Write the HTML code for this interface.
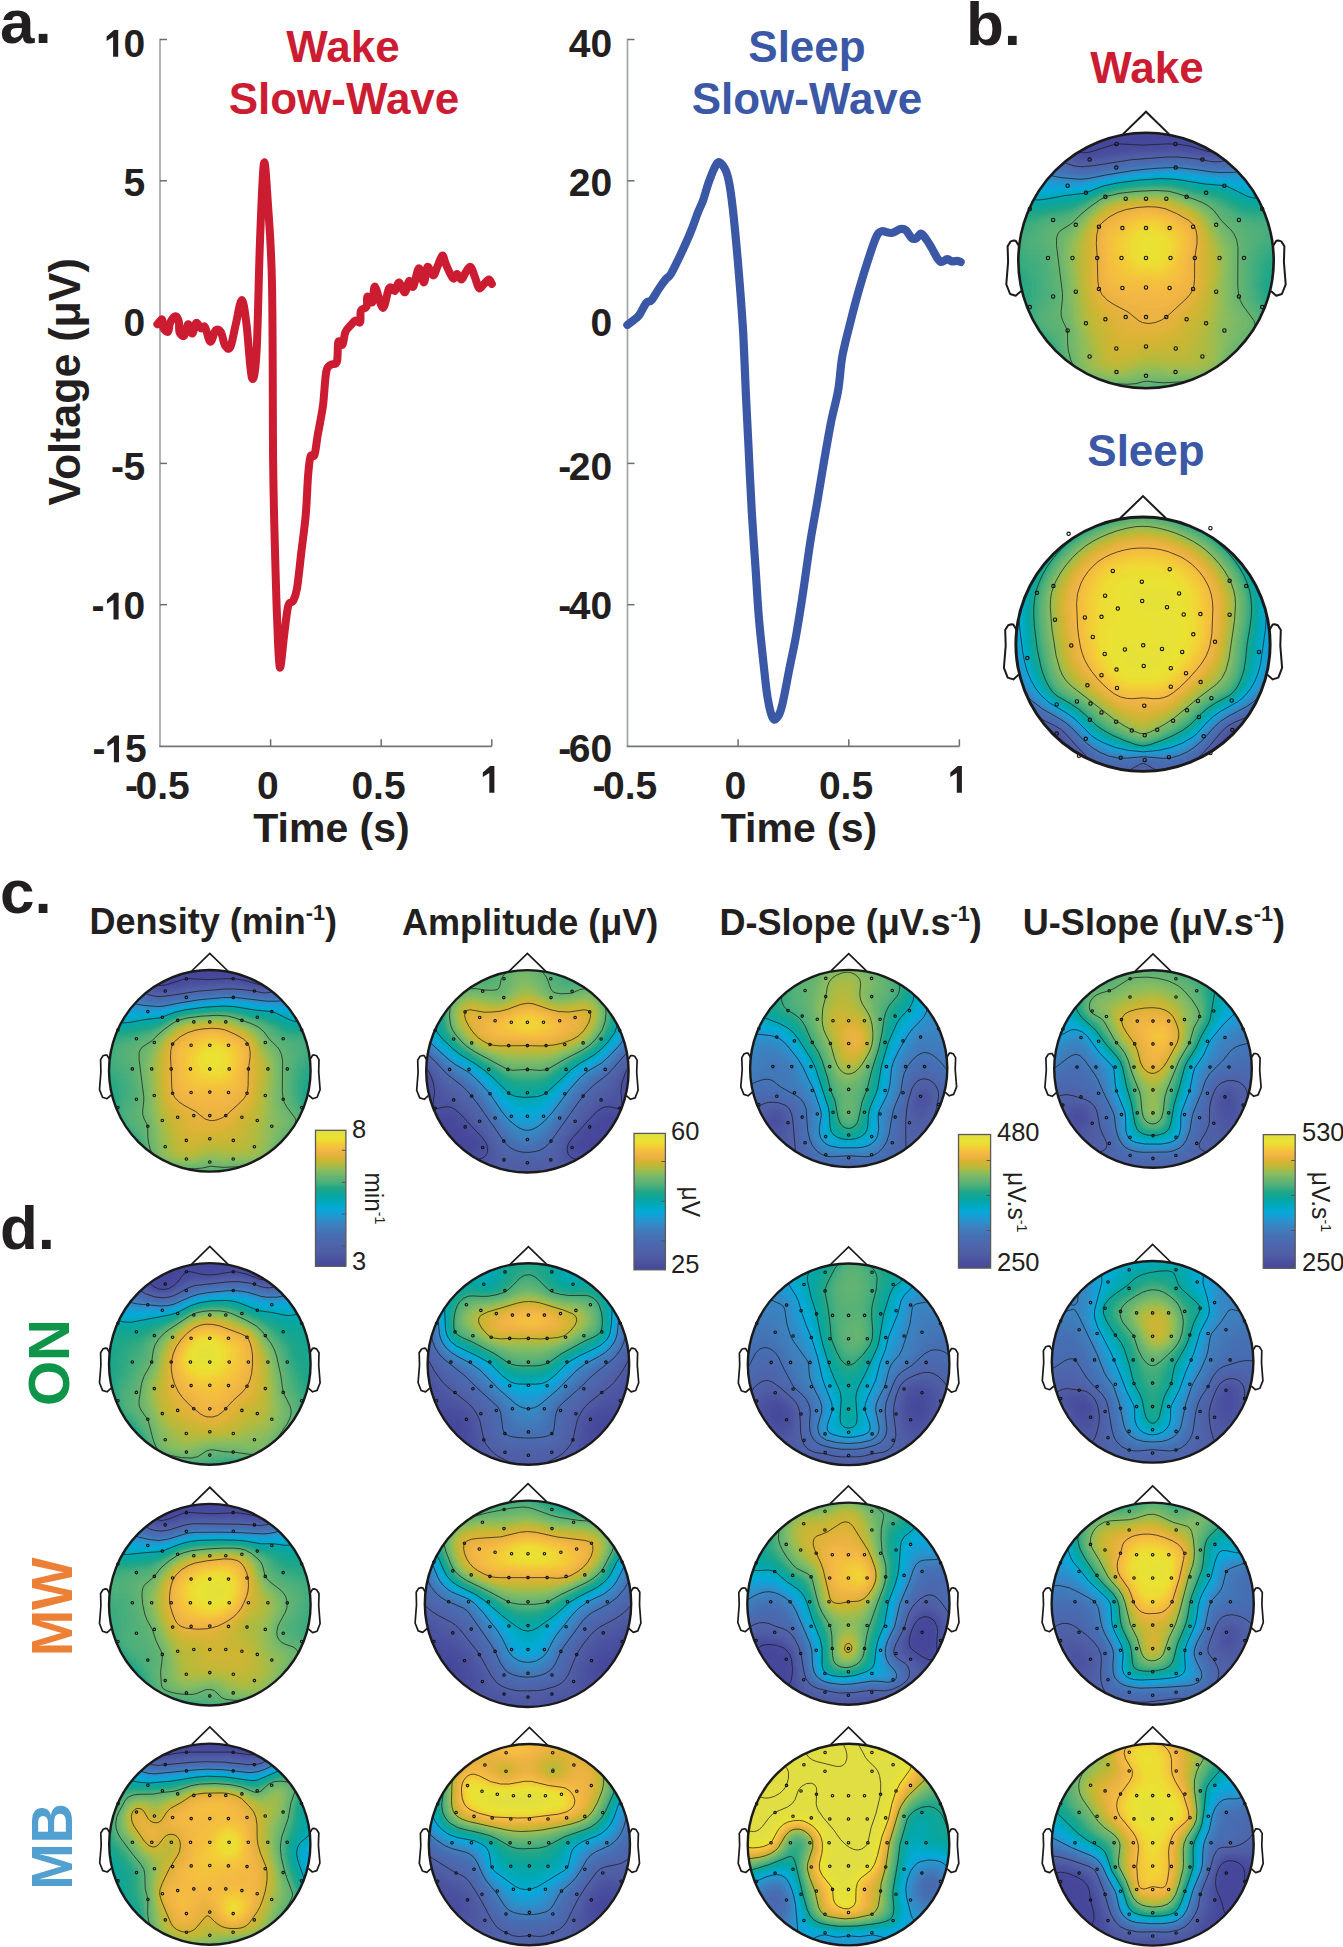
<!DOCTYPE html>
<html><head><meta charset="utf-8"><style>html,body{margin:0;padding:0;background:#fff;}svg{display:block;}text{font-family:"Liberation Sans",sans-serif;}</style></head>
<body><svg xmlns="http://www.w3.org/2000/svg" width="1343" height="1947" viewBox="0 0 1343 1947">
<defs><filter id="cm" x="-20%" y="-20%" width="140%" height="140%" color-interpolation-filters="sRGB">
<feGaussianBlur stdDeviation="4.2"/>
<feComponentTransfer><feFuncR type="table" tableValues="0.275 0.284 0.294 0.304 0.314 0.311 0.308 0.304 0.292 0.281 0.269 0.256 0.243 0.207 0.171 0.123 0.065 0.018 0.008 0.003 0.019 0.040 0.083 0.137 0.235 0.325 0.384 0.446 0.520 0.608 0.706 0.784 0.855 0.914 0.952 0.960 0.956 0.935 0.914 0.896 0.878"/><feFuncG type="table" tableValues="0.282 0.302 0.322 0.343 0.365 0.377 0.390 0.403 0.417 0.431 0.450 0.476 0.502 0.535 0.567 0.602 0.638 0.667 0.667 0.665 0.657 0.651 0.651 0.655 0.675 0.693 0.704 0.718 0.737 0.739 0.729 0.715 0.704 0.700 0.714 0.753 0.800 0.859 0.890 0.880 0.871"/><feFuncB type="table" tableValues="0.608 0.618 0.627 0.637 0.647 0.657 0.667 0.677 0.688 0.699 0.712 0.729 0.745 0.771 0.797 0.822 0.844 0.851 0.792 0.733 0.675 0.618 0.569 0.524 0.499 0.474 0.450 0.424 0.387 0.321 0.235 0.206 0.207 0.254 0.271 0.244 0.220 0.200 0.201 0.234 0.267"/><feFuncA type="identity"/></feComponentTransfer>
</filter>
<filter id="cm0" color-interpolation-filters="sRGB">
<feComponentTransfer><feFuncR type="table" tableValues="0.275 0.284 0.294 0.304 0.314 0.311 0.308 0.304 0.292 0.281 0.269 0.256 0.243 0.207 0.171 0.123 0.065 0.018 0.008 0.003 0.019 0.040 0.083 0.137 0.235 0.325 0.384 0.446 0.520 0.608 0.706 0.784 0.855 0.914 0.952 0.960 0.956 0.935 0.914 0.896 0.878"/><feFuncG type="table" tableValues="0.282 0.302 0.322 0.343 0.365 0.377 0.390 0.403 0.417 0.431 0.450 0.476 0.502 0.535 0.567 0.602 0.638 0.667 0.667 0.665 0.657 0.651 0.651 0.655 0.675 0.693 0.704 0.718 0.737 0.739 0.729 0.715 0.704 0.700 0.714 0.753 0.800 0.859 0.890 0.880 0.871"/><feFuncB type="table" tableValues="0.608 0.618 0.627 0.637 0.647 0.657 0.667 0.677 0.688 0.699 0.712 0.729 0.745 0.771 0.797 0.822 0.844 0.851 0.792 0.733 0.675 0.618 0.569 0.524 0.499 0.474 0.450 0.424 0.387 0.321 0.235 0.206 0.207 0.254 0.271 0.244 0.220 0.200 0.201 0.234 0.267"/></feComponentTransfer>
</filter><clipPath id="c1"><circle cx="1146" cy="260.5" r="127.70"/></clipPath><g id="e0"><circle cx="-29.5" cy="-116.5" r="1.7"/><circle cx="29.5" cy="-116.5" r="1.7"/><circle cx="-56.4" cy="-100.9" r="1.7"/><circle cx="-29.7" cy="-92.9" r="1.7"/><circle cx="29.7" cy="-92.9" r="1.7"/><circle cx="56.4" cy="-100.9" r="1.7"/><circle cx="-78.4" cy="-74.8" r="1.7"/><circle cx="-60.1" cy="-67.7" r="1.7"/><circle cx="-40.6" cy="-63.7" r="1.7"/><circle cx="-20.3" cy="-61.8" r="1.7"/><circle cx="0.0" cy="-61.8" r="1.7"/><circle cx="20.3" cy="-61.8" r="1.7"/><circle cx="40.6" cy="-63.7" r="1.7"/><circle cx="60.1" cy="-67.7" r="1.7"/><circle cx="78.4" cy="-74.8" r="1.7"/><circle cx="-116.2" cy="-51.5" r="1.7"/><circle cx="-92.9" cy="-40.6" r="1.7"/><circle cx="-70.2" cy="-35.7" r="1.7"/><circle cx="-47.1" cy="-33.8" r="1.7"/><circle cx="-23.6" cy="-32.4" r="1.7"/><circle cx="0.0" cy="-32.4" r="1.7"/><circle cx="23.6" cy="-32.4" r="1.7"/><circle cx="47.1" cy="-33.8" r="1.7"/><circle cx="70.2" cy="-35.7" r="1.7"/><circle cx="92.9" cy="-40.6" r="1.7"/><circle cx="116.2" cy="-51.5" r="1.7"/><circle cx="-98.0" cy="-2.5" r="1.7"/><circle cx="-73.5" cy="-2.5" r="1.7"/><circle cx="-48.8" cy="-2.5" r="1.7"/><circle cx="-24.5" cy="-2.5" r="1.7"/><circle cx="0.0" cy="-2.5" r="1.7"/><circle cx="24.5" cy="-2.5" r="1.7"/><circle cx="48.8" cy="-2.5" r="1.7"/><circle cx="73.5" cy="-2.5" r="1.7"/><circle cx="98.0" cy="-2.5" r="1.7"/><circle cx="-116.2" cy="46.6" r="1.7"/><circle cx="-92.9" cy="36.0" r="1.7"/><circle cx="-70.2" cy="31.2" r="1.7"/><circle cx="-47.1" cy="28.4" r="1.7"/><circle cx="-23.6" cy="27.5" r="1.7"/><circle cx="0.0" cy="27.0" r="1.7"/><circle cx="23.6" cy="27.5" r="1.7"/><circle cx="47.1" cy="28.4" r="1.7"/><circle cx="70.2" cy="31.2" r="1.7"/><circle cx="92.9" cy="36.0" r="1.7"/><circle cx="116.2" cy="46.6" r="1.7"/><circle cx="-78.4" cy="70.0" r="1.7"/><circle cx="-60.1" cy="62.8" r="1.7"/><circle cx="-40.6" cy="58.8" r="1.7"/><circle cx="-20.3" cy="56.6" r="1.7"/><circle cx="0.0" cy="56.6" r="1.7"/><circle cx="20.3" cy="56.6" r="1.7"/><circle cx="40.6" cy="58.8" r="1.7"/><circle cx="60.1" cy="62.8" r="1.7"/><circle cx="78.4" cy="70.0" r="1.7"/><circle cx="-56.4" cy="96.0" r="1.7"/><circle cx="-29.7" cy="88.0" r="1.7"/><circle cx="0.0" cy="85.9" r="1.7"/><circle cx="29.7" cy="88.0" r="1.7"/><circle cx="56.4" cy="96.0" r="1.7"/><circle cx="-29.5" cy="111.6" r="1.7"/><circle cx="0.0" cy="115.3" r="1.7"/><circle cx="29.5" cy="111.6" r="1.7"/></g><clipPath id="c2"><circle cx="1143.0" cy="644.2" r="127.15"/></clipPath><g id="e1"><circle cx="-74.4" cy="-110.4" r="1.7"/><circle cx="67.4" cy="-116.0" r="1.7"/><circle cx="-30.2" cy="-73.3" r="1.7"/><circle cx="26.7" cy="-75.0" r="1.7"/><circle cx="-1.2" cy="-62.5" r="1.7"/><circle cx="86.6" cy="-63.5" r="1.7"/><circle cx="103.2" cy="-58.1" r="1.7"/><circle cx="-89.6" cy="-58.1" r="1.7"/><circle cx="-106.1" cy="-51.4" r="1.7"/><circle cx="-37.9" cy="-48.5" r="1.7"/><circle cx="36.1" cy="-50.8" r="1.7"/><circle cx="-0.8" cy="-43.3" r="1.7"/><circle cx="-25.2" cy="-35.6" r="1.7"/><circle cx="24.0" cy="-37.0" r="1.7"/><circle cx="-58.1" cy="-26.8" r="1.7"/><circle cx="-41.5" cy="-27.4" r="1.7"/><circle cx="40.7" cy="-29.7" r="1.7"/><circle cx="57.4" cy="-30.1" r="1.7"/><circle cx="86.6" cy="-29.5" r="1.7"/><circle cx="-88.0" cy="-24.5" r="1.7"/><circle cx="-50.2" cy="-7.2" r="1.7"/><circle cx="50.3" cy="-9.9" r="1.7"/><circle cx="72.0" cy="-2.4" r="1.7"/><circle cx="-71.7" cy="1.3" r="1.7"/><circle cx="0.2" cy="1.1" r="1.7"/><circle cx="-18.1" cy="5.3" r="1.7"/><circle cx="19.0" cy="4.7" r="1.7"/><circle cx="-115.7" cy="13.9" r="1.7"/><circle cx="-38.3" cy="9.8" r="1.7"/><circle cx="39.2" cy="7.7" r="1.7"/><circle cx="116.0" cy="7.7" r="1.7"/><circle cx="0.7" cy="21.7" r="1.7"/><circle cx="-26.5" cy="25.4" r="1.7"/><circle cx="27.8" cy="24.0" r="1.7"/><circle cx="-41.5" cy="31.0" r="1.7"/><circle cx="43.0" cy="29.0" r="1.7"/><circle cx="-55.6" cy="41.1" r="1.7"/><circle cx="-26.0" cy="43.8" r="1.7"/><circle cx="27.8" cy="42.5" r="1.7"/><circle cx="57.6" cy="37.9" r="1.7"/><circle cx="-66.1" cy="57.3" r="1.7"/><circle cx="-52.5" cy="59.4" r="1.7"/><circle cx="-86.3" cy="60.2" r="1.7"/><circle cx="1.3" cy="61.5" r="1.7"/><circle cx="54.9" cy="56.7" r="1.7"/><circle cx="68.4" cy="54.0" r="1.7"/><circle cx="88.7" cy="56.3" r="1.7"/><circle cx="-41.5" cy="68.2" r="1.7"/><circle cx="44.0" cy="66.1" r="1.7"/><circle cx="-53.1" cy="75.5" r="1.7"/><circle cx="-26.9" cy="77.5" r="1.7"/><circle cx="30.1" cy="76.5" r="1.7"/><circle cx="55.9" cy="72.8" r="1.7"/><circle cx="-11.2" cy="86.3" r="1.7"/><circle cx="1.7" cy="91.1" r="1.7"/><circle cx="14.2" cy="85.5" r="1.7"/><circle cx="-86.3" cy="89.4" r="1.7"/><circle cx="-57.3" cy="94.6" r="1.7"/><circle cx="60.7" cy="92.1" r="1.7"/><circle cx="89.3" cy="85.9" r="1.7"/><circle cx="-22.3" cy="113.6" r="1.7"/><circle cx="1.7" cy="115.7" r="1.7"/><circle cx="25.9" cy="113.0" r="1.7"/><circle cx="-64.0" cy="111.5" r="1.7"/><circle cx="67.4" cy="108.8" r="1.7"/></g><linearGradient id="cbg" x1="0" y1="1" x2="0" y2="0"><stop offset="0" stop-color="#000"/><stop offset="1" stop-color="#fff"/></linearGradient><clipPath id="c3"><circle cx="209.8" cy="1070.8" r="100.80"/></clipPath><g id="e2"><circle cx="-23.4" cy="-92.1" r="1.25"/><circle cx="23.4" cy="-92.1" r="1.25"/><circle cx="-44.6" cy="-79.8" r="1.25"/><circle cx="-23.5" cy="-73.4" r="1.25"/><circle cx="23.5" cy="-73.4" r="1.25"/><circle cx="44.6" cy="-79.8" r="1.25"/><circle cx="-62.0" cy="-59.2" r="1.25"/><circle cx="-47.5" cy="-53.6" r="1.25"/><circle cx="-32.1" cy="-50.4" r="1.25"/><circle cx="-16.0" cy="-48.9" r="1.25"/><circle cx="0.0" cy="-48.9" r="1.25"/><circle cx="16.0" cy="-48.9" r="1.25"/><circle cx="32.1" cy="-50.4" r="1.25"/><circle cx="47.5" cy="-53.6" r="1.25"/><circle cx="62.0" cy="-59.2" r="1.25"/><circle cx="-91.9" cy="-40.7" r="1.25"/><circle cx="-73.4" cy="-32.1" r="1.25"/><circle cx="-55.5" cy="-28.3" r="1.25"/><circle cx="-37.2" cy="-26.7" r="1.25"/><circle cx="-18.7" cy="-25.6" r="1.25"/><circle cx="0.0" cy="-25.6" r="1.25"/><circle cx="18.7" cy="-25.6" r="1.25"/><circle cx="37.2" cy="-26.7" r="1.25"/><circle cx="55.5" cy="-28.3" r="1.25"/><circle cx="73.4" cy="-32.1" r="1.25"/><circle cx="91.9" cy="-40.7" r="1.25"/><circle cx="-77.5" cy="-1.9" r="1.25"/><circle cx="-58.1" cy="-1.9" r="1.25"/><circle cx="-38.6" cy="-1.9" r="1.25"/><circle cx="-19.4" cy="-1.9" r="1.25"/><circle cx="0.0" cy="-1.9" r="1.25"/><circle cx="19.4" cy="-1.9" r="1.25"/><circle cx="38.6" cy="-1.9" r="1.25"/><circle cx="58.1" cy="-1.9" r="1.25"/><circle cx="77.5" cy="-1.9" r="1.25"/><circle cx="-91.9" cy="36.8" r="1.25"/><circle cx="-73.4" cy="28.5" r="1.25"/><circle cx="-55.5" cy="24.7" r="1.25"/><circle cx="-37.2" cy="22.4" r="1.25"/><circle cx="-18.7" cy="21.7" r="1.25"/><circle cx="0.0" cy="21.3" r="1.25"/><circle cx="18.7" cy="21.7" r="1.25"/><circle cx="37.2" cy="22.4" r="1.25"/><circle cx="55.5" cy="24.7" r="1.25"/><circle cx="73.4" cy="28.5" r="1.25"/><circle cx="91.9" cy="36.8" r="1.25"/><circle cx="-62.0" cy="55.4" r="1.25"/><circle cx="-47.5" cy="49.7" r="1.25"/><circle cx="-32.1" cy="46.5" r="1.25"/><circle cx="-16.0" cy="44.8" r="1.25"/><circle cx="0.0" cy="44.8" r="1.25"/><circle cx="16.0" cy="44.8" r="1.25"/><circle cx="32.1" cy="46.5" r="1.25"/><circle cx="47.5" cy="49.7" r="1.25"/><circle cx="62.0" cy="55.4" r="1.25"/><circle cx="-44.6" cy="75.9" r="1.25"/><circle cx="-23.5" cy="69.6" r="1.25"/><circle cx="0.0" cy="67.9" r="1.25"/><circle cx="23.5" cy="69.6" r="1.25"/><circle cx="44.6" cy="75.9" r="1.25"/><circle cx="-23.4" cy="88.2" r="1.25"/><circle cx="0.0" cy="91.2" r="1.25"/><circle cx="23.4" cy="88.2" r="1.25"/></g><clipPath id="c4"><circle cx="527.4" cy="1071.3" r="101.20"/></clipPath><g id="e3"><circle cx="-23.4" cy="-92.5" r="1.25"/><circle cx="23.4" cy="-92.5" r="1.25"/><circle cx="-44.7" cy="-80.1" r="1.25"/><circle cx="-23.6" cy="-73.7" r="1.25"/><circle cx="23.6" cy="-73.7" r="1.25"/><circle cx="44.7" cy="-80.1" r="1.25"/><circle cx="-62.3" cy="-59.4" r="1.25"/><circle cx="-47.7" cy="-53.8" r="1.25"/><circle cx="-32.3" cy="-50.6" r="1.25"/><circle cx="-16.1" cy="-49.0" r="1.25"/><circle cx="0.0" cy="-49.0" r="1.25"/><circle cx="16.1" cy="-49.0" r="1.25"/><circle cx="32.3" cy="-50.6" r="1.25"/><circle cx="47.7" cy="-53.8" r="1.25"/><circle cx="62.3" cy="-59.4" r="1.25"/><circle cx="-92.3" cy="-40.9" r="1.25"/><circle cx="-73.7" cy="-32.3" r="1.25"/><circle cx="-55.7" cy="-28.4" r="1.25"/><circle cx="-37.4" cy="-26.8" r="1.25"/><circle cx="-18.7" cy="-25.7" r="1.25"/><circle cx="0.0" cy="-25.7" r="1.25"/><circle cx="18.7" cy="-25.7" r="1.25"/><circle cx="37.4" cy="-26.8" r="1.25"/><circle cx="55.7" cy="-28.4" r="1.25"/><circle cx="73.7" cy="-32.3" r="1.25"/><circle cx="92.3" cy="-40.9" r="1.25"/><circle cx="-77.8" cy="-1.9" r="1.25"/><circle cx="-58.4" cy="-1.9" r="1.25"/><circle cx="-38.7" cy="-1.9" r="1.25"/><circle cx="-19.5" cy="-1.9" r="1.25"/><circle cx="0.0" cy="-1.9" r="1.25"/><circle cx="19.5" cy="-1.9" r="1.25"/><circle cx="38.7" cy="-1.9" r="1.25"/><circle cx="58.4" cy="-1.9" r="1.25"/><circle cx="77.8" cy="-1.9" r="1.25"/><circle cx="-92.3" cy="37.0" r="1.25"/><circle cx="-73.7" cy="28.6" r="1.25"/><circle cx="-55.7" cy="24.8" r="1.25"/><circle cx="-37.4" cy="22.5" r="1.25"/><circle cx="-18.7" cy="21.8" r="1.25"/><circle cx="0.0" cy="21.4" r="1.25"/><circle cx="18.7" cy="21.8" r="1.25"/><circle cx="37.4" cy="22.5" r="1.25"/><circle cx="55.7" cy="24.8" r="1.25"/><circle cx="73.7" cy="28.6" r="1.25"/><circle cx="92.3" cy="37.0" r="1.25"/><circle cx="-62.3" cy="55.6" r="1.25"/><circle cx="-47.7" cy="49.9" r="1.25"/><circle cx="-32.3" cy="46.7" r="1.25"/><circle cx="-16.1" cy="45.0" r="1.25"/><circle cx="0.0" cy="45.0" r="1.25"/><circle cx="16.1" cy="45.0" r="1.25"/><circle cx="32.3" cy="46.7" r="1.25"/><circle cx="47.7" cy="49.9" r="1.25"/><circle cx="62.3" cy="55.6" r="1.25"/><circle cx="-44.7" cy="76.2" r="1.25"/><circle cx="-23.6" cy="69.8" r="1.25"/><circle cx="0.0" cy="68.2" r="1.25"/><circle cx="23.6" cy="69.8" r="1.25"/><circle cx="44.7" cy="76.2" r="1.25"/><circle cx="-23.4" cy="88.6" r="1.25"/><circle cx="0.0" cy="91.5" r="1.25"/><circle cx="23.4" cy="88.6" r="1.25"/></g><clipPath id="c5"><circle cx="848.7" cy="1068.5" r="98.60"/></clipPath><g id="e4"><circle cx="-22.9" cy="-90.1" r="1.25"/><circle cx="22.9" cy="-90.1" r="1.25"/><circle cx="-43.6" cy="-78.0" r="1.25"/><circle cx="-23.0" cy="-71.9" r="1.25"/><circle cx="23.0" cy="-71.9" r="1.25"/><circle cx="43.6" cy="-78.0" r="1.25"/><circle cx="-60.7" cy="-57.9" r="1.25"/><circle cx="-46.5" cy="-52.4" r="1.25"/><circle cx="-31.4" cy="-49.3" r="1.25"/><circle cx="-15.7" cy="-47.8" r="1.25"/><circle cx="0.0" cy="-47.8" r="1.25"/><circle cx="15.7" cy="-47.8" r="1.25"/><circle cx="31.4" cy="-49.3" r="1.25"/><circle cx="46.5" cy="-52.4" r="1.25"/><circle cx="60.7" cy="-57.9" r="1.25"/><circle cx="-89.9" cy="-39.8" r="1.25"/><circle cx="-71.9" cy="-31.4" r="1.25"/><circle cx="-54.3" cy="-27.6" r="1.25"/><circle cx="-36.4" cy="-26.1" r="1.25"/><circle cx="-18.3" cy="-25.0" r="1.25"/><circle cx="0.0" cy="-25.0" r="1.25"/><circle cx="18.3" cy="-25.0" r="1.25"/><circle cx="36.4" cy="-26.1" r="1.25"/><circle cx="54.3" cy="-27.6" r="1.25"/><circle cx="71.9" cy="-31.4" r="1.25"/><circle cx="89.9" cy="-39.8" r="1.25"/><circle cx="-75.8" cy="-1.9" r="1.25"/><circle cx="-56.9" cy="-1.9" r="1.25"/><circle cx="-37.7" cy="-1.9" r="1.25"/><circle cx="-19.0" cy="-1.9" r="1.25"/><circle cx="0.0" cy="-1.9" r="1.25"/><circle cx="19.0" cy="-1.9" r="1.25"/><circle cx="37.7" cy="-1.9" r="1.25"/><circle cx="56.9" cy="-1.9" r="1.25"/><circle cx="75.8" cy="-1.9" r="1.25"/><circle cx="-89.9" cy="36.0" r="1.25"/><circle cx="-71.9" cy="27.8" r="1.25"/><circle cx="-54.3" cy="24.2" r="1.25"/><circle cx="-36.4" cy="22.0" r="1.25"/><circle cx="-18.3" cy="21.3" r="1.25"/><circle cx="0.0" cy="20.9" r="1.25"/><circle cx="18.3" cy="21.3" r="1.25"/><circle cx="36.4" cy="22.0" r="1.25"/><circle cx="54.3" cy="24.2" r="1.25"/><circle cx="71.9" cy="27.8" r="1.25"/><circle cx="89.9" cy="36.0" r="1.25"/><circle cx="-60.7" cy="54.2" r="1.25"/><circle cx="-46.5" cy="48.6" r="1.25"/><circle cx="-31.4" cy="45.5" r="1.25"/><circle cx="-15.7" cy="43.8" r="1.25"/><circle cx="0.0" cy="43.8" r="1.25"/><circle cx="15.7" cy="43.8" r="1.25"/><circle cx="31.4" cy="45.5" r="1.25"/><circle cx="46.5" cy="48.6" r="1.25"/><circle cx="60.7" cy="54.2" r="1.25"/><circle cx="-43.6" cy="74.3" r="1.25"/><circle cx="-23.0" cy="68.1" r="1.25"/><circle cx="0.0" cy="66.5" r="1.25"/><circle cx="23.0" cy="68.1" r="1.25"/><circle cx="43.6" cy="74.3" r="1.25"/><circle cx="-22.9" cy="86.3" r="1.25"/><circle cx="0.0" cy="89.2" r="1.25"/><circle cx="22.9" cy="86.3" r="1.25"/></g><clipPath id="c6"><circle cx="1153.0" cy="1069.0" r="98.80"/></clipPath><g id="e5"><circle cx="-22.9" cy="-90.3" r="1.25"/><circle cx="22.9" cy="-90.3" r="1.25"/><circle cx="-43.7" cy="-78.2" r="1.25"/><circle cx="-23.0" cy="-72.0" r="1.25"/><circle cx="23.0" cy="-72.0" r="1.25"/><circle cx="43.7" cy="-78.2" r="1.25"/><circle cx="-60.8" cy="-58.0" r="1.25"/><circle cx="-46.6" cy="-52.5" r="1.25"/><circle cx="-31.5" cy="-49.4" r="1.25"/><circle cx="-15.7" cy="-47.9" r="1.25"/><circle cx="0.0" cy="-47.9" r="1.25"/><circle cx="15.7" cy="-47.9" r="1.25"/><circle cx="31.5" cy="-49.4" r="1.25"/><circle cx="46.6" cy="-52.5" r="1.25"/><circle cx="60.8" cy="-58.0" r="1.25"/><circle cx="-90.1" cy="-39.9" r="1.25"/><circle cx="-72.0" cy="-31.5" r="1.25"/><circle cx="-54.4" cy="-27.7" r="1.25"/><circle cx="-36.5" cy="-26.2" r="1.25"/><circle cx="-18.3" cy="-25.1" r="1.25"/><circle cx="0.0" cy="-25.1" r="1.25"/><circle cx="18.3" cy="-25.1" r="1.25"/><circle cx="36.5" cy="-26.2" r="1.25"/><circle cx="54.4" cy="-27.7" r="1.25"/><circle cx="72.0" cy="-31.5" r="1.25"/><circle cx="90.1" cy="-39.9" r="1.25"/><circle cx="-76.0" cy="-1.9" r="1.25"/><circle cx="-57.0" cy="-1.9" r="1.25"/><circle cx="-37.8" cy="-1.9" r="1.25"/><circle cx="-19.0" cy="-1.9" r="1.25"/><circle cx="0.0" cy="-1.9" r="1.25"/><circle cx="19.0" cy="-1.9" r="1.25"/><circle cx="37.8" cy="-1.9" r="1.25"/><circle cx="57.0" cy="-1.9" r="1.25"/><circle cx="76.0" cy="-1.9" r="1.25"/><circle cx="-90.1" cy="36.1" r="1.25"/><circle cx="-72.0" cy="27.9" r="1.25"/><circle cx="-54.4" cy="24.2" r="1.25"/><circle cx="-36.5" cy="22.0" r="1.25"/><circle cx="-18.3" cy="21.3" r="1.25"/><circle cx="0.0" cy="20.9" r="1.25"/><circle cx="18.3" cy="21.3" r="1.25"/><circle cx="36.5" cy="22.0" r="1.25"/><circle cx="54.4" cy="24.2" r="1.25"/><circle cx="72.0" cy="27.9" r="1.25"/><circle cx="90.1" cy="36.1" r="1.25"/><circle cx="-60.8" cy="54.3" r="1.25"/><circle cx="-46.6" cy="48.7" r="1.25"/><circle cx="-31.5" cy="45.6" r="1.25"/><circle cx="-15.7" cy="43.9" r="1.25"/><circle cx="0.0" cy="43.9" r="1.25"/><circle cx="15.7" cy="43.9" r="1.25"/><circle cx="31.5" cy="45.6" r="1.25"/><circle cx="46.6" cy="48.7" r="1.25"/><circle cx="60.8" cy="54.3" r="1.25"/><circle cx="-43.7" cy="74.4" r="1.25"/><circle cx="-23.0" cy="68.2" r="1.25"/><circle cx="0.0" cy="66.6" r="1.25"/><circle cx="23.0" cy="68.2" r="1.25"/><circle cx="43.7" cy="74.4" r="1.25"/><circle cx="-22.9" cy="86.5" r="1.25"/><circle cx="0.0" cy="89.4" r="1.25"/><circle cx="22.9" cy="86.5" r="1.25"/></g><clipPath id="c7"><circle cx="209.8" cy="1363.9" r="100.80"/></clipPath><clipPath id="c8"><circle cx="528.4" cy="1364.0" r="100.80"/></clipPath><clipPath id="c9"><circle cx="848.6" cy="1364.3" r="100.80"/></clipPath><clipPath id="c10"><circle cx="1152.6" cy="1361.8" r="100.80"/></clipPath><clipPath id="c11"><circle cx="209.8" cy="1604.7" r="100.80"/></clipPath><clipPath id="c12"><circle cx="528.0" cy="1603.8" r="103.20"/></clipPath><g id="e6"><circle cx="-23.9" cy="-94.3" r="1.25"/><circle cx="23.9" cy="-94.3" r="1.25"/><circle cx="-45.6" cy="-81.6" r="1.25"/><circle cx="-24.0" cy="-75.2" r="1.25"/><circle cx="24.0" cy="-75.2" r="1.25"/><circle cx="45.6" cy="-81.6" r="1.25"/><circle cx="-63.5" cy="-60.6" r="1.25"/><circle cx="-48.7" cy="-54.8" r="1.25"/><circle cx="-32.9" cy="-51.6" r="1.25"/><circle cx="-16.4" cy="-50.0" r="1.25"/><circle cx="0.0" cy="-50.0" r="1.25"/><circle cx="16.4" cy="-50.0" r="1.25"/><circle cx="32.9" cy="-51.6" r="1.25"/><circle cx="48.7" cy="-54.8" r="1.25"/><circle cx="63.5" cy="-60.6" r="1.25"/><circle cx="-94.1" cy="-41.7" r="1.25"/><circle cx="-75.2" cy="-32.9" r="1.25"/><circle cx="-56.8" cy="-28.9" r="1.25"/><circle cx="-38.1" cy="-27.4" r="1.25"/><circle cx="-19.1" cy="-26.2" r="1.25"/><circle cx="0.0" cy="-26.2" r="1.25"/><circle cx="19.1" cy="-26.2" r="1.25"/><circle cx="38.1" cy="-27.4" r="1.25"/><circle cx="56.8" cy="-28.9" r="1.25"/><circle cx="75.2" cy="-32.9" r="1.25"/><circle cx="94.1" cy="-41.7" r="1.25"/><circle cx="-79.3" cy="-2.0" r="1.25"/><circle cx="-59.5" cy="-2.0" r="1.25"/><circle cx="-39.5" cy="-2.0" r="1.25"/><circle cx="-19.8" cy="-2.0" r="1.25"/><circle cx="0.0" cy="-2.0" r="1.25"/><circle cx="19.8" cy="-2.0" r="1.25"/><circle cx="39.5" cy="-2.0" r="1.25"/><circle cx="59.5" cy="-2.0" r="1.25"/><circle cx="79.3" cy="-2.0" r="1.25"/><circle cx="-94.1" cy="37.7" r="1.25"/><circle cx="-75.2" cy="29.1" r="1.25"/><circle cx="-56.8" cy="25.3" r="1.25"/><circle cx="-38.1" cy="23.0" r="1.25"/><circle cx="-19.1" cy="22.2" r="1.25"/><circle cx="0.0" cy="21.8" r="1.25"/><circle cx="19.1" cy="22.2" r="1.25"/><circle cx="38.1" cy="23.0" r="1.25"/><circle cx="56.8" cy="25.3" r="1.25"/><circle cx="75.2" cy="29.1" r="1.25"/><circle cx="94.1" cy="37.7" r="1.25"/><circle cx="-63.5" cy="56.7" r="1.25"/><circle cx="-48.7" cy="50.8" r="1.25"/><circle cx="-32.9" cy="47.6" r="1.25"/><circle cx="-16.4" cy="45.8" r="1.25"/><circle cx="0.0" cy="45.8" r="1.25"/><circle cx="16.4" cy="45.8" r="1.25"/><circle cx="32.9" cy="47.6" r="1.25"/><circle cx="48.7" cy="50.8" r="1.25"/><circle cx="63.5" cy="56.7" r="1.25"/><circle cx="-45.6" cy="77.7" r="1.25"/><circle cx="-24.0" cy="71.2" r="1.25"/><circle cx="0.0" cy="69.5" r="1.25"/><circle cx="24.0" cy="71.2" r="1.25"/><circle cx="45.6" cy="77.7" r="1.25"/><circle cx="-23.9" cy="90.3" r="1.25"/><circle cx="0.0" cy="93.3" r="1.25"/><circle cx="23.9" cy="90.3" r="1.25"/></g><clipPath id="c13"><circle cx="848.4" cy="1603.7" r="101.10"/></clipPath><g id="e7"><circle cx="-23.4" cy="-92.4" r="1.25"/><circle cx="23.4" cy="-92.4" r="1.25"/><circle cx="-44.7" cy="-80.0" r="1.25"/><circle cx="-23.5" cy="-73.7" r="1.25"/><circle cx="23.5" cy="-73.7" r="1.25"/><circle cx="44.7" cy="-80.0" r="1.25"/><circle cx="-62.2" cy="-59.3" r="1.25"/><circle cx="-47.7" cy="-53.7" r="1.25"/><circle cx="-32.2" cy="-50.5" r="1.25"/><circle cx="-16.1" cy="-49.0" r="1.25"/><circle cx="0.0" cy="-49.0" r="1.25"/><circle cx="16.1" cy="-49.0" r="1.25"/><circle cx="32.2" cy="-50.5" r="1.25"/><circle cx="47.7" cy="-53.7" r="1.25"/><circle cx="62.2" cy="-59.3" r="1.25"/><circle cx="-92.2" cy="-40.8" r="1.25"/><circle cx="-73.7" cy="-32.2" r="1.25"/><circle cx="-55.7" cy="-28.3" r="1.25"/><circle cx="-37.3" cy="-26.8" r="1.25"/><circle cx="-18.7" cy="-25.7" r="1.25"/><circle cx="0.0" cy="-25.7" r="1.25"/><circle cx="18.7" cy="-25.7" r="1.25"/><circle cx="37.3" cy="-26.8" r="1.25"/><circle cx="55.7" cy="-28.3" r="1.25"/><circle cx="73.7" cy="-32.2" r="1.25"/><circle cx="92.2" cy="-40.8" r="1.25"/><circle cx="-77.7" cy="-1.9" r="1.25"/><circle cx="-58.3" cy="-1.9" r="1.25"/><circle cx="-38.7" cy="-1.9" r="1.25"/><circle cx="-19.4" cy="-1.9" r="1.25"/><circle cx="0.0" cy="-1.9" r="1.25"/><circle cx="19.4" cy="-1.9" r="1.25"/><circle cx="38.7" cy="-1.9" r="1.25"/><circle cx="58.3" cy="-1.9" r="1.25"/><circle cx="77.7" cy="-1.9" r="1.25"/><circle cx="-92.2" cy="36.9" r="1.25"/><circle cx="-73.7" cy="28.5" r="1.25"/><circle cx="-55.7" cy="24.8" r="1.25"/><circle cx="-37.3" cy="22.5" r="1.25"/><circle cx="-18.7" cy="21.8" r="1.25"/><circle cx="0.0" cy="21.4" r="1.25"/><circle cx="18.7" cy="21.8" r="1.25"/><circle cx="37.3" cy="22.5" r="1.25"/><circle cx="55.7" cy="24.8" r="1.25"/><circle cx="73.7" cy="28.5" r="1.25"/><circle cx="92.2" cy="36.9" r="1.25"/><circle cx="-62.2" cy="55.5" r="1.25"/><circle cx="-47.7" cy="49.8" r="1.25"/><circle cx="-32.2" cy="46.6" r="1.25"/><circle cx="-16.1" cy="44.9" r="1.25"/><circle cx="0.0" cy="44.9" r="1.25"/><circle cx="16.1" cy="44.9" r="1.25"/><circle cx="32.2" cy="46.6" r="1.25"/><circle cx="47.7" cy="49.8" r="1.25"/><circle cx="62.2" cy="55.5" r="1.25"/><circle cx="-44.7" cy="76.1" r="1.25"/><circle cx="-23.5" cy="69.8" r="1.25"/><circle cx="0.0" cy="68.1" r="1.25"/><circle cx="23.5" cy="69.8" r="1.25"/><circle cx="44.7" cy="76.1" r="1.25"/><circle cx="-23.4" cy="88.5" r="1.25"/><circle cx="0.0" cy="91.5" r="1.25"/><circle cx="23.4" cy="88.5" r="1.25"/></g><clipPath id="c14"><circle cx="1152.7" cy="1603.7" r="101.10"/></clipPath><clipPath id="c15"><circle cx="209.8" cy="1844.2" r="100.60"/></clipPath><g id="e8"><circle cx="-23.3" cy="-91.9" r="1.25"/><circle cx="23.3" cy="-91.9" r="1.25"/><circle cx="-44.5" cy="-79.6" r="1.25"/><circle cx="-23.4" cy="-73.3" r="1.25"/><circle cx="23.4" cy="-73.3" r="1.25"/><circle cx="44.5" cy="-79.6" r="1.25"/><circle cx="-61.9" cy="-59.0" r="1.25"/><circle cx="-47.4" cy="-53.4" r="1.25"/><circle cx="-32.1" cy="-50.3" r="1.25"/><circle cx="-16.0" cy="-48.8" r="1.25"/><circle cx="0.0" cy="-48.8" r="1.25"/><circle cx="16.0" cy="-48.8" r="1.25"/><circle cx="32.1" cy="-50.3" r="1.25"/><circle cx="47.4" cy="-53.4" r="1.25"/><circle cx="61.9" cy="-59.0" r="1.25"/><circle cx="-91.7" cy="-40.6" r="1.25"/><circle cx="-73.3" cy="-32.1" r="1.25"/><circle cx="-55.4" cy="-28.2" r="1.25"/><circle cx="-37.2" cy="-26.7" r="1.25"/><circle cx="-18.6" cy="-25.6" r="1.25"/><circle cx="0.0" cy="-25.6" r="1.25"/><circle cx="18.6" cy="-25.6" r="1.25"/><circle cx="37.2" cy="-26.7" r="1.25"/><circle cx="55.4" cy="-28.2" r="1.25"/><circle cx="73.3" cy="-32.1" r="1.25"/><circle cx="91.7" cy="-40.6" r="1.25"/><circle cx="-77.4" cy="-1.9" r="1.25"/><circle cx="-58.0" cy="-1.9" r="1.25"/><circle cx="-38.5" cy="-1.9" r="1.25"/><circle cx="-19.3" cy="-1.9" r="1.25"/><circle cx="0.0" cy="-1.9" r="1.25"/><circle cx="19.3" cy="-1.9" r="1.25"/><circle cx="38.5" cy="-1.9" r="1.25"/><circle cx="58.0" cy="-1.9" r="1.25"/><circle cx="77.4" cy="-1.9" r="1.25"/><circle cx="-91.7" cy="36.7" r="1.25"/><circle cx="-73.3" cy="28.4" r="1.25"/><circle cx="-55.4" cy="24.6" r="1.25"/><circle cx="-37.2" cy="22.4" r="1.25"/><circle cx="-18.6" cy="21.7" r="1.25"/><circle cx="0.0" cy="21.3" r="1.25"/><circle cx="18.6" cy="21.7" r="1.25"/><circle cx="37.2" cy="22.4" r="1.25"/><circle cx="55.4" cy="24.6" r="1.25"/><circle cx="73.3" cy="28.4" r="1.25"/><circle cx="91.7" cy="36.7" r="1.25"/><circle cx="-61.9" cy="55.3" r="1.25"/><circle cx="-47.4" cy="49.6" r="1.25"/><circle cx="-32.1" cy="46.4" r="1.25"/><circle cx="-16.0" cy="44.7" r="1.25"/><circle cx="0.0" cy="44.7" r="1.25"/><circle cx="16.0" cy="44.7" r="1.25"/><circle cx="32.1" cy="46.4" r="1.25"/><circle cx="47.4" cy="49.6" r="1.25"/><circle cx="61.9" cy="55.3" r="1.25"/><circle cx="-44.5" cy="75.7" r="1.25"/><circle cx="-23.4" cy="69.4" r="1.25"/><circle cx="0.0" cy="67.8" r="1.25"/><circle cx="23.4" cy="69.4" r="1.25"/><circle cx="44.5" cy="75.7" r="1.25"/><circle cx="-23.3" cy="88.1" r="1.25"/><circle cx="0.0" cy="91.0" r="1.25"/><circle cx="23.3" cy="88.1" r="1.25"/></g><clipPath id="c16"><circle cx="529.4" cy="1844.6" r="100.60"/></clipPath><clipPath id="c17"><circle cx="848.5" cy="1844.6" r="100.80"/></clipPath><clipPath id="c18"><circle cx="1152.7" cy="1844.6" r="101.00"/></clipPath><g id="e9"><circle cx="-23.4" cy="-92.3" r="1.25"/><circle cx="23.4" cy="-92.3" r="1.25"/><circle cx="-44.7" cy="-79.9" r="1.25"/><circle cx="-23.5" cy="-73.6" r="1.25"/><circle cx="23.5" cy="-73.6" r="1.25"/><circle cx="44.7" cy="-79.9" r="1.25"/><circle cx="-62.1" cy="-59.3" r="1.25"/><circle cx="-47.6" cy="-53.7" r="1.25"/><circle cx="-32.2" cy="-50.5" r="1.25"/><circle cx="-16.0" cy="-49.0" r="1.25"/><circle cx="0.0" cy="-49.0" r="1.25"/><circle cx="16.0" cy="-49.0" r="1.25"/><circle cx="32.2" cy="-50.5" r="1.25"/><circle cx="47.6" cy="-53.7" r="1.25"/><circle cx="62.1" cy="-59.3" r="1.25"/><circle cx="-92.1" cy="-40.8" r="1.25"/><circle cx="-73.6" cy="-32.2" r="1.25"/><circle cx="-55.6" cy="-28.3" r="1.25"/><circle cx="-37.3" cy="-26.8" r="1.25"/><circle cx="-18.7" cy="-25.7" r="1.25"/><circle cx="0.0" cy="-25.7" r="1.25"/><circle cx="18.7" cy="-25.7" r="1.25"/><circle cx="37.3" cy="-26.8" r="1.25"/><circle cx="55.6" cy="-28.3" r="1.25"/><circle cx="73.6" cy="-32.2" r="1.25"/><circle cx="92.1" cy="-40.8" r="1.25"/><circle cx="-77.7" cy="-1.9" r="1.25"/><circle cx="-58.3" cy="-1.9" r="1.25"/><circle cx="-38.6" cy="-1.9" r="1.25"/><circle cx="-19.4" cy="-1.9" r="1.25"/><circle cx="0.0" cy="-1.9" r="1.25"/><circle cx="19.4" cy="-1.9" r="1.25"/><circle cx="38.6" cy="-1.9" r="1.25"/><circle cx="58.3" cy="-1.9" r="1.25"/><circle cx="77.7" cy="-1.9" r="1.25"/><circle cx="-92.1" cy="36.9" r="1.25"/><circle cx="-73.6" cy="28.5" r="1.25"/><circle cx="-55.6" cy="24.7" r="1.25"/><circle cx="-37.3" cy="22.5" r="1.25"/><circle cx="-18.7" cy="21.8" r="1.25"/><circle cx="0.0" cy="21.4" r="1.25"/><circle cx="18.7" cy="21.8" r="1.25"/><circle cx="37.3" cy="22.5" r="1.25"/><circle cx="55.6" cy="24.7" r="1.25"/><circle cx="73.6" cy="28.5" r="1.25"/><circle cx="92.1" cy="36.9" r="1.25"/><circle cx="-62.1" cy="55.5" r="1.25"/><circle cx="-47.6" cy="49.8" r="1.25"/><circle cx="-32.2" cy="46.6" r="1.25"/><circle cx="-16.0" cy="44.9" r="1.25"/><circle cx="0.0" cy="44.9" r="1.25"/><circle cx="16.0" cy="44.9" r="1.25"/><circle cx="32.2" cy="46.6" r="1.25"/><circle cx="47.6" cy="49.8" r="1.25"/><circle cx="62.1" cy="55.5" r="1.25"/><circle cx="-44.7" cy="76.0" r="1.25"/><circle cx="-23.5" cy="69.7" r="1.25"/><circle cx="0.0" cy="68.1" r="1.25"/><circle cx="23.5" cy="69.7" r="1.25"/><circle cx="44.7" cy="76.0" r="1.25"/><circle cx="-23.4" cy="88.4" r="1.25"/><circle cx="0.0" cy="91.4" r="1.25"/><circle cx="23.4" cy="88.4" r="1.25"/></g></defs>
<rect width="1343" height="1947" fill="#fff"/>
<path d="M160,38.7V746.3" fill="none" stroke="#a2a4a7" stroke-width="1.7"/>
<path d="M159.2,746.3H491.8" fill="none" stroke="#72767a" stroke-width="1.7"/>
<path d="M160,39.5h7" stroke="#6a6e72" stroke-width="1.5"/>
<path d="M160,180.8h7" stroke="#6a6e72" stroke-width="1.5"/>
<path d="M160,322.1h7" stroke="#6a6e72" stroke-width="1.5"/>
<path d="M160,463.4h7" stroke="#6a6e72" stroke-width="1.5"/>
<path d="M160,604.7h7" stroke="#6a6e72" stroke-width="1.5"/>
<path d="M270.6,746.3v-7" stroke="#6a6e72" stroke-width="1.5"/>
<path d="M381.2,746.3v-7" stroke="#6a6e72" stroke-width="1.5"/>
<path d="M491.8,746.3v-7" stroke="#6a6e72" stroke-width="1.5"/>
<path d="M627.5,38.7V746.3" fill="none" stroke="#a2a4a7" stroke-width="1.7"/>
<path d="M626.7,746.3H959.4" fill="none" stroke="#72767a" stroke-width="1.7"/>
<path d="M627.5,39.5h7" stroke="#6a6e72" stroke-width="1.5"/>
<path d="M627.5,180.8h7" stroke="#6a6e72" stroke-width="1.5"/>
<path d="M627.5,322.1h7" stroke="#6a6e72" stroke-width="1.5"/>
<path d="M627.5,463.4h7" stroke="#6a6e72" stroke-width="1.5"/>
<path d="M627.5,604.7h7" stroke="#6a6e72" stroke-width="1.5"/>
<path d="M738.1,746.3v-7" stroke="#6a6e72" stroke-width="1.5"/>
<path d="M848.8,746.3v-7" stroke="#6a6e72" stroke-width="1.5"/>
<path d="M959.4,746.3v-7" stroke="#6a6e72" stroke-width="1.5"/>
<text x="0" y="43" font-size="62" font-weight="bold" fill="#231f20" text-anchor="start" >a.</text>
<text x="145.3" y="56.5" font-size="39" font-weight="bold" fill="#231f20" text-anchor="end" >0</text>
<path d="M118.2,30.0 L118.2,56.8 L113.1,56.8 L113.1,36.9 L106.6,41.0 L106.6,36.6 L114.0,30.0Z" fill="#231f20"/>
<text x="145.3" y="196.4" font-size="39" font-weight="bold" fill="#231f20" text-anchor="end" >5</text>
<text x="145.3" y="336.1" font-size="39" font-weight="bold" fill="#231f20" text-anchor="end" >0</text>
<text x="145.3" y="480.3" font-size="39" font-weight="bold" fill="#231f20" text-anchor="end" >5</text>
<text x="124.0" y="480.3" font-size="39" font-weight="bold" fill="#231f20" text-anchor="end" >-</text>
<text x="145.3" y="619.3000000000001" font-size="39" font-weight="bold" fill="#231f20" text-anchor="end" >0</text>
<path d="M118.6,592.8 L118.6,619.6 L113.5,619.6 L113.5,599.7 L107.0,603.8 L107.0,599.4 L114.4,592.8Z" fill="#231f20"/>
<text x="104.6" y="619.3000000000001" font-size="39" font-weight="bold" fill="#231f20" text-anchor="end" >-</text>
<text x="146.6" y="761.9" font-size="39" font-weight="bold" fill="#231f20" text-anchor="end" >5</text>
<path d="M119.0,735.4 L119.0,762.2 L113.9,762.2 L113.9,742.3 L107.4,746.4 L107.4,742.0 L114.8,735.4Z" fill="#231f20"/>
<text x="105.4" y="761.9" font-size="39" font-weight="bold" fill="#231f20" text-anchor="end" >-</text>
<text x="612.2" y="56.5" font-size="39" font-weight="bold" fill="#231f20" text-anchor="end" >40</text>
<text x="612.2" y="196.4" font-size="39" font-weight="bold" fill="#231f20" text-anchor="end" >20</text>
<text x="612.2" y="336.1" font-size="39" font-weight="bold" fill="#231f20" text-anchor="end" >0</text>
<text x="612.2" y="480.3" font-size="39" font-weight="bold" fill="#231f20" text-anchor="end" >-<tspan dx="-2.4">20</tspan></text>
<text x="612.2" y="619.3000000000001" font-size="39" font-weight="bold" fill="#231f20" text-anchor="end" >-<tspan dx="-2.4">40</tspan></text>
<text x="612.2" y="761.9" font-size="39" font-weight="bold" fill="#231f20" text-anchor="end" >-<tspan dx="-2.4">60</tspan></text>
<text x="157.3" y="799" font-size="39" font-weight="bold" fill="#231f20" text-anchor="middle" >-<tspan dx="-2.4">0.5</tspan></text>
<text x="267.9" y="799" font-size="39" font-weight="bold" fill="#231f20" text-anchor="middle" >0</text>
<text x="378.5" y="799" font-size="39" font-weight="bold" fill="#231f20" text-anchor="middle" >0.5</text>
<path d="M494.4,766.0 L494.4,792.8 L489.3,792.8 L489.3,772.9 L482.8,777.0 L482.8,772.6 L490.2,766.0Z" fill="#231f20"/>
<text x="331.5" y="842" font-size="41" font-weight="bold" fill="#231f20" text-anchor="middle" >Time (s)</text>
<text x="624.8" y="799" font-size="39" font-weight="bold" fill="#231f20" text-anchor="middle" >-<tspan dx="-2.4">0.5</tspan></text>
<text x="735.4" y="799" font-size="39" font-weight="bold" fill="#231f20" text-anchor="middle" >0</text>
<text x="846.0" y="799" font-size="39" font-weight="bold" fill="#231f20" text-anchor="middle" >0.5</text>
<path d="M961.9,766.0 L961.9,792.8 L956.8,792.8 L956.8,772.9 L950.3,777.0 L950.3,772.6 L957.7,766.0Z" fill="#231f20"/>
<text x="799.0" y="842" font-size="41" font-weight="bold" fill="#231f20" text-anchor="middle" >Time (s)</text>
<text x="343" y="62" font-size="44" font-weight="bold" fill="#cc1c32" text-anchor="middle" >Wake</text>
<text x="344" y="114" font-size="44" font-weight="bold" fill="#cc1c32" text-anchor="middle" >Slow-Wave</text>
<text x="807" y="62" font-size="44" font-weight="bold" fill="#3b58a6" text-anchor="middle" >Sleep</text>
<text x="807" y="114" font-size="44" font-weight="bold" fill="#3b58a6" text-anchor="middle" >Slow-Wave</text>
<text transform="translate(80,381.9) rotate(-90) scale(0.985,1)" font-size="43.6" font-weight="bold" fill="#231f20" text-anchor="middle">Voltage (μV)</text>
<path d="M157.4,324.2C158.2,323.4 161.1,318.8 162.1,319.5C163.1,320.2 162.4,326.3 163.4,328.3C164.4,330.3 167.0,332.5 168.1,331.6C169.2,330.7 168.9,325.5 170.1,322.9C171.3,320.3 174.1,316.4 175.5,316.2C176.9,316.0 178.1,318.9 178.8,321.6C179.5,324.3 178.6,330.0 179.5,332.3C180.4,334.6 182.8,337.0 184.2,335.6C185.6,334.2 186.9,324.5 188.2,324.2C189.5,323.9 190.9,333.8 192.2,333.6C193.5,333.4 194.8,323.8 196.2,322.9C197.6,322.0 199.4,327.6 200.9,328.3C202.4,329.0 203.4,324.8 205.0,327.0C206.6,329.2 208.5,341.1 210.3,341.7C212.1,342.2 213.9,331.9 215.7,330.3C217.5,328.7 219.4,329.7 221.0,332.3C222.6,334.9 223.5,343.2 225.1,345.7C226.7,348.1 228.6,350.6 230.4,347.0C232.2,343.4 233.9,332.0 235.8,324.2C237.7,316.4 240.0,300.1 241.8,300.1C243.6,300.1 244.8,311.2 246.5,324.2C248.2,337.1 250.2,373.3 251.9,377.8C253.6,382.3 255.3,373.3 256.6,351.0C257.9,328.7 258.7,275.1 259.9,243.8C261.1,212.5 262.6,170.1 263.9,163.4C265.2,156.7 266.5,183.5 267.9,203.6C269.2,223.7 271.1,241.3 272.0,284.0C272.9,326.7 272.7,417.1 273.1,459.6C273.6,502.1 274.0,512.7 274.7,539.2C275.4,565.7 276.2,597.3 277.1,618.7C278.0,640.1 278.6,664.8 279.8,667.5C281.0,670.2 282.8,645.0 284.2,634.7C285.6,624.5 286.7,611.6 288.2,606.0C289.7,600.4 291.5,604.1 293.0,601.2C294.5,598.3 295.7,596.2 297.0,588.5C298.3,580.8 299.6,567.2 301.0,555.0C302.4,542.8 304.5,528.5 305.7,515.3C306.9,502.0 307.3,485.3 308.1,475.5C308.9,465.7 309.4,459.8 310.5,456.4C311.6,452.9 313.3,458.2 314.5,454.8C315.7,451.4 316.7,441.0 317.6,435.7C318.5,430.4 319.1,428.3 320.0,423.0C320.9,417.7 322.1,412.5 323.2,403.9C324.2,395.3 325.0,378.2 326.3,371.6C327.6,365.0 329.4,366.1 331.2,364.5C333.0,362.9 335.7,365.5 336.9,361.7C338.1,357.9 337.4,344.7 338.3,341.9C339.2,339.1 341.3,346.3 342.5,344.7C343.7,343.1 344.0,335.3 345.4,332.0C346.8,328.7 349.4,326.8 351.0,324.9C352.6,323.0 353.8,321.1 355.3,320.6C356.8,320.1 359.3,323.8 360.2,322.1C361.1,320.5 359.8,313.3 360.9,310.7C362.0,308.1 365.5,308.9 366.6,306.5C367.7,304.1 366.4,297.3 367.3,296.6C368.2,295.9 371.0,304.0 372.3,302.3C373.6,300.6 373.3,285.8 375.1,286.7C376.9,287.6 380.5,307.7 382.9,307.9C385.2,308.1 387.2,290.9 389.2,288.1C391.2,285.3 393.2,291.8 394.9,290.9C396.5,289.9 397.5,282.2 399.1,282.4C400.8,282.6 403.2,292.5 404.8,292.3C406.4,292.1 407.6,281.9 409.0,281.0C410.4,280.1 411.7,288.8 413.3,286.7C414.9,284.6 417.1,269.0 418.9,268.3C420.7,267.6 422.5,282.6 423.9,282.4C425.3,282.2 425.9,268.1 427.4,266.9C428.9,265.7 431.5,275.4 433.1,275.4C434.8,275.4 435.8,270.2 437.3,266.9C438.8,263.6 440.9,256.1 442.3,255.6C443.7,255.1 444.0,260.3 445.8,264.1C447.6,267.9 451.0,276.6 452.9,278.2C454.8,279.8 455.7,273.8 457.1,274.0C458.5,274.2 460.0,279.9 461.4,279.6C462.8,279.4 464.1,274.6 465.6,272.5C467.1,270.4 469.1,266.2 470.6,266.9C472.1,267.6 473.4,273.3 474.8,276.8C476.2,280.3 477.6,286.9 479.1,288.1C480.6,289.3 482.4,285.3 484.0,283.9C485.6,282.5 487.7,279.6 489.0,279.6C490.3,279.6 491.3,283.2 491.8,283.9" fill="none" stroke="#cc1c32" stroke-width="8.0" stroke-linejoin="round" stroke-linecap="round"/>
<path d="M627.4,325.0C628.4,324.2 631.5,321.9 633.4,320.3C635.3,318.7 637.1,317.7 638.8,315.6C640.5,313.5 642.2,309.7 643.5,307.5C644.8,305.3 645.5,303.4 646.8,302.2C648.1,301.0 649.5,302.4 651.5,300.2C653.5,298.0 656.5,292.3 658.9,288.8C661.2,285.3 663.6,281.9 665.6,279.4C667.6,276.9 668.5,278.0 670.9,274.0C673.3,270.0 676.9,262.4 680.3,255.3C683.6,248.2 688.1,238.2 691.0,231.1C693.9,224.0 695.7,218.1 697.7,213.0C699.7,207.9 701.3,205.3 703.1,200.3C704.9,195.3 706.7,188.0 708.5,182.9C710.3,177.8 712.1,173.0 713.8,169.5C715.5,166.0 716.7,162.3 718.5,162.1C720.3,161.9 722.8,165.1 724.5,168.1C726.2,171.1 727.2,173.7 728.6,180.2C730.0,186.7 731.3,195.8 732.6,207.0C733.9,218.2 735.4,233.8 736.6,247.2C737.8,260.6 738.9,272.9 740.0,287.4C741.1,301.9 742.3,317.2 743.3,334.3C744.2,351.4 744.9,372.0 745.7,390.0C746.5,408.0 747.3,422.0 748.3,442.4C749.3,462.8 750.6,491.8 751.8,512.2C753.0,532.6 754.1,547.2 755.3,564.6C756.5,582.0 757.5,600.9 758.8,616.9C760.1,632.9 761.8,647.2 763.2,660.6C764.7,674.0 765.9,687.6 767.5,697.2C769.1,706.8 771.0,715.0 772.8,718.2C774.5,721.4 776.4,718.7 778.0,716.4C779.6,714.1 780.5,712.1 782.4,704.2C784.3,696.4 787.0,680.9 789.3,669.3C791.6,657.7 794.0,647.5 796.3,634.4C798.6,621.3 801.0,606.1 803.3,590.7C805.6,575.3 808.0,556.7 810.3,541.9C812.6,527.1 815.0,515.4 817.3,501.7C819.6,488.0 822.0,473.2 824.3,459.8C826.6,446.4 828.9,433.0 831.2,421.4C833.5,409.8 836.4,400.8 838.2,390.0C840.1,379.2 840.3,367.6 842.3,356.4C844.3,345.2 847.4,334.1 850.2,322.9C853.0,311.7 856.1,299.8 859.1,289.4C862.1,279.0 865.2,268.9 868.0,260.3C870.8,251.7 873.6,242.8 875.8,238.0C878.0,233.2 878.8,232.1 881.4,231.3C884.0,230.5 888.3,233.4 891.5,233.0C894.7,232.6 898.0,229.5 900.4,229.0C902.8,228.5 904.1,228.7 906.0,230.2C907.9,231.7 909.9,236.6 911.6,238.0C913.3,239.4 914.5,239.2 916.1,238.5C917.7,237.8 919.4,233.4 921.1,233.5C922.8,233.6 924.3,236.7 926.1,239.1C927.9,241.5 929.8,244.8 931.7,248.0C933.6,251.2 935.7,255.8 937.3,258.1C938.9,260.4 939.5,261.8 941.2,262.0C942.9,262.2 945.5,259.3 947.3,259.2C949.1,259.1 950.1,261.1 951.8,261.4C953.5,261.7 955.9,260.8 957.4,260.9C958.9,261.0 960.2,261.8 960.7,262.0" fill="none" stroke="#3b58a6" stroke-width="8.2" stroke-linejoin="round" stroke-linecap="round"/>
<text x="966" y="45.4" font-size="62" font-weight="bold" fill="#231f20" text-anchor="start" >b.</text>
<text x="1147" y="83" font-size="44" font-weight="bold" fill="#cc1c32" text-anchor="middle" >Wake</text>
<text x="1146" y="466" font-size="44" font-weight="bold" fill="#3b58a6" text-anchor="middle" >Sleep</text>
<g clip-path="url(#c1)"><g filter="url(#cm)"><g transform="translate(1146 260.5) scale(9.0)" shape-rendering="crispEdges"><path fill="#000000" d="M-4 -16h11v1h-11zM-7 -15h15v1h-15zM-8 -14h17v1h-17zM-8 -13h5v1h-5zM5 -13h4v1h-4z"/><path fill="#020202" d="M-3 -13h3v1h-3zM4 -13h1v1h-1z"/><path fill="#040404" d="M0 -17h2v1h-2zM-5 -16h1v1h-1zM0 -13h1v1h-1z"/><path fill="#060606" d="M-1 -17h1v1h-1zM2 -17h1v1h-1zM-8 -15h1v1h-1zM-9 -13h1v1h-1zM1 -13h3v1h-3z"/><path fill="#080808" d="M-8 -12h2v1h-2z"/><path fill="#0a0a0a" d="M-2 -17h1v1h-1zM-6 -16h1v1h-1zM8 -15h1v1h-1zM-9 -14h1v1h-1z"/><path fill="#0c0c0c" d="M-6 -12h1v1h-1z"/><path fill="#101010" d="M-3 -17h1v1h-1zM-5 -12h1v1h-1zM7 -12h1v1h-1z"/><path fill="#121212" d="M-7 -16h1v1h-1z"/><path fill="#141414" d="M-9 -12h1v1h-1z"/><path fill="#161616" d="M9 -14h1v1h-1zM9 -13h1v1h-1zM-4 -12h1v1h-1zM8 -12h1v1h-1z"/><path fill="#181818" d="M6 -12h1v1h-1z"/><path fill="#1a1a1a" d="M-9 -15h1v1h-1zM-3 -12h1v1h-1z"/><path fill="#1c1c1c" d="M-10 -13h1v1h-1z"/><path fill="#1e1e1e" d="M-2 -12h1v1h-1zM5 -12h1v1h-1z"/><path fill="#202020" d="M-10 -14h1v1h-1zM-1 -12h1v1h-1z"/><path fill="#222222" d="M0 -12h1v1h-1z"/><path fill="#242424" d="M-10 -12h1v1h-1zM1 -12h1v1h-1zM4 -12h1v1h-1zM9 -12h1v1h-1zM-8 -11h2v1h-2z"/><path fill="#262626" d="M2 -12h2v1h-2z"/><path fill="#282828" d="M-6 -11h1v1h-1z"/><path fill="#2a2a2a" d="M-9 -11h1v1h-1z"/><path fill="#2e2e2e" d="M-5 -11h1v1h-1z"/><path fill="#303030" d="M10 -13h1v1h-1z"/><path fill="#323232" d="M-4 -11h1v1h-1z"/><path fill="#343434" d="M-11 -13h1v1h-1zM-10 -11h1v1h-1z"/><path fill="#363636" d="M-11 -12h1v1h-1zM10 -12h1v1h-1z"/><path fill="#383838" d="M-3 -11h1v1h-1zM7 -11h2v1h-2z"/><path fill="#3e3e3e" d="M-2 -11h1v1h-1zM6 -11h1v1h-1zM9 -11h1v1h-1z"/><path fill="#404040" d="M-11 -11h1v1h-1z"/><path fill="#424242" d="M-1 -11h1v1h-1zM-8 -10h1v1h-1z"/><path fill="#444444" d="M5 -11h1v1h-1zM-7 -10h1v1h-1z"/><path fill="#464646" d="M0 -11h1v1h-1zM10 -11h1v1h-1zM-9 -10h1v1h-1z"/><path fill="#484848" d="M1 -11h1v1h-1zM4 -11h1v1h-1zM-3 16h1v1h-1z"/><path fill="#4a4a4a" d="M-12 -12h1v1h-1zM2 -11h2v1h-2zM-10 -10h1v1h-1zM-6 -10h1v1h-1zM2 16h1v1h-1z"/><path fill="#4c4c4c" d="M11 -12h1v1h-1zM-7 15h1v1h-1z"/><path fill="#4e4e4e" d="M-12 -11h1v1h-1z"/><path fill="#505050" d="M-11 -10h1v1h-1zM-2 16h1v1h-1zM1 16h1v1h-1z"/><path fill="#525252" d="M11 -11h1v1h-1zM-5 -10h1v1h-1zM-9 14h1v1h-1z"/><path fill="#545454" d="M6 15h1v1h-1zM-1 16h2v1h-2z"/><path fill="#585858" d="M-12 -10h1v1h-1zM-4 -10h1v1h-1z"/><path fill="#5a5a5a" d="M8 -10h3v1h-3zM-6 15h1v1h-1z"/><path fill="#5c5c5c" d="M7 -10h1v1h-1z"/><path fill="#5e5e5e" d="M-3 -10h1v1h-1zM11 -10h1v1h-1zM-15 8h1v1h-1zM-10 13h1v1h-1z"/><path fill="#606060" d="M-13 -11h1v1h-1zM6 -10h1v1h-1zM-8 -9h1v1h-1zM8 14h1v1h-1zM5 15h1v1h-1z"/><path fill="#626262" d="M-13 -10h1v1h-1zM-11 -9h3v1h-3zM-14 9h1v1h-1zM-13 10h1v1h-1zM-12 11h1v1h-1zM-11 12h1v1h-1z"/><path fill="#646464" d="M12 -11h1v1h-1zM-2 -10h1v1h-1zM5 -10h1v1h-1zM-12 -9h1v1h-1zM-7 -9h1v1h-1z"/><path fill="#666666" d="M-16 6h1v1h-1zM-5 15h1v1h-1z"/><path fill="#686868" d="M-1 -10h1v1h-1zM4 -10h1v1h-1zM12 -10h1v1h-1zM-8 14h1v1h-1zM4 15h1v1h-1z"/><path fill="#6a6a6a" d="M-13 -9h1v1h-1zM11 -9h1v1h-1z"/><path fill="#6c6c6c" d="M0 -10h1v1h-1zM3 -10h1v1h-1zM-6 -9h1v1h-1zM10 -9h1v1h-1z"/><path fill="#6e6e6e" d="M1 -10h2v1h-2zM12 -9h1v1h-1z"/><path fill="#707070" d="M-15 7h1v1h-1zM9 13h1v1h-1zM-4 15h1v1h-1zM3 15h1v1h-1z"/><path fill="#727272" d="M-14 -10h1v1h-1zM9 -9h1v1h-1zM-13 -8h3v1h-3zM-16 5h1v1h-1zM7 14h1v1h-1z"/><path fill="#747474" d="M-14 -9h1v1h-1z"/><path fill="#767676" d="M-5 -9h1v1h-1zM-10 -8h1v1h-1zM11 -8h2v1h-2zM15 6h1v1h-1zM-14 8h1v1h-1zM14 8h1v1h-1zM-3 15h1v1h-1zM2 15h1v1h-1z"/><path fill="#787878" d="M13 -10h1v1h-1zM8 -9h1v1h-1zM-9 -8h1v1h-1zM-13 9h1v1h-1zM10 12h1v1h-1z"/><path fill="#7a7a7a" d="M7 -9h1v1h-1zM13 -9h1v1h-1zM-14 -8h1v1h-1zM-8 -8h1v1h-1zM-17 2h1v1h-1zM-16 4h1v1h-1zM13 9h1v1h-1zM-12 10h1v1h-1zM11 11h1v1h-1zM-9 13h1v1h-1zM-7 14h1v1h-1z"/><path fill="#7c7c7c" d="M6 -9h1v1h-1zM10 -8h1v1h-1zM15 5h1v1h-1zM-15 6h1v1h-1zM12 10h1v1h-1zM-11 11h1v1h-1zM-2 15h1v1h-1zM1 15h1v1h-1z"/><path fill="#7e7e7e" d="M-4 -9h1v1h-1zM-7 -8h1v1h-1zM-10 12h1v1h-1zM6 14h1v1h-1z"/><path fill="#808080" d="M5 -9h1v1h-1zM13 -8h1v1h-1zM-13 -7h2v1h-2zM-16 3h1v1h-1zM15 4h1v1h-1zM14 7h1v1h-1zM-1 15h2v1h-2z"/><path fill="#828282" d="M-15 -9h1v1h-1zM-17 1h1v1h-1zM16 2h1v1h-1z"/><path fill="#848484" d="M9 -8h1v1h-1zM-14 -7h1v1h-1zM-11 -7h1v1h-1zM11 -7h2v1h-2zM15 3h1v1h-1zM-15 5h1v1h-1z"/><path fill="#868686" d="M-3 -9h1v1h-1zM4 -9h1v1h-1zM-15 -8h1v1h-1zM-10 -7h1v1h-1zM-16 2h1v1h-1zM15 2h1v1h-1zM14 6h1v1h-1zM-14 7h1v1h-1zM8 13h1v1h-1zM-6 14h1v1h-1z"/><path fill="#888888" d="M-17 0h1v1h-1zM16 1h1v1h-1zM-15 4h1v1h-1zM14 5h1v1h-1zM5 14h1v1h-1z"/><path fill="#8a8a8a" d="M-2 -9h1v1h-1zM-15 -7h1v1h-1zM-9 -7h1v1h-1zM10 -7h1v1h-1zM13 -7h1v1h-1zM-16 1h1v1h-1zM15 1h1v1h-1zM14 3h1v1h-1zM14 4h1v1h-1zM-13 8h1v1h-1zM13 8h1v1h-1zM-12 9h1v1h-1z"/><path fill="#8c8c8c" d="M3 -9h1v1h-1zM14 -9h1v1h-1zM-6 -8h1v1h-1zM8 -8h1v1h-1zM14 2h1v1h-1zM-15 3h1v1h-1zM-11 10h1v1h-1zM9 12h1v1h-1zM4 14h1v1h-1z"/><path fill="#8e8e8e" d="M-1 -9h1v1h-1zM14 -8h1v1h-1zM-8 -7h1v1h-1zM-13 -6h1v1h-1zM-17 -1h1v1h-1zM15 0h2v1h-2zM14 1h1v1h-1zM-15 2h1v1h-1zM-14 6h1v1h-1zM12 9h1v1h-1zM11 10h1v1h-1zM10 11h1v1h-1zM-5 14h1v1h-1z"/><path fill="#909090" d="M0 -9h3v1h-3zM7 -8h1v1h-1zM-14 -6h1v1h-1zM-12 -6h1v1h-1zM-16 0h1v1h-1zM14 0h1v1h-1zM13 2h1v1h-1zM13 3h1v1h-1zM-10 11h1v1h-1zM-8 13h1v1h-1z"/><path fill="#929292" d="M-16 -7h1v1h-1zM9 -7h1v1h-1zM-15 -6h1v1h-1zM11 -6h1v1h-1zM-17 -2h1v1h-1zM15 -1h1v1h-1zM-15 1h1v1h-1zM13 1h1v1h-1zM-14 4h1v1h-1zM13 4h1v1h-1zM-14 5h1v1h-1zM-4 14h1v1h-1zM3 14h1v1h-1z"/><path fill="#949494" d="M6 -8h1v1h-1zM14 -7h1v1h-1zM-16 -6h1v1h-1zM-11 -6h1v1h-1zM12 -6h1v1h-1zM-17 -3h1v1h-1zM-16 -1h1v1h-1zM14 -1h1v1h-1zM16 -1h1v1h-1zM13 0h1v1h-1zM-14 2h1v1h-1zM-14 3h1v1h-1zM13 5h1v1h-1zM13 7h1v1h-1zM-9 12h1v1h-1zM2 14h1v1h-1z"/><path fill="#969696" d="M-10 -6h1v1h-1zM10 -6h1v1h-1zM13 -6h1v1h-1zM-15 -5h2v1h-2zM-16 -2h1v1h-1zM13 -1h1v1h-1zM-15 0h1v1h-1zM-14 1h1v1h-1zM12 2h1v1h-1zM13 6h1v1h-1zM-13 7h1v1h-1zM-12 8h1v1h-1zM-11 9h1v1h-1zM7 13h1v1h-1zM-3 14h1v1h-1z"/><path fill="#989898" d="M5 -8h1v1h-1zM-7 -7h1v1h-1zM8 -7h1v1h-1zM-9 -6h1v1h-1zM-16 -5h1v1h-1zM-13 -5h1v1h-1zM-16 -4h1v1h-1zM-16 -3h1v1h-1zM13 -2h3v1h-3zM-15 -1h1v1h-1zM-14 0h1v1h-1zM12 0h1v1h-1zM12 1h1v1h-1zM-13 2h1v1h-1zM-13 3h1v1h-1zM12 3h1v1h-1zM1 14h1v1h-1z"/><path fill="#9a9a9a" d="M-5 -8h1v1h-1zM14 -6h1v1h-1zM12 -5h1v1h-1zM-15 -4h2v1h-2zM-15 -3h1v1h-1zM14 -3h1v1h-1zM-15 -2h1v1h-1zM16 -2h1v1h-1zM-14 -1h1v1h-1zM12 -1h1v1h-1zM-13 0h1v1h-1zM-13 1h1v1h-1zM-13 4h1v1h-1zM12 4h1v1h-1zM-13 5h1v1h-1zM12 8h1v1h-1zM-2 14h1v1h-1z"/><path fill="#9c9c9c" d="M9 -6h1v1h-1zM-12 -5h1v1h-1zM11 -5h1v1h-1zM13 -5h1v1h-1zM13 -4h1v1h-1zM-14 -3h1v1h-1zM13 -3h1v1h-1zM15 -3h1v1h-1zM-14 -2h1v1h-1zM12 -2h1v1h-1zM-13 -1h1v1h-1zM-12 0h1v1h-1zM-12 1h1v1h-1zM-12 2h1v1h-1zM-12 3h1v1h-1zM-12 4h1v1h-1zM-13 6h1v1h-1zM11 9h1v1h-1zM-10 10h1v1h-1zM10 10h1v1h-1zM-7 13h1v1h-1zM-1 14h2v1h-2z"/><path fill="#9e9e9e" d="M4 -8h1v1h-1zM7 -7h1v1h-1zM10 -5h1v1h-1zM14 -5h1v1h-1zM-13 -4h1v1h-1zM12 -4h1v1h-1zM14 -4h1v1h-1zM-13 -3h1v1h-1zM12 -3h1v1h-1zM-13 -2h1v1h-1zM-12 -1h1v1h-1zM11 -1h1v1h-1zM11 0h1v1h-1zM11 1h1v1h-1zM11 2h1v1h-1zM-11 3h1v1h-1zM11 3h1v1h-1zM12 5h1v1h-1zM-12 7h1v1h-1zM-11 8h1v1h-1zM9 11h1v1h-1z"/><path fill="#a0a0a0" d="M15 -7h1v1h-1zM-8 -6h1v1h-1zM8 -6h1v1h-1zM-11 -5h2v1h-2zM-12 -4h1v1h-1zM11 -4h1v1h-1zM15 -4h1v1h-1zM11 -3h1v1h-1zM16 -3h1v1h-1zM-12 -2h1v1h-1zM11 -2h1v1h-1zM-11 1h1v1h-1zM-11 2h1v1h-1zM-11 4h1v1h-1zM11 4h1v1h-1zM-12 5h1v1h-1zM-10 9h1v1h-1zM8 12h1v1h-1zM6 13h1v1h-1z"/><path fill="#a2a2a2" d="M15 -6h1v1h-1zM9 -5h1v1h-1zM15 -5h1v1h-1zM-12 -3h1v1h-1zM-11 -1h1v1h-1zM-11 0h1v1h-1zM-11 5h1v1h-1zM-12 6h1v1h-1zM12 6h1v1h-1zM-11 7h1v1h-1zM12 7h1v1h-1zM-10 8h1v1h-1zM-9 11h1v1h-1z"/><path fill="#a4a4a4" d="M-4 -8h1v1h-1zM6 -7h1v1h-1zM-9 -5h1v1h-1zM-11 -4h1v1h-1zM10 -4h1v1h-1zM-11 -2h1v1h-1zM-11 6h1v1h-1zM-10 7h1v1h-1zM-6 13h1v1h-1zM5 13h1v1h-1z"/><path fill="#a6a6a6" d="M3 -8h1v1h-1zM8 -5h1v1h-1zM-10 -4h1v1h-1zM9 -4h1v1h-1zM-11 -3h1v1h-1zM10 -3h1v1h-1zM10 -2h1v1h-1zM10 -1h1v1h-1zM10 0h1v1h-1zM10 1h1v1h-1zM-10 2h1v1h-1zM10 2h1v1h-1zM-10 3h1v1h-1zM10 3h1v1h-1zM-10 4h1v1h-1zM11 5h1v1h-1zM-10 6h1v1h-1zM11 8h1v1h-1zM10 9h1v1h-1zM0 13h1v1h-1zM4 13h1v1h-1z"/><path fill="#a8a8a8" d="M-3 -8h1v1h-1zM-6 -7h1v1h-1zM7 -6h1v1h-1zM-10 1h1v1h-1zM10 4h1v1h-1zM-10 5h1v1h-1zM-9 10h1v1h-1zM-8 12h1v1h-1zM-5 13h1v1h-1zM-1 13h1v1h-1zM1 13h3v1h-3z"/><path fill="#aaaaaa" d="M-9 -4h1v1h-1zM-10 -3h1v1h-1zM9 -3h1v1h-1zM-10 -2h1v1h-1zM-10 -1h1v1h-1zM-10 0h1v1h-1zM11 6h1v1h-1zM-9 7h1v1h-1zM11 7h1v1h-1zM-9 8h1v1h-1zM-9 9h1v1h-1zM9 10h1v1h-1z"/><path fill="#acacac" d="M-2 -8h1v1h-1zM5 -7h1v1h-1zM-7 -6h1v1h-1zM-8 -5h1v1h-1zM8 -4h1v1h-1zM10 5h1v1h-1zM10 8h1v1h-1zM-4 13h3v1h-3z"/><path fill="#aeaeae" d="M-1 -8h1v1h-1zM2 -8h1v1h-1zM9 -2h1v1h-1zM9 -1h1v1h-1zM9 0h1v1h-1zM9 1h1v1h-1zM9 2h1v1h-1zM9 3h1v1h-1zM9 4h1v1h-1zM-9 5h1v1h-1zM-9 6h1v1h-1zM10 6h1v1h-1zM10 7h1v1h-1zM9 9h1v1h-1zM8 11h1v1h-1zM7 12h1v1h-1z"/><path fill="#b0b0b0" d="M0 -8h2v1h-2zM7 -5h1v1h-1zM-9 -3h1v1h-1zM-9 2h1v1h-1zM-9 3h1v1h-1zM-9 4h1v1h-1zM9 5h1v1h-1zM9 7h1v1h-1zM9 8h1v1h-1zM-8 11h1v1h-1z"/><path fill="#b2b2b2" d="M6 -6h1v1h-1zM8 -3h1v1h-1zM-9 1h1v1h-1zM9 6h1v1h-1zM-8 8h1v1h-1zM-8 9h1v1h-1zM-8 10h1v1h-1zM8 10h1v1h-1zM-7 12h1v1h-1zM0 12h1v1h-1z"/><path fill="#b4b4b4" d="M4 -7h1v1h-1zM-8 -4h1v1h-1zM-9 -2h1v1h-1zM-9 -1h1v1h-1zM-9 0h1v1h-1zM-8 7h1v1h-1zM8 7h1v1h-1zM8 8h1v1h-1zM8 9h1v1h-1zM-1 12h1v1h-1zM1 12h1v1h-1zM6 12h1v1h-1z"/><path fill="#b6b6b6" d="M-5 -7h1v1h-1zM7 -4h1v1h-1zM8 -2h1v1h-1zM8 2h1v1h-1zM8 3h1v1h-1zM8 4h1v1h-1zM8 5h1v1h-1zM8 6h1v1h-1zM-7 10h1v1h-1zM-6 12h1v1h-1zM-2 12h1v1h-1zM2 12h4v1h-4z"/><path fill="#b8b8b8" d="M8 -1h1v1h-1zM8 0h1v1h-1zM8 1h1v1h-1zM-8 5h1v1h-1zM-8 6h1v1h-1zM-7 9h1v1h-1zM-7 11h1v1h-1zM7 11h1v1h-1z"/><path fill="#bababa" d="M-6 -6h1v1h-1zM-7 -5h1v1h-1zM-8 -3h1v1h-1zM-8 3h1v1h-1zM-8 4h1v1h-1zM7 7h1v1h-1zM-7 8h1v1h-1zM7 8h1v1h-1zM7 9h1v1h-1zM7 10h1v1h-1zM-5 12h3v1h-3z"/><path fill="#bcbcbc" d="M3 -7h1v1h-1zM6 -5h1v1h-1zM7 -3h1v1h-1zM-8 2h1v1h-1zM7 6h1v1h-1zM6 10h1v1h-1zM-6 11h1v1h-1zM-1 11h3v1h-3zM6 11h1v1h-1z"/><path fill="#bebebe" d="M-4 -7h1v1h-1zM5 -6h1v1h-1zM-8 -2h1v1h-1zM-8 -1h1v1h-1zM-8 0h1v1h-1zM-8 1h1v1h-1zM7 3h1v1h-1zM7 4h1v1h-1zM7 5h1v1h-1zM-7 7h1v1h-1zM6 8h1v1h-1zM-6 9h1v1h-1zM6 9h1v1h-1zM-6 10h1v1h-1zM5 10h1v1h-1zM2 11h4v1h-4z"/><path fill="#c0c0c0" d="M7 -2h1v1h-1zM7 2h1v1h-1zM-7 6h1v1h-1zM6 7h1v1h-1zM5 9h1v1h-1zM-5 11h1v1h-1zM-2 11h1v1h-1z"/><path fill="#c2c2c2" d="M-7 -4h1v1h-1zM7 -1h1v1h-1zM7 0h1v1h-1zM7 1h1v1h-1zM-7 5h1v1h-1zM6 6h1v1h-1zM-6 8h1v1h-1zM5 8h1v1h-1zM0 10h2v1h-2zM3 10h2v1h-2zM-3 11h1v1h-1z"/><path fill="#c4c4c4" d="M-3 -7h1v1h-1zM2 -7h1v1h-1zM6 -4h1v1h-1zM-7 4h1v1h-1zM6 5h1v1h-1zM-6 7h1v1h-1zM5 7h1v1h-1zM4 9h1v1h-1zM-5 10h1v1h-1zM-1 10h1v1h-1zM2 10h1v1h-1zM-4 11h1v1h-1z"/><path fill="#c6c6c6" d="M-2 -7h1v1h-1zM4 -6h1v1h-1zM-7 -3h1v1h-1zM-7 3h1v1h-1zM6 4h1v1h-1zM-6 6h1v1h-1zM5 6h1v1h-1zM-5 8h1v1h-1zM4 8h1v1h-1zM-5 9h1v1h-1zM2 9h2v1h-2zM-2 10h1v1h-1z"/><path fill="#c8c8c8" d="M-1 -7h1v1h-1zM1 -7h1v1h-1zM-5 -6h1v1h-1zM-6 -5h1v1h-1zM6 -3h1v1h-1zM-7 -2h1v1h-1zM-7 -1h1v1h-1zM-7 0h1v1h-1zM-7 1h1v1h-1zM-7 2h1v1h-1zM6 3h1v1h-1zM-5 7h1v1h-1zM4 7h1v1h-1zM3 8h1v1h-1zM-1 9h3v1h-3zM-4 10h2v1h-2z"/><path fill="#cacaca" d="M0 -7h1v1h-1zM5 -5h1v1h-1zM6 -2h1v1h-1zM6 -1h1v1h-1zM6 0h1v1h-1zM6 1h1v1h-1zM6 2h1v1h-1zM-6 5h1v1h-1zM5 5h1v1h-1zM-5 6h1v1h-1zM4 6h1v1h-1zM-4 8h1v1h-1zM2 8h1v1h-1zM-4 9h3v1h-3z"/><path fill="#cccccc" d="M-6 4h1v1h-1zM5 4h1v1h-1zM-4 7h1v1h-1zM3 7h1v1h-1zM-3 8h5v1h-5z"/><path fill="#cecece" d="M3 -6h1v1h-1zM-5 5h1v1h-1zM4 5h1v1h-1zM-4 6h1v1h-1zM3 6h1v1h-1zM-3 7h1v1h-1zM2 7h1v1h-1z"/><path fill="#d0d0d0" d="M-4 -6h1v1h-1zM-6 -4h1v1h-1zM-6 3h1v1h-1zM5 3h1v1h-1zM-4 5h1v1h-1zM-3 6h1v1h-1zM-2 7h4v1h-4z"/><path fill="#d2d2d2" d="M-6 -3h1v1h-1zM-6 -2h1v1h-1zM-6 -1h1v1h-1zM5 -1h1v1h-1zM-6 0h1v1h-1zM5 0h1v1h-1zM-6 1h1v1h-1zM5 1h1v1h-1zM-6 2h1v1h-1zM5 2h1v1h-1zM-5 4h1v1h-1zM4 4h1v1h-1zM-3 5h1v1h-1zM3 5h1v1h-1zM-2 6h1v1h-1zM2 6h1v1h-1z"/><path fill="#d4d4d4" d="M-3 -6h1v1h-1zM2 -6h1v1h-1zM-5 -5h1v1h-1zM4 -5h1v1h-1zM5 -4h1v1h-1zM5 -3h1v1h-1zM5 -2h1v1h-1zM-4 4h1v1h-1zM-2 5h1v1h-1zM2 5h1v1h-1zM-1 6h3v1h-3z"/><path fill="#d6d6d6" d="M-5 3h1v1h-1zM4 3h1v1h-1zM-3 4h1v1h-1zM3 4h1v1h-1zM-1 5h3v1h-3z"/><path fill="#d8d8d8" d="M-2 -6h1v1h-1zM1 -6h1v1h-1zM-4 -5h1v1h-1zM-5 2h1v1h-1zM4 2h1v1h-1zM-4 3h1v1h-1zM3 3h1v1h-1zM-2 4h5v1h-5z"/><path fill="#dadada" d="M-1 -6h2v1h-2zM3 -5h1v1h-1zM-5 -4h1v1h-1zM-5 -1h1v1h-1zM-5 0h1v1h-1zM4 0h1v1h-1zM-5 1h1v1h-1zM4 1h1v1h-1zM-3 3h4v1h-4zM2 3h1v1h-1z"/><path fill="#dcdcdc" d="M-3 -5h1v1h-1zM4 -4h1v1h-1zM-5 -3h1v1h-1zM-5 -2h1v1h-1zM4 -1h1v1h-1zM-4 2h1v1h-1zM3 2h1v1h-1zM1 3h1v1h-1z"/><path fill="#dedede" d="M-4 -4h1v1h-1zM4 -3h1v1h-1zM4 -2h1v1h-1zM-4 1h1v1h-1zM-3 2h4v1h-4zM2 2h1v1h-1z"/><path fill="#e0e0e0" d="M-2 -5h1v1h-1zM2 -5h1v1h-1zM-4 0h1v1h-1zM3 1h1v1h-1zM1 2h1v1h-1z"/><path fill="#e2e2e2" d="M-3 -4h1v1h-1zM3 -4h1v1h-1zM-4 -3h1v1h-1zM-4 -2h1v1h-1zM-4 -1h1v1h-1zM3 0h1v1h-1zM-3 1h1v1h-1zM2 1h1v1h-1z"/><path fill="#e4e4e4" d="M-1 -5h1v1h-1zM1 -5h1v1h-1zM3 -1h1v1h-1zM-3 0h1v1h-1zM-2 1h2v1h-2z"/><path fill="#e6e6e6" d="M0 -5h1v1h-1zM2 -4h1v1h-1zM-3 -3h1v1h-1zM3 -3h1v1h-1zM3 -2h1v1h-1zM-3 -1h1v1h-1zM0 1h2v1h-2z"/><path fill="#e8e8e8" d="M-2 -4h1v1h-1zM-3 -2h1v1h-1zM-2 0h1v1h-1zM2 0h1v1h-1z"/><path fill="#eaeaea" d="M1 -4h1v1h-1z"/><path fill="#ececec" d="M-1 -4h2v1h-2zM-2 -3h1v1h-1zM2 -3h1v1h-1zM-2 -1h1v1h-1zM2 -1h1v1h-1zM-1 0h3v1h-3z"/><path fill="#eeeeee" d="M-2 -2h1v1h-1zM2 -2h1v1h-1z"/><path fill="#f0f0f0" d="M-1 -3h1v1h-1zM1 -3h1v1h-1zM-1 -1h1v1h-1zM1 -1h1v1h-1z"/><path fill="#f2f2f2" d="M0 -3h1v1h-1zM-1 -2h1v1h-1zM1 -2h1v1h-1zM0 -1h1v1h-1z"/><path fill="#f4f4f4" d="M0 -2h1v1h-1z"/></g></g>
<path d="M1085.1 131.5l-4.1 2.6-3 2.7-2.4 3.7-0.9 3 0.1 3 1.5 3 2.3 2 3.4 1.1 4 0.1 5-0.9 21-6.8 7-1.1 24 1.2 24-1.2 11 0.3 12 1.9 18 5.4 5 0.2 3-0.8 2.4-1.4 2.1-2 1.5-3 0.4-3-0.4-3-1.8-4-2.2-3M1042.9 389.5l-12.8-10-13.1-11.5M1275 377.7l-16.5 11.8M1063.4 131.5l-4 6-2.2 6-0.6 6 0.5 3 1.1 3 3.8 4.8 5 3.3 7 2.3 8 0.8 12-1.1 37-5.8 35-2.7 11-0.1 11 0.9 13 1.5 8 1.8 5 0.7 5-0.1 4-0.6 5-1.7 4-2.4 3-3.2 1.7-3.4 0.7-4-0.3-5-1.5-5-2.6-5M1054 389.5l-17.6-14-19.4-18.1M1275 367.6l-14.9 11.9-14.4 10M1049.5 131.5l-3.4 5-2.7 5-1.9 5-1.4 5-0.5 5 0.1 4 0.8 4 1.7 4 2.3 3 2.5 2 6 2.6 9 1.7 18 1.5 8-0.7 19-3.8 25-4.1 15-1.7 16-1.1 10-0.3 7 0.3 16 1.7 16 2.4 7 0.5 14-0.1 8-1.2 4-1.8 3.3-2.9 2.3-4 1.3-6-0.1-6-1.2-6-2.6-7-3.3-6M1066.8 389.5l-8.8-6.2-10.4-8.8-18.7-18-11.9-12.6M1275 354.7l-10.4 9.8-11.9 10-10.7 8-10.9 7M1037 131.5l-7.5 11-5.9 12-3.9 13-1.2 11 0.4 5 1 4 1.9 4 2.2 2.9 3 2.5 3 1.6 4 1.2 4 0.3 7-0.7 20-3.7 18-2.1 4-1.1 15-6 14-3.2 24-3.2 22-1.4 14 0.7 29 4.7 19 1.6 6 2.1 18 9 6 1.4 4.9-0.6 3.1-1.7 2-1.8 3.4-5.5 1.8-7 0.2-9-1.3-10-2.9-11-4.1-10-5.8-10M1084.9 389.5l-6.9-3-5.2-3-5.5-4-5.5-5-34.8-37.4-5-6.6-5-8.7M1275 334.6l-5 7.2-6.6 7.7-10.1 10-13.2 12-7.4 6-7.1 5-7.2 4-7.2 3M1025 131.5l-8 10.3M1275 147.5l-4.5-8-5.3-8M1136 383.6l-9 0.7-11-0.5-11-1.5-13-2.8-6.4-2-4.6-2.2-3.4-2.8-3.6-5-3.4-8-2.3-9-0.7-7-0.1-13-4.9-10-1.4-5-0.1-4 1.3-12 0.1-6-6-48 0.1-8 1.5-4 2.5-3 11.4-7.3 9.8-9.7 8.6-7 10-7 5.6-3 13-3.1 17-2 20-1 13 0.9 8.6 2.2 18.4 6.4 6.3 2.6 5.5 3 6.1 5 8.1 10.8 8.6 8.2 3.2 4 2.8 6 1.4 8-0.3 38 1 10 1.6 5 2.6 5 11 15 1 3 0 2-1.1 3-1.9 3-12 14-15.7 21-5.8 6-6.4 4.3-9 2.7-15.3 2-23.7 1.3-7-0.4-10-1.2-3 0.3-8 2.1M1275 131.9l-0.3-0.4M1155 322.6l-5 0.8-4-0.1-3.6-0.8-3.4-1.6-11-8.9-15-8-6-4.1-5-5.3-3.2-6.1-1-8-0.5-21-1-16 0.5-9 1.3-6 1.6-3 2.3-2.7 7-5.7 8.4-4.6 8.8-3 10.8-2 11-0.8 9 0.4 8 1.5 11.5 4.9 12.4 7 5.1 4.9 2.1 5.1 0.9 6 0 7-2.3 15-0.2 21-0.6 6-1.1 4-2.2 4-3.6 4.5-20 18.5-6 3.9-6 2.2" fill="none" stroke="#1a1a1a" stroke-width="0.8" stroke-opacity="0.9"/>
</g>
<use href="#e0" x="1146" y="260.5" fill="none" stroke="#111" stroke-width="1.1"/>
<circle cx="1146" cy="260.5" r="127.70" fill="none" stroke="#1a1a1a" stroke-width="2.6"/>
<path d="M1123.0,134.1L1146.0,111.7L1169.0,134.1" fill="none" stroke="#1a1a1a" stroke-width="2.0" stroke-linejoin="miter"/>
<path d="M1272.9,246.3 L1276.3,240.7 L1278.3,240.5 L1281.3,241.4 L1284.4,246.3 L1283.9,261.9 L1285.7,284.3 L1281.9,294.0 L1276.3,295.8 L1270.9,291.1" fill="none" stroke="#1a1a1a" stroke-width="2.0" stroke-linejoin="round"/>
<path d="M1019.1,246.3 L1015.7,240.7 L1013.7,240.5 L1010.7,241.4 L1007.6,246.3 L1008.1,261.9 L1006.3,284.3 L1010.1,294.0 L1015.7,295.8 L1021.1,291.1" fill="none" stroke="#1a1a1a" stroke-width="2.0" stroke-linejoin="round"/>
<g clip-path="url(#c2)"><g filter="url(#cm)"><g transform="translate(1143.0 644.2) scale(9.0)" shape-rendering="crispEdges"><path fill="#000000" d="M-14 9h2v1h-2zM11 9h3v1h-3zM-13 10h3v1h-3zM9 10h4v1h-4zM-12 11h3v1h-3zM9 11h3v1h-3zM-11 12h3v1h-3zM8 12h3v1h-3zM-10 13h2v1h-2zM7 13h3v1h-3zM-8 14h1v1h-1zM7 14h1v1h-1z"/><path fill="#020202" d="M-8 13h1v1h-1z"/><path fill="#040404" d="M-12 9h1v1h-1zM-10 10h1v1h-1z"/><path fill="#060606" d="M10 9h1v1h-1zM8 11h1v1h-1zM6 14h1v1h-1z"/><path fill="#080808" d="M13 8h1v1h-1zM-9 11h1v1h-1zM-7 14h1v1h-1z"/><path fill="#0a0a0a" d="M-14 8h1v1h-1z"/><path fill="#0c0c0c" d="M-8 12h1v1h-1zM7 12h1v1h-1zM-6 15h1v1h-1zM5 15h1v1h-1z"/><path fill="#0e0e0e" d="M12 8h1v1h-1zM-11 9h1v1h-1z"/><path fill="#101010" d="M-7 13h1v1h-1zM6 13h1v1h-1z"/><path fill="#121212" d="M-15 7h1v1h-1zM14 7h1v1h-1zM-13 8h1v1h-1zM-6 14h1v1h-1zM5 14h1v1h-1zM-5 15h1v1h-1zM4 15h1v1h-1z"/><path fill="#161616" d="M9 9h1v1h-1zM-4 15h1v1h-1zM3 15h1v1h-1z"/><path fill="#181818" d="M11 8h1v1h-1zM8 10h1v1h-1zM-3 15h2v1h-2zM1 15h2v1h-2zM-3 16h2v1h-2zM1 16h2v1h-2z"/><path fill="#1a1a1a" d="M-9 10h1v1h-1zM-5 14h1v1h-1zM4 14h1v1h-1zM-1 15h2v1h-2zM-1 16h2v1h-2z"/><path fill="#1c1c1c" d="M-14 7h1v1h-1zM13 7h1v1h-1zM-10 9h1v1h-1zM7 11h1v1h-1z"/><path fill="#1e1e1e" d="M-12 8h1v1h-1zM-8 11h1v1h-1zM-7 12h1v1h-1zM6 12h1v1h-1zM-6 13h1v1h-1zM5 13h1v1h-1zM-4 14h1v1h-1zM-2 14h4v1h-4zM3 14h1v1h-1z"/><path fill="#202020" d="M15 5h1v1h-1zM-3 14h1v1h-1zM2 14h1v1h-1z"/><path fill="#222222" d="M-16 5h1v1h-1zM-15 6h1v1h-1zM14 6h1v1h-1zM-1 13h2v1h-2z"/><path fill="#242424" d="M10 8h1v1h-1z"/><path fill="#282828" d="M-17 2h1v1h-1zM16 2h1v1h-1zM-13 7h1v1h-1zM12 7h1v1h-1zM-5 13h1v1h-1zM4 13h1v1h-1z"/><path fill="#2a2a2a" d="M16 1h1v1h-1zM-11 8h1v1h-1z"/><path fill="#2c2c2c" d="M16 -3h1v1h-1zM16 0h1v1h-1zM-17 1h1v1h-1zM-16 4h1v1h-1zM15 4h1v1h-1zM-2 13h1v1h-1zM1 13h1v1h-1z"/><path fill="#2e2e2e" d="M-17 -3h1v1h-1zM16 -2h1v1h-1zM-17 -1h1v1h-1zM16 -1h1v1h-1zM-17 0h1v1h-1zM-4 13h1v1h-1z"/><path fill="#303030" d="M-17 -2h1v1h-1zM-15 5h1v1h-1zM14 5h1v1h-1zM-14 6h1v1h-1zM13 6h1v1h-1zM8 9h1v1h-1zM-6 12h1v1h-1zM-3 13h1v1h-1zM2 13h2v1h-2z"/><path fill="#323232" d="M-9 9h1v1h-1zM5 12h1v1h-1z"/><path fill="#343434" d="M-16 3h1v1h-1zM15 3h1v1h-1zM-8 10h1v1h-1zM7 10h1v1h-1zM-7 11h1v1h-1z"/><path fill="#363636" d="M11 7h1v1h-1zM9 8h1v1h-1zM6 11h1v1h-1z"/><path fill="#383838" d="M15 -6h1v1h-1z"/><path fill="#3a3a3a" d="M-16 -6h1v1h-1zM-16 2h1v1h-1zM15 2h1v1h-1zM-12 7h1v1h-1z"/><path fill="#3c3c3c" d="M13 -10h1v1h-1zM-15 4h1v1h-1zM-10 8h1v1h-1z"/><path fill="#3e3e3e" d="M-14 -10h1v1h-1zM15 -5h1v1h-1zM-16 1h1v1h-1zM15 1h1v1h-1zM14 4h1v1h-1zM-5 12h1v1h-1z"/><path fill="#404040" d="M2 -17h1v1h-1zM9 -14h1v1h-1zM14 -8h1v1h-1zM-16 -5h1v1h-1zM-16 0h1v1h-1zM15 0h1v1h-1zM-13 6h1v1h-1zM4 12h1v1h-1z"/><path fill="#424242" d="M-3 -17h1v1h-1zM-10 -14h1v1h-1zM-15 -8h1v1h-1zM15 -4h1v1h-1zM-16 -1h1v1h-1zM15 -1h1v1h-1zM-14 5h1v1h-1zM13 5h1v1h-1zM12 6h1v1h-1z"/><path fill="#444444" d="M12 -11h1v1h-1zM-16 -4h1v1h-1zM-16 -3h1v1h-1zM15 -3h1v1h-1zM-16 -2h1v1h-1zM15 -2h1v1h-1z"/><path fill="#464646" d="M1 -17h1v1h-1zM-6 -16h1v1h-1zM5 -16h1v1h-1zM10 -13h1v1h-1zM11 -12h1v1h-1zM-13 -11h1v1h-1zM-15 3h1v1h-1zM14 3h1v1h-1z"/><path fill="#484848" d="M-2 -17h1v1h-1zM7 -15h1v1h-1zM-11 -13h1v1h-1zM-12 -12h1v1h-1zM10 7h1v1h-1zM-4 12h1v1h-1z"/><path fill="#4a4a4a" d="M-1 -17h2v1h-2zM-8 -15h1v1h-1zM14 -7h1v1h-1zM-6 11h1v1h-1zM-1 12h2v1h-2zM3 12h1v1h-1z"/><path fill="#4c4c4c" d="M-15 -7h1v1h-1zM-15 2h1v1h-1zM-11 7h1v1h-1zM7 9h1v1h-1zM5 11h1v1h-1z"/><path fill="#4e4e4e" d="M-14 -9h1v1h-1zM13 -9h1v1h-1zM14 2h1v1h-1zM8 8h1v1h-1zM-8 9h1v1h-1zM-3 12h2v1h-2zM1 12h2v1h-2z"/><path fill="#505050" d="M-14 4h1v1h-1zM-7 10h1v1h-1zM6 10h1v1h-1z"/><path fill="#525252" d="M4 -16h1v1h-1zM14 -6h1v1h-1zM-15 1h1v1h-1zM14 1h1v1h-1zM13 4h1v1h-1zM-9 8h1v1h-1z"/><path fill="#545454" d="M-5 -16h1v1h-1zM8 -14h1v1h-1zM-15 -6h1v1h-1zM-15 0h1v1h-1zM14 0h1v1h-1zM-12 6h1v1h-1zM11 6h1v1h-1z"/><path fill="#565656" d="M-9 -14h1v1h-1zM-13 5h1v1h-1zM12 5h1v1h-1z"/><path fill="#585858" d="M-13 -10h1v1h-1zM12 -10h1v1h-1zM-15 -5h1v1h-1zM14 -5h1v1h-1zM-15 -1h1v1h-1zM14 -1h1v1h-1z"/><path fill="#5a5a5a" d="M-7 -15h1v1h-1zM6 -15h1v1h-1zM13 -8h1v1h-1zM14 -4h1v1h-1zM14 -3h1v1h-1zM-15 -2h1v1h-1zM14 -2h1v1h-1zM-14 3h1v1h-1zM9 7h1v1h-1z"/><path fill="#5c5c5c" d="M9 -13h1v1h-1zM-14 -8h1v1h-1zM-15 -4h1v1h-1zM-15 -3h1v1h-1zM13 3h1v1h-1zM-5 11h1v1h-1zM4 11h1v1h-1z"/><path fill="#5e5e5e" d="M-4 -16h1v1h-1zM3 -16h1v1h-1zM-10 -13h1v1h-1zM10 -12h1v1h-1zM-12 -11h1v1h-1zM11 -11h1v1h-1zM-10 7h1v1h-1z"/><path fill="#606060" d="M-11 -12h1v1h-1z"/><path fill="#626262" d="M-14 2h1v1h-1zM13 2h1v1h-1z"/><path fill="#646464" d="M13 -7h1v1h-1z"/><path fill="#666666" d="M-14 -7h1v1h-1zM13 1h1v1h-1zM-13 4h1v1h-1zM12 4h1v1h-1z"/><path fill="#686868" d="M-3 -16h1v1h-1zM2 -16h1v1h-1zM-6 -15h1v1h-1zM5 -15h1v1h-1zM-8 -14h1v1h-1zM7 -14h1v1h-1zM-13 -9h1v1h-1zM12 -9h1v1h-1zM-14 1h1v1h-1zM7 8h1v1h-1zM-6 10h1v1h-1zM5 10h1v1h-1zM-4 11h1v1h-1zM3 11h1v1h-1z"/><path fill="#6a6a6a" d="M-14 0h1v1h-1zM13 0h1v1h-1zM-11 6h1v1h-1zM10 6h1v1h-1zM-8 8h1v1h-1zM-7 9h1v1h-1zM6 9h1v1h-1z"/><path fill="#6c6c6c" d="M-14 -6h1v1h-1zM13 -6h1v1h-1zM13 -1h1v1h-1zM-12 5h1v1h-1z"/><path fill="#6e6e6e" d="M-2 -16h1v1h-1zM1 -16h1v1h-1zM13 -2h1v1h-1zM-14 -1h1v1h-1zM11 5h1v1h-1zM8 7h1v1h-1z"/><path fill="#707070" d="M8 -13h1v1h-1zM-12 -10h1v1h-1zM11 -10h1v1h-1zM-14 -5h1v1h-1zM13 -5h1v1h-1zM13 -3h1v1h-1zM-14 -2h1v1h-1zM-13 3h1v1h-1zM-9 7h1v1h-1z"/><path fill="#727272" d="M-1 -16h2v1h-2zM-9 -13h1v1h-1zM-14 -4h1v1h-1zM13 -4h1v1h-1zM-14 -3h1v1h-1zM12 3h1v1h-1zM-3 11h1v1h-1zM2 11h1v1h-1z"/><path fill="#747474" d="M10 -11h1v1h-1zM-13 -8h1v1h-1zM12 -8h1v1h-1z"/><path fill="#767676" d="M-5 -15h1v1h-1zM4 -15h1v1h-1zM-10 -12h1v1h-1zM9 -12h1v1h-1zM-11 -11h1v1h-1z"/><path fill="#787878" d="M-7 -14h1v1h-1zM6 -14h1v1h-1zM-13 2h1v1h-1zM12 2h1v1h-1zM-5 10h1v1h-1zM4 10h1v1h-1z"/><path fill="#7a7a7a" d="M12 1h1v1h-1zM-2 11h1v1h-1z"/><path fill="#7c7c7c" d="M-12 4h1v1h-1zM9 6h1v1h-1zM1 11h1v1h-1z"/><path fill="#7e7e7e" d="M-13 -7h1v1h-1zM12 -7h1v1h-1zM12 0h1v1h-1zM-13 1h1v1h-1zM11 4h1v1h-1zM-10 6h1v1h-1z"/><path fill="#808080" d="M-4 -15h1v1h-1zM3 -15h1v1h-1zM-12 -9h1v1h-1zM11 -9h1v1h-1zM12 -1h1v1h-1zM6 8h1v1h-1z"/><path fill="#828282" d="M-13 0h1v1h-1zM7 7h1v1h-1zM-7 8h1v1h-1zM-6 9h1v1h-1zM5 9h1v1h-1z"/><path fill="#848484" d="M-8 -13h1v1h-1zM7 -13h1v1h-1zM-13 -6h1v1h-1zM12 -6h1v1h-1zM12 -2h1v1h-1zM-13 -1h1v1h-1zM-11 5h1v1h-1zM10 5h1v1h-1zM-8 7h1v1h-1z"/><path fill="#868686" d="M-6 -14h1v1h-1zM5 -14h1v1h-1zM12 -3h1v1h-1zM-13 -2h1v1h-1zM-4 10h1v1h-1zM3 10h1v1h-1zM-1 11h2v1h-2z"/><path fill="#888888" d="M-3 -15h1v1h-1zM2 -15h1v1h-1zM-11 -10h1v1h-1zM10 -10h1v1h-1zM-13 -5h1v1h-1zM12 -5h1v1h-1zM12 -4h1v1h-1zM-13 -3h1v1h-1zM-12 3h1v1h-1zM11 3h1v1h-1z"/><path fill="#8a8a8a" d="M-9 -12h1v1h-1zM8 -12h1v1h-1zM-10 -11h1v1h-1zM9 -11h1v1h-1zM-13 -4h1v1h-1z"/><path fill="#8c8c8c" d="M-12 -8h1v1h-1zM11 -8h1v1h-1zM11 2h1v1h-1zM8 6h1v1h-1z"/><path fill="#8e8e8e" d="M1 -15h1v1h-1zM-12 2h1v1h-1zM-9 6h1v1h-1z"/><path fill="#909090" d="M-2 -15h1v1h-1zM11 1h1v1h-1z"/><path fill="#929292" d="M-1 -15h2v1h-2zM-5 -14h1v1h-1zM4 -14h1v1h-1zM11 0h1v1h-1zM-5 9h1v1h-1zM4 9h1v1h-1zM-3 10h1v1h-1zM2 10h1v1h-1z"/><path fill="#949494" d="M-7 -13h1v1h-1zM6 -13h1v1h-1zM11 -1h1v1h-1zM-12 1h1v1h-1zM-11 4h1v1h-1zM10 4h1v1h-1z"/><path fill="#969696" d="M-11 -9h1v1h-1zM10 -9h1v1h-1zM-12 -7h1v1h-1zM11 -7h1v1h-1zM-12 0h1v1h-1zM-7 7h1v1h-1zM6 7h1v1h-1zM-6 8h1v1h-1zM5 8h1v1h-1z"/><path fill="#989898" d="M11 -2h1v1h-1zM-10 5h1v1h-1zM9 5h1v1h-1z"/><path fill="#9a9a9a" d="M-8 -12h1v1h-1zM7 -12h1v1h-1zM-12 -1h1v1h-1zM7 6h1v1h-1z"/><path fill="#9c9c9c" d="M-4 -14h1v1h-1zM3 -14h1v1h-1zM-10 -10h1v1h-1zM9 -10h1v1h-1zM-12 -6h1v1h-1zM11 -6h1v1h-1zM11 -3h1v1h-1zM-12 -2h1v1h-1zM-11 3h1v1h-1zM10 3h1v1h-1zM-8 6h1v1h-1z"/><path fill="#9e9e9e" d="M-9 -11h1v1h-1zM8 -11h1v1h-1zM-12 -5h1v1h-1zM11 -5h1v1h-1zM-12 -4h1v1h-1zM11 -4h1v1h-1zM-12 -3h1v1h-1zM-4 9h1v1h-1zM3 9h1v1h-1zM-2 10h1v1h-1zM1 10h1v1h-1z"/><path fill="#a0a0a0" d="M-6 -13h1v1h-1zM5 -13h1v1h-1z"/><path fill="#a2a2a2" d="M-11 -8h1v1h-1zM10 -8h1v1h-1zM-11 2h1v1h-1zM10 2h1v1h-1zM8 5h1v1h-1z"/><path fill="#a4a4a4" d="M-3 -14h1v1h-1zM2 -14h1v1h-1zM10 1h1v1h-1zM-9 5h1v1h-1zM-5 8h1v1h-1zM4 8h1v1h-1z"/><path fill="#a6a6a6" d="M10 0h1v1h-1zM-11 1h1v1h-1zM-10 4h1v1h-1zM9 4h1v1h-1zM-6 7h1v1h-1zM5 7h1v1h-1z"/><path fill="#a8a8a8" d="M6 6h1v1h-1z"/><path fill="#aaaaaa" d="M-2 -14h1v1h-1zM1 -14h1v1h-1zM4 -13h1v1h-1zM-7 -12h1v1h-1zM6 -12h1v1h-1zM-10 -9h1v1h-1zM9 -9h1v1h-1zM-11 -7h1v1h-1zM10 -7h1v1h-1zM10 -1h1v1h-1zM-11 0h1v1h-1zM-7 6h1v1h-1zM-3 9h1v1h-1zM2 9h1v1h-1zM-1 10h2v1h-2z"/><path fill="#acacac" d="M0 -14h1v1h-1zM-5 -13h1v1h-1zM10 -2h1v1h-1zM-11 -1h1v1h-1z"/><path fill="#aeaeae" d="M-1 -14h1v1h-1zM-8 -11h1v1h-1zM7 -11h1v1h-1zM-9 -10h1v1h-1zM8 -10h1v1h-1zM-11 -2h1v1h-1zM-10 3h1v1h-1zM9 3h1v1h-1zM-8 5h1v1h-1zM7 5h1v1h-1z"/><path fill="#b0b0b0" d="M-11 -6h1v1h-1zM10 -6h1v1h-1zM-11 -3h1v1h-1zM10 -3h1v1h-1zM-4 8h1v1h-1z"/><path fill="#b2b2b2" d="M-11 -5h1v1h-1zM10 -5h1v1h-1zM-11 -4h1v1h-1zM10 -4h1v1h-1zM-9 4h1v1h-1zM8 4h1v1h-1zM3 8h1v1h-1z"/><path fill="#b4b4b4" d="M-4 -13h1v1h-1zM3 -13h1v1h-1zM-10 -8h1v1h-1zM9 -8h1v1h-1zM-10 2h1v1h-1zM9 2h1v1h-1zM-5 7h1v1h-1zM4 7h1v1h-1zM-2 9h1v1h-1zM1 9h1v1h-1z"/><path fill="#b6b6b6" d="M-6 -12h1v1h-1zM5 -12h1v1h-1zM-6 6h1v1h-1zM5 6h1v1h-1z"/><path fill="#b8b8b8" d="M-10 1h1v1h-1zM9 1h1v1h-1zM6 5h1v1h-1z"/><path fill="#bababa" d="M-3 -13h1v1h-1zM2 -13h1v1h-1zM-9 -9h1v1h-1zM8 -9h1v1h-1zM-10 0h1v1h-1zM9 0h1v1h-1zM-9 3h1v1h-1zM-7 5h1v1h-1zM-3 8h1v1h-1zM2 8h1v1h-1z"/><path fill="#bcbcbc" d="M-7 -11h1v1h-1zM6 -11h1v1h-1zM-8 -10h1v1h-1zM7 -10h1v1h-1zM-10 -7h1v1h-1zM9 -7h1v1h-1zM9 -1h1v1h-1zM8 3h1v1h-1zM-8 4h1v1h-1zM7 4h1v1h-1zM-1 9h2v1h-2z"/><path fill="#bebebe" d="M-2 -13h1v1h-1zM1 -13h1v1h-1zM-5 -12h1v1h-1zM4 -12h1v1h-1zM-10 -1h1v1h-1zM-4 7h1v1h-1z"/><path fill="#c0c0c0" d="M-1 -13h2v1h-2zM-10 -3h1v1h-1zM-10 -2h1v1h-1zM9 -2h1v1h-1zM3 7h1v1h-1z"/><path fill="#c2c2c2" d="M-10 -6h1v1h-1zM9 -6h1v1h-1zM-10 -5h1v1h-1zM-10 -4h1v1h-1zM9 -4h1v1h-1zM9 -3h1v1h-1zM-9 2h1v1h-1zM8 2h1v1h-1zM-5 6h1v1h-1zM4 6h1v1h-1zM-2 8h1v1h-1zM1 8h1v1h-1z"/><path fill="#c4c4c4" d="M-9 -8h1v1h-1zM8 -8h1v1h-1zM9 -5h1v1h-1zM-6 5h1v1h-1zM5 5h1v1h-1z"/><path fill="#c6c6c6" d="M-4 -12h1v1h-1zM3 -12h1v1h-1zM-6 -11h1v1h-1zM5 -11h1v1h-1zM-9 1h1v1h-1zM-8 3h1v1h-1zM7 3h1v1h-1zM-7 4h1v1h-1zM6 4h1v1h-1zM-1 8h2v1h-2z"/><path fill="#c8c8c8" d="M-8 -9h1v1h-1zM7 -9h1v1h-1zM-9 0h1v1h-1zM8 1h1v1h-1zM-3 7h1v1h-1zM2 7h1v1h-1z"/><path fill="#cacaca" d="M-7 -10h1v1h-1zM6 -10h1v1h-1zM-9 -7h1v1h-1zM-9 -1h1v1h-1z"/><path fill="#cccccc" d="M-3 -12h1v1h-1zM2 -12h1v1h-1zM8 -7h1v1h-1zM-9 -2h1v1h-1zM8 0h1v1h-1zM-8 2h1v1h-1zM-4 6h1v1h-1zM3 6h1v1h-1zM-2 7h1v1h-1zM1 7h1v1h-1z"/><path fill="#cecece" d="M-2 -12h1v1h-1zM1 -12h1v1h-1zM-5 -11h1v1h-1zM4 -11h1v1h-1zM-9 -6h1v1h-1zM-9 -3h1v1h-1zM8 -1h1v1h-1zM7 2h1v1h-1zM-7 3h1v1h-1zM4 5h1v1h-1zM-1 7h2v1h-2z"/><path fill="#d0d0d0" d="M-1 -12h2v1h-2zM-8 -8h1v1h-1zM8 -6h1v1h-1zM-9 -5h1v1h-1zM-9 -4h1v1h-1zM8 -3h1v1h-1zM8 -2h1v1h-1zM6 3h1v1h-1zM-6 4h1v1h-1zM5 4h1v1h-1zM-5 5h1v1h-1z"/><path fill="#d2d2d2" d="M7 -8h1v1h-1zM8 -5h1v1h-1zM8 -4h1v1h-1zM-8 1h1v1h-1z"/><path fill="#d4d4d4" d="M-4 -11h1v1h-1zM3 -11h1v1h-1zM-6 -10h1v1h-1zM5 -10h1v1h-1zM-7 -9h1v1h-1zM6 -9h1v1h-1zM-8 0h1v1h-1zM7 1h1v1h-1zM-3 6h1v1h-1zM2 6h1v1h-1z"/><path fill="#d6d6d6" d="M-8 -7h1v1h-1zM-8 -1h1v1h-1zM-7 2h1v1h-1zM-2 6h4v1h-4z"/><path fill="#d8d8d8" d="M-3 -11h1v1h-1zM7 -7h1v1h-1zM-8 -6h1v1h-1zM-8 -3h1v1h-1zM-8 -2h1v1h-1zM7 0h1v1h-1zM6 2h1v1h-1zM-6 3h1v1h-1zM-4 5h1v1h-1zM3 5h1v1h-1z"/><path fill="#dadada" d="M2 -11h1v1h-1zM-5 -10h1v1h-1zM4 -10h1v1h-1zM-7 -8h1v1h-1zM-8 -5h1v1h-1zM-8 -4h1v1h-1zM5 3h1v1h-1zM-5 4h1v1h-1zM4 4h1v1h-1z"/><path fill="#dcdcdc" d="M-2 -11h4v1h-4zM-6 -9h1v1h-1zM6 -8h1v1h-1zM7 -6h1v1h-1zM7 -5h1v1h-1zM7 -2h1v1h-1zM7 -1h1v1h-1zM-7 1h1v1h-1z"/><path fill="#dedede" d="M5 -9h1v1h-1zM-7 -7h1v1h-1zM7 -4h1v1h-1zM7 -3h1v1h-1zM-7 0h1v1h-1zM6 1h1v1h-1zM-3 5h1v1h-1zM2 5h1v1h-1z"/><path fill="#e0e0e0" d="M-4 -10h1v1h-1zM3 -10h1v1h-1zM-7 -6h1v1h-1zM-7 -1h1v1h-1zM-6 2h1v1h-1zM5 2h1v1h-1zM-2 5h4v1h-4z"/><path fill="#e2e2e2" d="M-3 -10h1v1h-1zM-5 -9h1v1h-1zM-6 -8h1v1h-1zM6 -7h1v1h-1zM-7 -5h1v1h-1zM-7 -4h1v1h-1zM-7 -3h1v1h-1zM-7 -2h1v1h-1zM6 0h1v1h-1zM-5 3h1v1h-1zM4 3h1v1h-1zM-4 4h1v1h-1zM3 4h1v1h-1z"/><path fill="#e4e4e4" d="M-2 -10h1v1h-1zM1 -10h2v1h-2zM4 -9h1v1h-1zM5 -8h1v1h-1zM6 -6h1v1h-1zM-6 1h1v1h-1z"/><path fill="#e6e6e6" d="M-1 -10h2v1h-2zM-6 -7h1v1h-1zM6 -5h1v1h-1zM6 -4h1v1h-1zM6 -3h1v1h-1zM6 -2h1v1h-1zM6 -1h1v1h-1zM-6 0h1v1h-1zM5 1h1v1h-1z"/><path fill="#e8e8e8" d="M-4 -9h1v1h-1zM3 -9h1v1h-1zM-5 -8h1v1h-1zM5 -7h1v1h-1zM-6 -6h1v1h-1zM-6 -5h1v1h-1zM-6 -4h1v1h-1zM-6 -3h1v1h-1zM-6 -2h1v1h-1zM-6 -1h1v1h-1zM-5 2h1v1h-1zM4 2h1v1h-1zM-3 4h1v1h-1zM2 4h1v1h-1z"/><path fill="#eaeaea" d="M-3 -9h1v1h-1zM2 -9h1v1h-1zM4 -8h1v1h-1zM5 0h1v1h-1zM-4 3h1v1h-1zM3 3h1v1h-1zM-2 4h4v1h-4z"/><path fill="#ececec" d="M-2 -9h4v1h-4zM-4 -8h1v1h-1zM-5 -7h1v1h-1zM-5 -6h1v1h-1zM5 -6h1v1h-1zM5 -5h1v1h-1zM5 -4h1v1h-1zM5 -1h1v1h-1zM-5 1h1v1h-1z"/><path fill="#eeeeee" d="M-3 -8h1v1h-1zM3 -8h1v1h-1zM-4 -7h1v1h-1zM4 -7h1v1h-1zM-5 -5h1v1h-1zM-5 -4h1v1h-1zM-5 -3h1v1h-1zM5 -3h1v1h-1zM-5 -2h1v1h-1zM5 -2h1v1h-1zM-5 -1h1v1h-1zM-5 0h1v1h-1zM4 1h1v1h-1zM-4 2h1v1h-1zM3 2h1v1h-1zM-3 3h1v1h-1zM2 3h1v1h-1z"/><path fill="#f0f0f0" d="M-2 -8h5v1h-5zM-4 -6h1v1h-1zM4 -6h1v1h-1zM-4 -5h1v1h-1zM4 -5h1v1h-1zM-4 -4h1v1h-1zM-4 -3h1v1h-1zM4 0h1v1h-1z"/><path fill="#f2f2f2" d="M-3 -7h1v1h-1zM3 -7h1v1h-1zM-3 -6h1v1h-1zM-3 -5h1v1h-1zM-3 -4h3v1h-3zM4 -4h1v1h-1zM-3 -3h4v1h-4zM4 -3h1v1h-1zM-4 -2h5v1h-5zM4 -2h1v1h-1zM-4 -1h1v1h-1zM4 -1h1v1h-1zM-4 0h1v1h-1zM-4 1h1v1h-1zM3 1h1v1h-1zM-3 2h1v1h-1zM2 2h1v1h-1zM-2 3h1v1h-1zM1 3h1v1h-1z"/><path fill="#f4f4f4" d="M-2 -7h5v1h-5zM-2 -6h1v1h-1zM3 -6h1v1h-1zM-2 -5h1v1h-1zM3 -5h1v1h-1zM0 -4h4v1h-4zM1 -3h3v1h-3zM1 -2h3v1h-3zM-3 -1h7v1h-7zM-3 0h1v1h-1zM-1 0h2v1h-2zM3 0h1v1h-1zM-3 1h1v1h-1zM-1 3h2v1h-2z"/><path fill="#f6f6f6" d="M-1 -6h4v1h-4zM-1 -5h4v1h-4zM-2 0h1v1h-1zM1 0h2v1h-2zM-2 1h5v1h-5zM-2 2h4v1h-4z"/></g></g>
<path d="M1014.4 555.7l8.6-11.1 10.3-11 10.1-9 12.1-9M1229.4 515.6l12.1 9 11.9 10.8 10.1 11.2 8.9 12M1272.4 702.5l-6.8 5.1-7.2 4.2-8 3.9-16 6.6-7 4-5.8 5.3-11.7 14-7.5 8-7 6.6-6 4.6-6 3.5-5 2-6 1.4-5 0.3-6-0.6-5-1.4-4-1.8-5.9-3.6-3.1-1.2-3 0.8-10 5.4-8 2-5 0.3-5-0.5-5-1.3-4-1.6-7-4-8-6.4-10-9.9-13-14.6-5-4.4-6-3.7-23-11.2-9.5-5.7-7.5-5.5M1014.4 577.2l4.8-9.6 5.2-8.4 6.2-8.6 6.9-8 7.9-7.8 8-6.9 8.6-6.3 9.5-6M1213.8 515.6l9.6 6 9.3 7 9.1 8 7.8 8 6.8 8.2 6.2 8.8 5.2 9 4.6 9.9M1272.4 676.9l-2.8 5.7-3.7 6-3.9 5-4.9 5-4.7 4-5.8 4-19.2 10.2-7 4.7-6 5.5-12.2 13.6-7.8 6.7-7 4.5-8 3.7-8 2.2-8 0.7-20-1.7-17 1.5-8-0.2-10-2-9-3.9-7-4.4-6-4.7-15-15.4-5.9-5-6.1-4-17-9.7-10.8-8.3-5.1-5-5.1-6-4-6-3-5.7M1194 515.6l10.4 5.1 10 6 9.5 6.9 8.5 7.5 8.2 8.5 6.8 8.5 6.2 9.5 4.6 9 3.2 8 2.5 9 1.6 9 0.7 10-0.2 9-0.7 9-4.9 34-2.4 9-3.3 8-4.1 7-4.7 6-4.1 4-4.4 3.4-16 8.8-8 5.6-6 5.5-10.5 11.7-3.5 3-11 6.5-11.6 4.5-12.4 2.8-15 1.4-15-1.4-13-2.9-13-5.2-6-3.3-5-3.4-12.8-13-5.5-5-7.1-5-16.6-9.8-8.1-7.2-5.5-7-4.7-8-3.8-9-2.8-10-1.8-10-2.7-21-0.8-10 0-9 0.9-9 1.7-9 2.6-9 3.7-9 4.7-9 5.9-9 7.3-9 7.8-8 8.6-7.4 9.1-6.6 9.9-6 10.2-5M1162.2 515.6l10.2 2.8 9.3 3.2 9.7 4.2 9.3 4.8 7.7 4.8 7 5.3 7 6.2 7 7.3 6 7.4 4.7 7 4.3 7.8 3 7.2 2.4 8 1.3 8 0.5 8-0.3 9-1.2 10-2.9 17-1.7 17-1.5 9-1.7 6-2.3 6-2.6 5.1-3.5 4.9-4.6 4-13.9 7.5-7 4.6-7 5.9-12 11.9-7 5.1-9.3 5-11.5 5-11.3 4-6.9 1.5-7-1.3-11.7-4.2-11.5-5-9.4-5-7.4-5.2-11.3-10.8-6.7-5.6-7-4.8-14-8-4.2-3.6-3.7-5-3.3-6-2.9-7-2.2-7-3.8-18-3-24-0.6-11 0.2-9 0.9-8 1.8-8 2.8-8 3.7-8 4.7-8 5.9-8 6.7-7.6 7-6.6 8-6.4 8.1-5.4 9.2-5 9.7-4.3 10.2-3.7 10.9-3M1144.4 733.7l-5-0.5-5-1.9-9-4.8-11.1-6.9-42.2-33-3.7-3.4-3.1-3.6-2.9-4.6-2.4-5.4-3.9-14-4.1-26-1.7-22 0.2-8 1.1-7 1.9-6 2.9-6.4 4.3-7.6 5.7-8 6-7 6.2-6 6.8-5.5 6.9-4.5 7.5-4 8.6-3.7 9-3.2 9-2.4 9-1.6 7-0.4 7 0.3 9 1.5 9 2.3 9 3 9 3.9 8 4.2 6.5 4.1 6.5 5 6.4 6 6.3 7 5.2 7 4.2 7 2.9 6.1 2.4 6.9 1.2 6 0.5 8-1 16-5.5 38-3.2 12-4.1 8-5.6 6-16.7 12.6-26 21.4-7.6 5-10.5 6-5.9 2.8-5 1.3M1158.4 698.6l-5 0.1-10-0.9-11 0.9-5-0.2-7-1.5-6-3.1-6-4.5-6-5.5-5-5.3-5.6-7-4-6-3.2-6-2.3-6-1.7-6-1.8-10-1.2-10-1-24 0.9-10 3.3-10 3.1-6 4.2-6 4.4-5 5.6-5 6.2-4 6-3 7.1-2.7 7-1.9 7-1.3 7-0.6 9 0 7 0.5 7 1.2 6.8 1.8 12.1 5 5.2 3 5.5 4 4.5 4 4.5 5 3.7 5 3.5 6 2.6 6 1.6 5.5 1.1 6.5 0.4 8-1 24-1.9 12-1.6 5-2.6 6-3.6 6-5.5 7-8.9 10-8.3 8-6.1 5-5 3.2-5 1.9-5 0.9" fill="none" stroke="#1a1a1a" stroke-width="0.8" stroke-opacity="0.9"/>
</g>
<use href="#e1" x="1143.0" y="644.2" fill="none" stroke="#111" stroke-width="1.1"/>
<circle cx="1143.0" cy="644.2" r="127.15" fill="none" stroke="#1a1a1a" stroke-width="2.9"/>
<path d="M1120.1,518.3L1143.0,496.1L1165.9,518.3" fill="none" stroke="#1a1a1a" stroke-width="2.0" stroke-linejoin="miter"/>
<path d="M1269.4,630.1 L1272.7,624.5 L1274.7,624.3 L1277.8,625.2 L1280.8,630.1 L1280.3,645.6 L1282.1,667.9 L1278.3,677.6 L1272.7,679.4 L1267.4,674.7" fill="none" stroke="#1a1a1a" stroke-width="2.0" stroke-linejoin="round"/>
<path d="M1016.6,630.1 L1013.3,624.5 L1011.3,624.3 L1008.2,625.2 L1005.2,630.1 L1005.7,645.6 L1003.9,667.9 L1007.7,677.6 L1013.3,679.4 L1018.6,674.7" fill="none" stroke="#1a1a1a" stroke-width="2.0" stroke-linejoin="round"/>
<text x="0" y="913" font-size="62" font-weight="bold" fill="#231f20" text-anchor="start" >c.</text>
<text x="0" y="1249" font-size="62" font-weight="bold" fill="#231f20" text-anchor="start" >d.</text>
<text x="89.5" y="933.7" font-size="36.05" font-weight="bold" fill="#231f20" text-anchor="start">Density (min<tspan font-size="21.6" dy="-13.7">-1</tspan><tspan dy="13.7">)</tspan></text>
<text x="402" y="935.2" font-size="36.05" font-weight="bold" fill="#231f20" text-anchor="start" >Amplitude (μV)</text>
<text x="719.5" y="935" font-size="36.05" font-weight="bold" fill="#231f20" text-anchor="start">D-Slope (μV.s<tspan font-size="21.6" dy="-13.7">-1</tspan><tspan dy="13.7">)</tspan></text>
<text x="1022.8" y="935" font-size="36.05" font-weight="bold" fill="#231f20" text-anchor="start">U-Slope (μV.s<tspan font-size="21.6" dy="-13.7">-1</tspan><tspan dy="13.7">)</tspan></text>
<rect x="315.5" y="1130.3" width="30.399999999999977" height="136.0" fill="url(#cbg)" filter="url(#cm0)"/>
<rect x="315.5" y="1130.3" width="30.399999999999977" height="136.0" fill="none" stroke="#5a5a5a" stroke-width="1.3"/>
<path d="M345.9,1150.3h-4" stroke="#555" stroke-width="1"/>
<path d="M345.9,1182.3h-4" stroke="#555" stroke-width="1"/>
<path d="M345.9,1214h-4" stroke="#555" stroke-width="1"/>
<path d="M345.9,1246.2h-4" stroke="#555" stroke-width="1"/>
<text x="352" y="1138.3" font-size="25.5" fill="#231f20">8</text>
<text x="352" y="1270.3" font-size="25.5" fill="#231f20">3</text>
<text transform="translate(364.8,1172.5) rotate(90) scale(0.94,1)" font-size="26" fill="#231f20">min<tspan font-size="15" dy="-10">-1</tspan></text>
<rect x="634" y="1133.4" width="31.399999999999977" height="136.39999999999986" fill="url(#cbg)" filter="url(#cm0)"/>
<rect x="634" y="1133.4" width="31.399999999999977" height="136.39999999999986" fill="none" stroke="#5a5a5a" stroke-width="1.3"/>
<path d="M665.4,1161.5h-4" stroke="#555" stroke-width="1"/>
<path d="M665.4,1201.3h-4" stroke="#555" stroke-width="1"/>
<path d="M665.4,1241h-4" stroke="#555" stroke-width="1"/>
<text x="671" y="1140.3" font-size="25.5" fill="#231f20">60</text>
<text x="671" y="1272.6" font-size="25.5" fill="#231f20">25</text>
<text transform="translate(682,1186.5) rotate(90) scale(0.95,1)" font-size="26" fill="#231f20">μV</text>
<rect x="958.5" y="1134.5" width="32.10000000000002" height="133.5999999999999" fill="url(#cbg)" filter="url(#cm0)"/>
<rect x="958.5" y="1134.5" width="32.10000000000002" height="133.5999999999999" fill="none" stroke="#5a5a5a" stroke-width="1.3"/>
<path d="M990.6,1160.5h-4" stroke="#555" stroke-width="1"/>
<path d="M990.6,1195.4h-4" stroke="#555" stroke-width="1"/>
<path d="M990.6,1230.5h-4" stroke="#555" stroke-width="1"/>
<path d="M990.6,1265h-4" stroke="#555" stroke-width="1"/>
<text x="997" y="1141" font-size="25.5" fill="#231f20">480</text>
<text x="997" y="1270.7" font-size="25.5" fill="#231f20">250</text>
<text transform="translate(1007.5,1172.1) rotate(90) scale(0.95,1)" font-size="26" fill="#231f20">μV.s<tspan font-size="15" dy="-10">-1</tspan></text>
<rect x="1263.3" y="1134.6" width="31.90000000000009" height="133.70000000000005" fill="url(#cbg)" filter="url(#cm0)"/>
<rect x="1263.3" y="1134.6" width="31.90000000000009" height="133.70000000000005" fill="none" stroke="#5a5a5a" stroke-width="1.3"/>
<path d="M1295.2,1160.5h-4" stroke="#555" stroke-width="1"/>
<path d="M1295.2,1195.4h-4" stroke="#555" stroke-width="1"/>
<path d="M1295.2,1230.5h-4" stroke="#555" stroke-width="1"/>
<path d="M1295.2,1265h-4" stroke="#555" stroke-width="1"/>
<text x="1302" y="1141.2" font-size="25.5" fill="#231f20">530</text>
<text x="1302" y="1270.7" font-size="25.5" fill="#231f20">250</text>
<text transform="translate(1311.5,1171.8) rotate(90) scale(0.95,1)" font-size="26" fill="#231f20">μV.s<tspan font-size="15" dy="-10">-1</tspan></text>
<text transform="translate(69,1362.5) rotate(-90) scale(1.0,1)" font-size="58" font-weight="bold" fill="#0f9549" text-anchor="middle">ON</text>
<text transform="translate(72,1606.8) rotate(-90) scale(0.96,1)" font-size="58" font-weight="bold" fill="#ed8037" text-anchor="middle">MW</text>
<text transform="translate(72,1846.5) rotate(-90) scale(0.96,1)" font-size="58" font-weight="bold" fill="#52a0cf" text-anchor="middle">MB</text>
<g clip-path="url(#c3)"><g filter="url(#cm)"><g transform="translate(209.8 1070.8) scale(9.0)" shape-rendering="crispEdges"><path fill="#000000" d="M-2 -13h6v1h-6zM-6 -12h12v1h-12zM-6 -11h13v1h-13zM-6 -10h2v1h-2zM5 -10h1v1h-1z"/><path fill="#020202" d="M-3 -13h1v1h-1zM4 -13h1v1h-1zM-7 -11h1v1h-1z"/><path fill="#040404" d="M6 -12h1v1h-1zM6 -10h1v1h-1z"/><path fill="#060606" d="M-7 -10h1v1h-1zM-4 -10h1v1h-1z"/><path fill="#0a0a0a" d="M-4 -13h1v1h-1zM4 -10h1v1h-1z"/><path fill="#0c0c0c" d="M-3 -10h1v1h-1z"/><path fill="#0e0e0e" d="M-2 -10h1v1h-1z"/><path fill="#101010" d="M5 -13h1v1h-1zM-1 -10h1v1h-1z"/><path fill="#121212" d="M0 -10h1v1h-1zM3 -10h1v1h-1z"/><path fill="#141414" d="M-5 -13h1v1h-1zM-7 -12h1v1h-1zM7 -11h1v1h-1zM1 -10h2v1h-2z"/><path fill="#161616" d="M0 -14h2v1h-2z"/><path fill="#181818" d="M-1 -14h1v1h-1z"/><path fill="#1c1c1c" d="M2 -14h1v1h-1zM7 -10h1v1h-1zM-6 -9h1v1h-1z"/><path fill="#1e1e1e" d="M-2 -14h1v1h-1zM-8 -11h1v1h-1zM-8 -10h1v1h-1z"/><path fill="#202020" d="M-5 -9h1v1h-1z"/><path fill="#222222" d="M-6 -13h1v1h-1zM-7 -9h1v1h-1zM-3 13h1v1h-1z"/><path fill="#242424" d="M7 -12h1v1h-1z"/><path fill="#262626" d="M-4 -9h1v1h-1zM2 13h1v1h-1z"/><path fill="#282828" d="M-3 -14h1v1h-1z"/><path fill="#2c2c2c" d="M-3 -9h1v1h-1z"/><path fill="#2e2e2e" d="M6 -9h1v1h-1zM-2 13h1v1h-1z"/><path fill="#303030" d="M-8 -9h1v1h-1zM1 13h1v1h-1z"/><path fill="#323232" d="M-8 -12h1v1h-1zM5 -9h1v1h-1zM-6 12h1v1h-1z"/><path fill="#343434" d="M-2 -9h1v1h-1zM-8 11h1v1h-1zM-1 13h2v1h-2z"/><path fill="#363636" d="M7 -9h1v1h-1z"/><path fill="#383838" d="M8 -10h1v1h-1zM-1 -9h1v1h-1z"/><path fill="#3a3a3a" d="M8 -11h1v1h-1zM-9 -10h1v1h-1zM4 -9h1v1h-1z"/><path fill="#3e3e3e" d="M0 -9h1v1h-1zM3 -9h1v1h-1zM5 12h1v1h-1z"/><path fill="#404040" d="M-9 -11h1v1h-1zM-9 -9h1v1h-1zM1 -9h1v1h-1z"/><path fill="#424242" d="M2 -9h1v1h-1zM-9 10h1v1h-1z"/><path fill="#444444" d="M8 -9h1v1h-1zM-6 -8h1v1h-1z"/><path fill="#464646" d="M-7 -8h1v1h-1zM-12 7h1v1h-1zM-10 9h1v1h-1z"/><path fill="#484848" d="M-11 8h1v1h-1zM7 11h1v1h-1zM-5 12h1v1h-1z"/><path fill="#4a4a4a" d="M-8 -8h1v1h-1zM-5 -8h1v1h-1z"/><path fill="#4e4e4e" d="M4 12h1v1h-1z"/><path fill="#525252" d="M-9 -8h1v1h-1zM-4 -8h1v1h-1z"/><path fill="#565656" d="M-10 -10h1v1h-1zM-10 -9h1v1h-1zM-7 11h1v1h-1z"/><path fill="#585858" d="M9 -10h1v1h-1zM-13 5h1v1h-1zM-4 12h1v1h-1z"/><path fill="#5a5a5a" d="M9 -9h1v1h-1zM-3 -8h1v1h-1zM7 -8h2v1h-2zM8 10h1v1h-1z"/><path fill="#5c5c5c" d="M6 -8h1v1h-1zM3 12h1v1h-1z"/><path fill="#5e5e5e" d="M-10 -8h1v1h-1zM5 -8h1v1h-1z"/><path fill="#626262" d="M-2 -8h1v1h-1zM9 -8h1v1h-1zM-12 6h1v1h-1zM11 7h1v1h-1zM9 9h1v1h-1z"/><path fill="#646464" d="M4 -8h1v1h-1zM10 8h1v1h-1zM6 11h1v1h-1zM-3 12h1v1h-1z"/><path fill="#666666" d="M-9 -7h1v1h-1zM-8 10h1v1h-1zM2 12h1v1h-1z"/><path fill="#686868" d="M-1 -8h1v1h-1zM-10 -7h1v1h-1zM-8 -7h3v1h-3zM-13 4h1v1h-1zM-11 7h1v1h-1zM-10 8h1v1h-1z"/><path fill="#6a6a6a" d="M3 -8h1v1h-1zM-9 9h1v1h-1z"/><path fill="#6c6c6c" d="M0 -8h1v1h-1zM-14 2h1v1h-1zM12 5h1v1h-1z"/><path fill="#6e6e6e" d="M-11 -9h1v1h-1zM-11 -8h1v1h-1zM1 -8h2v1h-2zM9 -7h1v1h-1zM-2 12h1v1h-1zM1 12h1v1h-1z"/><path fill="#707070" d="M8 -7h1v1h-1z"/><path fill="#727272" d="M-6 11h1v1h-1z"/><path fill="#747474" d="M10 -9h1v1h-1zM10 -8h1v1h-1zM-11 -7h1v1h-1zM-5 -7h1v1h-1zM-1 12h2v1h-2z"/><path fill="#767676" d="M-13 3h1v1h-1zM12 4h1v1h-1zM-12 5h1v1h-1z"/><path fill="#787878" d="M7 -7h1v1h-1zM10 -7h1v1h-1zM-10 -6h1v1h-1zM-14 1h1v1h-1zM11 6h1v1h-1zM7 10h1v1h-1zM5 11h1v1h-1z"/><path fill="#7a7a7a" d="M13 2h1v1h-1z"/><path fill="#7c7c7c" d="M-9 -6h1v1h-1zM9 -6h1v1h-1z"/><path fill="#7e7e7e" d="M-11 -6h1v1h-1zM-13 2h1v1h-1zM12 3h1v1h-1zM8 9h1v1h-1z"/><path fill="#808080" d="M6 -7h1v1h-1zM-8 -6h1v1h-1zM-11 6h1v1h-1zM10 7h1v1h-1zM9 8h1v1h-1z"/><path fill="#828282" d="M-4 -7h1v1h-1zM5 -7h1v1h-1zM-7 -6h1v1h-1zM8 -6h1v1h-1zM-14 0h1v1h-1zM12 2h1v1h-1zM-12 4h1v1h-1zM-10 7h1v1h-1zM-5 11h1v1h-1z"/><path fill="#848484" d="M-12 -8h1v1h-1zM-12 -7h1v1h-1zM10 -6h1v1h-1zM13 1h1v1h-1zM11 5h1v1h-1zM-9 8h1v1h-1zM4 11h1v1h-1z"/><path fill="#868686" d="M4 -7h1v1h-1zM-13 1h1v1h-1z"/><path fill="#888888" d="M-12 -6h1v1h-1zM-6 -6h1v1h-1zM12 1h1v1h-1zM-12 3h1v1h-1zM11 3h1v1h-1zM11 4h1v1h-1zM-8 9h1v1h-1zM-7 10h1v1h-1z"/><path fill="#8a8a8a" d="M-14 -1h1v1h-1zM11 2h1v1h-1z"/><path fill="#8c8c8c" d="M-3 -7h1v1h-1zM7 -6h1v1h-1zM-10 -5h1v1h-1zM-13 0h1v1h-1zM13 0h1v1h-1zM11 1h1v1h-1zM-12 2h1v1h-1zM-4 11h1v1h-1zM3 11h1v1h-1z"/><path fill="#8e8e8e" d="M11 -8h1v1h-1zM3 -7h1v1h-1zM11 -7h1v1h-1zM-11 -5h1v1h-1zM12 0h1v1h-1z"/><path fill="#909090" d="M-12 -5h1v1h-1zM-9 -5h1v1h-1zM9 -5h1v1h-1zM-14 -2h1v1h-1zM11 0h1v1h-1zM-12 1h1v1h-1zM-11 5h1v1h-1z"/><path fill="#929292" d="M-2 -7h1v1h-1zM11 -6h1v1h-1zM8 -5h1v1h-1zM-13 -1h1v1h-1zM10 1h1v1h-1zM10 2h1v1h-1zM10 3h1v1h-1zM10 6h1v1h-1zM6 10h1v1h-1zM2 11h1v1h-1z"/><path fill="#949494" d="M-13 -6h1v1h-1zM6 -6h1v1h-1zM-8 -5h1v1h-1zM10 -5h1v1h-1zM11 -1h3v1h-3zM-12 0h1v1h-1zM10 0h1v1h-1zM-11 2h1v1h-1zM-11 3h1v1h-1zM-11 4h1v1h-1zM-10 6h1v1h-1zM-9 7h1v1h-1zM-3 11h1v1h-1z"/><path fill="#969696" d="M-1 -7h1v1h-1zM2 -7h1v1h-1zM-13 -5h1v1h-1zM-12 -4h1v1h-1zM-14 -3h1v1h-1zM-13 -2h1v1h-1zM10 -1h1v1h-1zM-11 1h1v1h-1zM10 4h1v1h-1zM9 7h1v1h-1zM8 8h1v1h-1zM7 9h1v1h-1zM1 11h1v1h-1z"/><path fill="#989898" d="M-7 -5h1v1h-1zM-13 -4h1v1h-1zM-11 -4h1v1h-1zM-13 -3h1v1h-1zM11 -2h1v1h-1zM-12 -1h1v1h-1zM-11 0h1v1h-1zM-2 11h1v1h-1z"/><path fill="#9a9a9a" d="M0 -7h2v1h-2zM-5 -6h1v1h-1zM7 -5h1v1h-1zM11 -5h1v1h-1zM-10 -4h1v1h-1zM-12 -3h1v1h-1zM-12 -2h1v1h-1zM10 -2h1v1h-1zM12 -2h1v1h-1zM9 0h1v1h-1zM-10 1h1v1h-1zM9 1h1v1h-1zM-10 2h1v1h-1zM9 2h1v1h-1zM10 5h1v1h-1zM-8 8h1v1h-1zM0 11h1v1h-1z"/><path fill="#9c9c9c" d="M5 -6h1v1h-1zM9 -4h2v1h-2zM-11 -3h1v1h-1zM10 -3h2v1h-2zM-11 -2h1v1h-1zM-11 -1h1v1h-1zM9 -1h1v1h-1zM-10 0h1v1h-1zM-10 3h1v1h-1zM9 3h1v1h-1zM-1 11h1v1h-1z"/><path fill="#9e9e9e" d="M-9 -4h1v1h-1zM8 -4h1v1h-1zM11 -4h1v1h-1zM9 -3h1v1h-1zM9 -2h1v1h-1zM13 -2h1v1h-1zM-10 -1h1v1h-1zM-9 1h1v1h-1zM-9 2h1v1h-1zM-9 3h1v1h-1zM-10 4h1v1h-1zM-10 5h1v1h-1zM-9 6h1v1h-1zM-6 10h1v1h-1z"/><path fill="#a0a0a0" d="M-10 -3h1v1h-1zM12 -3h1v1h-1zM-10 -2h1v1h-1zM-9 0h1v1h-1zM-8 7h1v1h-1z"/><path fill="#a2a2a2" d="M4 -6h1v1h-1zM-6 -5h1v1h-1zM6 -5h1v1h-1zM-8 -4h1v1h-1zM7 -4h1v1h-1zM8 -3h1v1h-1zM-9 -1h1v1h-1zM-9 4h1v1h-1zM9 4h1v1h-1zM-9 5h1v1h-1zM-7 9h1v1h-1zM5 10h1v1h-1z"/><path fill="#a4a4a4" d="M12 -6h1v1h-1zM12 -5h1v1h-1zM12 -4h1v1h-1zM-9 -3h1v1h-1zM-9 -2h1v1h-1zM8 -2h1v1h-1zM8 -1h1v1h-1zM8 0h1v1h-1zM8 1h1v1h-1zM8 2h1v1h-1zM-8 6h1v1h-1zM9 6h1v1h-1zM8 7h1v1h-1z"/><path fill="#a6a6a6" d="M-7 -4h1v1h-1zM13 -3h1v1h-1zM-8 2h1v1h-1zM-8 3h1v1h-1zM8 3h1v1h-1zM-8 5h1v1h-1z"/><path fill="#a8a8a8" d="M6 -4h1v1h-1zM-8 -3h1v1h-1zM7 -3h1v1h-1zM-8 1h1v1h-1zM-8 4h1v1h-1zM9 5h1v1h-1zM7 8h1v1h-1zM-5 10h1v1h-1zM4 10h1v1h-1z"/><path fill="#aaaaaa" d="M-8 -2h1v1h-1zM-8 -1h1v1h-1zM-8 0h1v1h-1zM8 4h1v1h-1zM-7 8h1v1h-1zM-1 10h2v1h-2z"/><path fill="#acacac" d="M-4 -6h1v1h-1zM3 -6h1v1h-1zM5 -5h1v1h-1zM7 -2h1v1h-1zM-7 6h1v1h-1zM8 6h1v1h-1zM-7 7h1v1h-1zM6 9h1v1h-1zM1 10h3v1h-3z"/><path fill="#aeaeae" d="M-7 -3h1v1h-1zM7 -1h1v1h-1zM7 0h1v1h-1zM7 1h1v1h-1zM7 2h1v1h-1zM7 3h1v1h-1zM-7 5h1v1h-1zM8 5h1v1h-1zM7 7h1v1h-1zM-4 10h1v1h-1zM-2 10h1v1h-1z"/><path fill="#b0b0b0" d="M6 -3h1v1h-1zM7 4h1v1h-1zM7 6h1v1h-1zM-3 10h1v1h-1z"/><path fill="#b2b2b2" d="M-7 3h1v1h-1zM-7 4h1v1h-1zM7 5h1v1h-1z"/><path fill="#b4b4b4" d="M-5 -5h1v1h-1zM-6 -4h1v1h-1zM-7 -2h1v1h-1zM-7 1h1v1h-1zM-7 2h1v1h-1zM-6 8h1v1h-1zM6 8h1v1h-1zM-6 9h1v1h-1z"/><path fill="#b6b6b6" d="M-3 -6h1v1h-1zM2 -6h1v1h-1zM5 -4h1v1h-1zM-7 -1h1v1h-1zM-7 0h1v1h-1zM6 5h1v1h-1zM6 6h1v1h-1zM-6 7h1v1h-1zM6 7h1v1h-1z"/><path fill="#b8b8b8" d="M4 -5h1v1h-1zM6 -2h1v1h-1zM6 2h1v1h-1zM6 3h1v1h-1zM6 4h1v1h-1zM-6 6h1v1h-1zM-1 9h2v1h-2zM5 9h1v1h-1z"/><path fill="#bababa" d="M-2 -6h1v1h-1zM6 1h1v1h-1zM5 8h1v1h-1zM-5 9h1v1h-1zM1 9h2v1h-2zM4 9h1v1h-1z"/><path fill="#bcbcbc" d="M6 -1h1v1h-1zM6 0h1v1h-1zM-6 5h1v1h-1zM5 6h1v1h-1zM5 7h1v1h-1zM-5 8h1v1h-1zM3 9h1v1h-1z"/><path fill="#bebebe" d="M-1 -6h3v1h-3zM-6 -3h1v1h-1zM5 -3h1v1h-1zM-6 4h1v1h-1zM-5 7h1v1h-1zM4 8h1v1h-1zM-4 9h1v1h-1zM-2 9h1v1h-1z"/><path fill="#c0c0c0" d="M-6 3h1v1h-1zM5 4h1v1h-1zM5 5h1v1h-1zM4 7h1v1h-1zM0 8h1v1h-1zM3 8h1v1h-1zM-3 9h1v1h-1z"/><path fill="#c2c2c2" d="M-6 -2h1v1h-1zM-6 2h1v1h-1zM5 3h1v1h-1zM-5 6h1v1h-1zM4 6h1v1h-1zM-1 8h1v1h-1zM1 8h2v1h-2z"/><path fill="#c4c4c4" d="M3 -5h1v1h-1zM5 -2h1v1h-1zM-6 -1h1v1h-1zM-6 0h1v1h-1zM-6 1h1v1h-1zM5 2h1v1h-1zM-5 5h1v1h-1zM4 5h1v1h-1zM3 7h1v1h-1zM-4 8h1v1h-1z"/><path fill="#c6c6c6" d="M-4 -5h1v1h-1zM-5 -4h1v1h-1zM5 -1h1v1h-1zM5 0h1v1h-1zM5 1h1v1h-1zM3 6h1v1h-1zM-4 7h1v1h-1zM2 7h1v1h-1zM-3 8h2v1h-2z"/><path fill="#c8c8c8" d="M-5 4h1v1h-1zM4 4h1v1h-1zM3 5h1v1h-1zM-4 6h1v1h-1zM-1 7h3v1h-3z"/><path fill="#cacaca" d="M4 -4h1v1h-1zM-4 5h1v1h-1zM2 6h1v1h-1zM-3 7h2v1h-2z"/><path fill="#cccccc" d="M-5 3h1v1h-1zM4 3h1v1h-1zM-4 4h1v1h-1zM-3 6h1v1h-1zM1 6h1v1h-1z"/><path fill="#cecece" d="M-3 -5h1v1h-1zM2 -5h1v1h-1zM3 4h1v1h-1zM-3 5h1v1h-1zM2 5h1v1h-1zM-2 6h3v1h-3z"/><path fill="#d0d0d0" d="M-5 -3h1v1h-1zM-5 -1h1v1h-1zM4 -1h1v1h-1zM-5 0h1v1h-1zM4 0h1v1h-1zM-5 1h1v1h-1zM4 1h1v1h-1zM-5 2h1v1h-1zM4 2h1v1h-1zM-3 4h1v1h-1zM-2 5h1v1h-1z"/><path fill="#d2d2d2" d="M4 -3h1v1h-1zM-5 -2h1v1h-1zM4 -2h1v1h-1zM-4 3h1v1h-1zM3 3h1v1h-1zM2 4h1v1h-1zM-1 5h3v1h-3z"/><path fill="#d4d4d4" d="M-2 -5h1v1h-1zM1 -5h1v1h-1zM-4 -4h1v1h-1zM-2 4h1v1h-1z"/><path fill="#d6d6d6" d="M-1 -5h1v1h-1zM3 -4h1v1h-1zM3 2h1v1h-1zM-3 3h1v1h-1zM2 3h1v1h-1zM-1 4h3v1h-3z"/><path fill="#d8d8d8" d="M0 -5h1v1h-1zM-4 2h1v1h-1zM-2 3h4v1h-4z"/><path fill="#dadada" d="M-3 -4h1v1h-1zM-4 0h1v1h-1zM3 0h1v1h-1zM-4 1h1v1h-1zM3 1h1v1h-1zM-3 2h1v1h-1zM2 2h1v1h-1z"/><path fill="#dcdcdc" d="M2 -4h1v1h-1zM-4 -3h1v1h-1zM-4 -2h1v1h-1zM-4 -1h1v1h-1zM3 -1h1v1h-1zM-2 2h4v1h-4z"/><path fill="#dedede" d="M3 -3h1v1h-1zM-3 1h1v1h-1z"/><path fill="#e0e0e0" d="M-2 -4h1v1h-1zM-3 -3h1v1h-1zM3 -2h1v1h-1zM2 1h1v1h-1z"/><path fill="#e2e2e2" d="M1 -4h1v1h-1zM-3 0h1v1h-1zM-2 1h4v1h-4z"/><path fill="#e4e4e4" d="M-1 -4h1v1h-1zM-3 -2h1v1h-1zM-3 -1h1v1h-1zM2 0h1v1h-1z"/><path fill="#e6e6e6" d="M0 -4h1v1h-1zM-2 -3h1v1h-1zM2 -3h1v1h-1zM-2 0h1v1h-1z"/><path fill="#e8e8e8" d="M2 -2h1v1h-1zM2 -1h1v1h-1z"/><path fill="#eaeaea" d="M-2 -2h1v1h-1zM-2 -1h1v1h-1zM-1 0h1v1h-1zM1 0h1v1h-1z"/><path fill="#ececec" d="M-1 -3h1v1h-1zM1 -3h1v1h-1zM0 0h1v1h-1z"/><path fill="#eeeeee" d="M1 -1h1v1h-1z"/><path fill="#f0f0f0" d="M0 -3h1v1h-1zM1 -2h1v1h-1zM-1 -1h1v1h-1z"/><path fill="#f2f2f2" d="M-1 -2h1v1h-1zM0 -1h1v1h-1z"/><path fill="#f4f4f4" d="M0 -2h1v1h-1z"/></g></g>
<path d="M161.6 968.8l-3.2 2-2.6 2.5-1.6 2.5-0.8 3 0.5 3 1.5 2 1.5 1 2.9 0.8 6.6-0.8 16.4-5.3 6-0.9 19 1 19-1 9 0.3 9 1.5 14 4.2 4 0.2 3-1 1.6-1 1.7-2 0.9-2 0.2-2-0.5-3-3-5M128.2 1172.8l-10.1-8-10.3-9M311.8 1163.5l-13 9.3M144.5 968.8l-3.3 5-1.8 5-0.2 5 1.2 4 3.2 4 4.2 2.6 6 1.7 6 0.5 9-0.9 29-4.5 28-2.2 8 0 9 0.6 10.2 1.2 9.8 2 4 0 4-0.6 4-1.3 3-1.8 2.2-2.3 1.5-3 0.6-3-0.2-4-1.2-4-2.1-4M137.1 1172.8l-13.9-11-15.4-14.4M311.8 1155.4l-11.7 9.4-11.5 8M133.5 968.8l-4.8 8-2.6 8-0.4 7 0.6 3 1.5 3.4 3.4 3.6 5.6 2.4 7 1.2 14 1.2 6-0.5 15-3 20-3.3 25-2.3 13 0.1 30 3.6 11 0 7-1 3.3-1.4 2.7-2.5 1.9-3.5 0.8-4-0.1-5-1-5-1.8-5-2.7-5M147.2 1172.8l-7.1-5-8.2-7-14.6-14-9.5-10M311.8 1145.3l-8 7.5-9.5 8-9.4 7-7.8 5M123.6 968.8l-6.1 9-4.4 9-3.1 10-1 9 1 7 2.8 5.1 2 2 3 1.8 3 0.9 3 0.3 6-0.5 16-2.9 14-1.6 15-5.6 11-2.6 19-2.5 18-1.1 11 0.5 22 3.6 16 1.4 5 1.9 14 6.9 4 1 4-0.3 4-2.6 3-4.6 1.3-5.1 0.3-7-0.9-8-2.4-9-3.3-8-4.6-8M161.5 1172.8l-4.7-2-5.3-3-8.5-7-27.2-29.3-4.3-5.7-3.7-6.5M311.8 1129.4l-4.5 6.4-5.3 6-18.1 17-6.2 5-5.8 4-5.1 2.7-5.5 2.3M114.1 968.8l-6.3 8.1M311.8 981.5l-7.7-12.7M202.8 1168l-7 0.7-9-0.3-10-1.4-10-2.2-6-2-3-1.6-2.6-2.4-2.6-4-2.5-6-1.7-7-0.6-5-0.1-11-3.6-7-1.3-4-0.1-4 1-9 0.1-5-4.7-37 0-7 1-3 2.5-3 9.2-5.9 7.1-7.1 6-5 8.5-6 4.4-2.4 10-2.5 13-1.7 16-0.9 11 0.7 6.9 1.8 14.3 5 5 2 4.8 2.6 5.2 4.4 5.8 7.9 7.4 7.1 2.3 3 2.1 5 1 6-0.3 30 0.8 8 1.4 4 2.2 4 8.2 11 0.8 2 0.2 2-0.5 2-1.7 3-9.9 11.5-11.5 15.5-5.8 6-4.6 3-7.1 2.1-14 1.7-18 0.8-12-1.2-8 1.8M311.8 969.1l-0.2-0.3M216.8 1119.9l-4 0.7-3-0.1-5.1-1.7-8.9-7.2-12-6.4-5-3.4-4-4.3-2.3-4.7-0.8-6-0.4-17-0.8-12 0.3-7 1.1-5 2.4-4 5.8-5 7.2-4 7.5-2.5 8-1.4 9-0.6 7 0.3 6 1.2 9.4 4 9 5 4.4 4 1.7 4 0.8 5 0.1 5-1.8 12-0.3 17-0.5 5-0.8 3-2 3.5-3 3.6-15.1 13.9-4.4 3-5.5 2.1" fill="none" stroke="#1a1a1a" stroke-width="0.8" stroke-opacity="0.9"/>
</g>
<use href="#e2" x="209.8" y="1070.8" fill="none" stroke="#111" stroke-width="1.1"/>
<circle cx="209.8" cy="1070.8" r="100.80" fill="none" stroke="#1a1a1a" stroke-width="2.4"/>
<path d="M191.7,971.0L209.8,953.4L227.9,971.0" fill="none" stroke="#1a1a1a" stroke-width="1.7" stroke-linejoin="miter"/>
<path d="M310.0,1059.6 L312.6,1055.2 L314.2,1055.0 L316.6,1055.8 L319.0,1059.6 L318.7,1071.9 L320.1,1089.6 L317.1,1097.3 L312.6,1098.7 L308.4,1095.0" fill="none" stroke="#1a1a1a" stroke-width="1.7" stroke-linejoin="round"/>
<path d="M109.6,1059.6 L107.0,1055.2 L105.4,1055.0 L103.0,1055.8 L100.6,1059.6 L100.9,1071.9 L99.5,1089.6 L102.5,1097.3 L107.0,1098.7 L111.2,1095.0" fill="none" stroke="#1a1a1a" stroke-width="1.7" stroke-linejoin="round"/>
<g clip-path="url(#c4)"><g filter="url(#cm)"><g transform="translate(527.4 1071.3) scale(9.0)" shape-rendering="crispEdges"><path fill="#000000" d="M13 -2h1v1h-1zM-14 -1h2v1h-2zM12 -1h2v1h-2zM-14 0h3v1h-3zM11 0h3v1h-3zM-14 1h3v1h-3zM11 1h3v1h-3zM-14 2h3v1h-3zM11 2h3v1h-3zM-13 3h1v1h-1zM12 3h1v1h-1zM-13 4h2v1h-2zM11 4h2v1h-2zM-13 5h5v1h-5zM8 5h5v1h-5zM-12 6h5v1h-5zM7 6h5v1h-5zM-12 7h6v1h-6zM6 7h6v1h-6zM-11 8h5v1h-5zM6 8h5v1h-5zM-10 9h1v1h-1zM9 9h1v1h-1z"/><path fill="#020202" d="M-14 -2h1v1h-1zM-12 3h1v1h-1zM-6 8h1v1h-1zM5 8h1v1h-1zM-9 9h1v1h-1zM8 9h1v1h-1z"/><path fill="#040404" d="M11 3h1v1h-1zM-8 9h1v1h-1zM7 9h1v1h-1z"/><path fill="#060606" d="M-8 5h1v1h-1zM7 5h1v1h-1zM-7 6h1v1h-1zM6 6h1v1h-1zM-6 7h1v1h-1zM5 7h1v1h-1zM-7 9h1v1h-1zM6 9h1v1h-1z"/><path fill="#080808" d="M-11 4h3v1h-3zM8 4h3v1h-3z"/><path fill="#0a0a0a" d="M13 -3h1v1h-1zM11 -1h1v1h-1zM-11 2h1v1h-1zM-6 9h1v1h-1zM5 9h1v1h-1zM-9 10h1v1h-1zM8 10h1v1h-1z"/><path fill="#0c0c0c" d="M12 -2h1v1h-1zM-12 -1h1v1h-1zM-11 1h1v1h-1zM10 1h1v1h-1zM10 2h1v1h-1zM-11 3h1v1h-1zM10 3h1v1h-1zM-5 8h1v1h-1zM4 8h1v1h-1zM-8 10h1v1h-1zM7 10h1v1h-1z"/><path fill="#0e0e0e" d="M-8 4h1v1h-1zM7 4h1v1h-1zM-5 9h1v1h-1zM4 9h1v1h-1z"/><path fill="#101010" d="M-14 -3h1v1h-1zM-13 -2h1v1h-1zM-10 3h2v1h-2zM8 3h2v1h-2zM-7 5h1v1h-1zM6 5h1v1h-1zM-6 6h1v1h-1zM5 6h1v1h-1zM-7 10h1v1h-1zM6 10h1v1h-1z"/><path fill="#121212" d="M-11 0h1v1h-1zM10 0h1v1h-1zM-10 2h1v1h-1zM-5 7h1v1h-1zM4 7h1v1h-1zM-6 10h1v1h-1zM5 10h1v1h-1z"/><path fill="#141414" d="M9 2h1v1h-1zM-5 10h1v1h-1zM4 10h1v1h-1zM-1 11h2v1h-2z"/><path fill="#161616" d="M-8 11h1v1h-1zM7 11h1v1h-1zM-1 12h2v1h-2z"/><path fill="#181818" d="M-8 3h1v1h-1zM7 3h1v1h-1zM-4 9h1v1h-1zM3 9h1v1h-1zM-4 10h1v1h-1zM3 10h1v1h-1zM-7 11h2v1h-2zM-2 11h1v1h-1zM1 11h1v1h-1zM5 11h2v1h-2zM1 12h1v1h-1z"/><path fill="#1a1a1a" d="M-10 1h1v1h-1zM9 1h1v1h-1zM-9 2h1v1h-1zM8 2h1v1h-1zM-7 4h1v1h-1zM6 4h1v1h-1zM-5 11h3v1h-3zM2 11h3v1h-3zM-2 12h1v1h-1z"/><path fill="#1c1c1c" d="M12 -3h1v1h-1zM11 -2h1v1h-1zM-4 8h1v1h-1zM3 8h1v1h-1zM-3 10h1v1h-1zM-1 10h2v1h-2zM2 10h1v1h-1zM-3 12h1v1h-1zM2 12h1v1h-1z"/><path fill="#1e1e1e" d="M-6 5h1v1h-1zM5 5h1v1h-1zM-2 10h1v1h-1zM1 10h1v1h-1zM-4 12h1v1h-1zM3 12h1v1h-1zM-1 13h2v1h-2z"/><path fill="#202020" d="M-12 -2h1v1h-1zM-11 -1h1v1h-1zM10 -1h1v1h-1zM-5 6h1v1h-1zM4 6h1v1h-1zM-6 12h2v1h-2zM4 12h2v1h-2zM-2 13h1v1h-1zM1 13h1v1h-1z"/><path fill="#222222" d="M7 2h1v1h-1zM-3 9h1v1h-1zM2 9h1v1h-1zM-3 13h1v1h-1zM2 13h1v1h-1z"/><path fill="#242424" d="M-13 -3h1v1h-1zM-8 2h1v1h-1zM-7 3h1v1h-1zM6 3h1v1h-1z"/><path fill="#262626" d="M-10 0h1v1h-1zM9 0h1v1h-1zM-9 1h1v1h-1zM8 1h1v1h-1zM-4 7h1v1h-1zM3 7h1v1h-1z"/><path fill="#282828" d="M-6 4h1v1h-1zM-2 9h1v1h-1zM1 9h1v1h-1z"/><path fill="#2a2a2a" d="M5 4h1v1h-1zM-1 9h2v1h-2z"/><path fill="#2c2c2c" d="M12 -4h1v1h-1zM-3 8h1v1h-1zM2 8h1v1h-1z"/><path fill="#2e2e2e" d="M-5 5h1v1h-1zM4 5h1v1h-1z"/><path fill="#323232" d="M11 -3h1v1h-1zM-8 1h1v1h-1zM7 1h1v1h-1zM-7 2h1v1h-1zM6 2h1v1h-1zM-4 6h1v1h-1zM3 6h1v1h-1z"/><path fill="#343434" d="M-13 -4h1v1h-1zM10 -2h1v1h-1zM-6 3h1v1h-1z"/><path fill="#363636" d="M-11 -2h1v1h-1zM9 -1h1v1h-1zM-9 0h1v1h-1zM8 0h1v1h-1zM5 3h1v1h-1zM-2 8h1v1h-1zM1 8h1v1h-1z"/><path fill="#383838" d="M12 -5h1v1h-1zM-12 -3h1v1h-1zM-10 -1h1v1h-1zM-3 7h1v1h-1zM2 7h1v1h-1z"/><path fill="#3a3a3a" d="M-5 4h1v1h-1zM4 4h1v1h-1z"/><path fill="#3c3c3c" d="M-1 8h2v1h-2z"/><path fill="#404040" d="M12 -6h1v1h-1zM-13 -5h1v1h-1zM-7 1h1v1h-1zM6 1h1v1h-1zM-4 5h1v1h-1zM3 5h1v1h-1z"/><path fill="#424242" d="M-6 2h1v1h-1zM5 2h1v1h-1z"/><path fill="#444444" d="M11 -4h1v1h-1zM-8 0h1v1h-1zM7 0h1v1h-1zM-3 6h1v1h-1zM2 6h1v1h-1zM-2 7h1v1h-1zM1 7h1v1h-1z"/><path fill="#464646" d="M-13 -6h1v1h-1zM-5 3h1v1h-1z"/><path fill="#484848" d="M4 3h1v1h-1z"/><path fill="#4a4a4a" d="M10 -3h1v1h-1z"/><path fill="#4c4c4c" d="M9 -2h1v1h-1zM-9 -1h1v1h-1zM8 -1h1v1h-1zM-4 4h1v1h-1zM-1 7h2v1h-2z"/><path fill="#4e4e4e" d="M-12 -4h1v1h-1zM-10 -2h1v1h-1zM3 4h1v1h-1z"/><path fill="#505050" d="M-11 -3h1v1h-1zM-6 1h1v1h-1z"/><path fill="#525252" d="M11 -5h1v1h-1zM-7 0h1v1h-1zM6 0h1v1h-1zM5 1h1v1h-1zM-5 2h1v1h-1zM-3 5h1v1h-1zM2 5h1v1h-1zM-2 6h1v1h-1zM1 6h1v1h-1z"/><path fill="#545454" d="M4 2h1v1h-1z"/><path fill="#585858" d="M-1 6h2v1h-2z"/><path fill="#5a5a5a" d="M11 -6h1v1h-1zM-12 -5h1v1h-1zM-8 -1h1v1h-1zM7 -1h1v1h-1zM-4 3h1v1h-1zM3 3h1v1h-1z"/><path fill="#5c5c5c" d="M-12 -8h1v1h-1z"/><path fill="#5e5e5e" d="M11 -8h1v1h-1zM11 -7h1v1h-1zM10 -4h1v1h-1zM-3 4h1v1h-1zM2 4h1v1h-1zM-2 5h1v1h-1zM1 5h1v1h-1z"/><path fill="#606060" d="M-12 -7h1v1h-1zM-12 -6h1v1h-1z"/><path fill="#626262" d="M9 -3h1v1h-1zM-9 -2h1v1h-1zM8 -2h1v1h-1z"/><path fill="#646464" d="M-6 0h1v1h-1zM5 0h1v1h-1zM-5 1h1v1h-1zM-1 5h2v1h-2z"/><path fill="#666666" d="M-11 -4h1v1h-1zM-10 -3h1v1h-1zM4 1h1v1h-1zM-4 2h1v1h-1z"/><path fill="#686868" d="M-7 -1h1v1h-1zM6 -1h1v1h-1zM3 2h1v1h-1z"/><path fill="#6a6a6a" d="M-3 3h1v1h-1zM2 3h1v1h-1zM-2 4h1v1h-1zM1 4h1v1h-1z"/><path fill="#6e6e6e" d="M-11 -9h1v1h-1zM10 -5h1v1h-1zM-1 4h2v1h-2z"/><path fill="#727272" d="M10 -9h1v1h-1z"/><path fill="#747474" d="M-11 -8h1v1h-1zM10 -6h1v1h-1zM-8 -2h1v1h-1zM7 -2h1v1h-1z"/><path fill="#767676" d="M10 -8h1v1h-1zM-11 -7h1v1h-1zM10 -7h1v1h-1zM-11 -6h1v1h-1zM-11 -5h1v1h-1zM9 -4h1v1h-1zM-5 0h1v1h-1zM-4 1h1v1h-1zM-2 3h1v1h-1zM1 3h1v1h-1z"/><path fill="#787878" d="M-8 -12h1v1h-1zM4 0h1v1h-1zM3 1h1v1h-1zM-3 2h1v1h-1zM-1 3h2v1h-2z"/><path fill="#7a7a7a" d="M-10 -10h1v1h-1zM-9 -3h1v1h-1zM8 -3h1v1h-1zM-6 -1h1v1h-1zM5 -1h1v1h-1zM2 2h1v1h-1z"/><path fill="#7c7c7c" d="M-6 -13h1v1h-1zM5 -13h1v1h-1zM7 -12h1v1h-1zM-9 -11h1v1h-1zM-10 -4h1v1h-1z"/><path fill="#7e7e7e" d="M9 -10h1v1h-1z"/><path fill="#808080" d="M8 -11h1v1h-1z"/><path fill="#828282" d="M2 -14h1v1h-1zM-7 -12h1v1h-1zM-2 2h1v1h-1zM1 2h1v1h-1z"/><path fill="#848484" d="M-3 -14h1v1h-1zM-5 -13h1v1h-1zM4 -13h1v1h-1zM6 -12h1v1h-1zM-10 -9h1v1h-1zM-1 2h2v1h-2z"/><path fill="#868686" d="M9 -5h1v1h-1zM-7 -2h1v1h-1zM6 -2h1v1h-1zM-3 1h1v1h-1z"/><path fill="#888888" d="M1 -14h1v1h-1zM-8 -11h1v1h-1zM9 -9h1v1h-1zM-4 0h1v1h-1zM2 1h1v1h-1z"/><path fill="#8a8a8a" d="M-2 -14h1v1h-1zM3 -13h1v1h-1zM-6 -12h1v1h-1zM5 -12h1v1h-1zM-10 -5h1v1h-1zM3 0h1v1h-1z"/><path fill="#8c8c8c" d="M-1 -14h2v1h-2zM-4 -13h1v1h-1zM7 -11h1v1h-1zM-9 -10h1v1h-1zM-10 -8h1v1h-1zM4 -1h1v1h-1z"/><path fill="#8e8e8e" d="M8 -10h1v1h-1zM-10 -7h1v1h-1zM-10 -6h1v1h-1zM9 -6h1v1h-1zM8 -4h1v1h-1zM-5 -1h1v1h-1zM-2 1h1v1h-1zM1 1h1v1h-1z"/><path fill="#909090" d="M4 -12h1v1h-1zM9 -8h1v1h-1zM9 -7h1v1h-1zM-9 -4h1v1h-1zM-8 -3h1v1h-1zM7 -3h1v1h-1zM-1 1h2v1h-2z"/><path fill="#929292" d="M2 -13h1v1h-1zM-5 -12h1v1h-1zM-7 -11h1v1h-1z"/><path fill="#949494" d="M-3 -13h1v1h-1zM6 -11h1v1h-1z"/><path fill="#969696" d="M3 -12h1v1h-1zM-6 -11h1v1h-1zM5 -11h1v1h-1zM5 -2h1v1h-1zM-3 0h1v1h-1zM2 0h1v1h-1z"/><path fill="#989898" d="M1 -13h1v1h-1zM-4 -12h1v1h-1zM4 -11h1v1h-1zM-8 -10h1v1h-1zM-6 -2h1v1h-1z"/><path fill="#9a9a9a" d="M-2 -13h1v1h-1zM-5 -11h1v1h-1zM-9 -9h1v1h-1z"/><path fill="#9c9c9c" d="M0 -13h1v1h-1zM2 -12h1v1h-1zM3 -11h1v1h-1zM4 -10h1v1h-1zM7 -10h1v1h-1zM8 -9h1v1h-1zM-4 -1h1v1h-1zM3 -1h1v1h-1zM-2 0h4v1h-4z"/><path fill="#9e9e9e" d="M-1 -13h1v1h-1z"/><path fill="#a0a0a0" d="M-3 -12h1v1h-1zM-4 -11h1v1h-1zM-7 -10h1v1h-1zM3 -10h1v1h-1zM5 -10h2v1h-2zM-9 -5h1v1h-1zM8 -5h1v1h-1z"/><path fill="#a2a2a2" d="M1 -12h1v1h-1zM2 -11h1v1h-1zM-6 -10h2v1h-2zM-7 -3h1v1h-1zM6 -3h1v1h-1z"/><path fill="#a4a4a4" d="M-4 -10h1v1h-1zM2 -10h1v1h-1zM-9 -8h1v1h-1zM-8 -4h1v1h-1zM4 -2h1v1h-1z"/><path fill="#a6a6a6" d="M-2 -12h1v1h-1zM-3 -11h1v1h-1zM3 -9h2v1h-2zM8 -8h1v1h-1zM7 -4h1v1h-1zM-5 -2h1v1h-1zM2 -1h1v1h-1z"/><path fill="#a8a8a8" d="M0 -12h1v1h-1zM1 -11h1v1h-1zM-3 -10h1v1h-1zM-8 -9h1v1h-1zM-9 -6h1v1h-1zM8 -6h1v1h-1zM-3 -1h1v1h-1z"/><path fill="#aaaaaa" d="M-1 -12h1v1h-1zM-4 -9h2v1h-2zM2 -9h1v1h-1zM7 -9h1v1h-1zM-9 -7h1v1h-1zM-2 -1h4v1h-4z"/><path fill="#acacac" d="M-2 -11h1v1h-1zM1 -10h1v1h-1zM-5 -9h1v1h-1zM5 -9h1v1h-1zM8 -7h1v1h-1z"/><path fill="#aeaeae" d="M0 -11h1v1h-1zM-2 -10h1v1h-1zM-6 -9h1v1h-1z"/><path fill="#b0b0b0" d="M-1 -11h1v1h-1zM-7 -9h1v1h-1zM6 -9h1v1h-1zM-4 -2h1v1h-1zM3 -2h1v1h-1z"/><path fill="#b2b2b2" d="M0 -10h1v1h-1zM5 -3h1v1h-1z"/><path fill="#b4b4b4" d="M-1 -10h1v1h-1zM-2 -9h1v1h-1zM1 -9h1v1h-1zM-6 -3h1v1h-1z"/><path fill="#b6b6b6" d="M-8 -5h1v1h-1zM7 -5h1v1h-1zM-3 -2h1v1h-1zM2 -2h1v1h-1z"/><path fill="#b8b8b8" d="M-8 -8h1v1h-1zM-4 -8h1v1h-1zM3 -8h1v1h-1zM-2 -2h4v1h-4z"/><path fill="#bababa" d="M-3 -8h1v1h-1zM4 -8h1v1h-1zM7 -8h1v1h-1zM-7 -4h1v1h-1zM6 -4h1v1h-1z"/><path fill="#bcbcbc" d="M-1 -9h2v1h-2zM-5 -8h1v1h-1zM2 -8h1v1h-1zM4 -3h1v1h-1z"/><path fill="#bebebe" d="M5 -8h1v1h-1zM-5 -3h1v1h-1z"/><path fill="#c0c0c0" d="M-6 -8h1v1h-1zM6 -8h1v1h-1zM-8 -6h1v1h-1zM7 -6h1v1h-1z"/><path fill="#c2c2c2" d="M-7 -8h1v1h-1zM-8 -7h1v1h-1zM7 -7h1v1h-1zM3 -3h1v1h-1z"/><path fill="#c4c4c4" d="M-2 -8h1v1h-1zM-4 -3h1v1h-1z"/><path fill="#c6c6c6" d="M1 -8h1v1h-1zM-7 -5h1v1h-1zM5 -4h1v1h-1zM-3 -3h6v1h-6z"/><path fill="#c8c8c8" d="M6 -5h1v1h-1zM-6 -4h1v1h-1z"/><path fill="#cccccc" d="M-1 -8h2v1h-2zM-6 -7h2v1h-2zM4 -7h1v1h-1z"/><path fill="#cecece" d="M-7 -7h1v1h-1zM-4 -7h1v1h-1zM3 -7h1v1h-1zM5 -7h2v1h-2zM-7 -6h1v1h-1zM4 -4h1v1h-1z"/><path fill="#d0d0d0" d="M6 -6h1v1h-1zM-5 -4h1v1h-1z"/><path fill="#d2d2d2" d="M-3 -7h1v1h-1zM-6 -5h1v1h-1zM5 -5h1v1h-1zM3 -4h1v1h-1z"/><path fill="#d4d4d4" d="M2 -7h1v1h-1zM-6 -6h1v1h-1zM5 -6h1v1h-1z"/><path fill="#d6d6d6" d="M-5 -6h1v1h-1zM-4 -4h3v1h-3zM2 -4h1v1h-1z"/><path fill="#d8d8d8" d="M-2 -7h1v1h-1zM4 -6h1v1h-1zM-5 -5h1v1h-1zM4 -5h1v1h-1zM-1 -4h3v1h-3z"/><path fill="#dadada" d="M1 -7h1v1h-1z"/><path fill="#dcdcdc" d="M-4 -6h1v1h-1zM3 -6h1v1h-1zM3 -5h1v1h-1z"/><path fill="#dedede" d="M-1 -7h1v1h-1zM-4 -5h1v1h-1z"/><path fill="#e0e0e0" d="M0 -7h1v1h-1zM-3 -6h1v1h-1z"/><path fill="#e2e2e2" d="M2 -6h1v1h-1zM-3 -5h1v1h-1zM2 -5h1v1h-1z"/><path fill="#e4e4e4" d="M-2 -5h1v1h-1z"/><path fill="#e6e6e6" d="M1 -5h1v1h-1z"/><path fill="#e8e8e8" d="M-2 -6h1v1h-1zM1 -6h1v1h-1zM-1 -5h2v1h-2z"/><path fill="#ececec" d="M-1 -6h2v1h-2z"/></g></g>
<path d="M630 1066.4l-2.9 3.5-1.7 3-3.4 10-1.1 8 1 12-0.1 2-0.8 2.1-1 1-2 0.5-8-1.6-4-0.1-4 1.2-4 2.7-5 4.7-21 22.9-3.7 5.6-1.2 5 0.9 4.8 1 1.7 2 1.9 2 1.1 6 1.7 14 5.8 8 1.9 9 0.9 9 0.1 11-0.8M425 1167.2l11 1 9 0.1 9-0.8 8-1.8 14-5.6 7-2.3 2-1.5 1.7-2.4 0.7-2 0.3-3-1.2-5-3.5-5.3-21-22.9-6-5.5-4-2.5-3-0.8-4 0-8 1.6-2-0.4-1-0.9-0.9-3.3 1.5-12-1-8-3.5-10-2.5-4-2.6-2.8M630 1049.2l-22 24.8-15.2 11.9-7.1 7-6.7 8.6-27.9 39.4-3.1 3.7-4 3.5-4 2.1-5 1.5-7 0.7-6-0.3-6-1.4-5-2.5-3.9-3.3-4.1-4.9-25.9-37.1-9-11-6.1-6.1-15-11.7-12-12.9-10-9.2M425 993.2l2.5-6.3 3.5-6.6 4-5.8 4.7-5.6M617.2 968.9l4 5 3.8 5.9 3 6 2 5.4M630 1026.7l-2.3 6.2-3.7 6.3-5.2 6.7-8.8 9.5-8.2 7.5-14.8 8.8-7.1 6.2-10.7 12-16.2 21.8-9 10-5 4.1-4 2.4-4 1.6-3 0.5-4-0.4-4-1.5-4-2.5-5-4-4-4-5-6.2-12.7-18.8-11.1-12-9.2-8.4-14-8.1-7-5.4-16.4-15.1-3.6-4.1-3-4.7M594.1 968.9l7.9 5.7 6.4 6.3 5 7 3.6 8 1.7 8 0.3 8-1.9 14-2.6 7-6.4 9-8.1 8.4-6 4.7-14 8.3-7.9 5.6-26.1 24.3-4 2.1-5 1.4-13 0.7-8-0.9-4-1.4-3-1.7-14.7-14.5-9.1-8-9.7-7-14.5-8.8-6.9-5.2-11.7-11-5.5-7-1-4 0.6-8 0.1-12 1-7 2.3-7 3.8-7 5.3-6.5 6.1-5.5 8.7-6M539.2 968.9l3.2 3 3.2 4 2.1 4 3.1 9 2.2 2.8 2 1.1 6 1 9-0.4 3-0.7 7-3.2 5-0.8 6 1.1 5 2.6 4 3.6 3.4 4.9 2.1 6 0.6 6-1 9-2.9 8-5.4 8-6.7 7-7.1 4.9-17.7 9.1-16.3 9.5-4 1.5-5 0.5-13-1-14 0.9-4-0.6-4-1.7-30-16.1-8-5.3-5.1-4.7-6-7-3.3-5-2-5-1.2-9 0.6-8 2.5-7 4.5-5.9 6-4.1 7-2.1 6-0.2 8 1.3 5 0.3 5 0 3-0.6 1.2-0.7 1.4-2 1.5-7 1.9-3.9 3-3.3 5-3.8M542 1046l-15-0.4-28 0.3-6-0.7-5-1.5-5.3-2.8-4.2-3-3.2-3-3.3-4-3.9-6-2.4-5-1.1-4 0.4-3.7 2-1.8 3-0.7 14 2.5 7-0.1 8-0.7 8-1.9 14-5.2 7-1.1 6 0.8 16 5.6 9 2 10 0.4 15-2.2 3 0.4 2.6 1.7 0.8 2 0.1 3-1.8 6-4.7 7.5-6 5.9-6.5 3.6-9.5 3.4-8 1.7-12 1" fill="none" stroke="#1a1a1a" stroke-width="0.8" stroke-opacity="0.9"/>
</g>
<use href="#e3" x="527.4" y="1071.3" fill="none" stroke="#111" stroke-width="1.1"/>
<circle cx="527.4" cy="1071.3" r="101.20" fill="none" stroke="#1a1a1a" stroke-width="2.4"/>
<path d="M509.2,971.1L527.4,953.4L545.6,971.1" fill="none" stroke="#1a1a1a" stroke-width="1.7" stroke-linejoin="miter"/>
<path d="M628.0,1060.1 L630.6,1055.6 L632.2,1055.5 L634.7,1056.2 L637.1,1060.1 L636.7,1072.4 L638.1,1090.2 L635.1,1097.9 L630.6,1099.3 L626.4,1095.6" fill="none" stroke="#1a1a1a" stroke-width="1.7" stroke-linejoin="round"/>
<path d="M426.8,1060.1 L424.2,1055.6 L422.6,1055.5 L420.1,1056.2 L417.7,1060.1 L418.1,1072.4 L416.7,1090.2 L419.7,1097.9 L424.2,1099.3 L428.4,1095.6" fill="none" stroke="#1a1a1a" stroke-width="1.7" stroke-linejoin="round"/>
<g clip-path="url(#c5)"><g filter="url(#cm)"><g transform="translate(848.7 1068.5) scale(9.0)" shape-rendering="crispEdges"><path fill="#080808" d="M-9 5h1v1h-1z"/><path fill="#0a0a0a" d="M8 3h1v1h-1zM-8 5h1v1h-1z"/><path fill="#0c0c0c" d="M-9 6h1v1h-1z"/><path fill="#0e0e0e" d="M7 3h1v1h-1zM-8 6h1v1h-1z"/><path fill="#101010" d="M8 2h1v1h-1z"/><path fill="#121212" d="M-9 4h1v1h-1zM7 4h2v1h-2z"/><path fill="#141414" d="M-8 4h1v1h-1zM-9 7h2v1h-2z"/><path fill="#161616" d="M7 2h1v1h-1zM-10 5h1v1h-1zM7 5h1v1h-1zM-10 6h1v1h-1z"/><path fill="#181818" d="M8 5h1v1h-1z"/><path fill="#1a1a1a" d="M9 3h1v1h-1zM7 6h1v1h-1zM-8 8h1v1h-1z"/><path fill="#1c1c1c" d="M9 2h1v1h-1zM-10 4h1v1h-1zM-7 6h1v1h-1zM-7 7h1v1h-1z"/><path fill="#1e1e1e" d="M8 1h1v1h-1zM-7 5h1v1h-1zM8 6h1v1h-1zM-10 7h1v1h-1zM7 7h1v1h-1zM-9 8h1v1h-1zM-7 8h1v1h-1z"/><path fill="#202020" d="M9 4h1v1h-1z"/><path fill="#222222" d="M6 4h1v1h-1zM6 5h1v1h-1zM6 6h1v1h-1zM6 7h1v1h-1zM6 8h1v1h-1zM-7 9h1v1h-1z"/><path fill="#242424" d="M7 1h1v1h-1zM-11 5h1v1h-1zM9 5h1v1h-1zM8 7h1v1h-1zM7 8h1v1h-1zM-8 9h1v1h-1z"/><path fill="#262626" d="M9 1h1v1h-1zM-7 4h1v1h-1zM-11 6h1v1h-1zM-6 9h1v1h-1zM5 9h2v1h-2zM-1 11h2v1h-2z"/><path fill="#282828" d="M6 3h1v1h-1zM-11 4h1v1h-1zM-10 8h1v1h-1z"/><path fill="#2a2a2a" d="M-10 3h2v1h-2zM9 6h1v1h-1zM-6 8h1v1h-1zM5 8h1v1h-1zM-9 9h1v1h-1zM7 9h1v1h-1zM5 10h1v1h-1z"/><path fill="#2c2c2c" d="M-11 7h1v1h-1zM8 8h1v1h-1zM-7 10h2v1h-2zM-2 11h1v1h-1zM1 11h1v1h-1zM-1 12h2v1h-2z"/><path fill="#2e2e2e" d="M8 0h1v1h-1zM10 2h1v1h-1zM-8 3h1v1h-1zM10 3h1v1h-1zM-6 7h1v1h-1zM5 7h1v1h-1zM4 10h1v1h-1zM6 10h1v1h-1z"/><path fill="#303030" d="M7 0h1v1h-1zM6 2h1v1h-1zM-11 3h1v1h-1zM10 4h1v1h-1zM-6 6h1v1h-1zM9 7h1v1h-1zM-5 10h1v1h-1zM-1 10h2v1h-2zM-3 11h1v1h-1zM2 11h1v1h-1zM1 12h1v1h-1z"/><path fill="#323232" d="M9 0h1v1h-1zM10 1h1v1h-1zM5 6h1v1h-1zM-5 9h1v1h-1zM4 9h1v1h-1zM-8 10h1v1h-1zM3 11h1v1h-1zM-2 12h1v1h-1z"/><path fill="#343434" d="M-12 5h1v1h-1zM5 5h1v1h-1zM10 5h1v1h-1zM8 9h1v1h-1zM-4 10h1v1h-1zM-2 10h1v1h-1zM1 10h1v1h-1zM3 10h1v1h-1zM-5 11h2v1h-2zM4 11h1v1h-1z"/><path fill="#363636" d="M6 1h1v1h-1zM-7 3h1v1h-1zM-12 4h1v1h-1zM-6 5h1v1h-1zM-3 10h1v1h-1zM2 10h1v1h-1zM7 10h1v1h-1zM-6 11h1v1h-1zM5 11h1v1h-1zM2 12h1v1h-1z"/><path fill="#383838" d="M8 -1h1v1h-1zM-10 2h1v1h-1zM-6 4h1v1h-1zM5 4h1v1h-1zM-12 6h1v1h-1zM10 6h1v1h-1zM-11 8h1v1h-1zM9 8h1v1h-1zM-10 9h1v1h-1zM-3 12h1v1h-1z"/><path fill="#3a3a3a" d="M10 -9h1v1h-1zM-11 2h1v1h-1zM-12 3h1v1h-1zM-5 8h1v1h-1zM4 8h1v1h-1z"/><path fill="#3c3c3c" d="M11 -7h1v1h-1zM7 -1h1v1h-1zM9 -1h1v1h-1zM10 0h1v1h-1zM-9 2h1v1h-1zM11 2h1v1h-1zM11 3h1v1h-1zM-9 10h1v1h-1zM-7 11h1v1h-1zM6 11h1v1h-1zM-4 12h1v1h-1zM3 12h1v1h-1z"/><path fill="#3e3e3e" d="M6 0h1v1h-1zM10 7h1v1h-1zM-4 9h1v1h-1zM3 9h1v1h-1zM-1 13h2v1h-2z"/><path fill="#404040" d="M12 -5h1v1h-1zM8 -2h1v1h-1zM-10 1h1v1h-1zM11 1h1v1h-1zM-12 2h1v1h-1zM-8 2h1v1h-1zM-6 3h1v1h-1zM5 3h1v1h-1zM11 4h1v1h-1zM-5 7h1v1h-1zM4 12h1v1h-1z"/><path fill="#424242" d="M9 -2h1v1h-1zM10 -1h1v1h-1zM-11 1h1v1h-1zM-9 1h1v1h-1zM4 7h1v1h-1zM8 10h1v1h-1zM-5 12h1v1h-1zM-2 13h1v1h-1zM1 13h1v1h-1z"/><path fill="#444444" d="M10 -8h1v1h-1zM11 -6h1v1h-1zM7 -2h1v1h-1zM6 -1h1v1h-1zM-10 0h3v1h-3zM11 0h1v1h-1zM-8 1h1v1h-1zM-7 2h1v1h-1zM-13 3h1v1h-1zM-13 4h1v1h-1zM-5 4h1v1h-1zM-5 5h1v1h-1zM11 5h1v1h-1zM-5 6h1v1h-1zM4 6h1v1h-1zM9 9h1v1h-1z"/><path fill="#464646" d="M9 -10h1v1h-1zM12 -4h1v1h-1zM8 -3h1v1h-1zM-9 -1h2v1h-2zM-12 1h1v1h-1zM4 5h1v1h-1zM-3 9h1v1h-1zM2 9h1v1h-1z"/><path fill="#484848" d="M10 -7h1v1h-1zM11 -5h1v1h-1zM9 -3h1v1h-1zM10 -2h1v1h-1zM13 -2h1v1h-1zM-10 -1h1v1h-1zM11 -1h1v1h-1zM-11 0h1v1h-1zM-7 0h1v1h-1zM-7 1h1v1h-1zM12 1h1v1h-1zM-13 2h1v1h-1zM-6 2h1v1h-1zM5 2h1v1h-1zM12 2h1v1h-1zM11 6h1v1h-1zM10 8h1v1h-1zM-1 9h2v1h-2z"/><path fill="#4a4a4a" d="M7 -3h1v1h-1zM10 -3h1v1h-1zM12 -3h1v1h-1zM-9 -2h1v1h-1zM11 -2h1v1h-1zM12 0h1v1h-1zM-5 3h1v1h-1zM12 3h1v1h-1zM4 4h1v1h-1zM-2 9h1v1h-1zM1 9h1v1h-1z"/><path fill="#4c4c4c" d="M10 -6h1v1h-1zM8 -4h1v1h-1zM11 -4h1v1h-1zM11 -3h1v1h-1zM-10 -2h1v1h-1zM-8 -2h1v1h-1zM6 -2h1v1h-1zM12 -2h1v1h-1zM-11 -1h1v1h-1zM-7 -1h1v1h-1zM12 -1h2v1h-2zM-12 0h1v1h-1zM-13 1h1v1h-1zM5 1h1v1h-1zM12 4h1v1h-1zM-4 8h1v1h-1zM3 8h1v1h-1z"/><path fill="#4e4e4e" d="M8 -11h1v1h-1zM9 -4h2v1h-2zM-11 -2h1v1h-1zM5 0h1v1h-1zM13 0h1v1h-1zM-6 1h1v1h-1z"/><path fill="#505050" d="M9 -9h1v1h-1zM10 -5h1v1h-1zM7 -4h1v1h-1zM-10 -3h2v1h-2zM-12 -1h1v1h-1zM-13 0h1v1h-1zM13 1h1v1h-1zM-5 2h1v1h-1z"/><path fill="#525252" d="M9 -6h1v1h-1zM9 -5h1v1h-1zM-12 -2h1v1h-1zM-13 -1h1v1h-1zM5 -1h1v1h-1zM-6 0h1v1h-1zM-14 1h1v1h-1zM-4 5h1v1h-1z"/><path fill="#545454" d="M9 -8h1v1h-1zM9 -7h1v1h-1zM8 -5h1v1h-1zM-11 -3h1v1h-1zM6 -3h1v1h-1zM-14 -2h2v1h-2zM-14 -1h1v1h-1zM-14 0h1v1h-1zM4 3h1v1h-1zM-4 4h1v1h-1z"/><path fill="#565656" d="M-13 -3h2v1h-2zM-8 -3h1v1h-1zM-7 -2h1v1h-1zM-4 7h1v1h-1z"/><path fill="#585858" d="M-13 -4h1v1h-1zM3 5h1v1h-1zM-4 6h1v1h-1zM3 7h1v1h-1z"/><path fill="#5a5a5a" d="M8 -6h1v1h-1zM7 -5h1v1h-1zM-12 -4h3v1h-3zM5 -2h1v1h-1zM-6 -1h1v1h-1zM-5 1h1v1h-1zM3 6h1v1h-1z"/><path fill="#5c5c5c" d="M8 -10h1v1h-1zM-13 -5h1v1h-1zM-9 -4h1v1h-1zM4 2h1v1h-1zM-3 8h1v1h-1zM2 8h1v1h-1z"/><path fill="#5e5e5e" d="M6 -4h1v1h-1zM-4 3h1v1h-1zM3 4h1v1h-1z"/><path fill="#606060" d="M4 1h1v1h-1z"/><path fill="#626262" d="M8 -7h1v1h-1zM-12 -5h1v1h-1zM-8 -4h1v1h-1zM-7 -3h1v1h-1zM4 0h1v1h-1z"/><path fill="#646464" d="M8 -9h1v1h-1zM8 -8h1v1h-1zM5 -3h1v1h-1zM-5 0h1v1h-1zM-2 8h1v1h-1zM1 8h1v1h-1z"/><path fill="#666666" d="M7 -11h1v1h-1zM7 -6h1v1h-1zM-11 -5h1v1h-1zM6 -5h1v1h-1zM-6 -2h1v1h-1zM4 -1h1v1h-1z"/><path fill="#686868" d="M6 -12h1v1h-1zM-12 -6h1v1h-1zM-4 2h1v1h-1zM-1 8h2v1h-2z"/><path fill="#6a6a6a" d="M-12 -7h1v1h-1zM-10 -5h1v1h-1zM3 3h1v1h-1z"/><path fill="#6c6c6c" d="M5 -4h1v1h-1z"/><path fill="#6e6e6e" d="M1 -14h1v1h-1zM-9 -5h1v1h-1zM4 -2h1v1h-1zM-5 -1h1v1h-1zM-3 7h1v1h-1zM2 7h1v1h-1z"/><path fill="#707070" d="M4 -13h1v1h-1zM-11 -9h1v1h-1zM7 -7h1v1h-1zM-11 -6h1v1h-1zM-7 -4h1v1h-1zM-3 5h1v1h-1z"/><path fill="#727272" d="M-2 -14h1v1h-1zM6 -6h1v1h-1zM-4 1h1v1h-1zM-3 6h1v1h-1zM2 6h1v1h-1z"/><path fill="#747474" d="M-1 -14h2v1h-2zM-9 -11h1v1h-1zM-10 -10h1v1h-1zM7 -10h1v1h-1zM-8 -5h1v1h-1zM-6 -3h1v1h-1zM3 2h1v1h-1zM-3 4h1v1h-1zM2 5h1v1h-1z"/><path fill="#767676" d="M-11 -8h1v1h-1zM7 -8h1v1h-1zM-11 -7h1v1h-1zM5 -5h1v1h-1z"/><path fill="#787878" d="M7 -9h1v1h-1zM4 -3h1v1h-1zM3 1h1v1h-1zM2 4h1v1h-1z"/><path fill="#7a7a7a" d="M-5 -13h1v1h-1zM5 -12h1v1h-1zM-10 -6h1v1h-1z"/><path fill="#7c7c7c" d="M3 -13h1v1h-1zM-7 -12h1v1h-1zM6 -11h1v1h-1zM-5 -2h1v1h-1zM-4 0h1v1h-1zM3 0h1v1h-1zM-2 7h1v1h-1zM1 7h1v1h-1z"/><path fill="#7e7e7e" d="M-10 -9h1v1h-1zM6 -7h1v1h-1zM5 -6h1v1h-1zM-3 3h1v1h-1z"/><path fill="#808080" d="M-9 -6h1v1h-1zM-7 -5h1v1h-1zM4 -4h1v1h-1z"/><path fill="#828282" d="M-10 -7h1v1h-1zM-6 -4h1v1h-1zM3 -1h1v1h-1zM2 3h1v1h-1z"/><path fill="#848484" d="M-4 -13h1v1h-1zM-8 -11h1v1h-1zM-9 -10h1v1h-1zM-10 -8h1v1h-1z"/><path fill="#868686" d="M2 -13h1v1h-1zM6 -8h1v1h-1zM-8 -6h1v1h-1zM-4 -1h1v1h-1zM-1 7h2v1h-2z"/><path fill="#888888" d="M-6 -12h1v1h-1zM6 -10h1v1h-1zM5 -7h1v1h-1zM4 -5h1v1h-1z"/><path fill="#8a8a8a" d="M4 -12h1v1h-1zM6 -9h1v1h-1zM-5 -3h1v1h-1zM-3 2h1v1h-1zM-2 6h1v1h-1zM1 6h1v1h-1z"/><path fill="#8c8c8c" d="M-3 -13h1v1h-1zM-9 -9h1v1h-1zM-9 -7h1v1h-1zM3 -2h1v1h-1zM2 2h1v1h-1z"/><path fill="#8e8e8e" d="M1 -13h1v1h-1zM5 -11h1v1h-1zM-9 -8h1v1h-1zM-7 -6h1v1h-1zM4 -6h1v1h-1zM-6 -5h1v1h-1z"/><path fill="#909090" d="M-7 -11h1v1h-1zM-8 -10h1v1h-1zM-2 5h1v1h-1zM1 5h1v1h-1z"/><path fill="#929292" d="M-2 -13h1v1h-1zM-5 -12h1v1h-1zM5 -8h1v1h-1zM-4 -2h1v1h-1zM-3 1h1v1h-1zM2 1h1v1h-1z"/><path fill="#949494" d="M-1 -13h2v1h-2zM3 -12h1v1h-1zM-8 -7h1v1h-1zM4 -7h1v1h-1zM-5 -4h1v1h-1zM3 -3h1v1h-1zM-2 4h1v1h-1zM1 4h1v1h-1z"/><path fill="#969696" d="M-8 -9h1v1h-1z"/><path fill="#989898" d="M-8 -8h1v1h-1zM-6 -6h1v1h-1zM-3 0h1v1h-1zM2 0h1v1h-1zM-1 6h2v1h-2z"/><path fill="#9a9a9a" d="M-4 -12h1v1h-1zM-6 -11h1v1h-1zM-7 -10h1v1h-1zM5 -10h1v1h-1zM5 -9h1v1h-1zM-7 -7h1v1h-1zM-2 3h1v1h-1zM1 3h1v1h-1z"/><path fill="#9c9c9c" d="M4 -11h1v1h-1zM4 -8h1v1h-1zM-5 -5h1v1h-1zM3 -4h1v1h-1z"/><path fill="#9e9e9e" d="M2 -12h1v1h-1zM-7 -9h1v1h-1zM-7 -8h1v1h-1zM-6 -7h1v1h-1zM-4 -3h1v1h-1z"/><path fill="#a0a0a0" d="M-5 -11h1v1h-1zM3 -6h1v1h-1zM3 -5h1v1h-1zM-3 -1h1v1h-1zM2 -1h1v1h-1zM-2 2h1v1h-1zM1 2h1v1h-1z"/><path fill="#a2a2a2" d="M-3 -12h1v1h-1zM-6 -10h1v1h-1zM-6 -9h1v1h-1zM4 -9h1v1h-1zM-6 -8h1v1h-1zM3 -7h1v1h-1zM-5 -6h1v1h-1z"/><path fill="#a4a4a4" d="M3 -11h1v1h-1zM4 -10h1v1h-1zM3 -8h1v1h-1zM0 5h1v1h-1z"/><path fill="#a6a6a6" d="M1 -12h1v1h-1zM-5 -10h1v1h-1zM-5 -9h1v1h-1zM-5 -8h1v1h-1zM-5 -7h1v1h-1zM-4 -4h1v1h-1zM-2 1h1v1h-1zM1 1h1v1h-1zM0 2h1v1h-1zM-1 5h1v1h-1z"/><path fill="#a8a8a8" d="M-2 -12h1v1h-1zM-4 -11h1v1h-1zM3 -9h1v1h-1zM-3 -2h1v1h-1zM-1 2h1v1h-1zM-1 3h2v1h-2z"/><path fill="#aaaaaa" d="M0 -12h1v1h-1zM3 -10h1v1h-1zM-1 4h2v1h-2z"/><path fill="#acacac" d="M-1 -12h1v1h-1zM2 -11h1v1h-1zM-4 -10h1v1h-1zM2 -9h1v1h-1zM2 -8h1v1h-1zM-4 -5h1v1h-1zM2 -2h1v1h-1zM1 0h1v1h-1zM0 1h1v1h-1z"/><path fill="#aeaeae" d="M-4 -9h1v1h-1zM-4 -6h1v1h-1zM-3 -3h1v1h-1zM-2 0h1v1h-1zM-1 1h1v1h-1z"/><path fill="#b0b0b0" d="M-3 -11h1v1h-1zM2 -10h1v1h-1zM-4 -8h1v1h-1zM-4 -7h1v1h-1zM2 -7h1v1h-1z"/><path fill="#b2b2b2" d="M1 -11h1v1h-1z"/><path fill="#b4b4b4" d="M1 -9h1v1h-1zM-2 -1h1v1h-1z"/><path fill="#b6b6b6" d="M-2 -11h1v1h-1zM-3 -10h1v1h-1zM1 -10h1v1h-1zM-3 -9h1v1h-1zM1 -8h1v1h-1zM2 -6h1v1h-1zM-3 -4h1v1h-1zM0 0h1v1h-1z"/><path fill="#b8b8b8" d="M-1 -11h2v1h-2zM-3 -8h1v1h-1zM2 -3h1v1h-1zM1 -1h1v1h-1zM-1 0h1v1h-1z"/><path fill="#bababa" d="M2 -5h1v1h-1zM-2 -2h1v1h-1z"/><path fill="#bcbcbc" d="M-2 -10h1v1h-1zM0 -10h1v1h-1zM0 -9h1v1h-1zM-3 -7h1v1h-1zM1 -7h1v1h-1zM-3 -5h1v1h-1zM2 -4h1v1h-1z"/><path fill="#bebebe" d="M-1 -10h1v1h-1zM-2 -9h1v1h-1zM0 -8h1v1h-1zM-3 -6h1v1h-1zM-2 -3h1v1h-1z"/><path fill="#c0c0c0" d="M-1 -9h1v1h-1zM-2 -8h1v1h-1zM-1 -1h1v1h-1z"/><path fill="#c2c2c2" d="M-1 -8h1v1h-1zM0 -7h1v1h-1zM0 -1h1v1h-1z"/><path fill="#c4c4c4" d="M-2 -7h2v1h-2zM1 -6h1v1h-1zM-2 -4h1v1h-1zM1 -2h1v1h-1z"/><path fill="#c8c8c8" d="M-1 -6h2v1h-2zM-2 -5h1v1h-1zM-1 -2h1v1h-1z"/><path fill="#cacaca" d="M-2 -6h1v1h-1z"/><path fill="#cccccc" d="M1 -5h1v1h-1zM0 -2h1v1h-1z"/><path fill="#cecece" d="M-1 -5h1v1h-1zM-1 -3h1v1h-1z"/><path fill="#d0d0d0" d="M0 -5h1v1h-1zM-1 -4h1v1h-1zM1 -3h1v1h-1z"/><path fill="#d2d2d2" d="M1 -4h1v1h-1z"/><path fill="#d4d4d4" d="M0 -3h1v1h-1z"/><path fill="#d6d6d6" d="M0 -4h1v1h-1z"/></g></g>
<path d="M935.6 968.7l6.6 8 6.7 9.1M910 1148.7l3.9-2.1 4-3.2 4-4 4-5.3 5-9.4 5.2-15 2.4-12 0-4-0.8-4-1.8-3.8-2.6-3.2-3.4-2.4-3-1.1-3-0.3-3 0.5-3 1.5-2.1 1.8-1.9 2.4-2 3.8-3.4 10.8-1.7 9-1.1 13 0.2 24 0.3 2 0.7 1.1 1 0.3 2.1-0.4M793.2 1154.7l1.7-2.1 0.3-4.9-2.6-29-1.1-5-1.7-4-1.9-2.4-3-2.3-6-2.1-5-0.6-5 0.1-4 0.9-3.2 1.4-2.5 2-2.2 3-1.5 4-0.6 4 0.1 5 0.8 5 1.8 5 2.2 4 3.1 4.3 4 4.1 4 3.2 5 3.1 5 2.3 5 1.5 4 0.3 3.3-0.8M748.9 972.8l4.7-4.1M925.2 968.7l6.3 8 4.9 8 12.5 27.7M948.9 1072.6l-7-9.1-4-4.3-5-3.9-4-2.1-4-0.7-3 0.6-4 2.1-5 4.3-5 6.2-3.8 8-1.5 6-1.7 12-5.5 13-2.1 6-2 10-2 13-2.6 8-3.8 6.2-5 5-5 2.7-6 1.2-18-1-18 1-5-0.7-5-2.1-3-2.1-3.1-3.2-2.8-4-2.1-4.6-2.2-9.4-1.6-22-2.5-6-3.2-4-3.5-2.6-16.7-9.4-7.3-5.8-3-1.3-4-0.4-5 1-6 2.2-6 3.4M917.8 1168.7l10.1-8.5 8.9-10.5 6.8-11 5.3-12.5M748.9 1144.6l5.9 7.1 6.2 6 7.7 6 8 5M748.9 986.3l8-8.9 9.9-8.7M915 968.7l6.9 9 2.7 5 2 5 1.3 5 0.7 5 0 5-0.8 5-1.7 5-2.8 5-3.4 3.9-7.2 7.1-3.9 5-9.9 16.5-4 8.2-2.1 5.3-1.3 5-1.5 15-1.5 7-2.7 7-6.1 12-1.4 4-0.2 4 0.7 11-1.2 7-1.3 3-2.3 3-3.1 2.5-3 1.5-4 1.2-6 0.9-18 0-9-1.6-4-1.7-3-2.2-3.3-4.6-1.3-5 0-5 2-12-0.1-3-0.9-4-6.9-20-5.2-10-5.3-11.6-4.4-7.4-11.6-14.6-4.6-4.4-4.4-3.1-6.7-1.9-22.3-2.5M934.2 1168.7l7.7-7.5 7-8.2M748.9 1159.2l11.1 9.5M902.1 968.7l6.5 7 2.4 4 1.7 4 1.1 4 0.4 5-0.3 4-0.9 4-1.7 4-2.4 4-8.3 9-3.5 5-8.9 20-6.7 23-3.9 23-2 6-4.8 11-1.6 5-0.8 5-0.6 10-1.2 5-1.8 3-3.9 3-5.2 2-6.8 0.9-6-0.6-5-1.5-4-2.5-2.6-3.3-1.3-5-0.6-13-1-6-12.5-38.3-2.3-5.7-2.7-5-13-20.4-5-6.1-5-4.2-8-4.3-16-6.2-3.1-2.8-2.2-4-0.8-4 0.3-5 1.4-5 2.9-6 4.2-6 5.3-6 5.5-5 6.6-5M948.8 1168.7l0.1-0.1M883.8 968.7l8.1 5.6 5.3 5.4 1.7 3 0.5 2 0.3 3-0.3 3-0.9 3-1.6 2.8-8 9.5-3.3 6.7-1.5 6-2 14-3.4 16-7 22-4.7 19-4.9 12-4 19-1.4 3-1.8 2.2-3 1.9-3 0.7-3-0.4-2.6-1.4-2.4-2.4-1.4-2.6-1.6-5-2.9-16-4.6-11-3.1-13-5.2-16-3.4-8-6.8-11.1-7-15.9-3-4.7-3-3.3-4-3.1-6.7-3.9-2.4-2-2.3-3-1.7-4-0.3-4 1.1-5 2.4-5 3.5-5 3.6-4 3.6-3 12.3-7M850.9 1073.8l-4 0.2-3.5-1.3-3.4-3-2.6-4-2.8-7-4.1-15-4.7-9-2.1-5-1.1-5-0.5-5 0.6-11 3-12 1.7-10 1.5-4.3 2.7-3.7 4.3-3.3 6-2.5 5-0.8 4 0.5 4 1.8 2.8 2.3 2.1 3 0.9 4-0.9 10 0.5 5 1.9 5 5.7 9 2.4 5 1.8 7 0.8 8-0.1 6-0.9 6-1.6 5-2.4 5-5 8.4-4 5.3-4 3.6-4 1.8" fill="none" stroke="#1a1a1a" stroke-width="0.8" stroke-opacity="0.9"/>
</g>
<use href="#e4" x="848.7" y="1068.5" fill="none" stroke="#111" stroke-width="1.1"/>
<circle cx="848.7" cy="1068.5" r="98.60" fill="none" stroke="#1a1a1a" stroke-width="2.4"/>
<path d="M831.0,970.9L848.7,953.6L866.4,970.9" fill="none" stroke="#1a1a1a" stroke-width="1.7" stroke-linejoin="miter"/>
<path d="M946.7,1057.6 L949.3,1053.2 L950.8,1053.1 L953.2,1053.8 L955.6,1057.6 L955.2,1069.6 L956.6,1086.9 L953.6,1094.4 L949.3,1095.8 L945.1,1092.1" fill="none" stroke="#1a1a1a" stroke-width="1.7" stroke-linejoin="round"/>
<path d="M750.7,1057.6 L748.1,1053.2 L746.6,1053.1 L744.2,1053.8 L741.8,1057.6 L742.2,1069.6 L740.8,1086.9 L743.8,1094.4 L748.1,1095.8 L752.3,1092.1" fill="none" stroke="#1a1a1a" stroke-width="1.7" stroke-linejoin="round"/>
<g clip-path="url(#c6)"><g filter="url(#cm)"><g transform="translate(1153.0 1069.0) scale(9.0)" shape-rendering="crispEdges"><path fill="#060606" d="M8 3h1v1h-1zM-9 5h1v1h-1z"/><path fill="#0a0a0a" d="M8 4h1v1h-1zM-8 5h1v1h-1z"/><path fill="#0c0c0c" d="M7 3h1v1h-1zM-9 4h1v1h-1zM-9 6h1v1h-1z"/><path fill="#0e0e0e" d="M8 2h1v1h-1zM-8 4h1v1h-1zM7 4h1v1h-1zM8 5h1v1h-1z"/><path fill="#101010" d="M-10 5h1v1h-1zM9 5h1v1h-1zM-8 6h1v1h-1z"/><path fill="#121212" d="M-10 4h1v1h-1zM-10 6h1v1h-1zM8 6h1v1h-1z"/><path fill="#141414" d="M7 2h1v1h-1zM9 4h1v1h-1zM7 5h1v1h-1zM9 6h1v1h-1zM-9 7h2v1h-2z"/><path fill="#161616" d="M9 3h1v1h-1zM7 6h1v1h-1zM-10 7h1v1h-1zM8 7h1v1h-1z"/><path fill="#181818" d="M9 2h1v1h-1zM-11 4h1v1h-1zM-11 5h1v1h-1zM7 7h1v1h-1zM9 7h1v1h-1z"/><path fill="#1a1a1a" d="M-11 6h1v1h-1zM-7 7h1v1h-1zM-9 8h2v1h-2z"/><path fill="#1c1c1c" d="M-10 3h2v1h-2zM-7 5h1v1h-1zM10 5h1v1h-1zM-7 6h1v1h-1zM10 6h1v1h-1zM-11 7h1v1h-1zM-7 8h1v1h-1zM7 8h2v1h-2z"/><path fill="#1e1e1e" d="M-11 3h1v1h-1zM6 7h1v1h-1zM-10 8h1v1h-1zM6 8h1v1h-1z"/><path fill="#202020" d="M8 1h1v1h-1zM-12 4h1v1h-1zM-7 4h1v1h-1zM6 4h1v1h-1zM10 4h1v1h-1zM-12 5h1v1h-1zM6 5h1v1h-1zM-12 6h1v1h-1zM6 6h1v1h-1zM10 7h1v1h-1zM9 8h1v1h-1z"/><path fill="#222222" d="M9 1h1v1h-1zM-8 3h1v1h-1zM6 3h1v1h-1zM-11 8h1v1h-1zM-6 8h1v1h-1zM5 8h1v1h-1zM-9 9h3v1h-3zM7 9h1v1h-1z"/><path fill="#242424" d="M10 2h1v1h-1zM10 3h1v1h-1zM-6 7h1v1h-1zM5 7h1v1h-1zM-10 9h1v1h-1zM6 9h1v1h-1zM8 9h1v1h-1z"/><path fill="#262626" d="M7 1h1v1h-1zM-12 3h1v1h-1zM11 5h1v1h-1zM11 6h1v1h-1zM10 8h1v1h-1zM-6 9h1v1h-1zM5 9h1v1h-1zM-3 11h6v1h-6zM-1 12h2v1h-2z"/><path fill="#282828" d="M-10 2h1v1h-1zM-13 4h1v1h-1zM11 4h1v1h-1zM9 9h1v1h-1zM-8 10h5v1h-5zM3 10h2v1h-2zM-4 11h1v1h-1zM3 11h1v1h-1zM-3 12h2v1h-2zM1 12h2v1h-2z"/><path fill="#2a2a2a" d="M10 1h1v1h-1zM-11 2h1v1h-1zM-9 2h1v1h-1zM-6 6h1v1h-1zM-5 9h1v1h-1zM4 9h1v1h-1zM-9 10h1v1h-1zM-3 10h6v1h-6zM5 10h3v1h-3zM-5 11h1v1h-1zM4 11h1v1h-1zM-4 12h1v1h-1z"/><path fill="#2c2c2c" d="M6 2h1v1h-1zM-13 3h1v1h-1zM-7 3h1v1h-1zM11 3h1v1h-1zM5 6h1v1h-1zM-5 8h1v1h-1zM4 8h1v1h-1zM8 10h1v1h-1zM-6 11h1v1h-1zM5 11h1v1h-1zM3 12h1v1h-1zM-1 13h2v1h-2z"/><path fill="#2e2e2e" d="M-12 2h1v1h-1zM11 2h1v1h-1zM-7 11h1v1h-1zM-5 12h1v1h-1zM4 12h1v1h-1zM-2 13h1v1h-1zM1 13h1v1h-1z"/><path fill="#303030" d="M9 0h2v1h-2zM11 1h1v1h-1zM-8 2h1v1h-1zM12 4h1v1h-1zM-6 5h1v1h-1zM5 5h1v1h-1zM-4 9h1v1h-1zM3 9h1v1h-1zM6 11h1v1h-1z"/><path fill="#323232" d="M8 0h1v1h-1zM-10 1h2v1h-2zM-13 2h1v1h-1zM12 3h1v1h-1z"/><path fill="#343434" d="M11 0h1v1h-1zM-11 1h1v1h-1zM12 1h1v1h-1zM12 2h1v1h-1zM-6 4h1v1h-1zM5 4h1v1h-1zM-5 7h1v1h-1zM4 7h1v1h-1z"/><path fill="#363636" d="M7 0h1v1h-1zM6 1h1v1h-1z"/><path fill="#383838" d="M10 -1h2v1h-2zM-10 0h2v1h-2zM12 0h1v1h-1zM-12 1h1v1h-1zM-8 1h1v1h-1zM-7 2h1v1h-1zM-3 9h1v1h-1zM2 9h1v1h-1z"/><path fill="#3a3a3a" d="M9 -1h1v1h-1zM12 -1h1v1h-1zM13 0h1v1h-1zM13 1h1v1h-1zM5 3h1v1h-1z"/><path fill="#3c3c3c" d="M13 -1h1v1h-1zM-8 0h1v1h-1zM-13 1h1v1h-1zM-6 3h1v1h-1zM-5 6h1v1h-1zM4 6h1v1h-1zM-1 9h2v1h-2z"/><path fill="#3e3e3e" d="M10 -2h4v1h-4zM-9 -1h1v1h-1zM8 -1h1v1h-1zM-11 0h1v1h-1zM-14 1h1v1h-1zM-7 1h1v1h-1zM-2 9h1v1h-1zM1 9h1v1h-1z"/><path fill="#404040" d="M12 -3h1v1h-1zM9 -2h1v1h-1zM-10 -1h1v1h-1zM-5 5h1v1h-1zM-4 8h1v1h-1zM3 8h1v1h-1z"/><path fill="#424242" d="M10 -3h2v1h-2zM-8 -1h1v1h-1zM-12 0h1v1h-1zM6 0h1v1h-1zM4 5h1v1h-1z"/><path fill="#444444" d="M12 -4h1v1h-1zM9 -3h1v1h-1zM-9 -2h1v1h-1zM8 -2h1v1h-1zM7 -1h1v1h-1zM-14 0h2v1h-2zM-7 0h1v1h-1zM5 2h1v1h-1z"/><path fill="#464646" d="M11 -4h1v1h-1zM-10 -2h1v1h-1zM-11 -1h1v1h-1zM-6 2h1v1h-1zM-5 4h1v1h-1zM4 4h1v1h-1z"/><path fill="#484848" d="M12 -5h1v1h-1zM10 -4h1v1h-1zM8 -3h1v1h-1z"/><path fill="#4a4a4a" d="M9 -4h1v1h-1zM-9 -3h1v1h-1zM-8 -2h1v1h-1zM7 -2h1v1h-1zM-12 -1h1v1h-1zM5 1h1v1h-1z"/><path fill="#4c4c4c" d="M11 -5h1v1h-1zM-14 -1h2v1h-2zM-7 -1h1v1h-1zM6 -1h1v1h-1zM-6 1h1v1h-1z"/><path fill="#4e4e4e" d="M8 -4h1v1h-1zM7 -3h1v1h-1zM-11 -2h1v1h-1z"/><path fill="#505050" d="M10 -5h1v1h-1zM-10 -3h1v1h-1zM-6 0h1v1h-1zM5 0h1v1h-1zM-5 3h1v1h-1zM4 3h1v1h-1zM-4 7h1v1h-1zM3 7h1v1h-1z"/><path fill="#525252" d="M11 -6h1v1h-1zM-8 -3h1v1h-1zM-14 -2h3v1h-3z"/><path fill="#545454" d="M11 -7h1v1h-1zM9 -5h1v1h-1zM6 -2h1v1h-1zM-3 8h1v1h-1zM2 8h1v1h-1z"/><path fill="#565656" d="M-9 -4h1v1h-1zM7 -4h1v1h-1zM-11 -3h1v1h-1zM-4 5h1v1h-1zM-4 6h1v1h-1z"/><path fill="#585858" d="M10 -6h1v1h-1zM-7 -2h1v1h-1zM-6 -1h1v1h-1zM3 5h1v1h-1zM3 6h1v1h-1z"/><path fill="#5a5a5a" d="M8 -5h1v1h-1zM-13 -3h2v1h-2zM5 -1h1v1h-1zM-5 2h1v1h-1zM4 2h1v1h-1z"/><path fill="#5c5c5c" d="M10 -7h1v1h-1zM-10 -4h1v1h-1zM6 -3h1v1h-1zM-4 4h1v1h-1z"/><path fill="#5e5e5e" d="M10 -9h1v1h-1zM10 -8h1v1h-1zM9 -6h1v1h-1zM-13 -4h1v1h-1zM-8 -4h1v1h-1zM-5 1h1v1h-1zM3 4h1v1h-1zM-2 8h1v1h-1zM1 8h1v1h-1z"/><path fill="#606060" d="M-13 -5h1v1h-1zM-5 0h1v1h-1zM4 1h1v1h-1zM-1 8h2v1h-2z"/><path fill="#626262" d="M-12 -4h2v1h-2z"/><path fill="#646464" d="M-12 -7h1v1h-1zM9 -7h1v1h-1zM8 -6h1v1h-1zM7 -5h1v1h-1zM4 0h1v1h-1z"/><path fill="#666666" d="M-12 -6h1v1h-1zM-12 -5h1v1h-1zM-7 -3h1v1h-1z"/><path fill="#686868" d="M9 -10h1v1h-1zM9 -9h1v1h-1zM9 -8h1v1h-1zM-9 -5h1v1h-1zM6 -4h1v1h-1zM5 -2h1v1h-1zM-5 -1h1v1h-1z"/><path fill="#6a6a6a" d="M-11 -7h1v1h-1zM-11 -6h1v1h-1zM-10 -5h1v1h-1zM-6 -2h1v1h-1zM-4 3h1v1h-1zM3 3h1v1h-1z"/><path fill="#6c6c6c" d="M-11 -9h1v1h-1zM8 -7h1v1h-1zM-10 -6h1v1h-1zM-11 -5h1v1h-1z"/><path fill="#6e6e6e" d="M8 -11h1v1h-1zM-11 -8h1v1h-1zM4 -1h1v1h-1zM-3 7h1v1h-1zM2 7h1v1h-1z"/><path fill="#707070" d="M7 -6h1v1h-1z"/><path fill="#727272" d="M8 -8h1v1h-1z"/><path fill="#747474" d="M8 -10h1v1h-1zM8 -9h1v1h-1zM-10 -7h1v1h-1zM5 -3h1v1h-1zM-4 2h1v1h-1zM3 2h1v1h-1z"/><path fill="#767676" d="M-10 -10h1v1h-1zM-8 -5h1v1h-1zM-7 -4h1v1h-1z"/><path fill="#787878" d="M7 -7h1v1h-1zM6 -5h1v1h-1zM-3 6h1v1h-1zM2 6h1v1h-1z"/><path fill="#7a7a7a" d="M-2 -14h4v1h-4zM-9 -11h1v1h-1zM-9 -6h1v1h-1zM-4 1h1v1h-1zM-3 5h1v1h-1zM2 5h1v1h-1z"/><path fill="#7c7c7c" d="M7 -11h1v1h-1zM-10 -9h1v1h-1zM-10 -8h1v1h-1zM7 -8h1v1h-1zM3 1h1v1h-1zM1 7h1v1h-1z"/><path fill="#7e7e7e" d="M6 -12h1v1h-1zM-6 -3h1v1h-1zM-2 7h1v1h-1z"/><path fill="#808080" d="M-5 -13h1v1h-1zM4 -13h1v1h-1zM7 -10h1v1h-1zM7 -9h1v1h-1zM-5 -2h1v1h-1zM-4 0h1v1h-1zM-3 4h1v1h-1zM2 4h1v1h-1z"/><path fill="#828282" d="M-7 -12h1v1h-1zM5 -4h1v1h-1zM4 -2h1v1h-1zM3 0h1v1h-1z"/><path fill="#848484" d="M3 -13h1v1h-1zM-9 -10h1v1h-1zM6 -6h1v1h-1zM-1 7h2v1h-2z"/><path fill="#868686" d="M-4 -13h1v1h-1zM5 -12h1v1h-1zM-8 -11h1v1h-1z"/><path fill="#888888" d="M2 -13h1v1h-1zM-6 -12h1v1h-1zM6 -11h1v1h-1zM-9 -7h1v1h-1zM-4 -1h1v1h-1zM-3 3h1v1h-1zM2 3h1v1h-1z"/><path fill="#8a8a8a" d="M-3 -13h1v1h-1zM1 -13h1v1h-1zM6 -7h1v1h-1zM-7 -5h1v1h-1z"/><path fill="#8c8c8c" d="M-2 -13h3v1h-3zM4 -12h1v1h-1zM6 -10h1v1h-1zM-9 -9h1v1h-1zM6 -8h1v1h-1z"/><path fill="#8e8e8e" d="M6 -9h1v1h-1zM-9 -8h1v1h-1zM-8 -6h1v1h-1zM3 -1h1v1h-1z"/><path fill="#909090" d="M-5 -12h1v1h-1zM-7 -11h1v1h-1zM-6 -4h1v1h-1zM1 6h1v1h-1z"/><path fill="#929292" d="M3 -12h1v1h-1zM5 -11h1v1h-1zM-8 -10h1v1h-1zM5 -5h1v1h-1zM-3 2h1v1h-1zM2 2h1v1h-1zM-2 6h1v1h-1z"/><path fill="#949494" d="M-4 -12h1v1h-1z"/><path fill="#969696" d="M2 -12h1v1h-1zM-6 -11h1v1h-1zM-5 -3h1v1h-1zM4 -3h1v1h-1z"/><path fill="#989898" d="M-3 -12h1v1h-1zM1 -12h1v1h-1zM4 -11h1v1h-1zM5 -10h1v1h-1z"/><path fill="#9a9a9a" d="M-2 -12h3v1h-3zM5 -9h1v1h-1zM-4 -2h1v1h-1zM-3 1h1v1h-1zM2 1h1v1h-1zM1 5h1v1h-1z"/><path fill="#9c9c9c" d="M-5 -11h1v1h-1zM3 -11h1v1h-1zM-7 -10h1v1h-1zM-8 -9h1v1h-1z"/><path fill="#9e9e9e" d="M4 -10h1v1h-1zM5 -8h1v1h-1zM-2 5h1v1h-1z"/><path fill="#a0a0a0" d="M2 -11h1v1h-1zM-6 -10h1v1h-1zM-8 -7h1v1h-1zM-7 -6h1v1h-1zM5 -6h1v1h-1zM-6 -5h1v1h-1zM3 -2h1v1h-1zM1 4h1v1h-1zM-1 6h2v1h-2z"/><path fill="#a2a2a2" d="M-4 -11h1v1h-1zM-8 -8h1v1h-1zM5 -7h1v1h-1zM4 -4h1v1h-1z"/><path fill="#a4a4a4" d="M1 -11h1v1h-1zM-5 -10h1v1h-1zM3 -10h1v1h-1zM4 -9h1v1h-1zM-3 0h1v1h-1zM2 0h1v1h-1zM1 3h1v1h-1zM-2 4h1v1h-1z"/><path fill="#a6a6a6" d="M-3 -11h1v1h-1zM-1 -11h2v1h-2zM-7 -9h1v1h-1zM-2 3h1v1h-1z"/><path fill="#a8a8a8" d="M-2 -11h1v1h-1zM-5 -4h1v1h-1z"/><path fill="#aaaaaa" d="M-4 -10h1v1h-1zM2 -10h1v1h-1zM-6 -9h1v1h-1zM4 -8h1v1h-1zM4 -5h1v1h-1zM-2 2h1v1h-1zM1 2h1v1h-1z"/><path fill="#acacac" d="M3 -9h1v1h-1zM-6 -6h1v1h-1z"/><path fill="#aeaeae" d="M-3 -10h1v1h-1zM1 -10h1v1h-1zM-5 -9h1v1h-1zM-4 -3h1v1h-1zM-3 -1h1v1h-1z"/><path fill="#b0b0b0" d="M-2 -10h1v1h-1zM0 -10h1v1h-1zM-7 -8h1v1h-1zM-7 -7h1v1h-1zM4 -7h1v1h-1zM4 -6h1v1h-1zM2 -1h1v1h-1z"/><path fill="#b2b2b2" d="M-1 -10h1v1h-1zM-4 -9h1v1h-1zM2 -9h1v1h-1zM3 -8h1v1h-1zM-2 1h1v1h-1zM1 1h1v1h-1zM-1 5h2v1h-2z"/><path fill="#b4b4b4" d="M-6 -8h1v1h-1zM-6 -7h1v1h-1zM-5 -5h1v1h-1zM3 -3h1v1h-1z"/><path fill="#b6b6b6" d="M-3 -9h1v1h-1zM1 -9h1v1h-1zM-5 -8h1v1h-1zM0 2h1v1h-1zM0 3h1v1h-1z"/><path fill="#b8b8b8" d="M-2 -9h1v1h-1zM3 -7h1v1h-1zM3 -6h1v1h-1zM-3 -2h1v1h-1zM-1 2h1v1h-1zM-1 3h1v1h-1zM0 4h1v1h-1z"/><path fill="#bababa" d="M-1 -9h2v1h-2zM-4 -8h1v1h-1zM2 -8h1v1h-1zM-5 -6h1v1h-1zM-1 4h1v1h-1z"/><path fill="#bcbcbc" d="M-5 -7h1v1h-1z"/><path fill="#bebebe" d="M-3 -8h1v1h-1zM3 -5h1v1h-1zM-4 -4h1v1h-1zM3 -4h1v1h-1zM2 -2h1v1h-1zM-2 0h1v1h-1zM1 0h1v1h-1zM-1 1h2v1h-2z"/><path fill="#c0c0c0" d="M1 -8h1v1h-1z"/><path fill="#c2c2c2" d="M-2 -8h1v1h-1zM2 -7h1v1h-1zM-3 -3h1v1h-1z"/><path fill="#c4c4c4" d="M-1 -8h2v1h-2zM-4 -7h1v1h-1z"/><path fill="#c8c8c8" d="M-4 -5h1v1h-1zM-2 -1h1v1h-1zM1 -1h1v1h-1z"/><path fill="#cacaca" d="M-3 -7h1v1h-1zM1 -7h1v1h-1zM2 -6h1v1h-1zM-1 0h2v1h-2z"/><path fill="#cccccc" d="M-4 -6h1v1h-1zM-3 -4h1v1h-1zM2 -3h1v1h-1zM-2 -2h1v1h-1z"/><path fill="#cecece" d="M-2 -7h3v1h-3z"/><path fill="#d0d0d0" d="M2 -5h1v1h-1zM-2 -3h1v1h-1z"/><path fill="#d2d2d2" d="M-3 -6h1v1h-1zM-3 -5h1v1h-1zM2 -4h1v1h-1zM1 -2h1v1h-1z"/><path fill="#d4d4d4" d="M-1 -1h2v1h-2z"/><path fill="#d6d6d6" d="M-2 -6h2v1h-2zM1 -6h1v1h-1zM-2 -4h1v1h-1z"/><path fill="#d8d8d8" d="M0 -6h1v1h-1zM-2 -5h1v1h-1zM-1 -2h1v1h-1z"/><path fill="#dadada" d="M-1 -3h1v1h-1zM1 -3h1v1h-1zM0 -2h1v1h-1z"/><path fill="#dcdcdc" d="M-1 -5h1v1h-1z"/><path fill="#dedede" d="M1 -5h1v1h-1zM-1 -4h1v1h-1zM0 -3h1v1h-1z"/><path fill="#e0e0e0" d="M0 -5h1v1h-1zM1 -4h1v1h-1z"/><path fill="#e4e4e4" d="M0 -4h1v1h-1z"/></g></g>
<path d="M1253 1114.3l-4.7-9.3-1.4-13-1.6-4-2.2-3-4.3-3-5.8-1.5-6 0.3-5 1.9-3 2.1-2.1 2.2-1.9 3-2.2 5-1.9 6-1.2 6-0.3 14-0.6 4-2.8 7-6 10-0.8 2-0.1 2 0.9 2.3 1.7 1.7 9.3 4 4 1 4 0.3 8-0.8 8-2.6 8-4.8 6-5.7 4-6.5M1053 1141.8l6 6 7 4.7 8 3.4 8 1.4 7-0.3 7-2.3 9-5.2 1.6-2.5 0.4-2-0.6-3-4.4-9-2.2-6-2.3-13-1.1-4-2.2-4-3.2-3.4-5-2.8-13-4.1-5-0.9-4 0-4 0.9-4 1.8-3 2.1M1253 1042.1l-13 3.2-4 1.6-3 1.9-3 2.8-6.7 8.4-13.9 14-4 7-4 12-7.9 19-1.4 5-2.3 14-3.3 9-3.4 5-3.5 3-5.6 2.6-6 1.4-25 0.3-6-0.5-8-2.3-3-1.7-3-2.6-3.5-5.2-2.3-6-1.6-7-1.1-10-1.4-5-9.8-20-5.3-12.2-2.8-4.8-9.2-13-3-3.6-3-2.6-2-1-2-0.4-4 1-4 2.4-10.4 8.2-4.6 3M1053 996.4l2.1-7.4 3.2-7 4.6-7 5.1-6M1232.7 969l5.1 9 2.8 9 0.8 9-0.6 5-1.1 4-1.8 4-2.8 4-12.1 11.8-12 14.6-2.2 3.6-5.3 12-8.7 13-1.4 4-3.9 19-8 21-0.7 5-0.2 11-1.1 6-1.4 3-1.6 2-2.5 1.8-3 1.3-5 1.3-6 0.7-15-0.1-9-1.5-4-1.7-2.5-1.8-2.1-3-1.5-5-0.4-15-0.6-4-8.4-21-1.3-7-1.2-14-1.7-4-13.3-13.7-11.7-16.3-5.3-4.2-5-1.9-4-0.3-3 0.7-6 3.4-3 1.1-4 0.3-4-0.9M1204.4 969l4.3 4 2.9 4 1.7 4 1.1 5 0.2 5-0.5 5-3.9 23-2.1 5-6.8 12-5.4 12-8.3 13-2.9 6-5.3 20-5.4 18-3.1 18-1.6 5-2.1 3-3.2 2.2-5 1.7-6 0.7-5-0.4-5-1.4-3.4-1.8-2.7-3-2.1-6-3.5-20-4.9-17-3.7-18-2.2-6-3.5-5.3-11.2-12.7-9.8-13.5-14.8-13.5-3.3-5-2.1-5-1.4-6 0-5 1.1-5 2.3-5 3.2-4.5 4.4-4.5 5.2-4 6.4-4M1153 1124l-3-0.4-3-1.6-2-2.1-1.6-2.9-1.4-5.2-1.2-13.8-1.2-6-7.6-18.9-4-13.1-2.7-6-2.6-4-8.2-10-10.5-18.7-3-2.9-9-5.2-1.8-2.2-0.9-3 0.2-4 1-3 2.5-3.4 3-2.4 5-2.2 9-2.5 5-2.6 13-8.2 3-1.3 5-0.9 11-0.4 11 1.2 10 2.5 8 3.7 4 2.6 4 3.5 8 9.3 5.3 8.1 1.7 4 0.6 3-0.5 3-5.3 10-4.4 15-10 17-12.1 29-2.4 8-1.6 14-1.5 6-1.6 3-2.2 2.2-2 1.2-3 0.6M1155 1073.1l-3 0.3-3-0.7-3-1.9-3-3.3-2.3-4.5-3.1-12-2.3-6-9.2-13-3.2-6-1.4-5 0.5-3.2 2.9-3.8 4.1-2.4 7-2.2 9-1.4 8-0.3 7 0.7 6 2.1 4 2.7 3 3.4 2.8 5.4 2.1 6 0.9 5-0.2 5-1.5 5-10.1 18.5-3 4.6-4.8 4.9-4.2 2.1" fill="none" stroke="#1a1a1a" stroke-width="0.8" stroke-opacity="0.9"/>
</g>
<use href="#e5" x="1153.0" y="1069.0" fill="none" stroke="#111" stroke-width="1.1"/>
<circle cx="1153.0" cy="1069.0" r="98.80" fill="none" stroke="#1a1a1a" stroke-width="2.4"/>
<path d="M1135.2,971.2L1153.0,953.9L1170.8,971.2" fill="none" stroke="#1a1a1a" stroke-width="1.7" stroke-linejoin="miter"/>
<path d="M1251.2,1058.0 L1253.8,1053.7 L1255.4,1053.5 L1257.7,1054.3 L1260.1,1058.0 L1259.7,1070.1 L1261.1,1087.4 L1258.1,1094.9 L1253.8,1096.3 L1249.6,1092.7" fill="none" stroke="#1a1a1a" stroke-width="1.7" stroke-linejoin="round"/>
<path d="M1054.8,1058.0 L1052.2,1053.7 L1050.6,1053.5 L1048.3,1054.3 L1045.9,1058.0 L1046.3,1070.1 L1044.9,1087.4 L1047.9,1094.9 L1052.2,1096.3 L1056.4,1092.7" fill="none" stroke="#1a1a1a" stroke-width="1.7" stroke-linejoin="round"/>
<g clip-path="url(#c7)"><g filter="url(#cm)"><g transform="translate(209.8 1363.9) scale(9.0)" shape-rendering="crispEdges"><path fill="#000000" d="M-1 -14h4v1h-4zM-3 -13h9v1h-9zM-6 -12h13v1h-13zM-7 -11h14v1h-14zM-7 -10h4v1h-4zM5 -10h2v1h-2zM-6 -9h2v1h-2z"/><path fill="#020202" d="M-4 -13h1v1h-1zM-7 -9h1v1h-1z"/><path fill="#040404" d="M7 -11h1v1h-1z"/><path fill="#080808" d="M-2 -14h1v1h-1zM-3 -10h1v1h-1z"/><path fill="#0a0a0a" d="M-5 -13h1v1h-1zM-7 -12h1v1h-1zM-1 -10h1v1h-1zM4 -10h1v1h-1z"/><path fill="#0c0c0c" d="M-8 -10h1v1h-1zM-2 -10h1v1h-1zM0 -10h1v1h-1z"/><path fill="#0e0e0e" d="M7 -10h1v1h-1zM-4 -9h1v1h-1z"/><path fill="#101010" d="M7 -12h1v1h-1z"/><path fill="#121212" d="M-8 -11h1v1h-1zM1 -10h1v1h-1z"/><path fill="#141414" d="M3 -10h1v1h-1z"/><path fill="#161616" d="M-3 -14h1v1h-1z"/><path fill="#181818" d="M2 -10h1v1h-1zM-8 -9h1v1h-1z"/><path fill="#1a1a1a" d="M-6 -13h1v1h-1z"/><path fill="#1c1c1c" d="M-3 13h1v1h-1z"/><path fill="#1e1e1e" d="M2 13h1v1h-1z"/><path fill="#202020" d="M-6 -8h1v1h-1z"/><path fill="#222222" d="M-3 -9h1v1h-1zM-5 -8h1v1h-1z"/><path fill="#242424" d="M6 -9h1v1h-1z"/><path fill="#282828" d="M-7 -8h1v1h-1zM-2 13h1v1h-1zM1 13h1v1h-1z"/><path fill="#2a2a2a" d="M-8 -12h1v1h-1zM8 -11h1v1h-1z"/><path fill="#2c2c2c" d="M-9 -10h1v1h-1zM5 -9h1v1h-1zM7 -9h1v1h-1zM-8 11h1v1h-1zM-6 12h1v1h-1z"/><path fill="#2e2e2e" d="M8 -10h1v1h-1zM-1 13h2v1h-2z"/><path fill="#303030" d="M-9 -9h1v1h-1zM-2 -9h1v1h-1z"/><path fill="#343434" d="M-9 -11h1v1h-1zM-8 -8h1v1h-1zM-4 -8h1v1h-1z"/><path fill="#363636" d="M-1 -9h1v1h-1z"/><path fill="#383838" d="M5 12h1v1h-1z"/><path fill="#3a3a3a" d="M0 -9h1v1h-1zM-9 10h1v1h-1z"/><path fill="#3c3c3c" d="M4 -9h1v1h-1z"/><path fill="#3e3e3e" d="M8 -9h1v1h-1zM-12 7h1v1h-1zM-10 9h1v1h-1z"/><path fill="#404040" d="M1 -9h1v1h-1zM3 -9h1v1h-1zM-11 8h1v1h-1z"/><path fill="#424242" d="M2 -9h1v1h-1zM-9 -8h1v1h-1zM-5 12h1v1h-1z"/><path fill="#464646" d="M7 11h1v1h-1z"/><path fill="#484848" d="M-3 -8h1v1h-1zM4 12h1v1h-1z"/><path fill="#4a4a4a" d="M-10 -9h1v1h-1z"/><path fill="#4c4c4c" d="M-10 -10h1v1h-1z"/><path fill="#4e4e4e" d="M6 -8h2v1h-2zM-6 -7h1v1h-1zM-7 11h1v1h-1z"/><path fill="#505050" d="M9 -10h1v1h-1zM-10 -8h1v1h-1z"/><path fill="#525252" d="M-7 -7h1v1h-1zM-5 -7h1v1h-1zM-4 12h1v1h-1zM3 12h1v1h-1z"/><path fill="#545454" d="M5 -8h1v1h-1zM-8 -7h1v1h-1zM-13 5h1v1h-1z"/><path fill="#565656" d="M9 -9h1v1h-1zM8 -8h1v1h-1zM-9 -7h1v1h-1zM8 10h1v1h-1z"/><path fill="#5a5a5a" d="M-2 -8h1v1h-1zM2 12h1v1h-1z"/><path fill="#5c5c5c" d="M-10 -7h1v1h-1zM-12 6h1v1h-1zM11 7h1v1h-1z"/><path fill="#5e5e5e" d="M4 -8h1v1h-1zM-4 -7h1v1h-1zM10 8h1v1h-1zM9 9h1v1h-1zM-8 10h1v1h-1zM-3 12h1v1h-1z"/><path fill="#606060" d="M-11 7h1v1h-1zM-10 8h1v1h-1zM-9 9h1v1h-1zM6 11h1v1h-1z"/><path fill="#626262" d="M-1 -8h1v1h-1z"/><path fill="#646464" d="M-11 -8h1v1h-1zM9 -8h1v1h-1zM1 12h1v1h-1z"/><path fill="#666666" d="M-11 -9h1v1h-1zM3 -8h1v1h-1zM-13 4h1v1h-1zM-2 12h1v1h-1z"/><path fill="#686868" d="M0 -8h1v1h-1zM-14 2h1v1h-1zM-6 11h1v1h-1z"/><path fill="#6a6a6a" d="M1 -8h2v1h-2zM-11 -7h1v1h-1zM12 5h1v1h-1zM0 12h1v1h-1z"/><path fill="#6c6c6c" d="M7 -7h2v1h-2zM-10 -6h2v1h-2zM-1 12h1v1h-1z"/><path fill="#6e6e6e" d="M5 -7h2v1h-2zM-8 -6h1v1h-1z"/><path fill="#707070" d="M-14 1h1v1h-1z"/><path fill="#727272" d="M9 -7h1v1h-1zM-7 -6h1v1h-1zM-13 3h1v1h-1zM-12 5h1v1h-1zM11 6h1v1h-1zM5 11h1v1h-1z"/><path fill="#747474" d="M10 -9h1v1h-1zM-3 -7h1v1h-1zM-11 -6h1v1h-1zM-6 -6h1v1h-1zM7 10h1v1h-1z"/><path fill="#767676" d="M12 4h1v1h-1z"/><path fill="#787878" d="M10 -8h1v1h-1zM4 -7h1v1h-1zM-14 0h1v1h-1zM-11 6h1v1h-1zM10 7h1v1h-1z"/><path fill="#7a7a7a" d="M-5 -6h1v1h-1zM8 -6h1v1h-1zM-13 2h1v1h-1zM13 2h1v1h-1zM-10 7h1v1h-1zM9 8h1v1h-1zM8 9h1v1h-1zM-5 11h1v1h-1z"/><path fill="#7c7c7c" d="M-12 -8h1v1h-1zM-12 -7h1v1h-1zM9 -6h1v1h-1zM-9 8h1v1h-1zM4 11h1v1h-1z"/><path fill="#7e7e7e" d="M10 -7h1v1h-1zM7 -6h1v1h-1zM-10 -5h1v1h-1zM12 3h1v1h-1zM-7 10h1v1h-1z"/><path fill="#808080" d="M-12 -6h1v1h-1zM-9 -5h1v1h-1zM-14 -1h1v1h-1zM-13 1h1v1h-1zM-12 4h1v1h-1zM11 5h1v1h-1zM-8 9h1v1h-1zM3 11h1v1h-1z"/><path fill="#828282" d="M3 -7h1v1h-1zM6 -6h1v1h-1zM-11 -5h1v1h-1zM-8 -5h1v1h-1zM13 1h1v1h-1z"/><path fill="#848484" d="M10 -6h1v1h-1zM9 -5h1v1h-1zM-13 0h1v1h-1zM12 2h1v1h-1zM-4 11h1v1h-1zM2 11h1v1h-1z"/><path fill="#868686" d="M-2 -7h1v1h-1zM-4 -6h1v1h-1zM5 -6h1v1h-1zM8 -5h1v1h-1zM-14 -2h1v1h-1z"/><path fill="#888888" d="M-12 -5h1v1h-1zM-7 -5h1v1h-1zM10 -5h1v1h-1zM-13 -1h1v1h-1zM12 1h1v1h-1zM-12 3h1v1h-1zM11 4h1v1h-1z"/><path fill="#8a8a8a" d="M7 -5h1v1h-1zM9 -4h2v1h-2zM-13 -2h1v1h-1zM12 0h2v1h-2zM-12 2h1v1h-1zM11 3h1v1h-1zM-11 5h1v1h-1zM10 6h1v1h-1zM1 11h1v1h-1z"/><path fill="#8c8c8c" d="M2 -7h1v1h-1zM-13 -6h1v1h-1zM-12 -4h4v1h-4zM-14 -3h2v1h-2zM10 -3h1v1h-1zM-12 -1h1v1h-1zM-12 0h1v1h-1zM11 0h1v1h-1zM-12 1h1v1h-1zM11 1h1v1h-1zM11 2h1v1h-1zM-10 6h1v1h-1zM-9 7h1v1h-1zM-3 11h1v1h-1z"/><path fill="#8e8e8e" d="M-1 -7h1v1h-1zM-13 -5h1v1h-1zM-6 -5h1v1h-1zM-13 -4h1v1h-1zM8 -4h1v1h-1zM-12 -3h1v1h-1zM9 -3h1v1h-1zM-12 -2h1v1h-1zM10 -2h2v1h-2zM10 -1h3v1h-3zM6 10h1v1h-1z"/><path fill="#909090" d="M11 -8h1v1h-1zM11 -7h1v1h-1zM4 -6h1v1h-1zM11 -6h1v1h-1zM11 -5h1v1h-1zM-8 -4h1v1h-1zM11 -4h1v1h-1zM-11 -3h1v1h-1zM11 -3h1v1h-1zM-11 -2h1v1h-1zM9 -2h1v1h-1zM13 -1h1v1h-1zM10 0h1v1h-1zM9 7h1v1h-1zM-2 11h1v1h-1z"/><path fill="#929292" d="M0 -7h2v1h-2zM6 -5h1v1h-1zM-10 -3h1v1h-1zM12 -2h1v1h-1zM-11 -1h1v1h-1zM9 -1h1v1h-1zM-11 0h1v1h-1zM10 1h1v1h-1zM-8 8h1v1h-1zM8 8h1v1h-1zM0 11h1v1h-1z"/><path fill="#949494" d="M7 -4h1v1h-1zM-9 -3h1v1h-1zM8 -3h1v1h-1zM-10 -2h1v1h-1zM9 0h1v1h-1zM-11 1h1v1h-1zM10 2h1v1h-1zM-11 4h1v1h-1zM10 5h1v1h-1zM7 9h1v1h-1zM-6 10h1v1h-1zM-1 11h1v1h-1z"/><path fill="#969696" d="M-7 -4h1v1h-1zM12 -3h1v1h-1zM13 -2h1v1h-1zM-10 -1h1v1h-1zM-10 0h1v1h-1zM-11 2h1v1h-1zM-11 3h1v1h-1zM10 3h1v1h-1zM10 4h1v1h-1z"/><path fill="#989898" d="M-5 -5h1v1h-1zM-8 -3h1v1h-1zM-9 -2h1v1h-1zM8 -2h1v1h-1zM-10 1h1v1h-1zM9 1h1v1h-1zM-9 6h1v1h-1z"/><path fill="#9a9a9a" d="M12 -4h1v1h-1zM-9 -1h1v1h-1zM8 -1h1v1h-1zM9 2h1v1h-1zM-10 5h1v1h-1zM-7 9h1v1h-1z"/><path fill="#9c9c9c" d="M-3 -6h1v1h-1zM3 -6h1v1h-1zM5 -5h1v1h-1zM12 -5h1v1h-1zM7 -3h1v1h-1zM-8 -2h1v1h-1zM-9 0h1v1h-1zM-10 2h1v1h-1zM9 6h1v1h-1zM-8 7h1v1h-1zM2 10h1v1h-1zM5 10h1v1h-1z"/><path fill="#9e9e9e" d="M6 -4h1v1h-1zM13 -3h1v1h-1zM-8 -1h1v1h-1zM8 0h1v1h-1zM-9 1h1v1h-1zM-10 3h1v1h-1zM9 3h1v1h-1zM-10 4h1v1h-1zM-5 10h1v1h-1zM0 10h2v1h-2zM3 10h2v1h-2z"/><path fill="#a0a0a0" d="M12 -6h1v1h-1zM-6 -4h1v1h-1zM-7 -3h1v1h-1zM8 1h1v1h-1zM-9 2h1v1h-1zM-9 5h1v1h-1z"/><path fill="#a2a2a2" d="M-8 0h1v1h-1zM8 2h1v1h-1zM-9 3h1v1h-1zM9 4h1v1h-1zM9 5h1v1h-1zM-8 6h1v1h-1zM8 7h1v1h-1zM-1 10h1v1h-1z"/><path fill="#a4a4a4" d="M-7 -2h1v1h-1zM7 -2h1v1h-1zM-9 4h1v1h-1zM-7 8h1v1h-1zM7 8h1v1h-1zM-4 10h1v1h-1z"/><path fill="#a6a6a6" d="M-7 -1h1v1h-1zM-8 1h1v1h-1zM8 3h1v1h-1zM-8 5h1v1h-1zM-3 10h2v1h-2z"/><path fill="#a8a8a8" d="M-4 -5h1v1h-1zM7 -1h1v1h-1zM-7 7h1v1h-1zM0 9h1v1h-1zM6 9h1v1h-1z"/><path fill="#aaaaaa" d="M2 -6h1v1h-1zM4 -5h1v1h-1zM6 -3h1v1h-1zM-8 2h1v1h-1zM-8 3h1v1h-1zM-8 4h1v1h-1zM8 4h1v1h-1zM8 6h1v1h-1zM-1 9h1v1h-1zM1 9h1v1h-1z"/><path fill="#acacac" d="M-6 -3h1v1h-1zM-7 0h1v1h-1zM7 0h1v1h-1zM8 5h1v1h-1zM-7 6h1v1h-1zM-6 9h1v1h-1zM2 9h1v1h-1z"/><path fill="#aeaeae" d="M-2 -6h1v1h-1zM-5 -4h1v1h-1zM7 1h1v1h-1zM7 7h1v1h-1zM3 9h1v1h-1z"/><path fill="#b0b0b0" d="M5 -4h1v1h-1zM7 2h1v1h-1zM-7 5h1v1h-1zM-6 8h1v1h-1zM6 8h1v1h-1zM4 9h1v1h-1z"/><path fill="#b2b2b2" d="M1 -6h1v1h-1zM-7 1h1v1h-1zM7 3h1v1h-1zM7 6h1v1h-1zM-6 7h1v1h-1zM-5 9h1v1h-1zM-2 9h1v1h-1zM5 9h1v1h-1z"/><path fill="#b4b4b4" d="M-1 -6h1v1h-1zM-6 -2h1v1h-1zM6 -2h1v1h-1zM7 4h1v1h-1zM7 5h1v1h-1zM4 8h2v1h-2zM-4 9h1v1h-1z"/><path fill="#b6b6b6" d="M0 -6h1v1h-1zM-7 4h1v1h-1zM6 7h1v1h-1zM-5 8h1v1h-1zM3 8h1v1h-1zM-3 9h1v1h-1z"/><path fill="#b8b8b8" d="M3 -5h1v1h-1zM-6 -1h1v1h-1zM6 -1h1v1h-1zM-7 2h1v1h-1zM-7 3h1v1h-1zM-6 6h1v1h-1zM5 7h1v1h-1zM0 8h3v1h-3z"/><path fill="#bababa" d="M6 6h1v1h-1zM-5 7h1v1h-1zM4 7h1v1h-1zM-4 8h1v1h-1zM-1 8h1v1h-1z"/><path fill="#bcbcbc" d="M-3 -5h1v1h-1zM5 -3h1v1h-1zM-6 0h1v1h-1zM6 0h1v1h-1zM6 1h1v1h-1zM6 5h1v1h-1zM-3 8h2v1h-2z"/><path fill="#bebebe" d="M-5 -3h1v1h-1zM6 2h1v1h-1zM6 3h1v1h-1zM6 4h1v1h-1zM-6 5h1v1h-1zM5 6h1v1h-1zM-4 7h1v1h-1zM3 7h1v1h-1z"/><path fill="#c0c0c0" d="M-4 -4h1v1h-1zM-6 1h1v1h-1zM-5 6h1v1h-1zM4 6h1v1h-1z"/><path fill="#c2c2c2" d="M2 -5h1v1h-1zM-6 4h1v1h-1zM5 5h1v1h-1zM-3 7h1v1h-1zM2 7h1v1h-1z"/><path fill="#c4c4c4" d="M4 -4h1v1h-1zM5 -2h1v1h-1zM-6 2h1v1h-1zM-6 3h1v1h-1zM5 4h1v1h-1zM4 5h1v1h-1zM-4 6h1v1h-1zM3 6h1v1h-1zM-2 7h1v1h-1zM1 7h1v1h-1z"/><path fill="#c6c6c6" d="M-5 5h1v1h-1zM-1 7h2v1h-2z"/><path fill="#c8c8c8" d="M-5 -2h1v1h-1zM5 -1h1v1h-1zM5 3h1v1h-1zM4 4h1v1h-1zM3 5h1v1h-1zM-3 6h1v1h-1zM2 6h1v1h-1z"/><path fill="#cacaca" d="M-2 -5h1v1h-1zM1 -5h1v1h-1zM5 0h1v1h-1zM5 1h1v1h-1zM5 2h1v1h-1zM-5 4h1v1h-1zM-4 5h1v1h-1z"/><path fill="#cccccc" d="M-5 3h1v1h-1zM3 4h1v1h-1zM2 5h1v1h-1zM-2 6h1v1h-1zM1 6h1v1h-1z"/><path fill="#cecece" d="M-5 -1h1v1h-1zM-5 1h1v1h-1zM-5 2h1v1h-1zM4 3h1v1h-1zM-4 4h1v1h-1zM-3 5h1v1h-1zM-1 6h2v1h-2z"/><path fill="#d0d0d0" d="M-1 -5h2v1h-2zM3 -4h1v1h-1zM-4 -3h1v1h-1zM-5 0h1v1h-1zM4 2h1v1h-1z"/><path fill="#d2d2d2" d="M-3 -4h1v1h-1zM4 -3h1v1h-1zM-4 3h1v1h-1zM3 3h1v1h-1zM-3 4h1v1h-1zM2 4h1v1h-1zM-2 5h1v1h-1zM1 5h1v1h-1z"/><path fill="#d4d4d4" d="M4 1h1v1h-1zM-1 5h1v1h-1z"/><path fill="#d6d6d6" d="M2 -4h1v1h-1zM4 -2h1v1h-1zM4 -1h1v1h-1zM4 0h1v1h-1zM-4 2h1v1h-1zM3 2h1v1h-1zM-3 3h1v1h-1zM2 3h1v1h-1zM-2 4h1v1h-1zM1 4h1v1h-1zM0 5h1v1h-1z"/><path fill="#dadada" d="M-4 -2h1v1h-1zM-4 1h1v1h-1zM3 1h1v1h-1zM-2 3h1v1h-1zM1 3h1v1h-1zM-1 4h2v1h-2z"/><path fill="#dcdcdc" d="M1 -4h1v1h-1zM-3 2h1v1h-1zM2 2h1v1h-1z"/><path fill="#dedede" d="M3 -3h1v1h-1zM-4 0h1v1h-1zM3 0h1v1h-1zM-1 3h2v1h-2z"/><path fill="#e0e0e0" d="M-2 -4h1v1h-1zM3 -2h1v1h-1zM-4 -1h1v1h-1zM3 -1h1v1h-1zM2 1h1v1h-1zM-2 2h1v1h-1zM1 2h1v1h-1z"/><path fill="#e2e2e2" d="M0 -4h1v1h-1zM-3 -3h1v1h-1zM2 -3h1v1h-1zM-3 1h1v1h-1zM-1 2h2v1h-2z"/><path fill="#e4e4e4" d="M-1 -4h1v1h-1zM2 0h1v1h-1zM1 1h1v1h-1z"/><path fill="#e6e6e6" d="M2 -1h1v1h-1z"/><path fill="#e8e8e8" d="M1 -3h1v1h-1zM2 -2h1v1h-1zM-2 1h1v1h-1zM0 1h1v1h-1z"/><path fill="#eaeaea" d="M-3 -2h1v1h-1zM-3 0h1v1h-1zM1 0h1v1h-1zM-1 1h1v1h-1z"/><path fill="#eeeeee" d="M-2 -3h1v1h-1zM1 -2h1v1h-1zM-3 -1h1v1h-1zM1 -1h1v1h-1z"/><path fill="#f0f0f0" d="M0 -3h1v1h-1zM-2 0h1v1h-1zM0 0h1v1h-1z"/><path fill="#f2f2f2" d="M-1 0h1v1h-1z"/><path fill="#f4f4f4" d="M-1 -3h1v1h-1z"/><path fill="#f6f6f6" d="M-2 -2h1v1h-1zM0 -2h1v1h-1zM-2 -1h1v1h-1zM0 -1h1v1h-1z"/><path fill="#f8f8f8" d="M-1 -1h1v1h-1z"/><path fill="#fcfcfc" d="M-1 -2h1v1h-1z"/></g></g>
<path d="M155.6 1261.9l-4.5 4-2.6 4-1.4 5 0.4 4 2 4 4.3 3.8 5 2.2 5 0.6 5-1 4.7-2.6 4.2-4 7.1-9 3-1.4 3 0.3 11 2.5 7 0.6 8-0.5 14-2.4 6-0.1 9 2 14 5.4 4 0.5 3-0.4 3-1.1 1.9-1.4 2.7-4 0.6-5-0.7-3-1.4-3M129.5 1465.9l-10.2-8-11.5-10.1M311.8 1456.2l-13.1 9.7M141.7 1261.9l-4.1 6-2.5 7-0.3 6 0.7 3 1.3 2.8 3.8 4.2 5.2 3 9 3 8 0.9 5-0.5 5.3-1.4 4.7-2.2 11-6.1 6-2.1 34-3.7 9-0.2 10 1.2 6 1.2 7 2.7 5 1 4 0.1 4.7-0.9 3.3-1.4 3-2.1 2.2-2.5 1.8-3.7 0.7-3.3-0.1-4-0.8-4-1.6-4M138.8 1465.9l-13.9-11-17.1-15.9M311.8 1447.7l-12.2 10.2-11.2 8M131.3 1261.9l-5.7 9-2 5-1.3 5-0.6 5 0.3 4 0.9 4 1.9 3.7 4 3.7 5 2 5 0.8 22 1.9 7-0.4 6-1.4 17-7.5 8-2.5 9-1.6 18-1.8 8-0.3 9 0.9 7 1.4 11 3.5 6 0.9 10 0 7-1.3 4-2 3.4-3 2.6-4 1.3-4 0.5-5-0.3-5-1.6-6-2.1-5M149.6 1465.9l-7.4-5-7.1-6-17.6-17-9.7-10.1M311.8 1436.6l-9.3 9.3-9 8-9.1 7-7.9 5M121.6 1261.9l-4.3 6-4.1 7-3.2 7-2.2 6.4M107.8 1312.4l3 4 5 3.2 8 2.4 8 0.2 40-7.7 6-2.2 13-6.7 9-2.9 11-1.7 13-0.6 7.2 0.5 6.8 1.4 21 8.4 13 1.8 14 2.9 4 0.2 4-0.6 3-1.2 2-1.4 3.6-4.5 2.6-6 1.6-8 0.1-8-1.1-8-2.3-8-3.8-8M166.5 1465.9l-10.7-4.4-4.2-2.6-4.9-4-17-19-13.9-14.5-4.3-5.5-3.7-5.8M311.8 1418.6l-5.6 8.3-6.5 8-9.3 10-8.5 8-6.4 5-5.7 3.5-6 2.7-6.4 1.8M112.3 1261.9l-4.5 5.7M311.8 1270.5l-4.6-8.6M191.8 1458l-10-0.3-13.8-2.8-7.2-2.6-2-1.4-1.6-2-2.1-4-2.2-6-4.9-19-7.1-10-1.7-4-0.2-5 2.7-18 2.5-7 5.7-10 1.8-4 1.5-11 1.8-6 3.7-6 5.9-6 5.3-4 19.8-13 6.1-2.9 7-1.6 8-0.7 9 0.2 7 1.1 6 2 12.8 5.9 10.6 6 5.5 5 9.7 13 3.1 6 2.3 7 3.9 18 2.4 17 7.3 15 0.8 4-0.3 4-1.3 4-2.5 5-9.6 14-8.8 11-3.3 3-3.6 2.2-3.1 0.8-4.9 0-18-2.5-12-0.7-10-1.8-3-0.1-4.1 1.1-8.9 5.8-6 1.3M212.8 1417l-6-0.2-3-1-3.5-1.9-9.7-8-7.8-7.9-4.4-6.1-3.8-8-2.2-7-1.1-8 0-7 1.9-8 3-7 4.6-6.9 6-6.5 7-5.4 6-2.8 6-1.1 7 0.2 7 1.5 21.4 8 4.6 2.3 2.5 2.7 1.8 4 1.6 6 0.8 6 0.1 9-1 10-1.9 7-2.9 5.8-4 5-10 9.2-10.1 11-4.9 3.5-5 1.6" fill="none" stroke="#1a1a1a" stroke-width="0.8" stroke-opacity="0.9"/>
</g>
<use href="#e2" x="209.8" y="1363.9" fill="none" stroke="#111" stroke-width="1.1"/>
<circle cx="209.8" cy="1363.9" r="100.80" fill="none" stroke="#1a1a1a" stroke-width="2.4"/>
<path d="M191.7,1264.1L209.8,1246.5L227.9,1264.1" fill="none" stroke="#1a1a1a" stroke-width="1.7" stroke-linejoin="miter"/>
<path d="M310.0,1352.7 L312.6,1348.3 L314.2,1348.1 L316.6,1348.9 L319.0,1352.7 L318.7,1365.0 L320.1,1382.7 L317.1,1390.4 L312.6,1391.8 L308.4,1388.1" fill="none" stroke="#1a1a1a" stroke-width="1.7" stroke-linejoin="round"/>
<path d="M109.6,1352.7 L107.0,1348.3 L105.4,1348.1 L103.0,1348.9 L100.6,1352.7 L100.9,1365.0 L99.5,1382.7 L102.5,1390.4 L107.0,1391.8 L111.2,1388.1" fill="none" stroke="#1a1a1a" stroke-width="1.7" stroke-linejoin="round"/>
<g clip-path="url(#c8)"><g filter="url(#cm)"><g transform="translate(528.4 1364.0) scale(9.0)" shape-rendering="crispEdges"><path fill="#000000" d="M-14 -3h1v1h-1zM13 -3h1v1h-1zM-14 -2h1v1h-1zM13 -2h1v1h-1zM-14 -1h1v1h-1zM13 -1h1v1h-1zM-14 0h1v1h-1zM13 0h1v1h-1zM-14 1h1v1h-1zM13 1h1v1h-1zM-14 2h2v1h-2zM12 2h2v1h-2zM-13 3h1v1h-1zM12 3h1v1h-1zM-13 4h1v1h-1zM12 4h1v1h-1zM-13 5h1v1h-1zM12 5h1v1h-1zM-12 6h4v1h-4zM8 6h4v1h-4zM-12 7h4v1h-4zM8 7h4v1h-4zM-11 8h3v1h-3zM8 8h3v1h-3z"/><path fill="#020202" d="M-13 0h1v1h-1zM12 0h1v1h-1zM-13 1h1v1h-1zM12 1h1v1h-1zM-12 5h1v1h-1zM11 5h1v1h-1zM-8 6h1v1h-1zM7 6h1v1h-1zM-8 7h1v1h-1zM7 7h1v1h-1zM-8 8h1v1h-1zM7 8h1v1h-1zM-10 9h2v1h-2zM8 9h2v1h-2z"/><path fill="#040404" d="M-11 5h1v1h-1zM10 5h1v1h-1zM-8 9h1v1h-1zM7 9h1v1h-1z"/><path fill="#060606" d="M-13 -1h1v1h-1zM12 -1h1v1h-1zM-12 4h1v1h-1zM11 4h1v1h-1zM-10 5h2v1h-2zM8 5h2v1h-2zM-9 10h1v1h-1zM8 10h1v1h-1z"/><path fill="#080808" d="M-12 2h1v1h-1zM-12 3h1v1h-1zM11 3h1v1h-1zM-8 5h1v1h-1zM7 5h1v1h-1zM-7 7h1v1h-1zM6 7h1v1h-1zM-7 8h1v1h-1zM6 8h1v1h-1zM-7 9h1v1h-1zM6 9h1v1h-1zM-8 10h1v1h-1zM7 10h1v1h-1z"/><path fill="#0a0a0a" d="M-13 -2h1v1h-1zM12 -2h1v1h-1zM-12 1h1v1h-1zM11 1h1v1h-1zM11 2h1v1h-1zM-11 4h1v1h-1zM10 4h1v1h-1zM-7 6h1v1h-1zM6 6h1v1h-1zM-7 10h1v1h-1zM6 10h1v1h-1z"/><path fill="#0c0c0c" d="M-13 -3h1v1h-1zM-10 4h1v1h-1zM8 4h2v1h-2zM7 11h1v1h-1z"/><path fill="#0e0e0e" d="M12 -3h1v1h-1zM-12 0h1v1h-1zM11 0h1v1h-1zM-11 3h1v1h-1zM10 3h1v1h-1zM-9 4h1v1h-1zM-6 10h1v1h-1zM5 10h1v1h-1zM-8 11h2v1h-2zM6 11h1v1h-1z"/><path fill="#101010" d="M-13 -4h1v1h-1zM12 -4h1v1h-1zM-11 2h1v1h-1zM10 2h1v1h-1zM-7 5h1v1h-1zM6 5h1v1h-1zM-6 9h1v1h-1zM5 9h1v1h-1zM-6 11h1v1h-1zM5 11h1v1h-1z"/><path fill="#121212" d="M-13 -5h1v1h-1zM-10 3h1v1h-1zM9 3h1v1h-1zM-8 4h1v1h-1zM7 4h1v1h-1zM-6 8h1v1h-1zM5 8h1v1h-1z"/><path fill="#141414" d="M12 -5h1v1h-1zM-12 -1h1v1h-1zM11 -1h1v1h-1zM-11 1h1v1h-1zM10 1h1v1h-1zM-9 3h1v1h-1zM8 3h1v1h-1zM-6 7h1v1h-1zM5 7h1v1h-1zM-5 10h1v1h-1zM4 10h1v1h-1zM-5 11h1v1h-1zM4 11h1v1h-1z"/><path fill="#161616" d="M-13 -6h1v1h-1zM12 -6h1v1h-1zM-10 2h1v1h-1zM9 2h1v1h-1zM-4 11h1v1h-1zM3 11h1v1h-1zM-6 12h2v1h-2zM4 12h2v1h-2z"/><path fill="#181818" d="M-6 6h1v1h-1zM5 6h1v1h-1zM-5 9h1v1h-1zM4 9h1v1h-1zM-4 10h1v1h-1zM3 10h1v1h-1zM-3 11h2v1h-2zM1 11h2v1h-2zM-4 12h2v1h-2zM2 12h2v1h-2z"/><path fill="#1a1a1a" d="M-11 0h1v1h-1zM10 0h1v1h-1zM-7 4h1v1h-1zM6 4h1v1h-1zM-3 10h1v1h-1zM2 10h1v1h-1zM-1 11h2v1h-2zM-2 12h4v1h-4z"/><path fill="#1c1c1c" d="M-12 -2h1v1h-1zM11 -2h1v1h-1zM-9 2h1v1h-1zM-8 3h1v1h-1zM7 3h1v1h-1zM-6 5h1v1h-1zM5 5h1v1h-1zM-2 10h4v1h-4z"/><path fill="#1e1e1e" d="M-10 1h1v1h-1zM9 1h1v1h-1zM8 2h1v1h-1zM-5 8h1v1h-1zM4 8h1v1h-1zM-4 9h1v1h-1zM3 9h1v1h-1zM-3 13h6v1h-6z"/><path fill="#222222" d="M-12 -3h1v1h-1zM11 -3h1v1h-1zM-5 7h1v1h-1zM4 7h1v1h-1z"/><path fill="#242424" d="M-11 -1h1v1h-1zM10 -1h1v1h-1zM6 3h1v1h-1zM-6 4h1v1h-1zM5 4h1v1h-1zM-5 6h1v1h-1zM4 6h1v1h-1zM-3 9h1v1h-1zM2 9h1v1h-1z"/><path fill="#262626" d="M-12 -4h1v1h-1zM11 -4h1v1h-1zM-9 1h1v1h-1zM8 1h1v1h-1zM-8 2h1v1h-1zM7 2h1v1h-1zM-7 3h1v1h-1zM-2 9h4v1h-4z"/><path fill="#282828" d="M-10 0h1v1h-1zM9 0h1v1h-1zM-5 5h1v1h-1zM4 5h1v1h-1zM-4 8h1v1h-1zM3 8h1v1h-1z"/><path fill="#2a2a2a" d="M-12 -5h1v1h-1zM11 -5h1v1h-1z"/><path fill="#2e2e2e" d="M-12 -6h1v1h-1zM11 -6h1v1h-1zM-5 4h1v1h-1zM4 4h1v1h-1zM-4 7h1v1h-1zM3 7h1v1h-1z"/><path fill="#303030" d="M-11 -2h1v1h-1zM10 -2h1v1h-1zM-8 1h1v1h-1zM7 1h1v1h-1zM-7 2h1v1h-1zM6 2h1v1h-1zM-6 3h1v1h-1zM5 3h1v1h-1zM-4 6h1v1h-1zM3 6h1v1h-1zM-3 8h1v1h-1zM2 8h1v1h-1z"/><path fill="#323232" d="M-12 -8h1v1h-1zM11 -8h1v1h-1zM-12 -7h1v1h-1zM11 -7h1v1h-1zM-9 0h1v1h-1zM-4 5h1v1h-1zM3 5h1v1h-1z"/><path fill="#343434" d="M8 0h1v1h-1zM-2 8h4v1h-4z"/><path fill="#363636" d="M-10 -1h1v1h-1zM9 -1h1v1h-1z"/><path fill="#3a3a3a" d="M-5 3h1v1h-1zM4 3h1v1h-1zM-4 4h1v1h-1zM3 4h1v1h-1zM-3 7h1v1h-1zM2 7h1v1h-1z"/><path fill="#3c3c3c" d="M-11 -3h1v1h-1zM10 -3h1v1h-1zM-7 1h1v1h-1zM6 1h1v1h-1zM-6 2h1v1h-1zM5 2h1v1h-1z"/><path fill="#3e3e3e" d="M-8 0h1v1h-1zM7 0h1v1h-1zM-3 6h1v1h-1zM2 6h1v1h-1zM-2 7h1v1h-1zM1 7h1v1h-1z"/><path fill="#404040" d="M-3 5h1v1h-1zM2 5h1v1h-1zM-1 7h2v1h-2z"/><path fill="#424242" d="M-11 -4h1v1h-1zM10 -4h1v1h-1z"/><path fill="#444444" d="M-11 -5h1v1h-1zM10 -5h1v1h-1zM8 -1h1v1h-1z"/><path fill="#464646" d="M-9 -1h1v1h-1zM-2 6h1v1h-1zM1 6h1v1h-1z"/><path fill="#484848" d="M-11 -9h1v1h-1zM10 -9h1v1h-1zM-10 -2h1v1h-1zM9 -2h1v1h-1zM-6 1h1v1h-1zM5 1h1v1h-1zM-5 2h1v1h-1zM4 2h1v1h-1zM-4 3h1v1h-1zM3 3h1v1h-1zM2 4h1v1h-1z"/><path fill="#4a4a4a" d="M-11 -6h1v1h-1zM-7 0h1v1h-1zM6 0h1v1h-1zM-3 4h1v1h-1zM-1 6h2v1h-2z"/><path fill="#4c4c4c" d="M10 -6h1v1h-1zM-2 5h1v1h-1zM1 5h1v1h-1z"/><path fill="#4e4e4e" d="M-11 -8h1v1h-1zM10 -8h1v1h-1zM-11 -7h1v1h-1zM10 -7h1v1h-1z"/><path fill="#525252" d="M7 -1h1v1h-1zM-1 5h2v1h-2z"/><path fill="#545454" d="M-8 -1h1v1h-1zM-2 4h1v1h-1zM1 4h1v1h-1z"/><path fill="#565656" d="M-10 -10h1v1h-1zM9 -10h1v1h-1zM-5 1h1v1h-1zM-3 3h1v1h-1zM2 3h1v1h-1z"/><path fill="#585858" d="M-6 0h1v1h-1zM5 0h1v1h-1zM4 1h1v1h-1zM-4 2h1v1h-1zM3 2h1v1h-1z"/><path fill="#5a5a5a" d="M-10 -3h1v1h-1zM9 -3h1v1h-1zM-1 4h2v1h-2z"/><path fill="#5c5c5c" d="M7 -12h1v1h-1zM8 -11h1v1h-1zM8 -2h1v1h-1z"/><path fill="#5e5e5e" d="M-8 -12h1v1h-1zM-9 -11h1v1h-1zM-9 -2h1v1h-1z"/><path fill="#606060" d="M-10 -9h1v1h-1zM9 -9h1v1h-1zM-7 -1h1v1h-1zM6 -1h1v1h-1zM-2 3h1v1h-1zM1 3h1v1h-1z"/><path fill="#626262" d="M5 -13h1v1h-1z"/><path fill="#646464" d="M-6 -13h1v1h-1zM-1 3h2v1h-2z"/><path fill="#666666" d="M-10 -4h1v1h-1zM9 -4h1v1h-1zM-5 0h1v1h-1zM4 0h1v1h-1zM-3 2h1v1h-1zM2 2h1v1h-1z"/><path fill="#686868" d="M6 -12h1v1h-1zM8 -10h1v1h-1zM-10 -8h1v1h-1zM9 -8h1v1h-1zM-4 1h1v1h-1zM3 1h1v1h-1z"/><path fill="#6a6a6a" d="M-3 -14h1v1h-1zM2 -14h1v1h-1zM4 -13h1v1h-1zM-7 -12h1v1h-1zM7 -11h1v1h-1zM-9 -10h1v1h-1zM-10 -5h1v1h-1zM9 -5h1v1h-1z"/><path fill="#6c6c6c" d="M-5 -13h1v1h-1zM-8 -11h1v1h-1zM5 -1h1v1h-1z"/><path fill="#6e6e6e" d="M1 -14h1v1h-1zM-10 -7h1v1h-1zM9 -7h1v1h-1zM-10 -6h1v1h-1zM9 -6h1v1h-1zM-8 -2h1v1h-1zM7 -2h1v1h-1zM-6 -1h1v1h-1z"/><path fill="#707070" d="M-2 -14h1v1h-1zM5 -12h1v1h-1zM-2 2h4v1h-4z"/><path fill="#727272" d="M-1 -14h2v1h-2zM-4 -13h1v1h-1zM3 -13h1v1h-1zM-6 -12h1v1h-1z"/><path fill="#747474" d="M6 -11h1v1h-1zM8 -9h1v1h-1z"/><path fill="#767676" d="M-5 -12h1v1h-1zM4 -12h1v1h-1zM-7 -11h1v1h-1zM7 -10h1v1h-1zM-9 -9h1v1h-1zM8 -3h1v1h-1z"/><path fill="#787878" d="M2 -13h1v1h-1zM-8 -10h1v1h-1zM-9 -3h1v1h-1zM-4 0h1v1h-1zM3 0h1v1h-1zM-3 1h1v1h-1zM2 1h1v1h-1z"/><path fill="#7a7a7a" d="M-3 -13h1v1h-1zM-6 -11h2v1h-2zM4 -11h2v1h-2zM-5 -10h1v1h-1zM6 -2h1v1h-1z"/><path fill="#7c7c7c" d="M-4 -12h1v1h-1zM3 -12h1v1h-1zM4 -10h1v1h-1zM-7 -2h1v1h-1zM-5 -1h1v1h-1zM4 -1h1v1h-1z"/><path fill="#7e7e7e" d="M-2 -13h1v1h-1zM1 -13h1v1h-1zM-7 -10h2v1h-2zM5 -10h2v1h-2z"/><path fill="#808080" d="M-4 -11h1v1h-1zM3 -11h1v1h-1zM-9 -8h1v1h-1zM8 -8h1v1h-1zM-2 1h1v1h-1zM1 1h1v1h-1z"/><path fill="#828282" d="M-1 -13h2v1h-2zM2 -12h1v1h-1zM-4 -10h1v1h-1zM3 -10h1v1h-1zM-5 -9h1v1h-1zM-1 1h2v1h-2z"/><path fill="#848484" d="M-3 -12h1v1h-1zM-8 -9h1v1h-1zM-6 -9h1v1h-1zM4 -9h1v1h-1zM7 -9h1v1h-1z"/><path fill="#868686" d="M5 -9h1v1h-1z"/><path fill="#888888" d="M-7 -9h1v1h-1zM-4 -9h1v1h-1zM7 -3h1v1h-1zM5 -2h1v1h-1z"/><path fill="#8a8a8a" d="M-2 -12h1v1h-1zM1 -12h1v1h-1zM-3 -11h1v1h-1zM2 -11h1v1h-1zM3 -9h1v1h-1zM6 -9h1v1h-1zM-9 -7h1v1h-1zM8 -7h1v1h-1zM8 -4h1v1h-1zM-6 -2h1v1h-1zM-3 0h1v1h-1zM2 0h1v1h-1z"/><path fill="#8c8c8c" d="M-3 -10h1v1h-1zM2 -10h1v1h-1zM-8 -3h1v1h-1zM-4 -1h1v1h-1zM3 -1h1v1h-1z"/><path fill="#8e8e8e" d="M-1 -12h2v1h-2zM8 -6h1v1h-1zM-9 -4h1v1h-1z"/><path fill="#909090" d="M-2 -11h1v1h-1zM1 -11h1v1h-1zM-9 -6h1v1h-1zM8 -5h1v1h-1z"/><path fill="#929292" d="M-3 -9h1v1h-1zM2 -9h1v1h-1zM-8 -8h1v1h-1zM7 -8h1v1h-1zM-9 -5h1v1h-1zM-2 0h1v1h-1zM1 0h1v1h-1z"/><path fill="#949494" d="M-1 -11h2v1h-2zM-2 -10h1v1h-1zM1 -10h1v1h-1zM6 -3h1v1h-1zM-1 0h2v1h-2z"/><path fill="#969696" d="M-7 -3h1v1h-1zM4 -2h1v1h-1z"/><path fill="#989898" d="M-5 -2h1v1h-1z"/><path fill="#9a9a9a" d="M-1 -10h2v1h-2zM-7 -8h3v1h-3zM6 -8h1v1h-1z"/><path fill="#9c9c9c" d="M4 -8h2v1h-2zM-3 -1h1v1h-1zM2 -1h1v1h-1z"/><path fill="#9e9e9e" d="M-2 -9h1v1h-1zM1 -9h1v1h-1zM-4 -8h1v1h-1z"/><path fill="#a0a0a0" d="M3 -8h1v1h-1zM-8 -7h1v1h-1zM7 -7h1v1h-1zM7 -4h1v1h-1z"/><path fill="#a2a2a2" d="M-8 -4h1v1h-1zM5 -3h1v1h-1zM3 -2h1v1h-1zM-2 -1h1v1h-1zM1 -1h1v1h-1z"/><path fill="#a4a4a4" d="M0 -9h1v1h-1zM-6 -3h1v1h-1zM-4 -2h1v1h-1zM-1 -1h2v1h-2z"/><path fill="#a6a6a6" d="M-1 -9h1v1h-1zM-3 -8h1v1h-1zM2 -8h1v1h-1z"/><path fill="#a8a8a8" d="M7 -6h1v1h-1zM7 -5h1v1h-1z"/><path fill="#aaaaaa" d="M-8 -6h1v1h-1zM6 -4h1v1h-1z"/><path fill="#acacac" d="M-7 -7h1v1h-1zM6 -7h1v1h-1zM-8 -5h1v1h-1zM-7 -4h1v1h-1zM-3 -2h1v1h-1zM2 -2h1v1h-1z"/><path fill="#b0b0b0" d="M-2 -8h1v1h-1zM1 -8h1v1h-1zM4 -3h1v1h-1zM-2 -2h4v1h-4z"/><path fill="#b2b2b2" d="M-6 -7h1v1h-1zM5 -7h1v1h-1z"/><path fill="#b4b4b4" d="M-5 -7h1v1h-1zM-5 -3h1v1h-1z"/><path fill="#b6b6b6" d="M-1 -8h2v1h-2zM4 -7h1v1h-1zM6 -6h1v1h-1zM6 -5h1v1h-1zM5 -4h1v1h-1z"/><path fill="#b8b8b8" d="M-7 -6h1v1h-1zM-7 -5h1v1h-1zM-6 -4h1v1h-1z"/><path fill="#bababa" d="M-4 -7h1v1h-1zM3 -7h1v1h-1zM3 -3h1v1h-1z"/><path fill="#bcbcbc" d="M-4 -3h1v1h-1z"/><path fill="#bebebe" d="M-3 -3h6v1h-6z"/><path fill="#c0c0c0" d="M-3 -7h1v1h-1zM-6 -6h1v1h-1zM5 -6h1v1h-1z"/><path fill="#c2c2c2" d="M2 -7h1v1h-1zM5 -5h1v1h-1z"/><path fill="#c4c4c4" d="M-6 -5h1v1h-1zM4 -4h1v1h-1z"/><path fill="#c8c8c8" d="M-2 -7h1v1h-1zM-5 -6h1v1h-1zM4 -6h1v1h-1zM-5 -4h1v1h-1z"/><path fill="#cacaca" d="M1 -7h1v1h-1z"/><path fill="#cccccc" d="M-1 -7h2v1h-2zM4 -5h1v1h-1zM3 -4h1v1h-1z"/><path fill="#cecece" d="M-4 -6h1v1h-1zM3 -6h1v1h-1zM-5 -5h1v1h-1zM-4 -4h1v1h-1zM2 -4h1v1h-1z"/><path fill="#d0d0d0" d="M-3 -4h3v1h-3zM1 -4h1v1h-1z"/><path fill="#d2d2d2" d="M0 -4h1v1h-1z"/><path fill="#d4d4d4" d="M-3 -6h1v1h-1zM-4 -5h1v1h-1zM3 -5h1v1h-1z"/><path fill="#d6d6d6" d="M2 -6h1v1h-1z"/><path fill="#dadada" d="M-2 -6h1v1h-1zM-3 -5h1v1h-1zM2 -5h1v1h-1z"/><path fill="#dcdcdc" d="M1 -6h1v1h-1zM-2 -5h1v1h-1z"/><path fill="#dedede" d="M-1 -6h2v1h-2zM1 -5h1v1h-1z"/><path fill="#e0e0e0" d="M-1 -5h1v1h-1z"/><path fill="#e2e2e2" d="M0 -5h1v1h-1z"/></g></g>
<path d="M426.4 1262.5l0.3-0.5M629.5 1262l0.9 1.5M630.4 1356.7l-8 14.4-8 11-5 4.9-9 6.6-11 8.9-4 3.9-3 3.8-3.3 5.8-2.1 5-4.1 19-2.5 4.8-4 5.1-4 3.8-4 2.8-12 6.2-9 2.6-9 0.7-9-0.7-9-2.6-12-6.2-4-2.8-4-3.8-4-5.1-2.5-4.8-4-19-2.2-5-3.3-5.8-3-3.7-4-3.9-19.8-15.6-5.1-5-8.1-11-8-14.3M616.9 1262l5.5 8.9 4 9.1 2.5 9 1.1 9-0.4 11-2.8 15-1.4 12-1.5 6-2.5 6-3.9 6-4.5 5-21.2 17-11 11-17.4 15.4-4 4.1-1.7 2.5-1.3 3-0.9 4-1.5 13-1.1 3-1.5 2-3 1.7-5 1.3-7 0.8-8 0.3-8-0.3-7-0.8-5-1.3-3-1.7-1.5-2-1.1-3-2.1-16-1.3-3.5-2-3-21-19.2-11.2-11.3-21.8-17.3-4.3-4.7-3.9-6-2.4-6-1.4-6-1.3-12-2.8-16-0.4-10 1-9 2.5-9.6 4-9.4 4.8-8M601.6 1262l6.8 8 5.6 9 3.8 9 2.2 9 0.6 7-0.4 8-1.8 10.5-1.2 11.5-1.1 4-1.7 4-4 5.8-5 4.5-6 4-14 7.5-8.3 6.2-19.7 19.8-16 13.8-4 2.7-3 1.4-6 1.1-6-1.1-3-1.4-4-2.7-16-13.8-19.4-19.8-9.6-6.8-13-6.8-6-3.8-5.2-4.6-4.2-6-1.6-4-1-4-1-11.1-1.7-10.9-0.4-8 0.5-7 2.1-9 3.6-9 5.3-9 6.3-8M571.8 1262l12.6 6.2 7 4.9 9 8.5 4 5.1 2.6 4.3 3.2 8 1.7 9 0.1 6-0.6 10-1.3 9-1.6 4-2 3-5.5 5-5.6 3.2-16.3 7.8-10.4 6-3.5 3-10.8 10.9-7 5.3-5 2.2-7 0.8-17-0.2-4-0.7-4-1.5-8-6-13-12.9-12-6.8-21-10.1-6-5-3.1-5-1.3-4-0.6-4-0.7-18 1.3-9 3.2-9 2.9-5 3.3-4.6 9-9.3 8-6 10.5-5.1M542.4 1365.1l-7 0.8-13 0-6-0.5-5-1.2-4-1.9-12.3-8.3-22.7-12-11-4.8-3.6-2.2-2.4-2.5-1-2.1-0.6-3.4 0-5 0.5-6 1.1-5.3 1.7-4.7 2.3-3.9 4-3.8 5-2.1 4-0.3 10 0.5 6-0.2 7-1.2 8-2.4 3-1.5 2.7-2.1 11.3-11.3 4-2.3 4-0.7 3 0.5 4 2 3 2.5 9.2 9.3 2.8 2.1 3 1.4 7 1.8 8 1.2 18-0.1 4 1.1 4 2.3 2.9 3.2 1.8 3 2.5 8 0.7 6 0 6-0.8 5-1.1 2.2-2 2-3 2-11 5-23 12.5-13 9.2-6 2.2M540.4 1339l-12-0.6-9 0.4-10-0.4-9 0.5-8-1.1-2-1-3-2.3-5.8-6.5-2.7-5-0.3-4 0.9-2 1.9-2 6.2-3 29.8-8.9 6-1.2 5-0.4 6 0.3 6 1.2 22.8 7 9.2 3.7 1.9 1.3 1.7 2 0.7 2-0.1 2-1.5 4-4.8 6-4.9 4-3 1.4-5 1.2-17 1.4" fill="none" stroke="#1a1a1a" stroke-width="0.8" stroke-opacity="0.9"/>
</g>
<use href="#e2" x="528.4" y="1364.0" fill="none" stroke="#111" stroke-width="1.1"/>
<circle cx="528.4" cy="1364.0" r="100.80" fill="none" stroke="#1a1a1a" stroke-width="2.4"/>
<path d="M510.3,1264.2L528.4,1246.6L546.5,1264.2" fill="none" stroke="#1a1a1a" stroke-width="1.7" stroke-linejoin="miter"/>
<path d="M628.6,1352.8 L631.2,1348.4 L632.8,1348.2 L635.2,1349.0 L637.6,1352.8 L637.3,1365.1 L638.7,1382.8 L635.7,1390.5 L631.2,1391.9 L627.0,1388.2" fill="none" stroke="#1a1a1a" stroke-width="1.7" stroke-linejoin="round"/>
<path d="M428.2,1352.8 L425.6,1348.4 L424.0,1348.2 L421.6,1349.0 L419.2,1352.8 L419.5,1365.1 L418.1,1382.8 L421.1,1390.5 L425.6,1391.9 L429.8,1388.2" fill="none" stroke="#1a1a1a" stroke-width="1.7" stroke-linejoin="round"/>
<g clip-path="url(#c9)"><g filter="url(#cm)"><g transform="translate(848.6 1364.3) scale(9.0)" shape-rendering="crispEdges"><path fill="#000000" d="M7 4h1v1h-1zM-8 5h1v1h-1z"/><path fill="#020202" d="M-9 5h1v1h-1zM7 5h1v1h-1z"/><path fill="#040404" d="M7 3h1v1h-1zM8 4h1v1h-1zM-8 6h1v1h-1z"/><path fill="#060606" d="M8 3h1v1h-1zM-9 4h2v1h-2zM8 5h1v1h-1zM-9 6h1v1h-1zM7 6h1v1h-1z"/><path fill="#080808" d="M6 4h1v1h-1zM6 5h1v1h-1z"/><path fill="#0a0a0a" d="M6 3h1v1h-1zM-7 5h1v1h-1zM-8 7h1v1h-1z"/><path fill="#0c0c0c" d="M7 2h1v1h-1zM-10 5h1v1h-1zM6 6h1v1h-1zM8 6h1v1h-1z"/><path fill="#0e0e0e" d="M8 2h1v1h-1zM-10 4h1v1h-1zM9 4h1v1h-1zM-7 6h1v1h-1zM-9 7h1v1h-1zM7 7h1v1h-1z"/><path fill="#101010" d="M-9 3h1v1h-1zM9 3h1v1h-1zM-10 6h1v1h-1z"/><path fill="#121212" d="M9 5h1v1h-1zM-7 7h1v1h-1zM6 7h1v1h-1zM8 7h1v1h-1z"/><path fill="#141414" d="M6 2h1v1h-1zM-10 3h1v1h-1zM-7 4h1v1h-1zM-8 8h1v1h-1z"/><path fill="#161616" d="M9 2h1v1h-1zM-8 3h1v1h-1zM9 6h1v1h-1zM-10 7h1v1h-1zM-7 8h1v1h-1zM6 8h2v1h-2zM-1 11h3v1h-3z"/><path fill="#181818" d="M-11 4h1v1h-1zM5 4h1v1h-1zM-11 5h1v1h-1zM5 5h1v1h-1zM-9 8h1v1h-1zM-3 11h2v1h-2zM2 11h1v1h-1z"/><path fill="#1a1a1a" d="M10 3h1v1h-1zM10 4h1v1h-1zM-7 9h1v1h-1zM0 12h1v1h-1z"/><path fill="#1c1c1c" d="M8 1h1v1h-1zM-11 3h1v1h-1zM5 6h1v1h-1zM8 8h1v1h-1zM6 9h1v1h-1zM-4 10h2v1h-2zM2 10h2v1h-2zM-4 11h1v1h-1zM3 11h1v1h-1zM-1 12h1v1h-1zM1 12h1v1h-1z"/><path fill="#1e1e1e" d="M7 1h1v1h-1zM9 1h1v1h-1zM-10 2h2v1h-2zM10 2h1v1h-1zM5 3h1v1h-1zM10 5h1v1h-1zM-11 6h1v1h-1zM5 7h1v1h-1zM9 7h1v1h-1zM-8 9h1v1h-1zM-6 9h1v1h-1zM5 9h1v1h-1zM7 9h1v1h-1zM-5 10h1v1h-1zM-2 10h1v1h-1zM1 10h1v1h-1zM4 10h2v1h-2zM-2 12h1v1h-1z"/><path fill="#202020" d="M-6 6h1v1h-1zM-6 7h1v1h-1zM-6 8h1v1h-1zM5 8h1v1h-1zM-6 10h1v1h-1zM-1 10h2v1h-2zM4 11h1v1h-1zM-3 12h1v1h-1zM2 12h1v1h-1z"/><path fill="#222222" d="M-6 5h1v1h-1zM-10 8h1v1h-1zM6 10h1v1h-1zM-5 11h1v1h-1z"/><path fill="#242424" d="M-11 2h1v1h-1zM-7 3h1v1h-1zM10 6h1v1h-1zM-9 9h1v1h-1zM-5 9h1v1h-1zM4 9h1v1h-1zM-7 10h1v1h-1z"/><path fill="#262626" d="M-10 1h1v1h-1zM6 1h1v1h-1zM10 1h1v1h-1zM-8 2h1v1h-1zM11 3h1v1h-1zM-12 4h1v1h-1zM11 4h1v1h-1zM-11 7h1v1h-1zM9 8h1v1h-1zM8 9h1v1h-1zM5 11h1v1h-1zM-4 12h1v1h-1zM3 12h1v1h-1z"/><path fill="#282828" d="M8 0h1v1h-1zM-9 1h1v1h-1zM5 2h1v1h-1zM11 2h1v1h-1zM-6 4h1v1h-1zM-12 5h1v1h-1zM-6 11h1v1h-1z"/><path fill="#2a2a2a" d="M9 0h1v1h-1zM-12 3h1v1h-1zM11 5h1v1h-1zM10 7h1v1h-1zM-4 9h1v1h-1zM3 9h1v1h-1zM-8 10h1v1h-1zM7 10h1v1h-1zM0 13h1v1h-1z"/><path fill="#2c2c2c" d="M-11 1h1v1h-1zM4 12h1v1h-1zM-1 13h1v1h-1zM1 13h1v1h-1z"/><path fill="#2e2e2e" d="M-10 0h2v1h-2zM10 0h1v1h-1zM11 1h1v1h-1zM-12 2h1v1h-1zM-12 6h1v1h-1zM-5 8h1v1h-1zM4 8h1v1h-1zM6 11h1v1h-1zM-5 12h1v1h-1zM-2 13h1v1h-1z"/><path fill="#303030" d="M7 0h1v1h-1zM-8 1h1v1h-1zM12 3h1v1h-1zM4 5h1v1h-1zM11 6h1v1h-1zM-3 9h1v1h-1zM2 9h1v1h-1zM-7 11h1v1h-1z"/><path fill="#323232" d="M-10 -1h1v1h-1zM9 -1h1v1h-1zM12 2h1v1h-1zM4 4h1v1h-1zM12 4h1v1h-1zM4 6h1v1h-1zM-11 8h1v1h-1zM-10 9h1v1h-1zM9 9h1v1h-1zM-3 13h1v1h-1zM2 13h1v1h-1z"/><path fill="#343434" d="M-9 -1h1v1h-1zM8 -1h1v1h-1zM-11 0h1v1h-1zM11 0h1v1h-1zM12 1h1v1h-1zM-7 2h1v1h-1zM-6 3h1v1h-1zM4 7h1v1h-1zM10 8h1v1h-1zM-9 10h1v1h-1zM8 10h1v1h-1z"/><path fill="#363636" d="M10 -1h1v1h-1zM-8 0h1v1h-1zM-12 1h1v1h-1zM5 1h1v1h-1zM-13 3h1v1h-1zM-13 4h1v1h-1zM-5 5h1v1h-1zM12 5h1v1h-1zM-5 6h1v1h-1zM-12 7h1v1h-1zM-5 7h1v1h-1zM-2 9h1v1h-1zM1 9h1v1h-1zM5 12h1v1h-1z"/><path fill="#383838" d="M12 -6h1v1h-1zM13 -3h1v1h-1zM-10 -2h1v1h-1zM-11 -1h1v1h-1zM12 0h1v1h-1zM4 3h1v1h-1zM-5 4h1v1h-1zM11 7h1v1h-1zM7 11h1v1h-1zM-6 12h1v1h-1z"/><path fill="#3a3a3a" d="M12 -5h1v1h-1zM-9 -2h1v1h-1zM9 -2h2v1h-2zM13 -2h1v1h-1zM11 -1h1v1h-1zM13 -1h1v1h-1zM6 0h1v1h-1zM13 0h1v1h-1zM13 1h1v1h-1zM-13 2h1v1h-1zM13 2h1v1h-1zM-13 5h1v1h-1zM-1 9h2v1h-2z"/><path fill="#3c3c3c" d="M11 -8h1v1h-1zM12 -4h1v1h-1zM12 -3h1v1h-1zM-11 -2h1v1h-1zM8 -2h1v1h-1zM11 -2h2v1h-2zM-8 -1h1v1h-1zM7 -1h1v1h-1zM12 -1h1v1h-1zM-12 0h1v1h-1zM-7 1h1v1h-1zM-8 11h1v1h-1z"/><path fill="#3e3e3e" d="M-11 -3h2v1h-2zM9 -3h3v1h-3zM-13 1h1v1h-1zM-4 8h1v1h-1zM3 8h1v1h-1z"/><path fill="#404040" d="M-12 -8h1v1h-1zM11 -7h1v1h-1zM-13 -6h1v1h-1zM11 -5h1v1h-1zM11 -4h1v1h-1zM-9 -3h1v1h-1zM-12 -2h1v1h-1zM-8 -2h1v1h-1zM-12 -1h1v1h-1zM-6 2h1v1h-1z"/><path fill="#424242" d="M-11 -9h1v1h-1zM10 -9h1v1h-1zM11 -6h1v1h-1zM-13 -5h1v1h-1zM-12 -4h3v1h-3zM9 -4h2v1h-2zM-12 -3h1v1h-1zM8 -3h1v1h-1zM-13 0h1v1h-1zM-7 0h1v1h-1zM-5 3h1v1h-1z"/><path fill="#444444" d="M-12 -7h1v1h-1zM-12 -5h1v1h-1zM10 -5h1v1h-1zM-13 -4h1v1h-1zM-9 -4h1v1h-1zM8 -4h1v1h-1zM-13 -3h1v1h-1zM-13 -2h1v1h-1zM7 -2h1v1h-1zM-13 -1h1v1h-1zM5 0h1v1h-1zM4 2h1v1h-1z"/><path fill="#464646" d="M-10 -10h1v1h-1zM-12 -6h1v1h-1zM-11 -5h1v1h-1zM-14 -3h1v1h-1zM-8 -3h1v1h-1zM7 -3h1v1h-1zM-7 -1h1v1h-1zM-14 1h1v1h-1zM-6 1h1v1h-1zM-14 2h1v1h-1z"/><path fill="#484848" d="M-11 -8h1v1h-1zM10 -8h1v1h-1zM-10 -5h2v1h-2zM8 -5h2v1h-2zM-14 -2h1v1h-1zM-14 -1h1v1h-1zM6 -1h1v1h-1zM-14 0h1v1h-1zM-6 0h1v1h-1zM-4 4h1v1h-1zM3 4h1v1h-1zM-4 5h1v1h-1zM3 5h1v1h-1z"/><path fill="#4a4a4a" d="M-9 -11h1v1h-1zM9 -10h1v1h-1zM10 -7h1v1h-1zM-11 -6h1v1h-1zM10 -6h1v1h-1zM-8 -4h1v1h-1zM7 -4h1v1h-1zM-7 -2h1v1h-1zM-5 2h1v1h-1z"/><path fill="#4c4c4c" d="M-8 -12h1v1h-1zM-10 -9h1v1h-1zM-11 -7h1v1h-1zM8 -6h1v1h-1zM-8 -5h1v1h-1zM7 -5h1v1h-1zM6 -2h1v1h-1zM-6 -1h1v1h-1zM4 1h1v1h-1z"/><path fill="#4e4e4e" d="M9 -9h1v1h-1zM-10 -8h1v1h-1zM-10 -6h3v1h-3zM7 -6h1v1h-1zM9 -6h1v1h-1zM-7 -3h1v1h-1zM6 -3h1v1h-1zM5 -1h1v1h-1zM-4 6h1v1h-1zM3 6h1v1h-1zM-4 7h1v1h-1zM3 7h1v1h-1zM-3 8h1v1h-1zM2 8h1v1h-1z"/><path fill="#505050" d="M9 -8h1v1h-1zM-10 -7h3v1h-3zM7 -7h3v1h-3zM-6 -2h1v1h-1zM-5 0h1v1h-1zM-5 1h1v1h-1zM-4 3h1v1h-1zM3 3h1v1h-1z"/><path fill="#525252" d="M-9 -10h1v1h-1zM-9 -8h1v1h-1zM-7 -4h1v1h-1zM6 -4h1v1h-1zM-5 -1h1v1h-1zM4 0h1v1h-1z"/><path fill="#545454" d="M-6 -13h1v1h-1zM8 -11h1v1h-1zM-9 -9h1v1h-1zM8 -8h1v1h-1zM-7 -5h1v1h-1zM6 -5h1v1h-1zM5 -2h1v1h-1z"/><path fill="#565656" d="M-8 -8h1v1h-1zM-7 -6h1v1h-1zM6 -6h1v1h-1zM-6 -3h1v1h-1zM-2 8h1v1h-1z"/><path fill="#585858" d="M8 -9h1v1h-1zM7 -8h1v1h-1zM-7 -7h1v1h-1zM6 -7h1v1h-1zM5 -3h1v1h-1zM4 -1h1v1h-1zM-4 2h1v1h-1zM1 8h1v1h-1z"/><path fill="#5a5a5a" d="M7 -12h1v1h-1zM-8 -11h1v1h-1zM8 -10h1v1h-1zM-6 -4h1v1h-1zM-5 -2h1v1h-1zM3 2h1v1h-1zM-3 4h1v1h-1z"/><path fill="#5c5c5c" d="M-3 -14h1v1h-1zM-7 -12h1v1h-1zM-8 -9h1v1h-1zM5 -4h1v1h-1zM2 4h1v1h-1zM-3 5h1v1h-1zM-1 8h2v1h-2z"/><path fill="#5e5e5e" d="M-8 -10h1v1h-1zM-4 1h1v1h-1zM2 5h1v1h-1z"/><path fill="#606060" d="M-5 -13h1v1h-1zM-7 -8h1v1h-1zM-6 -5h1v1h-1zM-5 -3h1v1h-1zM4 -2h1v1h-1zM-4 0h1v1h-1zM3 1h1v1h-1z"/><path fill="#626262" d="M7 -9h1v1h-1zM6 -8h1v1h-1zM5 -5h1v1h-1zM-3 3h1v1h-1zM2 3h1v1h-1z"/><path fill="#646464" d="M-2 -14h1v1h-1zM-6 -6h1v1h-1zM4 -3h1v1h-1zM-4 -1h1v1h-1zM3 0h1v1h-1zM-3 6h1v1h-1zM2 6h1v1h-1zM-3 7h1v1h-1zM2 7h1v1h-1z"/><path fill="#666666" d="M5 -13h1v1h-1zM7 -11h1v1h-1zM-6 -7h1v1h-1zM-5 -4h1v1h-1z"/><path fill="#686868" d="M2 -14h1v1h-1zM-6 -12h1v1h-1zM-7 -11h1v1h-1zM-7 -9h1v1h-1zM5 -6h1v1h-1z"/><path fill="#6a6a6a" d="M-4 -13h1v1h-1zM7 -10h1v1h-1zM4 -4h1v1h-1zM3 -1h1v1h-1zM-3 2h1v1h-1z"/><path fill="#6c6c6c" d="M-1 -14h1v1h-1zM1 -14h1v1h-1zM6 -12h1v1h-1zM-7 -10h1v1h-1zM-6 -8h1v1h-1zM5 -7h1v1h-1zM-5 -5h1v1h-1zM-4 -2h1v1h-1zM2 2h1v1h-1z"/><path fill="#6e6e6e" d="M0 -14h1v1h-1zM6 -9h1v1h-1z"/><path fill="#707070" d="M5 -8h1v1h-1zM-5 -6h1v1h-1zM4 -5h1v1h-1zM-3 1h1v1h-1zM-2 4h1v1h-1zM1 4h1v1h-1zM-2 7h1v1h-1zM1 7h1v1h-1z"/><path fill="#727272" d="M4 -13h1v1h-1zM-5 -12h1v1h-1zM-6 -9h1v1h-1zM-4 -3h1v1h-1zM2 1h1v1h-1zM-2 5h1v1h-1zM1 5h1v1h-1z"/><path fill="#747474" d="M-3 -13h1v1h-1zM-6 -11h1v1h-1zM3 -2h1v1h-1zM-2 3h1v1h-1zM1 3h1v1h-1z"/><path fill="#767676" d="M-5 -7h1v1h-1zM4 -6h1v1h-1zM-3 0h1v1h-1zM-2 6h1v1h-1zM1 6h1v1h-1zM-1 7h2v1h-2z"/><path fill="#787878" d="M-6 -10h1v1h-1zM-4 -4h1v1h-1zM2 0h1v1h-1z"/><path fill="#7a7a7a" d="M3 -13h1v1h-1zM-4 -12h1v1h-1zM5 -12h1v1h-1zM6 -11h1v1h-1zM6 -10h1v1h-1zM5 -9h1v1h-1zM-5 -8h1v1h-1zM4 -7h1v1h-1zM-2 2h1v1h-1zM1 2h1v1h-1z"/><path fill="#7c7c7c" d="M-5 -11h1v1h-1zM-4 -5h1v1h-1zM3 -3h1v1h-1zM-3 -1h1v1h-1z"/><path fill="#7e7e7e" d="M-2 -13h1v1h-1zM-5 -9h1v1h-1zM4 -8h1v1h-1z"/><path fill="#808080" d="M2 -13h1v1h-1zM-5 -10h1v1h-1zM-4 -6h1v1h-1zM3 -4h1v1h-1zM2 -1h1v1h-1zM-2 1h1v1h-1zM1 1h1v1h-1z"/><path fill="#828282" d="M-3 -12h1v1h-1zM-4 -11h1v1h-1zM-3 -2h1v1h-1zM-1 3h2v1h-2zM-1 6h2v1h-2z"/><path fill="#848484" d="M4 -12h1v1h-1zM4 -9h1v1h-1zM-4 -7h1v1h-1zM3 -5h1v1h-1zM-1 2h2v1h-2z"/><path fill="#868686" d="M-1 -13h1v1h-1zM1 -13h1v1h-1zM5 -11h1v1h-1zM5 -10h1v1h-1zM3 -6h1v1h-1zM-1 4h2v1h-2zM-1 5h2v1h-2z"/><path fill="#888888" d="M0 -13h1v1h-1zM-4 -10h1v1h-1zM-4 -8h1v1h-1zM-2 0h1v1h-1zM1 0h1v1h-1z"/><path fill="#8a8a8a" d="M3 -12h1v1h-1zM-4 -9h1v1h-1zM3 -7h1v1h-1zM-3 -3h1v1h-1zM-1 1h2v1h-2z"/><path fill="#8c8c8c" d="M-3 -11h1v1h-1zM4 -11h1v1h-1zM4 -10h1v1h-1zM-3 -4h1v1h-1zM2 -2h1v1h-1z"/><path fill="#8e8e8e" d="M-2 -12h1v1h-1zM3 -8h1v1h-1zM-2 -1h1v1h-1z"/><path fill="#909090" d="M2 -12h1v1h-1zM3 -9h1v1h-1zM-3 -5h1v1h-1z"/><path fill="#929292" d="M3 -11h1v1h-1zM-3 -10h1v1h-1zM-3 -6h1v1h-1zM1 -1h1v1h-1zM-1 0h2v1h-2z"/><path fill="#949494" d="M3 -10h1v1h-1zM-3 -7h1v1h-1zM-2 -2h1v1h-1z"/><path fill="#969696" d="M-3 -9h1v1h-1zM-3 -8h1v1h-1zM2 -6h1v1h-1zM2 -3h1v1h-1z"/><path fill="#989898" d="M-1 -12h1v1h-1zM1 -12h1v1h-1zM-2 -11h1v1h-1zM2 -11h1v1h-1zM2 -7h1v1h-1zM2 -5h1v1h-1zM-1 -1h1v1h-1z"/><path fill="#9a9a9a" d="M2 -8h1v1h-1zM2 -4h1v1h-1zM-2 -3h1v1h-1zM0 -1h1v1h-1z"/><path fill="#9c9c9c" d="M0 -12h1v1h-1zM-2 -10h1v1h-1zM2 -10h1v1h-1zM2 -9h1v1h-1zM-2 -5h1v1h-1zM-2 -4h1v1h-1zM1 -2h1v1h-1z"/><path fill="#9e9e9e" d="M-2 -7h1v1h-1zM-2 -6h1v1h-1zM-1 -2h1v1h-1z"/><path fill="#a0a0a0" d="M1 -11h1v1h-1zM-2 -9h1v1h-1zM-2 -8h1v1h-1zM1 -7h1v1h-1zM-1 -6h1v1h-1z"/><path fill="#a2a2a2" d="M-1 -11h1v1h-1zM1 -10h1v1h-1zM1 -8h1v1h-1zM-1 -7h2v1h-2zM0 -6h2v1h-2zM-1 -5h1v1h-1zM-1 -3h1v1h-1zM0 -2h1v1h-1z"/><path fill="#a4a4a4" d="M0 -11h1v1h-1zM-1 -10h1v1h-1zM1 -9h1v1h-1zM-1 -8h2v1h-2zM1 -5h1v1h-1zM-1 -4h1v1h-1z"/><path fill="#a6a6a6" d="M0 -10h1v1h-1zM-1 -9h2v1h-2zM0 -5h1v1h-1zM0 -3h2v1h-2z"/><path fill="#a8a8a8" d="M0 -4h2v1h-2z"/></g></g>
<path d="M746.6 1272.9l11.4-10.6M940.3 1262.3l10.3 12.6M896.3 1466.3l22.3-14 6-4.5 5-4.6 5-5.6 4-5.6 3.7-6.7 3.5-8 2.9-8 1.2-6 0.2-6-1-6-2.1-5-3.5-5-4.9-4.7-5-2.9-4-1.2-4-0.1-4 0.7-6 1.9-6 2.7-4 2.4-3.5 3.2-2.5 3.5-3.3 8.5-2.3 10-0.4 9 1.9 14 0.4 7-1.4 7-3 5-3.6 3-4.3 1.9-11 1.7-9 2.2-6 0.7-16 0.1-6-0.5-11-2.5-10-1.5-6-2.7-4.2-4.4-2.6-6-1.2-7-0.4-13-0.7-8-1.4-5-2.3-4-3.6-4-12.6-11.1-7-5-4-1.5-3-0.1-3 0.7-4 2.2-4.3 3.8-3.6 5-2.2 5-1.1 5-0.3 6 1 7 2.2 7 2.8 6 3.1 5 3.9 5 4.5 4.6 5 4.2 9 5.9 24.3 13.3M746.6 1289.2l16-18.9 7.5-8M931.1 1262.3l7.8 11 11.7 19.8M950.6 1356.3l-5-3.7-5-2.2-5-0.7-5 0.8-6 3.2-12.5 11.6-9.5 6.1-3 2.5-2.8 3.4-2.3 4-6.5 16-2 6-0.8 8 1.7 18-0.8 5-1.8 4-3.6 4-5.1 2.8-11 3-9 1.2-14 0-11-1.7-7-1.8-4-1.6-3.1-1.9-2.9-2.8-2.4-4.2-1.4-5-0.3-6 0.8-13-0.5-4-1.5-4-2.2-4-2.5-3.2-8.6-7.8-1.7-2-8.7-16.1-6-12.8-3-4.2-3-2.8-3-1.8-4-1-3 0.3-3.2 1.4-3.9 4-5.7 11-3.2 4.6M746.6 1436.7l6 7.6 7.9 8 8.6 7 10.2 7M919.7 1466.3l9.3-7 7.9-7 7.5-8 6.2-8M921.4 1262.3l5 8 3.4 9 1.5 10-0.6 8-1.1 2.7-2 1.7-11 2.2-2.7 1.4-1.5 2-2.3 16-3.7 13-4.3 13-3.1 6-6.2 7-2.2 3.4-2 5.6-3.7 15-5.9 11-2.4 6-0.8 4 0 3 3.3 16-0.1 4-0.7 3-2.8 4-2.8 2-3.1 1.3-10 2.2-11 0.8-12-1-10-2.4-5-2.9-1.7-2-1.4-3-0.6-3 0-4 3.7-13 0.2-6-1.8-6-7-14-2.8-7-1-5-0.5-9-0.6-3-1.7-3-12.8-17.9-2.9-5.1-3.7-12-2.3-15-1.1-2.8-3-2.3-8.8-3.9-1.6-2-0.7-2-0.4-4 0.3-4 1-5 1.6-5 4.1-8 6.4-8M746.6 1449.7l8.8 8.6 9.8 8M934.7 1466.3l8.3-7 7.6-7.2M910.9 1262.3l3.5 5 1.9 5 0.5 5-0.8 4-2.8 5-8.6 8.6-3.4 5.4-3.5 14-9.1 22-3.1 13-5.5 14-4.4 17.1-7.9 16.9-2.4 7-0.7 5 5 14.2 0.6 3.8-0.4 3-2.2 2.7-4 1.8-8 2-7 0.6-7-0.7-8-1.9-4-1.9-2.1-2.6-0.4-3 0.5-3 5-15-1-6.8-8-20.2-2-7-3.9-18-6.4-20-5.1-12-4.3-12-3.4-12-2.9-6.2-6.4-9.8-1.8-5 0.1-5 1.4-4 3.6-5 4.6-4M746.6 1459.7l7.5 6.6M947.3 1466.3l3.3-2.8M896.6 1262.3l4 3.2 3 3.8 1.2 4-0.2 3-1 2.4-2 2.3-8 5.8-3.4 6.5-6.6 21-4.4 26-1.8 7-11.8 25.8-6.8 13.2-2.2 6-0.8 6 1.3 19-0.5 5.5-1 2-2 1.9-2 0.9-3 0.5-3-0.5-2.5-1.3-1.8-2-0.8-2-0.4-5 1.1-18-0.7-6-1.3-4-5.6-12.3-4-10.1-6.6-21.6-2.2-9-4.2-22-5.4-17-3.8-17 0-4 1.3-3 2.8-3 9.5-8M866.3 1262.3l4.8 4 3.2 4 2 4 0.9 4-0.9 11-3.6 14-1 6 0 7 1 15-0.4 7-1.1 4-1.6 3.5-7 9.4-8 7.9-3 1.6-3 0.5-2-0.4-2-1.1-4-4.3-4-7.6-4.7-11.5-0.9-4-0.9-12-2-16-2.9-15 0.3-5 2.1-5.8 7.4-14.2 4.7-6" fill="none" stroke="#1a1a1a" stroke-width="0.8" stroke-opacity="0.9"/>
</g>
<use href="#e2" x="848.6" y="1364.3" fill="none" stroke="#111" stroke-width="1.1"/>
<circle cx="848.6" cy="1364.3" r="100.80" fill="none" stroke="#1a1a1a" stroke-width="2.4"/>
<path d="M830.5,1264.5L848.6,1246.9L866.7,1264.5" fill="none" stroke="#1a1a1a" stroke-width="1.7" stroke-linejoin="miter"/>
<path d="M948.8,1353.1 L951.4,1348.7 L953.0,1348.5 L955.4,1349.3 L957.8,1353.1 L957.5,1365.4 L958.9,1383.1 L955.9,1390.8 L951.4,1392.2 L947.2,1388.5" fill="none" stroke="#1a1a1a" stroke-width="1.7" stroke-linejoin="round"/>
<path d="M748.4,1353.1 L745.8,1348.7 L744.2,1348.5 L741.8,1349.3 L739.4,1353.1 L739.7,1365.4 L738.3,1383.1 L741.3,1390.8 L745.8,1392.2 L750.0,1388.5" fill="none" stroke="#1a1a1a" stroke-width="1.7" stroke-linejoin="round"/>
<g clip-path="url(#c10)"><g filter="url(#cm)"><g transform="translate(1152.6 1361.8) scale(9.0)" shape-rendering="crispEdges"><path fill="#040404" d="M-8 4h1v1h-1zM-8 5h1v1h-1z"/><path fill="#060606" d="M8 3h1v1h-1zM-9 4h1v1h-1zM8 4h1v1h-1z"/><path fill="#080808" d="M-9 5h1v1h-1zM-8 6h1v1h-1z"/><path fill="#0a0a0a" d="M8 5h1v1h-1z"/><path fill="#0c0c0c" d="M7 4h1v1h-1zM7 5h1v1h-1z"/><path fill="#0e0e0e" d="M8 2h1v1h-1zM7 3h1v1h-1zM-10 4h1v1h-1zM-7 5h1v1h-1zM-9 6h1v1h-1zM8 6h1v1h-1z"/><path fill="#101010" d="M9 3h1v1h-1zM9 4h1v1h-1zM9 5h1v1h-1zM-7 6h1v1h-1zM7 6h1v1h-1zM-8 7h1v1h-1z"/><path fill="#121212" d="M-9 3h1v1h-1zM9 6h1v1h-1zM8 7h1v1h-1z"/><path fill="#141414" d="M9 2h1v1h-1zM-10 3h1v1h-1zM-8 3h1v1h-1zM-7 4h1v1h-1zM-10 5h1v1h-1zM-9 7h1v1h-1zM-7 7h1v1h-1zM7 7h1v1h-1z"/><path fill="#161616" d="M-11 4h1v1h-1zM6 5h1v1h-1zM9 7h1v1h-1zM-8 8h1v1h-1zM7 8h1v1h-1z"/><path fill="#181818" d="M7 2h1v1h-1zM-11 3h1v1h-1zM-10 6h1v1h-1zM6 6h1v1h-1zM-9 8h1v1h-1zM-7 8h1v1h-1zM8 8h1v1h-1z"/><path fill="#1a1a1a" d="M6 4h1v1h-1zM10 5h1v1h-1zM6 7h1v1h-1zM6 8h1v1h-1zM-8 9h1v1h-1z"/><path fill="#1c1c1c" d="M10 3h1v1h-1zM10 4h1v1h-1zM10 6h1v1h-1zM-10 7h1v1h-1zM9 8h1v1h-1zM-7 9h1v1h-1zM6 9h2v1h-2z"/><path fill="#1e1e1e" d="M10 2h1v1h-1zM-12 4h1v1h-1zM-11 5h1v1h-1zM10 7h1v1h-1zM-10 8h1v1h-1zM-9 9h1v1h-1zM8 9h1v1h-1zM-7 10h1v1h-1z"/><path fill="#202020" d="M8 1h2v1h-2zM-11 2h2v1h-2zM-12 3h1v1h-1zM-6 9h1v1h-1zM5 9h1v1h-1zM-8 10h1v1h-1zM-6 10h1v1h-1zM5 10h3v1h-3zM-1 11h2v1h-2zM-2 12h4v1h-4z"/><path fill="#222222" d="M-9 2h1v1h-1zM6 3h1v1h-1zM-12 5h1v1h-1zM-11 6h1v1h-1zM-6 6h1v1h-1zM-6 7h1v1h-1zM-6 8h1v1h-1zM5 8h1v1h-1zM9 9h1v1h-1zM-6 11h1v1h-1zM-3 11h2v1h-2zM1 11h1v1h-1zM-3 12h1v1h-1zM2 12h1v1h-1z"/><path fill="#242424" d="M-7 3h1v1h-1zM-6 5h1v1h-1zM11 5h1v1h-1zM5 6h1v1h-1zM-11 7h1v1h-1zM5 7h1v1h-1zM10 8h1v1h-1zM-10 9h1v1h-1zM-9 10h1v1h-1zM-5 10h1v1h-1zM4 10h1v1h-1zM8 10h1v1h-1zM-7 11h1v1h-1zM-5 11h2v1h-2zM2 11h5v1h-5zM-4 12h1v1h-1zM3 12h1v1h-1zM-2 13h3v1h-3z"/><path fill="#262626" d="M10 1h1v1h-1zM-12 2h1v1h-1zM-13 3h1v1h-1zM11 3h1v1h-1zM-13 4h1v1h-1zM11 4h1v1h-1zM5 5h1v1h-1zM-12 6h1v1h-1zM11 6h1v1h-1zM-11 8h1v1h-1zM-1 10h2v1h-2zM-8 11h1v1h-1zM-6 12h2v1h-2zM4 12h1v1h-1zM-3 13h1v1h-1zM1 13h1v1h-1z"/><path fill="#282828" d="M-10 1h1v1h-1zM7 1h1v1h-1zM-8 2h1v1h-1zM11 2h1v1h-1zM-13 5h1v1h-1zM11 7h1v1h-1zM4 9h1v1h-1zM-4 10h1v1h-1zM3 10h1v1h-1zM7 11h1v1h-1zM5 12h1v1h-1zM2 13h1v1h-1z"/><path fill="#2a2a2a" d="M-11 1h1v1h-1zM-13 2h1v1h-1zM-6 4h1v1h-1zM-12 7h1v1h-1zM-5 9h1v1h-1zM-3 10h2v1h-2zM1 10h2v1h-2z"/><path fill="#2c2c2c" d="M-9 1h1v1h-1zM11 1h1v1h-1zM5 4h1v1h-1z"/><path fill="#2e2e2e" d="M9 0h2v1h-2zM-12 1h1v1h-1zM-14 2h1v1h-1zM6 2h1v1h-1zM12 3h1v1h-1zM12 4h1v1h-1zM12 5h1v1h-1zM4 8h1v1h-1z"/><path fill="#303030" d="M-10 0h2v1h-2zM8 0h1v1h-1zM11 0h1v1h-1zM-13 1h1v1h-1zM12 2h1v1h-1zM-5 8h1v1h-1z"/><path fill="#323232" d="M-11 0h1v1h-1zM-14 1h1v1h-1zM12 1h1v1h-1zM-4 9h1v1h-1zM3 9h1v1h-1z"/><path fill="#343434" d="M-10 -1h2v1h-2zM12 0h1v1h-1zM-8 1h1v1h-1zM-5 7h1v1h-1zM4 7h1v1h-1z"/><path fill="#363636" d="M10 -1h2v1h-2zM-14 0h3v1h-3zM7 0h1v1h-1zM-7 2h1v1h-1zM13 2h1v1h-1zM-6 3h1v1h-1zM5 3h1v1h-1zM-5 6h1v1h-1zM4 6h1v1h-1z"/><path fill="#383838" d="M-10 -2h1v1h-1zM-11 -1h1v1h-1zM9 -1h1v1h-1zM12 -1h1v1h-1zM-8 0h1v1h-1zM6 1h1v1h-1zM13 1h1v1h-1zM-3 9h1v1h-1zM2 9h1v1h-1z"/><path fill="#3a3a3a" d="M-14 -2h1v1h-1zM-11 -2h1v1h-1zM-9 -2h1v1h-1zM10 -2h2v1h-2zM-14 -1h3v1h-3zM8 -1h1v1h-1zM13 0h1v1h-1zM-5 5h1v1h-1zM4 5h1v1h-1z"/><path fill="#3c3c3c" d="M-14 -3h1v1h-1zM-11 -3h2v1h-2zM-13 -2h2v1h-2zM9 -2h1v1h-1zM12 -2h1v1h-1zM-8 -1h1v1h-1zM13 -1h1v1h-1zM-4 8h1v1h-1zM3 8h1v1h-1zM-2 9h4v1h-4z"/><path fill="#3e3e3e" d="M-13 -4h1v1h-1zM-13 -3h2v1h-2zM-9 -3h1v1h-1zM9 -3h5v1h-5zM8 -2h1v1h-1zM13 -2h1v1h-1zM7 -1h1v1h-1zM-7 1h1v1h-1zM4 4h1v1h-1z"/><path fill="#404040" d="M-13 -6h1v1h-1zM-13 -5h1v1h-1zM-12 -4h3v1h-3zM11 -4h2v1h-2zM8 -3h1v1h-1zM6 0h1v1h-1zM5 2h1v1h-1zM-5 4h1v1h-1z"/><path fill="#424242" d="M-11 -9h1v1h-1zM-12 -8h1v1h-1zM9 -4h2v1h-2zM-8 -2h1v1h-1zM7 -2h1v1h-1zM-7 0h1v1h-1zM-6 2h1v1h-1z"/><path fill="#444444" d="M-10 -10h1v1h-1zM-12 -5h1v1h-1zM11 -5h2v1h-2zM-9 -4h1v1h-1zM8 -4h1v1h-1zM7 -3h1v1h-1z"/><path fill="#464646" d="M-12 -7h1v1h-1zM-12 -6h1v1h-1zM12 -6h1v1h-1zM-11 -5h1v1h-1zM10 -5h1v1h-1zM-5 3h1v1h-1zM4 3h1v1h-1zM-4 7h1v1h-1zM3 7h1v1h-1z"/><path fill="#484848" d="M-9 -11h1v1h-1zM-10 -9h1v1h-1zM10 -9h1v1h-1zM-11 -8h1v1h-1zM11 -8h1v1h-1zM11 -6h1v1h-1zM-10 -5h1v1h-1zM9 -5h1v1h-1zM-8 -3h1v1h-1zM-7 -1h1v1h-1zM6 -1h1v1h-1zM5 1h1v1h-1z"/><path fill="#4a4a4a" d="M9 -10h1v1h-1zM11 -7h1v1h-1zM-9 -5h1v1h-1zM8 -5h1v1h-1zM7 -4h1v1h-1zM6 -2h1v1h-1zM-6 1h1v1h-1zM3 6h1v1h-1zM-3 8h1v1h-1zM2 8h1v1h-1z"/><path fill="#4c4c4c" d="M-8 -12h1v1h-1zM-9 -10h1v1h-1zM9 -9h1v1h-1zM-10 -8h1v1h-1zM10 -8h1v1h-1zM-11 -7h1v1h-1zM-11 -6h1v1h-1zM10 -6h1v1h-1zM6 -3h1v1h-1zM-4 6h1v1h-1z"/><path fill="#4e4e4e" d="M8 -11h1v1h-1zM-9 -9h1v1h-1zM-9 -8h1v1h-1zM9 -8h1v1h-1zM-10 -7h2v1h-2zM10 -7h1v1h-1zM-10 -6h2v1h-2zM8 -6h2v1h-2zM-8 -4h1v1h-1zM-7 -2h1v1h-1zM-5 2h1v1h-1zM4 2h1v1h-1zM-4 5h1v1h-1zM3 5h1v1h-1z"/><path fill="#505050" d="M8 -10h1v1h-1zM8 -9h1v1h-1zM8 -8h1v1h-1zM8 -7h2v1h-2zM7 -5h1v1h-1zM5 0h1v1h-1z"/><path fill="#525252" d="M-3 -14h1v1h-1zM-6 -13h1v1h-1zM7 -12h1v1h-1zM-8 -7h1v1h-1zM7 -7h1v1h-1zM6 -4h1v1h-1zM-6 0h1v1h-1z"/><path fill="#545454" d="M-8 -11h1v1h-1zM-8 -8h1v1h-1zM7 -8h1v1h-1zM7 -6h1v1h-1zM-8 -5h1v1h-1zM-4 4h1v1h-1zM3 4h1v1h-1zM-2 8h1v1h-1z"/><path fill="#565656" d="M-2 -14h1v1h-1zM-7 -12h1v1h-1zM7 -11h1v1h-1zM-8 -10h1v1h-1zM-8 -9h1v1h-1zM-8 -6h1v1h-1zM-7 -3h1v1h-1zM5 -1h1v1h-1zM1 8h1v1h-1z"/><path fill="#585858" d="M-1 -14h1v1h-1zM-5 -13h1v1h-1zM7 -10h1v1h-1zM7 -9h1v1h-1zM-6 -1h1v1h-1zM-5 1h1v1h-1zM4 1h1v1h-1zM-3 7h1v1h-1zM2 7h1v1h-1z"/><path fill="#5a5a5a" d="M0 -14h3v1h-3zM5 -13h1v1h-1zM6 -12h1v1h-1zM5 -2h1v1h-1zM-4 3h1v1h-1zM3 3h1v1h-1z"/><path fill="#5c5c5c" d="M-1 8h2v1h-2z"/><path fill="#5e5e5e" d="M-4 -13h1v1h-1zM6 -5h1v1h-1z"/><path fill="#606060" d="M4 -13h1v1h-1zM-6 -12h1v1h-1zM-7 -11h1v1h-1zM6 -11h1v1h-1zM-7 -4h1v1h-1zM5 -3h1v1h-1zM-6 -2h1v1h-1zM4 0h1v1h-1zM-3 5h1v1h-1zM2 5h1v1h-1zM-3 6h1v1h-1zM2 6h1v1h-1z"/><path fill="#626262" d="M-3 -13h1v1h-1zM-7 -10h1v1h-1zM6 -10h1v1h-1zM-7 -9h1v1h-1zM6 -9h1v1h-1zM-7 -8h1v1h-1zM6 -8h1v1h-1zM-5 0h1v1h-1zM-4 2h1v1h-1z"/><path fill="#646464" d="M-2 -13h1v1h-1zM5 -12h1v1h-1zM-7 -7h1v1h-1zM6 -7h1v1h-1zM3 2h1v1h-1z"/><path fill="#666666" d="M-1 -13h1v1h-1zM3 -13h1v1h-1zM-5 -12h1v1h-1zM6 -6h1v1h-1zM-3 4h1v1h-1zM2 4h1v1h-1z"/><path fill="#686868" d="M0 -13h1v1h-1zM-6 -11h1v1h-1zM-7 -5h1v1h-1zM5 -4h1v1h-1zM-5 -1h1v1h-1zM4 -1h1v1h-1z"/><path fill="#6a6a6a" d="M1 -13h2v1h-2zM-4 -12h1v1h-1zM5 -11h1v1h-1zM-7 -6h1v1h-1zM-6 -3h1v1h-1zM-2 7h1v1h-1zM1 7h1v1h-1z"/><path fill="#6c6c6c" d="M4 -12h1v1h-1zM-6 -10h1v1h-1zM5 -10h1v1h-1zM-6 -9h1v1h-1zM5 -9h1v1h-1zM-4 1h1v1h-1zM3 1h1v1h-1z"/><path fill="#6e6e6e" d="M-3 -12h1v1h-1zM-5 -11h1v1h-1z"/><path fill="#707070" d="M4 -2h1v1h-1z"/><path fill="#727272" d="M-2 -12h2v1h-2zM3 -12h1v1h-1zM4 -11h1v1h-1zM-5 -10h1v1h-1zM5 -8h1v1h-1zM-5 -2h1v1h-1zM-3 3h1v1h-1zM2 3h1v1h-1z"/><path fill="#747474" d="M-4 -11h1v1h-1zM4 -10h1v1h-1zM-6 -8h1v1h-1zM5 -5h1v1h-1zM-6 -4h1v1h-1zM-4 0h1v1h-1zM3 0h1v1h-1zM-2 6h1v1h-1zM1 6h1v1h-1z"/><path fill="#767676" d="M0 -12h1v1h-1zM4 -9h1v1h-1z"/><path fill="#787878" d="M1 -12h2v1h-2zM-5 -9h1v1h-1zM4 -3h1v1h-1zM-2 5h1v1h-1zM1 5h1v1h-1z"/><path fill="#7a7a7a" d="M-3 -11h1v1h-1zM-4 -10h1v1h-1zM-4 -1h1v1h-1zM-1 7h2v1h-2z"/><path fill="#7c7c7c" d="M-2 -11h1v1h-1zM3 -11h1v1h-1zM-5 -3h1v1h-1zM3 -1h1v1h-1zM-3 2h1v1h-1zM2 2h1v1h-1zM-2 4h1v1h-1zM1 4h1v1h-1z"/><path fill="#7e7e7e" d="M3 -10h1v1h-1zM5 -7h1v1h-1zM-6 -5h1v1h-1z"/><path fill="#808080" d="M-1 -11h1v1h-1zM-4 -9h1v1h-1zM4 -8h1v1h-1zM-6 -7h1v1h-1zM5 -6h1v1h-1z"/><path fill="#828282" d="M0 -11h1v1h-1zM2 -11h1v1h-1zM-3 -10h1v1h-1zM3 -9h1v1h-1zM4 -4h1v1h-1zM-4 -2h1v1h-1zM-3 1h1v1h-1zM2 1h1v1h-1z"/><path fill="#848484" d="M1 -11h1v1h-1zM-5 -8h1v1h-1z"/><path fill="#868686" d="M2 -10h1v1h-1zM-6 -6h1v1h-1zM-5 -4h1v1h-1zM2 0h1v1h-1zM-2 3h1v1h-1zM1 3h1v1h-1z"/><path fill="#888888" d="M-2 -10h1v1h-1zM-3 -9h1v1h-1zM3 -2h1v1h-1zM-3 0h1v1h-1zM-1 6h2v1h-2z"/><path fill="#8a8a8a" d="M2 -9h1v1h-1zM3 -8h1v1h-1zM4 -5h1v1h-1zM-4 -3h1v1h-1z"/><path fill="#8c8c8c" d="M-1 -10h3v1h-3zM4 -7h1v1h-1zM-3 -1h1v1h-1z"/><path fill="#8e8e8e" d="M-4 -8h1v1h-1zM4 -6h1v1h-1zM2 -1h1v1h-1zM-2 2h1v1h-1zM1 2h1v1h-1z"/><path fill="#909090" d="M-5 -5h1v1h-1zM-1 5h2v1h-2z"/><path fill="#929292" d="M-2 -9h1v1h-1zM-5 -7h1v1h-1zM-3 -2h1v1h-1zM1 1h1v1h-1z"/><path fill="#949494" d="M1 -9h1v1h-1zM3 -7h1v1h-1zM-4 -4h1v1h-1zM3 -3h1v1h-1zM-2 1h1v1h-1zM-1 3h2v1h-2zM-1 4h2v1h-2z"/><path fill="#969696" d="M-3 -8h1v1h-1zM2 -8h1v1h-1zM-5 -6h1v1h-1zM-3 -3h1v1h-1zM-2 0h1v1h-1zM1 0h1v1h-1z"/><path fill="#989898" d="M-1 -9h2v1h-2zM-1 2h2v1h-2z"/><path fill="#9a9a9a" d="M3 -6h1v1h-1zM-1 1h2v1h-2z"/><path fill="#9c9c9c" d="M-4 -7h1v1h-1zM3 -4h1v1h-1zM-2 -1h1v1h-1z"/><path fill="#9e9e9e" d="M-4 -5h1v1h-1zM3 -5h1v1h-1zM2 -2h1v1h-1zM1 -1h1v1h-1zM-1 0h2v1h-2z"/><path fill="#a0a0a0" d="M-2 -8h1v1h-1z"/><path fill="#a2a2a2" d="M1 -8h1v1h-1zM-4 -6h1v1h-1zM-3 -4h1v1h-1zM-2 -2h1v1h-1z"/><path fill="#a4a4a4" d="M2 -7h1v1h-1z"/><path fill="#a6a6a6" d="M-1 -8h1v1h-1zM-3 -7h1v1h-1zM-1 -1h1v1h-1z"/><path fill="#a8a8a8" d="M0 -8h1v1h-1zM0 -1h1v1h-1z"/><path fill="#aaaaaa" d="M-2 -3h1v1h-1z"/><path fill="#acacac" d="M-3 -5h1v1h-1z"/><path fill="#aeaeae" d="M-3 -6h1v1h-1zM2 -3h1v1h-1z"/><path fill="#b0b0b0" d="M-2 -7h1v1h-1zM2 -6h1v1h-1zM1 -2h1v1h-1z"/><path fill="#b2b2b2" d="M1 -7h1v1h-1zM-1 -2h1v1h-1z"/><path fill="#b4b4b4" d="M2 -5h1v1h-1zM-2 -4h1v1h-1zM2 -4h1v1h-1z"/><path fill="#b6b6b6" d="M-1 -7h1v1h-1zM0 -2h1v1h-1z"/><path fill="#b8b8b8" d="M0 -7h1v1h-1z"/><path fill="#bcbcbc" d="M-2 -6h1v1h-1zM-2 -5h1v1h-1z"/><path fill="#bebebe" d="M-1 -3h1v1h-1zM1 -3h1v1h-1z"/><path fill="#c0c0c0" d="M1 -6h1v1h-1z"/><path fill="#c2c2c2" d="M-1 -6h1v1h-1zM1 -5h1v1h-1z"/><path fill="#c4c4c4" d="M0 -6h1v1h-1zM-1 -4h1v1h-1zM1 -4h1v1h-1z"/><path fill="#c6c6c6" d="M-1 -5h1v1h-1zM0 -3h1v1h-1z"/><path fill="#c8c8c8" d="M0 -5h1v1h-1z"/><path fill="#cacaca" d="M0 -4h1v1h-1z"/></g></g>
<path d="M1225.7 1442.8l3.9-1.8 3.3-2.2 3.7-3.3 3-3.4 2.8-4.3 1.9-4 2-8 0-6-1.7-10.3 0-7.7-1-5-1.6-3-2.4-2.5-3-1.7-4-1-4 0.2-3 0.9-3.5 2.1-2.8 3-3 5-3.4 8-2.3 7-1.3 6-0.2 6 0.7 7 1.8 9.3 2 6 2 2.8 3 1.6 3 0.2 4.1-0.9M1090.3 1443.8l2.3-2 2.8-5 2.2-6.9 1.4-7.1 0.3-6-0.6-6-1.1-5-2-5-2-3.1-3-3.2-3-2.3-3-1.3-17-2.3-4 0.4-4 1.5-3 2.3-1.4 2-0.9 3 0.2 3 2.1 4.2 6.9 6.8 1.1 1.7 3.5 13.3 3.2 7 4.3 5.6 5 3.7 5 1.6 3-0.2 1.7-0.7M1050.6 1274.3l13.5-14.5M1254.6 1361.8l-3-0.9-4-0.4-4 0.3-5 1-15 4.7-4 2.4-3 2.7-4 5.4-4.7 9.8-6.1 9-3.4 7-2.6 9-2.7 19-1.6 5-1.9 3.8-4 5-4.3 3.2-5.7 2.3-6 0.9-17-1.4-13 1.3-6-0.1-6-1.3-5.6-2.7-5.2-5-1.9-3-1.7-4-1.5-6-3.5-21-1.3-5-1.7-4-3.4-5-7.4-7-7.7-9-10.6-17-1.5-1.2-2-0.8-4 0.2-4 1.9-9 5.9-5 2.4M1239.6 1463.8l8-7.4 7-8.3M1050.6 1453.2l9.6 10.6M1223.8 1259.8l4.2 7 2.8 7 1.5 6 2.3 14.7 1.4 2.3 4.6 3.6 2 2.3 1 3.1-0.3 2-1.1 2-1.6 1.1-3-0.1-6-1.5-3 1.2-7.5 11.3-9.6 12-1.5 4-1.8 12-1.8 7-5.7 13-7.8 14-1.8 4-5.3 16-4.7 22-1.5 4-1.7 3-4 4-5.7 3-6.6 1.7-9 0.5-9-0.6-7-1.8-6-3.4-4-4.4-2.6-6-4.6-22-5.3-16-1.5-3-5.9-8-2.3-4-7.5-19-18.3-37.9-3-5.2-2-1.6-7 2-2-0.2-1.1-1.1 0.1-2.6 2-2.2 3-0.8 5 1 1-0.2 2-1.7 0.8-1.5 0.6-4-1.3-12 0.8-8 1.4-5 2.1-5 5.3-8M1196.3 1259.8l4.6 6 2.5 6 0.2 2-0.7 9 4.1 14 1.8 8 0.6 5-0.7 5-1.6 4-6.9 13-6.2 21-8.6 20-6 17-8.2 16-0.6 3-0.1 10-1.5 6-2.5 4-3.9 3.2-5 2.2-5 0.7-5-0.7-4-1.6-3.9-2.8-3-4-1.9-6-0.2-11-1-4-7.2-14-5.3-14-10.1-24-13.4-25.8-2.7-8.2-0.5-4 0.3-5 6.8-26 0.4-3-0.4-6 0.3-2 1.9-3 3.1-3 5.5-4 5.4-3M1154.6 1422.8l-2 0.5-2-0.5-2.5-2-1.9-3-1.6-5-2.5-13-2-5-6.4-12-4.4-18-5.1-16-3-6-7.6-10.2-7-11.4-3-7.4-0.4-5 0.4-2 1.5-3 4.5-5.4 6-4.8 11.4-7.8 6.6-6.2 4-2.8 5-2.3 7-1.9 10-1.5 8-0.3 4 0.8 2 1.4 1.6 2.8 2.8 8 1.8 3 3.8 4 13 11.6 2.6 3.4 0.9 3-0.9 3-5.6 11.3-5.2 16.7-2.4 6-10.9 19-1.4 5-2.6 14-5.5 10.1-2.1 4.9-4.1 18-1.8 3.4-3 2.6M1155.6 1364.9l-3 0.8-3-0.6-3-2-4-4.7-4.4-8.6-4.5-14-10.6-13-2-4-0.9-4 0.4-4 1.2-3 2.1-3 4.4-4 7.3-4.8 7-3.8 5-1.7 5-0.8 6 0.6 5 1.9 6 3.8 5.7 4.8 3.1 4 1.9 4 2.4 8 0.6 5-0.4 6-1.1 6-1.6 5-2.6 5.1-3 4.1-4 4.2-10 9.3-5 3.4" fill="none" stroke="#1a1a1a" stroke-width="0.8" stroke-opacity="0.9"/>
</g>
<use href="#e2" x="1152.6" y="1361.8" fill="none" stroke="#111" stroke-width="1.1"/>
<circle cx="1152.6" cy="1361.8" r="100.80" fill="none" stroke="#1a1a1a" stroke-width="2.4"/>
<path d="M1134.5,1262.0L1152.6,1244.4L1170.7,1262.0" fill="none" stroke="#1a1a1a" stroke-width="1.7" stroke-linejoin="miter"/>
<path d="M1252.8,1350.6 L1255.4,1346.2 L1257.0,1346.0 L1259.4,1346.8 L1261.8,1350.6 L1261.5,1362.9 L1262.9,1380.6 L1259.9,1388.3 L1255.4,1389.7 L1251.2,1386.0" fill="none" stroke="#1a1a1a" stroke-width="1.7" stroke-linejoin="round"/>
<path d="M1052.4,1350.6 L1049.8,1346.2 L1048.2,1346.0 L1045.8,1346.8 L1043.4,1350.6 L1043.7,1362.9 L1042.3,1380.6 L1045.3,1388.3 L1049.8,1389.7 L1054.0,1386.0" fill="none" stroke="#1a1a1a" stroke-width="1.7" stroke-linejoin="round"/>
<g clip-path="url(#c11)"><g filter="url(#cm)"><g transform="translate(209.8 1604.7) scale(9.0)" shape-rendering="crispEdges"><path fill="#000000" d="M-3 -13h7v1h-7zM-6 -12h12v1h-12zM-6 -11h12v1h-12zM-6 -10h2v1h-2z"/><path fill="#020202" d="M-4 -13h1v1h-1zM-7 -11h1v1h-1z"/><path fill="#040404" d="M4 -13h1v1h-1zM6 -11h1v1h-1z"/><path fill="#060606" d="M-7 -10h1v1h-1zM5 -10h1v1h-1z"/><path fill="#080808" d="M-4 -10h1v1h-1z"/><path fill="#0c0c0c" d="M-1 -14h2v1h-2zM-5 -13h1v1h-1zM4 -10h1v1h-1z"/><path fill="#0e0e0e" d="M1 -14h1v1h-1zM6 -12h1v1h-1z"/><path fill="#101010" d="M-3 -10h1v1h-1zM0 -10h2v1h-2zM3 -10h1v1h-1z"/><path fill="#121212" d="M-2 -14h1v1h-1zM-2 -10h2v1h-2zM2 -10h1v1h-1zM6 -10h1v1h-1z"/><path fill="#141414" d="M2 -14h1v1h-1zM5 -13h1v1h-1zM-7 -12h1v1h-1z"/><path fill="#181818" d="M-6 -9h1v1h-1z"/><path fill="#1c1c1c" d="M-3 -14h1v1h-1zM-6 -13h1v1h-1z"/><path fill="#1e1e1e" d="M-5 -9h1v1h-1z"/><path fill="#202020" d="M-8 -11h1v1h-1zM-8 -10h1v1h-1zM-7 -9h1v1h-1z"/><path fill="#222222" d="M7 -11h1v1h-1z"/><path fill="#262626" d="M-3 13h1v1h-1z"/><path fill="#2c2c2c" d="M7 -10h1v1h-1zM-4 -9h1v1h-1z"/><path fill="#2e2e2e" d="M2 13h1v1h-1z"/><path fill="#303030" d="M7 -12h1v1h-1z"/><path fill="#323232" d="M-8 -9h1v1h-1zM-6 12h1v1h-1zM-2 13h1v1h-1z"/><path fill="#343434" d="M-8 -12h1v1h-1zM5 -9h1v1h-1zM-8 11h1v1h-1z"/><path fill="#383838" d="M-3 -9h1v1h-1zM4 -9h1v1h-1zM6 -9h1v1h-1zM1 13h1v1h-1z"/><path fill="#3a3a3a" d="M2 -9h2v1h-2zM-1 13h1v1h-1z"/><path fill="#3c3c3c" d="M-2 -9h1v1h-1zM0 -9h2v1h-2zM0 13h1v1h-1z"/><path fill="#3e3e3e" d="M-9 -10h1v1h-1zM-1 -9h1v1h-1z"/><path fill="#424242" d="M-6 -8h1v1h-1zM-9 10h1v1h-1z"/><path fill="#444444" d="M-9 -11h1v1h-1zM7 -9h1v1h-1zM-5 12h1v1h-1zM5 12h1v1h-1z"/><path fill="#464646" d="M8 -11h1v1h-1zM-9 -9h1v1h-1zM-7 -8h1v1h-1z"/><path fill="#484848" d="M8 -10h1v1h-1zM-10 9h1v1h-1z"/><path fill="#4a4a4a" d="M-5 -8h1v1h-1z"/><path fill="#4c4c4c" d="M-11 8h1v1h-1zM7 11h1v1h-1z"/><path fill="#4e4e4e" d="M-8 -8h1v1h-1zM-12 7h1v1h-1z"/><path fill="#525252" d="M-7 11h1v1h-1z"/><path fill="#545454" d="M-4 12h1v1h-1zM4 12h1v1h-1z"/><path fill="#565656" d="M8 -9h1v1h-1z"/><path fill="#585858" d="M-9 -8h1v1h-1zM-4 -8h1v1h-1z"/><path fill="#5c5c5c" d="M8 10h1v1h-1z"/><path fill="#5e5e5e" d="M-10 -9h1v1h-1z"/><path fill="#606060" d="M-10 -10h1v1h-1zM-3 12h1v1h-1zM3 12h1v1h-1z"/><path fill="#626262" d="M5 -8h2v1h-2zM-8 10h1v1h-1z"/><path fill="#646464" d="M-3 -8h1v1h-1zM-13 5h1v1h-1zM11 7h1v1h-1zM9 9h1v1h-1z"/><path fill="#666666" d="M9 -10h1v1h-1zM-10 -8h1v1h-1zM4 -8h1v1h-1zM7 -8h1v1h-1zM10 8h1v1h-1zM-9 9h1v1h-1z"/><path fill="#686868" d="M-12 6h1v1h-1zM-11 7h1v1h-1zM-10 8h1v1h-1zM-6 11h1v1h-1zM6 11h1v1h-1z"/><path fill="#6a6a6a" d="M-2 -8h1v1h-1zM3 -8h1v1h-1zM-7 -7h2v1h-2zM2 12h1v1h-1z"/><path fill="#6c6c6c" d="M9 -9h1v1h-1zM-1 -8h1v1h-1zM2 -8h1v1h-1zM8 -8h1v1h-1zM-9 -7h2v1h-2zM-2 12h1v1h-1z"/><path fill="#6e6e6e" d="M0 -8h2v1h-2z"/><path fill="#707070" d="M-10 -7h1v1h-1zM12 5h1v1h-1z"/><path fill="#727272" d="M1 12h1v1h-1z"/><path fill="#747474" d="M-5 -7h1v1h-1zM-1 12h1v1h-1z"/><path fill="#767676" d="M9 -8h1v1h-1zM-13 4h1v1h-1zM-5 11h1v1h-1z"/><path fill="#787878" d="M-11 -8h1v1h-1zM0 12h1v1h-1z"/><path fill="#7a7a7a" d="M-11 -9h1v1h-1zM-12 5h1v1h-1zM7 10h1v1h-1zM5 11h1v1h-1z"/><path fill="#7c7c7c" d="M-11 -7h1v1h-1zM12 4h1v1h-1zM11 6h1v1h-1zM-7 10h1v1h-1z"/><path fill="#7e7e7e" d="M8 -7h1v1h-1zM-10 -6h2v1h-2zM-14 2h1v1h-1zM13 2h1v1h-1zM-11 6h1v1h-1zM-10 7h1v1h-1zM-9 8h1v1h-1z"/><path fill="#808080" d="M9 -7h1v1h-1zM-8 9h1v1h-1zM-4 11h1v1h-1z"/><path fill="#828282" d="M7 -7h1v1h-1zM-8 -6h1v1h-1zM-13 3h1v1h-1zM10 7h1v1h-1zM8 9h1v1h-1z"/><path fill="#848484" d="M10 -9h1v1h-1zM10 -8h1v1h-1zM-4 -7h1v1h-1zM6 -7h1v1h-1zM-7 -6h1v1h-1zM12 3h1v1h-1zM9 8h1v1h-1z"/><path fill="#868686" d="M5 -7h1v1h-1zM-11 -6h1v1h-1zM13 1h1v1h-1zM4 11h1v1h-1z"/><path fill="#888888" d="M10 -7h1v1h-1zM-6 -6h1v1h-1zM9 -6h1v1h-1zM-14 1h1v1h-1zM-12 4h1v1h-1zM-3 11h1v1h-1z"/><path fill="#8a8a8a" d="M8 -6h1v1h-1zM-13 2h1v1h-1zM12 2h1v1h-1zM11 5h1v1h-1z"/><path fill="#8c8c8c" d="M10 -6h1v1h-1zM13 0h1v1h-1zM-11 5h1v1h-1z"/><path fill="#8e8e8e" d="M12 1h1v1h-1zM-12 3h1v1h-1zM-10 6h1v1h-1zM-9 7h1v1h-1zM3 11h1v1h-1z"/><path fill="#909090" d="M-12 -7h1v1h-1zM-3 -7h1v1h-1zM4 -7h1v1h-1zM7 -6h1v1h-1zM-10 -5h1v1h-1zM9 -5h1v1h-1zM-14 0h1v1h-1zM-13 1h1v1h-1zM11 4h1v1h-1zM-8 8h1v1h-1zM-6 10h1v1h-1zM-2 11h1v1h-1z"/><path fill="#929292" d="M-12 -8h1v1h-1zM-12 -6h1v1h-1zM-11 -5h1v1h-1zM-9 -5h1v1h-1zM8 -5h1v1h-1zM10 -5h1v1h-1zM12 0h1v1h-1zM-12 2h1v1h-1zM11 3h1v1h-1zM2 11h1v1h-1z"/><path fill="#949494" d="M-8 -5h1v1h-1zM13 -1h1v1h-1zM-13 0h1v1h-1zM11 2h1v1h-1zM-11 4h1v1h-1zM10 6h1v1h-1zM6 10h1v1h-1z"/><path fill="#969696" d="M11 -7h1v1h-1zM-5 -6h1v1h-1zM6 -6h1v1h-1zM11 -6h1v1h-1zM-7 -5h1v1h-1zM7 -5h1v1h-1zM9 -4h2v1h-2zM12 -1h1v1h-1zM-12 1h1v1h-1zM11 1h1v1h-1zM-9 6h1v1h-1zM-7 9h1v1h-1zM1 11h1v1h-1z"/><path fill="#989898" d="M11 -8h1v1h-1zM-2 -7h1v1h-1zM-12 -5h1v1h-1zM11 -5h1v1h-1zM8 -4h1v1h-1zM11 -4h1v1h-1zM-14 -1h1v1h-1zM-12 0h1v1h-1zM11 0h1v1h-1zM-11 3h1v1h-1zM-10 5h1v1h-1zM-8 7h1v1h-1zM9 7h1v1h-1zM-5 10h1v1h-1zM-1 11h1v1h-1z"/><path fill="#9a9a9a" d="M-1 -7h1v1h-1zM3 -7h1v1h-1zM-11 -4h1v1h-1zM10 -3h2v1h-2zM11 -2h3v1h-3zM-13 -1h2v1h-2zM11 -1h1v1h-1zM-11 0h1v1h-1zM-11 1h1v1h-1zM10 1h1v1h-1zM-11 2h1v1h-1zM10 2h1v1h-1zM10 3h1v1h-1zM8 8h1v1h-1zM7 9h1v1h-1zM0 11h1v1h-1z"/><path fill="#9c9c9c" d="M0 -7h1v1h-1zM-12 -4h1v1h-1zM-10 -4h1v1h-1zM7 -4h1v1h-1zM9 -3h1v1h-1zM12 -3h1v1h-1zM-12 -2h1v1h-1zM10 -2h1v1h-1zM-11 -1h2v1h-2zM10 -1h1v1h-1zM-10 0h1v1h-1zM10 0h1v1h-1zM-10 1h1v1h-1zM-10 2h1v1h-1zM9 2h1v1h-1zM-10 4h1v1h-1zM-9 5h1v1h-1zM-8 6h1v1h-1zM-4 10h1v1h-1z"/><path fill="#9e9e9e" d="M1 -7h2v1h-2zM5 -6h1v1h-1zM6 -5h1v1h-1zM-9 -4h1v1h-1zM12 -4h1v1h-1zM-12 -3h2v1h-2zM8 -3h1v1h-1zM13 -3h1v1h-1zM-13 -2h1v1h-1zM-11 -2h2v1h-2zM-9 1h1v1h-1zM9 1h1v1h-1zM-9 2h1v1h-1zM8 2h1v1h-1zM-10 3h2v1h-2zM9 3h1v1h-1zM-9 4h1v1h-1zM10 4h1v1h-1zM-8 5h1v1h-1zM10 5h1v1h-1zM-7 8h1v1h-1z"/><path fill="#a0a0a0" d="M-6 -5h1v1h-1zM12 -5h1v1h-1zM-8 -4h1v1h-1zM-13 -3h1v1h-1zM-10 -3h1v1h-1zM-14 -2h1v1h-1zM9 -2h1v1h-1zM-9 -1h1v1h-1zM-9 0h1v1h-1zM9 0h1v1h-1zM-8 3h1v1h-1zM8 3h1v1h-1zM-8 4h1v1h-1zM-7 5h1v1h-1zM-7 6h1v1h-1zM-7 7h1v1h-1zM-3 10h3v1h-3z"/><path fill="#a2a2a2" d="M-13 -5h1v1h-1zM-13 -4h1v1h-1zM-7 -4h1v1h-1zM6 -4h1v1h-1zM-9 -3h1v1h-1zM7 -3h1v1h-1zM-9 -2h1v1h-1zM9 -1h1v1h-1zM-8 2h1v1h-1zM-7 4h1v1h-1zM0 10h1v1h-1z"/><path fill="#a4a4a4" d="M-13 -6h1v1h-1zM12 -6h1v1h-1zM8 -2h1v1h-1zM-8 1h1v1h-1zM8 1h1v1h-1zM-7 3h1v1h-1zM-6 9h1v1h-1zM5 10h1v1h-1z"/><path fill="#a6a6a6" d="M-14 -3h1v1h-1zM-8 -3h1v1h-1zM-8 0h1v1h-1zM9 4h1v1h-1zM-6 5h1v1h-1zM-6 6h1v1h-1zM9 6h1v1h-1zM1 10h1v1h-1z"/><path fill="#a8a8a8" d="M-8 -2h1v1h-1zM-8 -1h1v1h-1zM8 -1h1v1h-1zM8 0h1v1h-1zM-7 2h1v1h-1zM7 2h1v1h-1zM7 3h1v1h-1zM8 4h1v1h-1zM-6 7h1v1h-1zM8 7h1v1h-1zM-6 8h1v1h-1zM-1 9h2v1h-2zM4 10h1v1h-1z"/><path fill="#aaaaaa" d="M-4 -6h1v1h-1zM-7 -3h1v1h-1zM6 -3h1v1h-1zM-6 4h1v1h-1zM9 5h1v1h-1zM-5 9h1v1h-1zM2 10h2v1h-2z"/><path fill="#acacac" d="M5 -5h1v1h-1zM7 -2h1v1h-1zM7 8h1v1h-1zM-4 9h1v1h-1zM-2 9h1v1h-1z"/><path fill="#aeaeae" d="M-6 -4h1v1h-1zM-7 1h1v1h-1zM7 1h1v1h-1zM7 4h1v1h-1zM-5 8h1v1h-1zM-3 9h1v1h-1zM6 9h1v1h-1z"/><path fill="#b0b0b0" d="M4 -6h1v1h-1zM-5 -5h1v1h-1zM-6 3h1v1h-1zM8 5h1v1h-1zM-5 6h1v1h-1zM8 6h1v1h-1zM-5 7h1v1h-1zM1 9h1v1h-1z"/><path fill="#b2b2b2" d="M5 -4h1v1h-1zM-7 -2h1v1h-1zM7 -1h1v1h-1zM-7 0h1v1h-1zM7 0h1v1h-1zM-5 5h1v1h-1z"/><path fill="#b4b4b4" d="M6 -2h1v1h-1zM-7 -1h1v1h-1zM6 3h1v1h-1zM7 5h1v1h-1zM7 7h1v1h-1z"/><path fill="#b6b6b6" d="M-3 -6h1v1h-1zM-6 2h1v1h-1zM6 2h1v1h-1zM6 4h1v1h-1zM7 6h1v1h-1zM-4 8h1v1h-1zM-1 8h2v1h-2zM2 9h1v1h-1z"/><path fill="#b8b8b8" d="M6 1h1v1h-1zM-5 4h1v1h-1zM6 5h1v1h-1zM-2 8h1v1h-1zM6 8h1v1h-1zM5 9h1v1h-1z"/><path fill="#bababa" d="M-6 -3h1v1h-1zM5 -3h1v1h-1zM-4 7h1v1h-1zM-3 8h1v1h-1zM1 8h1v1h-1zM3 9h2v1h-2z"/><path fill="#bcbcbc" d="M-2 -6h1v1h-1zM6 -1h1v1h-1zM6 0h1v1h-1zM-6 1h1v1h-1zM4 2h2v1h-2zM5 3h1v1h-1zM5 4h1v1h-1zM-4 6h1v1h-1zM6 6h1v1h-1zM6 7h1v1h-1zM5 8h1v1h-1z"/><path fill="#bebebe" d="M5 1h1v1h-1zM-5 3h1v1h-1zM4 3h1v1h-1zM-4 5h1v1h-1zM5 5h1v1h-1zM5 7h1v1h-1zM2 8h1v1h-1zM4 8h1v1h-1z"/><path fill="#c0c0c0" d="M-1 -6h1v1h-1zM3 -6h1v1h-1zM-6 -2h1v1h-1zM5 -2h1v1h-1zM-6 0h1v1h-1zM4 1h1v1h-1zM5 6h1v1h-1zM-3 7h1v1h-1zM3 8h1v1h-1z"/><path fill="#c2c2c2" d="M-4 -5h1v1h-1zM4 -5h1v1h-1zM-5 -4h1v1h-1zM-6 -1h1v1h-1zM5 -1h1v1h-1zM5 0h1v1h-1zM3 2h1v1h-1zM3 3h1v1h-1zM-4 4h1v1h-1zM4 4h1v1h-1zM-3 5h2v1h-2zM-3 6h1v1h-1zM-2 7h4v1h-4zM4 7h1v1h-1z"/><path fill="#c4c4c4" d="M0 -6h1v1h-1zM-3 4h2v1h-2zM4 5h1v1h-1zM-2 6h1v1h-1zM4 6h1v1h-1zM2 7h2v1h-2z"/><path fill="#c6c6c6" d="M1 -6h2v1h-2zM4 0h1v1h-1zM-5 2h1v1h-1zM2 3h1v1h-1zM2 4h2v1h-2zM-1 6h1v1h-1zM1 6h1v1h-1z"/><path fill="#c8c8c8" d="M3 1h1v1h-1zM2 2h1v1h-1zM-4 3h1v1h-1zM1 3h1v1h-1zM-1 4h1v1h-1zM1 4h1v1h-1zM-1 5h4v1h-4zM0 6h1v1h-1zM2 6h2v1h-2z"/><path fill="#cacaca" d="M4 -4h1v1h-1zM4 -1h1v1h-1zM0 4h1v1h-1zM3 5h1v1h-1z"/><path fill="#cccccc" d="M-5 1h1v1h-1zM-3 3h4v1h-4z"/><path fill="#cecece" d="M-3 -5h1v1h-1zM-5 -3h1v1h-1zM4 -3h1v1h-1zM4 -2h1v1h-1zM1 2h1v1h-1z"/><path fill="#d0d0d0" d="M-5 0h1v1h-1zM-4 2h1v1h-1z"/><path fill="#d2d2d2" d="M-5 -2h1v1h-1zM-5 -1h1v1h-1zM3 0h1v1h-1zM2 1h1v1h-1zM0 2h1v1h-1z"/><path fill="#d4d4d4" d="M3 -5h1v1h-1zM-4 -4h1v1h-1zM-3 2h3v1h-3z"/><path fill="#d6d6d6" d="M-2 -5h1v1h-1zM-4 1h1v1h-1z"/><path fill="#dadada" d="M-1 -5h1v1h-1zM3 -1h1v1h-1zM1 1h1v1h-1z"/><path fill="#dcdcdc" d="M-4 0h1v1h-1zM-3 1h1v1h-1z"/><path fill="#dedede" d="M0 -5h1v1h-1zM2 -5h1v1h-1zM-3 -4h1v1h-1zM3 -4h1v1h-1zM-4 -3h1v1h-1zM-4 -1h1v1h-1zM-2 1h1v1h-1z"/><path fill="#e0e0e0" d="M1 -5h1v1h-1zM-4 -2h1v1h-1zM3 -2h1v1h-1zM2 0h1v1h-1zM-1 1h2v1h-2z"/><path fill="#e2e2e2" d="M3 -3h1v1h-1zM-3 0h1v1h-1z"/><path fill="#e6e6e6" d="M-2 -4h1v1h-1z"/><path fill="#e8e8e8" d="M2 -4h1v1h-1zM-3 -3h1v1h-1zM-3 -1h1v1h-1zM-2 0h1v1h-1z"/><path fill="#eaeaea" d="M-1 -4h1v1h-1zM-3 -2h1v1h-1zM2 -1h1v1h-1zM1 0h1v1h-1z"/><path fill="#ececec" d="M-1 0h2v1h-2z"/><path fill="#eeeeee" d="M0 -4h2v1h-2zM-2 -3h1v1h-1zM2 -3h1v1h-1zM2 -2h1v1h-1zM-2 -1h1v1h-1z"/><path fill="#f2f2f2" d="M-2 -2h1v1h-1z"/><path fill="#f4f4f4" d="M-1 -3h1v1h-1zM1 -3h1v1h-1zM-1 -1h1v1h-1zM1 -1h1v1h-1z"/><path fill="#f6f6f6" d="M0 -3h1v1h-1zM-1 -2h1v1h-1zM0 -1h1v1h-1z"/><path fill="#f8f8f8" d="M1 -2h1v1h-1z"/><path fill="#fafafa" d="M0 -2h1v1h-1z"/></g></g>
<path d="M159.6 1502.7l-2.8 2.6-2 2.6-1.2 2.8-0.3 3 1 3 1.7 2 2.8 1.4 3 0.4 6-1.1 15-6 6-1 23 1.4 24-1.1 8 0.9 14 2.8 3-0.1 3-2 1-1.6 0.5-2-0.6-4-2.6-4M125.6 1706.7l-17.8-13.5M311.8 1697.5l-12.3 9.2M144.7 1502.7l-2.9 5-1.5 5-0.1 5 1.6 4.6 3 3.6 4.4 2.8 5.6 1.8 6 0.6 8-1.1 17-5.3 8-1 45 0.5 22 1.3 6-0.7 3-1.1 3.4-2 2-2 1.9-3 0.9-3 0.2-4-0.6-3-1.7-4M136.1 1706.7l-12.2-9-16.1-13.5M311.8 1689.5l-11 9.2-11.2 8M134.4 1502.7l-3.8 7-2.3 8-0.1 7 0.7 3 1.3 3 3.6 4 5 2.5 11 2.4 9 0.9 9-1.3 19-5.8 8-1.1 27-0.1 22 0.6 19 1.1 7-0.5 6-1.3 4-1.5 4-2.4 3-3.3 1.6-3.2 0.9-4 0-5-1.1-5-2.2-5M148.4 1706.7l-7.7-5-7.6-6-25.3-23.1M311.8 1679.6l-7.4 7.1-9.2 8-9.3 7-7.7 5M125.1 1502.7l-4.8 8-3.7 9-2.2 9-0.6 9 1.1 7 1.1 3 1.8 3 2 2 2 1.1 5 0.8 18-1.9 15-1 4-1.1 12-4.9 8-2.7 7-1.6 9-1 19-0.5 17 0.3 9 0.8 16 2.8 12-0.1 13 1.7 6-0.6 4-2.1 3-3.5 2-4.6 1.1-5.9 0-6-1.2-7-2.3-7-3-6M168.8 1706.7l-12-4.2-4.9-2.8-4.1-3.1-5.3-4.9-13.7-14.6-13-12.9-8-9.3M311.8 1664.9l-5 6.5-5.7 6.3-16.1 15-12.2 9-10.1 5M116.3 1502.7l-4.7 7-3.8 6.7M311.8 1516.4l-3.3-6.7-4.1-7M248.8 1699.8l-14 0.6-9-1-4.1-1.7-6.9-6.6-2-1.1-3-0.6-4 0.3-9 3.8-4 0.9-7 0.1-8-0.8-6-1.3-5.3-1.7-3.2-2-1.4-2-0.6-3-0.7-12 1.6-13 0.1-4-1-3-5.3-11-3.6-11-5-9-2.5-6-2.3-11-0.6-7 0.1-5 0.9-4 1.7-3 9.1-7.7 7.3-9.3 8.2-7 9.2-6 6.3-2.3 7-1.8 16-1.7 15-0.8 10 0 7.2 0.6 5.8 1.6 6 3.4 7 6 2.3 3 1.5 3 2.2 9.2 1.2 2.8 3.8 4 11.5 9 2.6 3 1.8 3 1.5 5-0.3 6-1.8 5-5.3 9.5-2 4.5-1 5 0.3 4 1.7 3.8 3 2.9 3 1.7 8 2.7 3 2 1.5 1.9 0.7 2-0.1 4-2.7 5-6 8-11.7 14-7.8 8-4.9 3.8-4 1.9-5 1.4-7 1M107.9 1502.7l-0.1 0.1M206.8 1628.8l-10 0.4-11-1.1-5-1.8-2.3-1.6-1.8-2-1.9-3.3-2.6-6.7-1.8-6-0.8-5-0.1-5 0.6-6 1.2-6 1.7-5 3.3-5 5.5-5.2 6-3.7 7-2.7 12-2.3 17-1.9 8 0.3 5.7 1.5 3.3 2.1 3.1 3.9 2.8 6 1.5 6 0.3 7-0.6 6-1.4 5-3 7-2.6 5-3.1 4-4 3.9-4 3-6 3.6-6 2.9-5 1.5-6 1.2" fill="none" stroke="#1a1a1a" stroke-width="0.8" stroke-opacity="0.9"/>
</g>
<use href="#e2" x="209.8" y="1604.7" fill="none" stroke="#111" stroke-width="1.1"/>
<circle cx="209.8" cy="1604.7" r="100.80" fill="none" stroke="#1a1a1a" stroke-width="2.4"/>
<path d="M191.7,1504.9L209.8,1487.3L227.9,1504.9" fill="none" stroke="#1a1a1a" stroke-width="1.7" stroke-linejoin="miter"/>
<path d="M310.0,1593.5 L312.6,1589.1 L314.2,1588.9 L316.6,1589.7 L319.0,1593.5 L318.7,1605.8 L320.1,1623.5 L317.1,1631.2 L312.6,1632.6 L308.4,1628.9" fill="none" stroke="#1a1a1a" stroke-width="1.7" stroke-linejoin="round"/>
<path d="M109.6,1593.5 L107.0,1589.1 L105.4,1588.9 L103.0,1589.7 L100.6,1593.5 L100.9,1605.8 L99.5,1623.5 L102.5,1631.2 L107.0,1632.6 L111.2,1628.9" fill="none" stroke="#1a1a1a" stroke-width="1.7" stroke-linejoin="round"/>
<g clip-path="url(#c12)"><g filter="url(#cm)"><g transform="translate(528.0 1603.8) scale(9.0)" shape-rendering="crispEdges"><path fill="#000000" d="M-14 2h1v1h-1zM13 2h1v1h-1zM-14 3h2v1h-2zM12 3h2v1h-2zM-13 4h1v1h-1zM12 4h1v1h-1zM-13 5h3v1h-3zM10 5h3v1h-3zM-13 6h4v1h-4zM9 6h4v1h-4zM-12 7h4v1h-4zM8 7h4v1h-4zM-11 8h3v1h-3zM8 8h3v1h-3zM-10 9h2v1h-2zM8 9h2v1h-2zM-9 10h1v1h-1zM8 10h1v1h-1zM-8 11h1v1h-1zM7 11h1v1h-1zM-7 12h1v1h-1zM6 12h1v1h-1zM3 13h1v1h-1z"/><path fill="#020202" d="M-14 1h1v1h-1zM-12 4h1v1h-1zM11 4h1v1h-1zM-9 6h1v1h-1zM8 6h1v1h-1zM7 10h1v1h-1zM5 12h1v1h-1zM-4 13h1v1h-1z"/><path fill="#040404" d="M13 1h1v1h-1zM-10 5h1v1h-1zM9 5h1v1h-1zM-8 7h1v1h-1zM7 7h1v1h-1zM-8 8h1v1h-1zM7 8h1v1h-1zM-8 9h1v1h-1zM7 9h1v1h-1zM-8 10h1v1h-1zM6 11h1v1h-1zM-6 12h1v1h-1zM4 12h1v1h-1zM2 13h1v1h-1z"/><path fill="#060606" d="M-13 2h1v1h-1zM12 2h1v1h-1zM-11 4h1v1h-1zM10 4h1v1h-1zM-9 5h1v1h-1zM8 5h1v1h-1zM-8 6h1v1h-1zM7 6h1v1h-1zM-7 11h1v1h-1zM-5 12h1v1h-1zM-3 13h1v1h-1z"/><path fill="#080808" d="M-14 0h1v1h-1zM-12 3h1v1h-1zM11 3h1v1h-1zM-7 8h1v1h-1zM5 11h1v1h-1zM-4 12h1v1h-1zM3 12h1v1h-1zM-2 13h1v1h-1zM1 13h1v1h-1z"/><path fill="#0a0a0a" d="M13 0h1v1h-1zM-10 4h1v1h-1zM9 4h1v1h-1zM7 5h1v1h-1zM-7 7h1v1h-1zM-7 9h1v1h-1zM-7 10h1v1h-1zM6 10h1v1h-1zM-6 11h1v1h-1zM4 11h1v1h-1zM2 12h1v1h-1zM-1 13h2v1h-2z"/><path fill="#0c0c0c" d="M-13 1h1v1h-1zM12 1h1v1h-1zM-12 2h1v1h-1zM11 2h1v1h-1zM-11 3h1v1h-1zM10 3h1v1h-1zM-9 4h1v1h-1zM8 4h1v1h-1zM-8 5h1v1h-1zM-7 6h1v1h-1zM6 7h1v1h-1zM6 8h1v1h-1zM6 9h1v1h-1zM-5 11h2v1h-2zM3 11h1v1h-1zM-3 12h1v1h-1z"/><path fill="#0e0e0e" d="M-14 -1h1v1h-1zM6 6h1v1h-1zM-6 8h1v1h-1zM-6 9h1v1h-1zM5 10h1v1h-1zM-3 11h1v1h-1zM2 11h1v1h-1zM-2 12h1v1h-1zM1 12h1v1h-1z"/><path fill="#101010" d="M13 -1h1v1h-1zM-10 3h1v1h-1zM9 3h1v1h-1zM7 4h1v1h-1zM-6 7h1v1h-1zM-6 10h3v1h-3zM3 10h2v1h-2zM1 11h1v1h-1zM0 12h1v1h-1z"/><path fill="#121212" d="M-13 0h1v1h-1zM12 0h1v1h-1zM-11 2h1v1h-1zM10 2h1v1h-1zM-9 3h1v1h-1zM8 3h1v1h-1zM-8 4h1v1h-1zM-7 5h1v1h-1zM6 5h1v1h-1zM5 8h1v1h-1zM-5 9h1v1h-1zM5 9h1v1h-1zM-3 10h1v1h-1zM2 10h1v1h-1zM-2 11h1v1h-1zM-1 12h1v1h-1z"/><path fill="#141414" d="M-14 -2h1v1h-1zM-12 1h1v1h-1zM11 1h1v1h-1zM5 7h1v1h-1zM1 10h1v1h-1zM-1 11h2v1h-2z"/><path fill="#161616" d="M13 -2h1v1h-1zM-10 2h1v1h-1zM-6 6h1v1h-1zM-5 8h1v1h-1zM4 9h1v1h-1zM-2 10h3v1h-3z"/><path fill="#181818" d="M-13 -1h1v1h-1zM9 2h1v1h-1zM7 3h1v1h-1zM5 6h1v1h-1zM-4 9h1v1h-1zM3 9h1v1h-1z"/><path fill="#1a1a1a" d="M-14 -3h1v1h-1zM12 -1h1v1h-1zM-11 1h1v1h-1zM10 1h1v1h-1zM-9 2h1v1h-1zM-8 3h1v1h-1zM6 4h1v1h-1zM4 8h1v1h-1z"/><path fill="#1c1c1c" d="M-12 0h1v1h-1zM11 0h1v1h-1zM8 2h1v1h-1zM-7 4h1v1h-1zM-5 7h1v1h-1zM-3 9h1v1h-1zM2 9h1v1h-1z"/><path fill="#1e1e1e" d="M13 -3h1v1h-1zM-10 1h1v1h-1zM-6 5h1v1h-1zM5 5h1v1h-1z"/><path fill="#202020" d="M-13 -2h1v1h-1zM4 7h1v1h-1zM-2 9h1v1h-1zM1 9h1v1h-1z"/><path fill="#222222" d="M-14 -4h1v1h-1zM12 -2h1v1h-1zM9 1h1v1h-1zM-8 2h1v1h-1zM-4 8h1v1h-1zM-1 9h2v1h-2z"/><path fill="#242424" d="M-12 -1h1v1h-1zM11 -1h1v1h-1zM-11 0h1v1h-1zM-9 1h1v1h-1zM7 2h1v1h-1zM-7 3h1v1h-1zM6 3h1v1h-1zM-5 6h1v1h-1zM3 8h1v1h-1z"/><path fill="#262626" d="M-13 -3h1v1h-1zM10 0h1v1h-1zM5 4h1v1h-1zM4 6h1v1h-1z"/><path fill="#282828" d="M13 -4h1v1h-1zM8 1h1v1h-1zM-6 4h1v1h-1z"/><path fill="#2a2a2a" d="M12 -3h1v1h-1z"/><path fill="#2c2c2c" d="M-10 0h1v1h-1zM-8 1h1v1h-1zM-5 5h1v1h-1zM4 5h1v1h-1zM-4 7h1v1h-1zM-3 8h1v1h-1zM2 8h1v1h-1z"/><path fill="#2e2e2e" d="M-13 -4h1v1h-1zM-12 -2h1v1h-1zM11 -2h1v1h-1zM-7 2h1v1h-1zM6 2h1v1h-1zM3 7h1v1h-1z"/><path fill="#303030" d="M-11 -1h1v1h-1zM9 0h1v1h-1zM7 1h1v1h-1z"/><path fill="#323232" d="M10 -1h1v1h-1zM-9 0h1v1h-1zM-6 3h1v1h-1zM5 3h1v1h-1zM-2 8h1v1h-1zM1 8h1v1h-1z"/><path fill="#343434" d="M12 -4h1v1h-1zM0 8h1v1h-1z"/><path fill="#363636" d="M-12 -3h1v1h-1zM-5 4h1v1h-1zM4 4h1v1h-1zM-4 6h1v1h-1zM3 6h1v1h-1zM-1 8h1v1h-1z"/><path fill="#383838" d="M-13 -5h1v1h-1zM11 -3h1v1h-1zM8 0h1v1h-1zM-7 1h1v1h-1z"/><path fill="#3a3a3a" d="M-8 0h1v1h-1z"/><path fill="#3c3c3c" d="M-11 -2h1v1h-1zM-10 -1h1v1h-1zM6 1h1v1h-1zM-6 2h1v1h-1zM-3 7h1v1h-1zM2 7h1v1h-1z"/><path fill="#3e3e3e" d="M-12 -4h1v1h-1zM10 -2h1v1h-1zM5 2h1v1h-1zM-4 5h1v1h-1zM3 5h1v1h-1z"/><path fill="#404040" d="M12 -5h1v1h-1zM9 -1h1v1h-1z"/><path fill="#424242" d="M11 -4h1v1h-1zM7 0h1v1h-1zM-5 3h1v1h-1z"/><path fill="#444444" d="M4 3h1v1h-1zM-2 7h1v1h-1zM1 7h1v1h-1z"/><path fill="#464646" d="M-13 -6h1v1h-1zM-9 -1h1v1h-1zM-7 0h1v1h-1z"/><path fill="#484848" d="M-4 4h1v1h-1zM3 4h1v1h-1zM-3 6h1v1h-1zM2 6h1v1h-1z"/><path fill="#4a4a4a" d="M-12 -5h1v1h-1zM-11 -3h1v1h-1zM-6 1h1v1h-1zM-1 7h2v1h-2z"/><path fill="#4c4c4c" d="M10 -3h1v1h-1zM8 -1h1v1h-1zM5 1h1v1h-1z"/><path fill="#4e4e4e" d="M12 -6h1v1h-1zM-10 -2h1v1h-1zM6 0h1v1h-1zM-5 2h1v1h-1z"/><path fill="#505050" d="M11 -5h1v1h-1zM-8 -1h1v1h-1z"/><path fill="#525252" d="M-13 -7h1v1h-1zM9 -2h1v1h-1zM4 2h1v1h-1zM-3 5h1v1h-1zM2 5h1v1h-1z"/><path fill="#545454" d="M-4 3h1v1h-1zM-2 6h1v1h-1zM1 6h1v1h-1z"/><path fill="#565656" d="M-11 -4h1v1h-1zM3 3h1v1h-1z"/><path fill="#585858" d="M10 -4h1v1h-1zM7 -1h1v1h-1z"/><path fill="#5a5a5a" d="M-12 -6h1v1h-1zM-6 0h1v1h-1zM-1 6h2v1h-2z"/><path fill="#5c5c5c" d="M12 -7h1v1h-1zM-7 -1h1v1h-1zM-5 1h1v1h-1zM-3 4h1v1h-1zM2 4h1v1h-1z"/><path fill="#5e5e5e" d="M5 0h1v1h-1z"/><path fill="#606060" d="M-11 -5h1v1h-1zM-9 -2h1v1h-1zM4 1h1v1h-1zM-4 2h1v1h-1z"/><path fill="#626262" d="M11 -6h1v1h-1zM-10 -3h1v1h-1zM3 2h1v1h-1zM-2 5h1v1h-1zM1 5h1v1h-1z"/><path fill="#646464" d="M10 -5h1v1h-1zM9 -3h1v1h-1zM8 -2h1v1h-1zM-3 3h1v1h-1z"/><path fill="#666666" d="M6 -1h1v1h-1zM2 3h1v1h-1z"/><path fill="#686868" d="M-12 -7h1v1h-1zM-1 5h2v1h-2z"/><path fill="#6c6c6c" d="M-2 4h1v1h-1zM1 4h1v1h-1z"/><path fill="#6e6e6e" d="M-5 0h1v1h-1z"/><path fill="#707070" d="M-12 -8h1v1h-1zM-8 -2h1v1h-1zM4 0h1v1h-1zM-4 1h1v1h-1zM3 1h1v1h-1zM-3 2h1v1h-1zM2 2h1v1h-1z"/><path fill="#727272" d="M11 -7h1v1h-1zM-6 -1h1v1h-1zM-2 3h1v1h-1zM1 3h1v1h-1zM-1 4h2v1h-2z"/><path fill="#747474" d="M5 -13h2v1h-2zM-11 -6h1v1h-1zM-10 -4h1v1h-1z"/><path fill="#767676" d="M3 -14h1v1h-1zM9 -4h1v1h-1zM7 -2h1v1h-1zM5 -1h1v1h-1z"/><path fill="#787878" d="M4 -13h1v1h-1zM-1 3h2v1h-2z"/><path fill="#7a7a7a" d="M2 -14h1v1h-1zM11 -8h1v1h-1zM1 2h1v1h-1z"/><path fill="#7c7c7c" d="M3 -13h1v1h-1zM5 -12h3v1h-3zM10 -6h1v1h-1zM-9 -3h1v1h-1zM-2 2h1v1h-1z"/><path fill="#7e7e7e" d="M8 -3h1v1h-1zM-3 1h1v1h-1zM2 1h1v1h-1z"/><path fill="#808080" d="M1 -14h1v1h-1zM-7 -13h1v1h-1zM4 -12h1v1h-1zM-7 -2h1v1h-1zM-1 2h2v1h-2z"/><path fill="#828282" d="M-4 -14h1v1h-1zM0 -14h1v1h-1zM2 -13h1v1h-1zM-11 -7h1v1h-1zM-4 0h1v1h-1zM3 0h1v1h-1z"/><path fill="#848484" d="M-3 -14h1v1h-1zM-6 -13h1v1h-1zM-10 -5h1v1h-1z"/><path fill="#868686" d="M-2 -14h2v1h-2zM-5 -13h1v1h-1zM-8 -12h1v1h-1zM3 -12h1v1h-1zM-11 -9h1v1h-1zM-11 -8h1v1h-1zM9 -5h1v1h-1zM6 -2h1v1h-1zM-5 -1h1v1h-1z"/><path fill="#888888" d="M1 -13h1v1h-1zM5 -11h2v1h-2zM8 -11h1v1h-1zM4 -1h1v1h-1zM-2 1h1v1h-1zM1 1h1v1h-1z"/><path fill="#8a8a8a" d="M-4 -13h1v1h-1zM-7 -12h1v1h-1zM7 -11h1v1h-1zM10 -7h1v1h-1z"/><path fill="#8c8c8c" d="M-3 -13h1v1h-1zM0 -13h1v1h-1zM-6 -12h1v1h-1zM2 -12h1v1h-1zM10 -9h1v1h-1zM-1 1h2v1h-2z"/><path fill="#8e8e8e" d="M-2 -13h2v1h-2zM-9 -11h1v1h-1zM4 -11h1v1h-1zM10 -8h1v1h-1z"/><path fill="#909090" d="M-5 -12h1v1h-1zM-10 -10h1v1h-1zM9 -10h1v1h-1z"/><path fill="#929292" d="M1 -12h1v1h-1zM-8 -11h1v1h-1zM3 -11h1v1h-1zM-8 -3h1v1h-1zM-3 0h1v1h-1zM2 0h1v1h-1z"/><path fill="#949494" d="M-4 -12h1v1h-1zM-7 -11h1v1h-1zM-10 -6h1v1h-1zM7 -3h1v1h-1zM-6 -2h1v1h-1z"/><path fill="#969696" d="M-3 -12h1v1h-1zM-9 -4h1v1h-1zM8 -4h1v1h-1zM5 -2h1v1h-1z"/><path fill="#989898" d="M-2 -12h1v1h-1zM0 -12h1v1h-1zM-6 -11h1v1h-1zM2 -11h1v1h-1zM8 -10h1v1h-1zM-10 -9h1v1h-1zM-4 -1h1v1h-1zM3 -1h1v1h-1z"/><path fill="#9a9a9a" d="M-1 -12h1v1h-1zM7 -10h1v1h-1zM9 -6h1v1h-1zM-2 0h1v1h-1zM1 0h1v1h-1z"/><path fill="#9c9c9c" d="M-5 -11h1v1h-1zM-9 -10h1v1h-1zM6 -10h1v1h-1zM9 -9h1v1h-1zM-1 0h2v1h-2z"/><path fill="#9e9e9e" d="M1 -11h1v1h-1zM5 -10h1v1h-1zM-10 -8h1v1h-1zM-10 -7h1v1h-1z"/><path fill="#a0a0a0" d="M-4 -11h1v1h-1z"/><path fill="#a2a2a2" d="M-3 -11h1v1h-1zM-8 -10h1v1h-1zM4 -10h1v1h-1z"/><path fill="#a4a4a4" d="M-2 -11h1v1h-1zM0 -11h1v1h-1zM3 -10h1v1h-1zM9 -8h1v1h-1zM9 -7h1v1h-1zM-5 -2h1v1h-1zM2 -1h1v1h-1z"/><path fill="#a6a6a6" d="M-1 -11h1v1h-1zM-7 -10h1v1h-1zM-9 -5h1v1h-1zM-7 -3h1v1h-1zM6 -3h1v1h-1zM4 -2h1v1h-1zM-3 -1h1v1h-1z"/><path fill="#a8a8a8" d="M2 -10h1v1h-1zM-9 -9h1v1h-1zM8 -9h1v1h-1zM8 -5h1v1h-1z"/><path fill="#aaaaaa" d="M-6 -10h1v1h-1zM-2 -1h1v1h-1zM1 -1h1v1h-1z"/><path fill="#acacac" d="M-1 -1h2v1h-2z"/><path fill="#aeaeae" d="M-5 -10h2v1h-2zM1 -10h1v1h-1zM-8 -4h1v1h-1zM7 -4h1v1h-1z"/><path fill="#b0b0b0" d="M-3 -10h1v1h-1zM7 -9h1v1h-1zM-4 -2h1v1h-1zM3 -2h1v1h-1z"/><path fill="#b2b2b2" d="M-2 -10h1v1h-1zM-9 -8h1v1h-1zM-9 -6h1v1h-1z"/><path fill="#b4b4b4" d="M-1 -10h2v1h-2zM-8 -9h1v1h-1zM6 -9h1v1h-1zM8 -8h1v1h-1zM8 -6h1v1h-1zM-6 -3h1v1h-1z"/><path fill="#b6b6b6" d="M5 -9h1v1h-1zM-9 -7h1v1h-1zM5 -3h1v1h-1z"/><path fill="#b8b8b8" d="M3 -9h2v1h-2zM-3 -2h1v1h-1zM2 -2h1v1h-1z"/><path fill="#bababa" d="M-7 -9h1v1h-1zM8 -7h1v1h-1zM-2 -2h4v1h-4z"/><path fill="#bcbcbc" d="M2 -9h1v1h-1z"/><path fill="#bebebe" d="M-6 -9h1v1h-1zM-4 -9h2v1h-2z"/><path fill="#c0c0c0" d="M-5 -9h1v1h-1zM-8 -5h1v1h-1zM7 -5h1v1h-1z"/><path fill="#c2c2c2" d="M1 -9h1v1h-1zM7 -8h1v1h-1zM-7 -4h1v1h-1zM6 -4h1v1h-1zM-5 -3h1v1h-1zM4 -3h1v1h-1z"/><path fill="#c4c4c4" d="M-2 -9h1v1h-1zM-8 -8h1v1h-1z"/><path fill="#c6c6c6" d="M-1 -9h2v1h-2z"/><path fill="#c8c8c8" d="M6 -8h1v1h-1zM-8 -6h1v1h-1zM-4 -3h1v1h-1zM3 -3h1v1h-1z"/><path fill="#cacaca" d="M5 -8h1v1h-1zM7 -6h1v1h-1zM-3 -3h6v1h-6z"/><path fill="#cccccc" d="M-7 -8h1v1h-1zM4 -8h1v1h-1zM-8 -7h1v1h-1zM7 -7h1v1h-1z"/><path fill="#cecece" d="M-6 -8h3v1h-3zM3 -8h1v1h-1zM-6 -4h1v1h-1z"/><path fill="#d0d0d0" d="M-7 -5h1v1h-1zM6 -5h1v1h-1zM5 -4h1v1h-1z"/><path fill="#d2d2d2" d="M-3 -8h1v1h-1zM2 -8h1v1h-1z"/><path fill="#d6d6d6" d="M-2 -8h1v1h-1zM1 -8h1v1h-1zM-7 -7h1v1h-1zM6 -7h1v1h-1zM-7 -6h1v1h-1zM-5 -4h1v1h-1z"/><path fill="#d8d8d8" d="M-6 -7h1v1h-1zM5 -7h1v1h-1zM6 -6h1v1h-1z"/><path fill="#dadada" d="M-1 -8h2v1h-2zM-5 -7h1v1h-1zM-6 -5h1v1h-1zM-4 -4h3v1h-3zM4 -4h1v1h-1z"/><path fill="#dcdcdc" d="M-4 -7h1v1h-1zM4 -7h1v1h-1zM-6 -6h1v1h-1zM5 -5h1v1h-1zM-1 -4h5v1h-5z"/><path fill="#dedede" d="M5 -6h1v1h-1z"/><path fill="#e0e0e0" d="M3 -7h1v1h-1zM-5 -6h1v1h-1zM-5 -5h1v1h-1z"/><path fill="#e2e2e2" d="M-3 -7h1v1h-1z"/><path fill="#e4e4e4" d="M2 -7h1v1h-1zM-4 -6h1v1h-1zM4 -6h1v1h-1zM-4 -5h1v1h-1zM4 -5h1v1h-1z"/><path fill="#e6e6e6" d="M-3 -5h1v1h-1z"/><path fill="#e8e8e8" d="M-2 -7h1v1h-1zM3 -5h1v1h-1z"/><path fill="#eaeaea" d="M1 -7h1v1h-1zM-3 -6h1v1h-1zM3 -6h1v1h-1zM-2 -5h1v1h-1zM2 -5h1v1h-1z"/><path fill="#ececec" d="M-1 -7h2v1h-2zM-1 -5h3v1h-3z"/><path fill="#eeeeee" d="M2 -6h1v1h-1z"/><path fill="#f0f0f0" d="M-2 -6h1v1h-1z"/><path fill="#f2f2f2" d="M1 -6h1v1h-1z"/><path fill="#f4f4f4" d="M-1 -6h2v1h-2z"/></g></g>
<path d="M632.6 1603.6l-6 6.5-6 5.1-6 3.9-15 8-5 3.9-5 5.1-6 7.5-5 7.5-3.7 7.3-6.4 16-3.2 5-3.7 3.6-3 1.9-4 1.7-12 3.4-6 0.6-16 0.3-6-0.5-7-1.8-6-2.5-5-3.5-5.5-7.2-9.5-17-5-8-17-21.4-4-3.8-4-2.8-13-6.8-6-3.7-5-4-4-4.1M632.6 1575.3l-8.6 14.1-7.4 8.5-8 6-17 8.9-4.5 3.6-4.5 4.6-18.7 25.4-3 5-5.3 12-2.7 4-2.3 2.6-4 2.8-6 2.5-7 1.5-7 0.4-7-0.7-6-1.5-5-2.3-3-2.3-5-7-5.5-12-3.5-6-22-31.8-3-3.2-3-2.2-17-7.4-5-3-4-3.2-3.9-4.2-2.9-4-7.2-14.2M632.6 1556.1l-7.5 8.3-7.5 15.3-3.1 4.7-3.5 4-7.4 5.8-16 7.6-9 6.6-6.8 7-15 19-3.8 6-5.4 10.8-3 4-4 3.3-4 2.2-4 1.2-5 0.5-5-0.6-4-1.3-4-2.3-3.1-2.8-3-4-6.3-13-5-8-14.2-18-8.4-9-6-4.3-17-7.2-4-2.6-4.3-3.9-3.2-4-2.3-4-6.2-14.9-8-10.8M574.9 1499.4l4.7 1.3 4 0.4 16-0.8 7 0.4 8 2.2 6 3.7 3 2.9 3 4.1 2 4.2 1.4 4.6 0.6 5 0 5-0.7 5-1.8 6-3.9 8-7.1 10-6.6 13-2.9 4.1-4 4.2-7 5-17.2 8.7-9.8 5.9-16 14-16 11.4-5 2.5-5 0.9-5-1-6-3.4-14-10.6-19.6-16.7-8.4-5.5-14-6.7-5-2.9-5-3.9-4.1-5-2.7-5-4.2-10-7-13-2.3-7-1.3-8 0.3-9 2.3-9.1 4.1-7.9 6-7M533.6 1604.4l-15-0.2-5-0.8-5-1.4-19.8-10.6-22.2-10.9-5-3.2-4.7-3.9-3.3-3.9-2.6-5.1-5.2-13-1.7-7-0.1-6 1-5 2.2-5 3.1-4 5.3-3.9 7-2.7 13-1.9 12-3.1 23-4.6 12-1.2 5 0.4 5 1.2 18 6.6 8 2.1 20 3.1 14 0.9 6 1 5.7 2.1 4.3 3 3 3.7 2 4.4 0.8 4.9-0.5 6-1.8 5-7.5 14.4-2.9 4.6-2.6 3-5.5 4.7-6.8 4.3-25.6 12-12.6 7.1-6 1.9-9 1M565.6 1577.5l-8 0.8-11-0.7-46 0.1-6-0.4-5-0.9-6.8-3-5.4-3-4.1-3-3.7-4-3-4.8-2.1-5.2-0.9-5 0.4-4 1.2-2 1.4-1.2 5-2 6-0.8 23-1.5 19-4.6 8-0.8 9 0.9 20 4.5 28 3.5 3.9 1 2.1 1.1 2.1 2.9 0.2 5-1.8 6-3.5 5.9-4.5 5.1-5.1 4-6.9 4-5.5 2.1" fill="none" stroke="#1a1a1a" stroke-width="0.8" stroke-opacity="0.9"/>
</g>
<use href="#e6" x="528.0" y="1603.8" fill="none" stroke="#111" stroke-width="1.1"/>
<circle cx="528.0" cy="1603.8" r="103.20" fill="none" stroke="#1a1a1a" stroke-width="2.4"/>
<path d="M509.4,1501.6L528.0,1483.6L546.6,1501.6" fill="none" stroke="#1a1a1a" stroke-width="1.7" stroke-linejoin="miter"/>
<path d="M630.6,1592.3 L633.3,1587.8 L634.9,1587.6 L637.4,1588.4 L639.8,1592.3 L639.5,1604.9 L640.9,1623.0 L637.8,1630.9 L633.3,1632.4 L628.9,1628.5" fill="none" stroke="#1a1a1a" stroke-width="1.7" stroke-linejoin="round"/>
<path d="M425.4,1592.3 L422.7,1587.8 L421.1,1587.6 L418.6,1588.4 L416.2,1592.3 L416.5,1604.9 L415.1,1623.0 L418.2,1630.9 L422.7,1632.4 L427.1,1628.5" fill="none" stroke="#1a1a1a" stroke-width="1.7" stroke-linejoin="round"/>
<g clip-path="url(#c13)"><g filter="url(#cm)"><g transform="translate(848.4 1603.7) scale(9.0)" shape-rendering="crispEdges"><path fill="#000000" d="M8 1h1v1h-1zM7 2h3v1h-3zM7 3h3v1h-3zM7 4h3v1h-3zM-10 5h3v1h-3zM8 5h2v1h-2zM-10 6h4v1h-4zM-10 7h4v1h-4zM-9 8h3v1h-3z"/><path fill="#020202" d="M-10 4h2v1h-2zM7 5h1v1h-1zM5 10h1v1h-1z"/><path fill="#040404" d="M-11 5h1v1h-1zM-7 5h1v1h-1zM9 6h1v1h-1zM6 10h1v1h-1z"/><path fill="#060606" d="M9 1h1v1h-1zM-8 4h1v1h-1zM6 4h1v1h-1zM-11 6h1v1h-1zM8 6h1v1h-1zM-8 9h2v1h-2zM2 11h4v1h-4z"/><path fill="#080808" d="M1 11h1v1h-1z"/><path fill="#0a0a0a" d="M-11 4h1v1h-1zM-10 8h1v1h-1zM0 11h1v1h-1z"/><path fill="#0c0c0c" d="M7 1h1v1h-1zM10 5h1v1h-1zM4 10h1v1h-1z"/><path fill="#0e0e0e" d="M6 3h1v1h-1zM6 5h1v1h-1zM-6 9h1v1h-1zM-1 11h1v1h-1zM6 11h1v1h-1z"/><path fill="#101010" d="M10 2h1v1h-1zM10 3h1v1h-1zM10 4h1v1h-1zM10 6h1v1h-1zM-11 7h1v1h-1zM8 7h2v1h-2zM7 9h1v1h-1zM2 10h2v1h-2zM7 10h1v1h-1zM-2 11h1v1h-1z"/><path fill="#121212" d="M-6 8h1v1h-1zM-9 9h1v1h-1zM6 9h1v1h-1zM-6 10h2v1h-2zM-3 11h1v1h-1zM1 12h3v1h-3z"/><path fill="#141414" d="M8 0h1v1h-1zM-10 3h1v1h-1zM-7 4h1v1h-1zM7 6h1v1h-1zM8 8h1v1h-1zM-4 10h2v1h-2zM1 10h1v1h-1zM0 12h1v1h-1z"/><path fill="#161616" d="M-6 7h1v1h-1zM-7 10h1v1h-1zM0 10h1v1h-1zM-4 11h1v1h-1zM4 12h1v1h-1z"/><path fill="#181818" d="M9 0h1v1h-1zM10 1h1v1h-1zM-11 3h1v1h-1zM-9 3h1v1h-1zM7 8h1v1h-1zM8 9h1v1h-1zM-2 10h2v1h-2zM-1 12h1v1h-1z"/><path fill="#1a1a1a" d="M-12 5h1v1h-1zM-6 6h1v1h-1zM10 7h1v1h-1zM9 8h1v1h-1zM-5 9h1v1h-1z"/><path fill="#1c1c1c" d="M-8 3h1v1h-1zM-12 4h1v1h-1zM5 5h1v1h-1zM7 7h1v1h-1zM5 9h1v1h-1zM-5 11h1v1h-1zM-2 12h1v1h-1zM5 12h1v1h-1z"/><path fill="#1e1e1e" d="M7 0h1v1h-1zM6 2h1v1h-1zM7 11h1v1h-1z"/><path fill="#202020" d="M5 4h1v1h-1zM-12 6h1v1h-1zM-8 10h1v1h-1zM8 10h1v1h-1z"/><path fill="#222222" d="M-6 5h1v1h-1zM11 5h1v1h-1z"/><path fill="#242424" d="M8 -1h1v1h-1zM10 0h1v1h-1zM-10 2h1v1h-1zM-12 3h1v1h-1zM-7 3h1v1h-1zM11 3h1v1h-1zM11 4h1v1h-1zM6 6h1v1h-1zM11 6h1v1h-1zM-11 8h1v1h-1zM9 9h1v1h-1zM-6 11h1v1h-1zM-3 12h1v1h-1z"/><path fill="#262626" d="M9 -1h1v1h-1zM-11 2h1v1h-1zM11 2h1v1h-1zM10 8h1v1h-1zM-10 9h1v1h-1zM-4 9h1v1h-1z"/><path fill="#282828" d="M-9 2h1v1h-1zM6 8h1v1h-1z"/><path fill="#2a2a2a" d="M6 1h1v1h-1zM11 1h1v1h-1zM-8 2h1v1h-1z"/><path fill="#2c2c2c" d="M9 -2h1v1h-1zM-6 4h1v1h-1zM-5 8h1v1h-1zM2 9h1v1h-1zM-4 12h1v1h-1z"/><path fill="#2e2e2e" d="M8 -2h1v1h-1zM7 -1h1v1h-1zM10 -1h1v1h-1zM-10 1h1v1h-1zM-12 7h1v1h-1zM11 7h1v1h-1zM-3 9h1v1h-1zM4 9h1v1h-1zM1 13h2v1h-2z"/><path fill="#303030" d="M13 -3h1v1h-1zM-9 1h1v1h-1zM-12 2h1v1h-1zM6 7h1v1h-1zM3 9h1v1h-1zM-9 10h1v1h-1zM-7 11h1v1h-1z"/><path fill="#323232" d="M12 -6h1v1h-1zM9 -3h1v1h-1zM10 -2h1v1h-1zM11 0h1v1h-1zM-7 2h1v1h-1zM1 9h1v1h-1zM0 13h1v1h-1z"/><path fill="#343434" d="M12 -5h1v1h-1zM12 -4h1v1h-1zM8 -3h1v1h-1zM10 -3h1v1h-1zM-11 1h1v1h-1zM-8 1h1v1h-1zM12 2h1v1h-1zM5 3h1v1h-1zM12 3h1v1h-1zM-13 4h1v1h-1zM12 4h1v1h-1zM5 6h1v1h-1z"/><path fill="#363636" d="M11 -3h2v1h-2zM11 -2h1v1h-1zM13 -2h1v1h-1zM11 -1h1v1h-1zM6 0h1v1h-1zM12 1h1v1h-1zM-13 3h1v1h-1zM-13 5h1v1h-1zM12 5h1v1h-1zM-2 9h1v1h-1zM-1 13h1v1h-1z"/><path fill="#383838" d="M11 -4h1v1h-1zM12 -2h1v1h-1zM-9 0h1v1h-1zM0 9h1v1h-1zM-5 12h1v1h-1z"/><path fill="#3a3a3a" d="M11 -8h1v1h-1zM9 -4h2v1h-2zM7 -2h1v1h-1zM12 -1h2v1h-2zM-10 0h1v1h-1zM12 0h1v1h-1zM-6 3h1v1h-1zM-5 7h1v1h-1zM-1 9h1v1h-1z"/><path fill="#3c3c3c" d="M8 -4h1v1h-1zM-8 0h1v1h-1zM13 0h1v1h-1zM-12 1h1v1h-1zM-2 13h1v1h-1z"/><path fill="#3e3e3e" d="M11 -5h1v1h-1zM-7 1h1v1h-1zM13 1h1v1h-1zM-13 2h1v1h-1z"/><path fill="#404040" d="M-11 0h1v1h-1zM13 2h1v1h-1zM4 5h1v1h-1zM-5 6h1v1h-1zM-8 11h1v1h-1z"/><path fill="#424242" d="M-3 -14h1v1h-1zM2 -14h1v1h-1zM7 -3h1v1h-1zM6 -1h1v1h-1zM-5 5h1v1h-1z"/><path fill="#444444" d="M10 -9h1v1h-1zM10 -5h1v1h-1zM-9 -1h1v1h-1z"/><path fill="#464646" d="M11 -7h1v1h-1zM11 -6h1v1h-1zM-10 -1h1v1h-1zM-6 2h1v1h-1zM5 2h1v1h-1zM4 4h1v1h-1zM-4 8h1v1h-1zM5 8h1v1h-1zM-6 12h1v1h-1zM-3 13h1v1h-1z"/><path fill="#484848" d="M-12 0h1v1h-1zM-7 0h1v1h-1zM-13 1h1v1h-1z"/><path fill="#4a4a4a" d="M-2 -14h1v1h-1zM9 -10h1v1h-1zM9 -5h1v1h-1zM7 -4h1v1h-1zM-8 -1h1v1h-1zM-5 4h1v1h-1zM5 7h1v1h-1z"/><path fill="#4c4c4c" d="M1 -14h1v1h-1zM8 -5h1v1h-1zM-11 -1h1v1h-1z"/><path fill="#4e4e4e" d="M7 -12h1v1h-1zM6 -2h1v1h-1zM5 1h1v1h-1zM-14 2h1v1h-1zM4 6h1v1h-1z"/><path fill="#505050" d="M-1 -14h2v1h-2zM5 -13h1v1h-1zM8 -11h1v1h-1zM-13 0h1v1h-1z"/><path fill="#525252" d="M-6 -13h1v1h-1zM-6 1h1v1h-1z"/><path fill="#545454" d="M10 -8h1v1h-1zM7 -5h1v1h-1zM-9 -2h1v1h-1zM-12 -1h1v1h-1zM5 0h1v1h-1zM-14 1h1v1h-1z"/><path fill="#565656" d="M10 -6h1v1h-1zM-10 -2h1v1h-1zM-7 -1h1v1h-1zM-5 3h1v1h-1zM2 8h2v1h-2z"/><path fill="#585858" d="M6 -3h1v1h-1zM4 3h1v1h-1z"/><path fill="#5a5a5a" d="M-8 -12h1v1h-1zM9 -9h1v1h-1zM10 -7h1v1h-1zM-11 -2h1v1h-1zM-13 -1h1v1h-1zM-14 0h1v1h-1zM-3 8h1v1h-1zM4 8h1v1h-1z"/><path fill="#5c5c5c" d="M7 -6h2v1h-2zM-8 -2h1v1h-1zM5 -1h1v1h-1zM-6 0h1v1h-1zM1 8h1v1h-1z"/><path fill="#5e5e5e" d="M9 -6h1v1h-1zM-4 7h1v1h-1zM4 7h1v1h-1z"/><path fill="#606060" d="M4 -13h1v1h-1zM6 -4h1v1h-1zM-12 -2h1v1h-1zM-14 -1h1v1h-1z"/><path fill="#626262" d="M-5 -13h1v1h-1zM-12 -8h1v1h-1zM-13 -2h1v1h-1zM-5 2h1v1h-1z"/><path fill="#646464" d="M8 -10h1v1h-1zM-11 -9h1v1h-1zM9 -8h1v1h-1zM7 -7h1v1h-1zM-14 -2h1v1h-1zM-4 5h1v1h-1zM0 8h1v1h-1z"/><path fill="#666666" d="M-9 -11h1v1h-1zM-10 -10h1v1h-1zM8 -7h2v1h-2zM6 -5h1v1h-1zM-14 -3h1v1h-1zM-10 -3h2v1h-2zM-4 6h1v1h-1zM-2 8h1v1h-1z"/><path fill="#686868" d="M-11 -3h1v1h-1zM-6 -1h1v1h-1zM4 2h1v1h-1zM-4 4h1v1h-1zM-1 8h1v1h-1z"/><path fill="#6a6a6a" d="M6 -12h1v1h-1zM8 -8h1v1h-1zM-13 -6h1v1h-1zM6 -6h1v1h-1zM-13 -3h2v1h-2zM-7 -2h1v1h-1zM5 -2h1v1h-1zM3 5h1v1h-1zM3 6h1v1h-1zM3 7h1v1h-1z"/><path fill="#6c6c6c" d="M-4 -13h1v1h-1zM3 -13h1v1h-1zM8 -9h1v1h-1zM6 -7h1v1h-1z"/><path fill="#6e6e6e" d="M7 -11h1v1h-1zM7 -8h1v1h-1zM-13 -5h1v1h-1zM-13 -4h1v1h-1zM-5 1h1v1h-1zM3 4h1v1h-1z"/><path fill="#707070" d="M-12 -7h1v1h-1zM-8 -3h1v1h-1zM4 1h1v1h-1z"/><path fill="#727272" d="M-7 -12h1v1h-1z"/><path fill="#747474" d="M-12 -4h1v1h-1zM5 -3h1v1h-1zM4 0h1v1h-1zM-4 3h1v1h-1zM2 7h1v1h-1z"/><path fill="#767676" d="M-3 -13h1v1h-1zM2 -13h1v1h-1zM-11 -8h1v1h-1zM6 -8h1v1h-1zM-10 -4h2v1h-2z"/><path fill="#787878" d="M7 -9h1v1h-1zM-12 -6h1v1h-1zM-11 -4h1v1h-1zM-5 0h1v1h-1z"/><path fill="#7a7a7a" d="M7 -10h1v1h-1zM-12 -5h1v1h-1zM-6 -2h1v1h-1zM3 3h1v1h-1z"/><path fill="#7c7c7c" d="M5 -12h1v1h-1zM-10 -9h1v1h-1zM5 -4h1v1h-1zM4 -1h1v1h-1z"/><path fill="#7e7e7e" d="M-2 -13h1v1h-1zM1 -13h1v1h-1zM5 -6h1v1h-1zM5 -5h1v1h-1z"/><path fill="#808080" d="M-8 -11h1v1h-1zM-9 -10h1v1h-1zM-11 -7h1v1h-1zM5 -7h1v1h-1zM-7 -3h1v1h-1zM-4 2h1v1h-1zM-3 7h1v1h-1z"/><path fill="#828282" d="M-6 -12h1v1h-1zM-11 -5h1v1h-1zM-8 -4h1v1h-1zM-5 -1h1v1h-1zM1 7h1v1h-1z"/><path fill="#848484" d="M-1 -13h1v1h-1zM6 -9h1v1h-1zM5 -8h1v1h-1zM-11 -6h1v1h-1zM-10 -5h1v1h-1zM2 6h1v1h-1z"/><path fill="#868686" d="M0 -13h1v1h-1zM-10 -8h1v1h-1zM3 2h1v1h-1z"/><path fill="#888888" d="M4 -12h1v1h-1zM6 -11h1v1h-1zM-9 -5h1v1h-1z"/><path fill="#8a8a8a" d="M4 -2h1v1h-1zM-3 4h1v1h-1zM-3 5h1v1h-1zM2 5h1v1h-1zM-3 6h1v1h-1z"/><path fill="#8c8c8c" d="M-5 -12h1v1h-1zM5 -9h1v1h-1zM-10 -7h1v1h-1zM-10 -6h1v1h-1zM-6 -3h1v1h-1zM-4 1h1v1h-1z"/><path fill="#8e8e8e" d="M3 -12h1v1h-1zM-5 -2h1v1h-1zM3 1h1v1h-1zM-2 7h1v1h-1z"/><path fill="#909090" d="M6 -10h1v1h-1zM-9 -9h1v1h-1zM-3 3h1v1h-1zM2 4h1v1h-1zM0 7h1v1h-1z"/><path fill="#929292" d="M4 -8h1v1h-1zM4 -7h1v1h-1zM-9 -6h1v1h-1zM-8 -5h1v1h-1z"/><path fill="#949494" d="M-4 -12h1v1h-1zM4 -6h1v1h-1zM-7 -4h1v1h-1zM4 -3h1v1h-1zM3 0h1v1h-1zM-1 7h1v1h-1z"/><path fill="#969696" d="M-7 -11h1v1h-1zM4 -9h1v1h-1z"/><path fill="#989898" d="M2 -12h1v1h-1zM5 -11h1v1h-1zM-8 -10h1v1h-1zM-9 -8h1v1h-1zM-9 -7h1v1h-1zM4 -5h1v1h-1zM4 -4h1v1h-1zM-5 -3h1v1h-1zM-4 0h1v1h-1zM2 3h1v1h-1z"/><path fill="#9a9a9a" d="M-3 -12h1v1h-1zM-3 2h1v1h-1z"/><path fill="#9c9c9c" d="M4 -11h1v1h-1zM5 -10h1v1h-1zM-8 -6h1v1h-1zM1 6h1v1h-1z"/><path fill="#9e9e9e" d="M4 -10h1v1h-1zM-6 -4h1v1h-1zM3 -1h1v1h-1zM2 2h1v1h-1z"/><path fill="#a0a0a0" d="M-7 -5h1v1h-1z"/><path fill="#a2a2a2" d="M1 -12h1v1h-1zM3 -11h1v1h-1zM-4 -1h1v1h-1z"/><path fill="#a4a4a4" d="M-2 -12h1v1h-1zM-8 -9h1v1h-1zM-8 -7h1v1h-1zM-2 6h1v1h-1z"/><path fill="#a6a6a6" d="M-6 -11h1v1h-1zM3 -10h1v1h-1zM3 -9h1v1h-1zM-8 -8h1v1h-1zM3 -8h1v1h-1zM3 -7h1v1h-1zM-5 -4h1v1h-1zM-3 1h1v1h-1zM2 1h1v1h-1z"/><path fill="#aaaaaa" d="M-1 -12h2v1h-2zM2 -11h1v1h-1zM-7 -6h1v1h-1zM3 -6h1v1h-1zM-4 -2h1v1h-1zM1 5h1v1h-1z"/><path fill="#acacac" d="M-5 -11h1v1h-1zM-6 -5h1v1h-1zM-2 2h1v1h-1zM-2 3h1v1h-1zM-2 4h1v1h-1zM-2 5h1v1h-1z"/><path fill="#aeaeae" d="M-4 -11h1v1h-1zM-7 -10h1v1h-1zM3 -2h1v1h-1zM1 2h1v1h-1zM1 3h1v1h-1zM1 4h1v1h-1z"/><path fill="#b0b0b0" d="M-7 -7h1v1h-1zM-4 -3h1v1h-1zM2 0h1v1h-1zM0 6h1v1h-1z"/><path fill="#b2b2b2" d="M-3 -11h1v1h-1zM2 -10h1v1h-1z"/><path fill="#b4b4b4" d="M3 -5h1v1h-1zM-3 0h1v1h-1zM-2 1h1v1h-1zM1 1h1v1h-1zM-1 2h1v1h-1zM-1 6h1v1h-1z"/><path fill="#b6b6b6" d="M1 -11h1v1h-1zM-7 -9h1v1h-1zM2 -9h1v1h-1zM-7 -8h1v1h-1zM-5 -5h1v1h-1zM0 2h1v1h-1z"/><path fill="#b8b8b8" d="M-2 -11h1v1h-1zM2 -8h1v1h-1zM-6 -6h1v1h-1zM-4 -4h1v1h-1zM3 -3h1v1h-1zM-1 1h2v1h-2z"/><path fill="#bababa" d="M-6 -10h1v1h-1z"/><path fill="#bcbcbc" d="M3 -4h1v1h-1zM2 -1h1v1h-1zM-1 3h1v1h-1z"/><path fill="#bebebe" d="M0 -11h1v1h-1zM-5 -10h2v1h-2zM1 -10h1v1h-1zM-6 -7h1v1h-1zM2 -7h1v1h-1zM1 0h1v1h-1zM0 3h1v1h-1z"/><path fill="#c0c0c0" d="M-1 -11h1v1h-1zM-3 -10h1v1h-1zM-6 -9h1v1h-1z"/><path fill="#c2c2c2" d="M-6 -8h1v1h-1zM-5 -6h1v1h-1zM-3 -1h1v1h-1zM-2 0h1v1h-1zM0 0h1v1h-1z"/><path fill="#c4c4c4" d="M-2 -10h1v1h-1zM1 -9h1v1h-1zM-4 -5h1v1h-1zM-1 0h1v1h-1zM0 5h1v1h-1z"/><path fill="#c6c6c6" d="M-5 -9h2v1h-2zM-3 -2h1v1h-1zM-1 5h1v1h-1z"/><path fill="#c8c8c8" d="M-1 -10h2v1h-2zM-3 -9h1v1h-1zM-5 -8h1v1h-1zM1 -8h1v1h-1zM-5 -7h1v1h-1zM2 -6h1v1h-1zM-1 4h2v1h-2z"/><path fill="#cccccc" d="M-2 -9h1v1h-1zM0 -9h1v1h-1zM-4 -8h1v1h-1zM-4 -6h1v1h-1zM-3 -3h1v1h-1zM2 -2h1v1h-1zM1 -1h1v1h-1z"/><path fill="#cecece" d="M-1 -9h1v1h-1zM-3 -8h1v1h-1zM-4 -7h1v1h-1z"/><path fill="#d0d0d0" d="M-2 -8h1v1h-1zM0 -8h1v1h-1zM1 -7h1v1h-1zM-3 -4h1v1h-1zM-2 -1h3v1h-3z"/><path fill="#d2d2d2" d="M-1 -8h1v1h-1z"/><path fill="#d4d4d4" d="M-3 -7h1v1h-1zM0 -7h1v1h-1zM-3 -5h1v1h-1zM2 -5h1v1h-1z"/><path fill="#d6d6d6" d="M-2 -7h2v1h-2zM-3 -6h1v1h-1zM-2 -2h1v1h-1z"/><path fill="#dadada" d="M-1 -6h3v1h-3zM-1 -2h1v1h-1z"/><path fill="#dcdcdc" d="M-2 -6h1v1h-1zM2 -4h1v1h-1zM-2 -3h1v1h-1zM2 -3h1v1h-1zM0 -2h2v1h-2z"/><path fill="#dedede" d="M-2 -5h1v1h-1zM-2 -4h1v1h-1z"/><path fill="#e0e0e0" d="M-1 -5h1v1h-1zM-1 -3h1v1h-1z"/><path fill="#e2e2e2" d="M0 -5h1v1h-1zM-1 -4h1v1h-1z"/><path fill="#e4e4e4" d="M1 -5h1v1h-1zM0 -3h1v1h-1z"/><path fill="#e8e8e8" d="M0 -4h1v1h-1z"/><path fill="#eaeaea" d="M1 -3h1v1h-1z"/><path fill="#ececec" d="M1 -4h1v1h-1z"/></g></g>
<path d="M746.1 1506l6.5-4.6M937.1 1501.4l14 13.4M932.4 1659.4l3.1-2 1.6-3-0.4-12 1-11-0.5-4-2-5-3.1-3.4-4-2-2-0.3-3 0.3-3 1.3-2 1.4-2 2.2-2.3 3.5-2.1 5-1.8 6-0.8 5 0.2 3 1.1 3 1.6 2 9.1 6.7 6 3.1 3 0.6 2.3-0.4M787.8 1685.4l2-2 1.3-3 1-5.8 0.4-6.2-1-9-1.4-4-1.8-3-2.2-2.5-3-2.2-6.3-2.3-4.7-0.7-5-0.1-4 0.6-3 1.4-2 1.8-1.8 3-1 6 0.4 4 1.2 4 3.7 7 3.2 4 3.3 3 7 4.5 4 1.6 4 0.8 3 0 2.7-0.9M746.1 1515.2l17.8-13.8M927.3 1501.4l12.4 12 11.4 13.6M951.1 1617.9l-3.5-6.5-6.5-9.3-4-4.2-4-2.5-4-0.5-4 1.1-5 3-5 4.6-3 3.8-3 5.4-2.1 5.6-2.9 10-8 15.1-2.3 6.9 0.1 3 1.5 3 2.7 2.5 7 4.5 2.7 3 1.8 5-0.5 5-1.5 3-1.6 2-5.3 4-8.6 4.1-7 1.4-14-0.7-18 2.4-13 0.5-8-1.2-13-3.1-4-1.4-3-1.7-2.8-2.3-3.5-5-1.8-6-2.6-16-2.5-9-3.9-8-2.9-4.1-3-3.1-3-2.1-3-1.4-7-2.2-7-2.9-5-1-5 0.3-5 1.6-4 2.2-4 3.3M921.6 1706.4l6.6-7 14.9-18.3 4.8-6.7 3.2-5.7M746.1 1670.8l3.6 5.6 4 5 4.9 5 5.5 4.6 6 4.1 7 4 16.3 7.3M746.1 1527.8l16.9-16.4 13.2-10M916.4 1501.4l5.5 5 5.3 6 14.2 20 4.8 9 1 4 0.2 4-0.8 3-1.1 2-3.4 3-6 2.1-12 0.6-4 1.1-3.9 3.2-2.7 5-4.8 14-8.7 20-5.3 23-6.9 14-2.1 7-0.4 6 1.2 6 2.6 4.6 6 7 1.4 3.4 0.1 2-0.5 2-1.4 2-1.4 1-5.2 0.9-11-1.1-6 0-19 2.8-10 0.5-12-1.4-5-1.3-4-1.8-4.4-3.6-2.6-4.3-1.6-6.7-0.7-15-1.8-7-13.9-32.1-3-5.6-3-3.9-5-4.1-5.9-3.3-5.1-1.9-5-0.8-5 0.4-5 1.5-6 2.8-7 4.4M746.1 1685.3l6 6.1 6 5.1 7 5.1 7.7 4.8M936.6 1706.4l14.5-14.9M746.1 1554.2l3.3-6.8 6.7-11 6.1-9 6.3-8 5.6-6 5.7-5 5.8-4 5.6-3M902 1501.4l6.1 4 3.1 3 2.2 3 1.6 3 1.3 4 0.4 3-0.4 3-1.2 2.7-1.9 2.3-9.1 7.3-2.7 4.7-0.8 4-1.8 23-1.1 7-2.9 10-6.5 17-3.8 22-5 12-2 6-1.3 6-1.8 15-1.3 3-1.6 2-2.8 2-4.1 2-10.5 3.2-10 1.2-6-0.3-6-0.9-4-1.2-3-1.8-2-3.2-1-4 0-17-1.8-9-7.6-19-5.8-18-2.4-5-2.4-3.9-4-4.3-11.7-7.8-9.3-8.2-3-2-6-1.2-10 0.6-5-0.3-4-1.5-3-3M746.1 1695.2l7 6 7 5.2M949.3 1706.4l1.8-1.7M864.4 1501.4l6.1 3 8.4 5 3.6 3 1.1 2-0.1 3-2.2 11-0.2 11 1 13 2.8 9 0.9 5 0.3 5-0.3 5-0.9 6-1.4 5-6.2 16-8.8 25-1.7 7-3 18-1.2 4-2.5 4-4 3.3-5 2.2-5 0.7-4-0.4-4-1.4-3-2.4-1.7-3-0.9-5-0.7-20-1.1-7-1.5-4-7.1-11.8-2.8-6.2-2.4-8-4.1-17-1.5-4-1.6-2-2.6-1.9-10.4-5.1-4.6-4.4-5.1-6.6-4.4-7-2.8-6-1.4-6 0.5-7 2.8-8 4.8-7 5.6-5 4-2.2 5-1.8 20-3.3 9.5-2.7M746.1 1703.3l3.9 3.1M840.1 1603.4l-3 0-3-0.7-2.2-1.3-1.8-2.5-7-29.5-2.2-6-6.3-14-1.2-4-0.3-3 1-3.8 2.1-2.2 10.9-4.3 14-9.1 3-1 2-0.1 2 0.4 2 1.1 3 3.1 15 23.8 3 6.7 3.8 10.4 1 5 0.1 5-0.9 5-2.6 6-4.4 6.3-4 3.8-3 1.7-3 1-10 0.6-8 1.6M849.1 1652.4l-2 0-1-0.5-1.1-1.5-0.5-2 0.8-3 0.8-1.1 2-0.9 1 0 1.6 1 1.3 3-0.6 3-2.3 2" fill="none" stroke="#1a1a1a" stroke-width="0.8" stroke-opacity="0.9"/>
</g>
<use href="#e7" x="848.4" y="1603.7" fill="none" stroke="#111" stroke-width="1.1"/>
<circle cx="848.4" cy="1603.7" r="101.10" fill="none" stroke="#1a1a1a" stroke-width="2.4"/>
<path d="M830.2,1503.6L848.4,1485.9L866.6,1503.6" fill="none" stroke="#1a1a1a" stroke-width="1.7" stroke-linejoin="miter"/>
<path d="M948.9,1592.5 L951.5,1588.0 L953.1,1587.9 L955.5,1588.6 L958.0,1592.5 L957.6,1604.8 L959.0,1622.5 L956.0,1630.2 L951.5,1631.7 L947.3,1627.9" fill="none" stroke="#1a1a1a" stroke-width="1.7" stroke-linejoin="round"/>
<path d="M747.9,1592.5 L745.3,1588.0 L743.7,1587.9 L741.3,1588.6 L738.8,1592.5 L739.2,1604.8 L737.8,1622.5 L740.8,1630.2 L745.3,1631.7 L749.5,1627.9" fill="none" stroke="#1a1a1a" stroke-width="1.7" stroke-linejoin="round"/>
<g clip-path="url(#c14)"><g filter="url(#cm)"><g transform="translate(1152.7 1603.7) scale(9.0)" shape-rendering="crispEdges"><path fill="#080808" d="M8 3h1v1h-1z"/><path fill="#0e0e0e" d="M8 4h1v1h-1zM-9 5h1v1h-1zM-9 6h2v1h-2z"/><path fill="#101010" d="M8 2h1v1h-1z"/><path fill="#121212" d="M7 3h1v1h-1zM7 4h1v1h-1zM-10 5h1v1h-1zM-8 5h1v1h-1zM-9 7h2v1h-2z"/><path fill="#141414" d="M9 3h1v1h-1zM8 5h1v1h-1zM-10 6h1v1h-1z"/><path fill="#161616" d="M-10 4h2v1h-2zM9 4h1v1h-1z"/><path fill="#181818" d="M9 2h1v1h-1zM9 5h1v1h-1z"/><path fill="#1a1a1a" d="M-11 4h1v1h-1zM-11 5h1v1h-1zM7 5h1v1h-1zM-7 6h1v1h-1zM9 6h1v1h-1zM-10 7h1v1h-1zM-8 8h1v1h-1zM5 11h2v1h-2z"/><path fill="#1c1c1c" d="M7 2h1v1h-1zM-10 3h1v1h-1zM-8 4h1v1h-1zM-7 5h1v1h-1zM8 6h1v1h-1zM10 6h1v1h-1zM-7 7h1v1h-1zM9 7h1v1h-1zM-9 8h1v1h-1zM6 10h2v1h-2z"/><path fill="#1e1e1e" d="M10 5h1v1h-1zM8 7h1v1h-1zM10 7h1v1h-1zM8 8h3v1h-3zM8 9h2v1h-2zM8 10h1v1h-1zM3 11h2v1h-2zM7 11h1v1h-1z"/><path fill="#202020" d="M-11 3h1v1h-1zM-9 3h1v1h-1zM10 3h1v1h-1zM10 4h1v1h-1zM-11 6h1v1h-1zM11 6h1v1h-1zM11 7h1v1h-1zM-7 8h1v1h-1zM7 9h1v1h-1zM5 10h1v1h-1zM2 11h1v1h-1zM3 12h3v1h-3z"/><path fill="#222222" d="M13 -3h1v1h-1zM11 5h2v1h-2zM7 6h1v1h-1zM-8 9h2v1h-2zM1 11h1v1h-1zM2 12h1v1h-1z"/><path fill="#242424" d="M13 -2h1v1h-1zM8 1h1v1h-1zM10 2h1v1h-1zM13 2h1v1h-1zM6 4h1v1h-1zM11 4h2v1h-2zM6 5h1v1h-1zM0 11h1v1h-1zM1 12h1v1h-1z"/><path fill="#262626" d="M13 -1h1v1h-1zM13 0h1v1h-1zM9 1h1v1h-1zM13 1h1v1h-1zM-10 2h1v1h-1zM11 3h1v1h-1zM-12 4h1v1h-1zM-7 4h1v1h-1zM7 7h1v1h-1zM-10 8h1v1h-1zM7 8h1v1h-1zM6 9h1v1h-1zM4 10h1v1h-1zM-3 11h3v1h-3zM0 12h1v1h-1z"/><path fill="#282828" d="M-11 2h1v1h-1zM-12 3h1v1h-1zM-8 3h1v1h-1zM12 3h1v1h-1zM-6 9h1v1h-1zM-6 10h1v1h-1zM-4 11h1v1h-1zM-1 12h1v1h-1z"/><path fill="#2a2a2a" d="M-9 2h1v1h-1zM11 2h2v1h-2zM-12 5h1v1h-1zM-11 7h1v1h-1zM-9 9h1v1h-1zM-7 10h1v1h-1zM-5 10h1v1h-1zM2 10h2v1h-2zM-2 12h1v1h-1z"/><path fill="#2c2c2c" d="M7 1h1v1h-1zM10 1h1v1h-1zM12 1h1v1h-1zM6 3h1v1h-1zM-4 10h2v1h-2zM0 10h2v1h-2zM-5 11h1v1h-1zM2 13h1v1h-1z"/><path fill="#2e2e2e" d="M12 -3h1v1h-1zM-10 1h1v1h-1zM11 1h1v1h-1zM-12 2h1v1h-1zM-6 5h1v1h-1zM-6 6h1v1h-1zM6 6h1v1h-1zM-6 7h1v1h-1zM-6 8h1v1h-1zM-2 10h2v1h-2zM-3 12h1v1h-1zM1 13h1v1h-1z"/><path fill="#303030" d="M12 -4h1v1h-1zM12 -2h1v1h-1zM12 -1h1v1h-1zM12 0h1v1h-1zM-11 1h1v1h-1zM-9 1h1v1h-1zM-8 2h1v1h-1zM-12 6h1v1h-1zM5 9h1v1h-1zM-8 10h1v1h-1zM-6 11h1v1h-1z"/><path fill="#323232" d="M-7 3h1v1h-1zM6 8h1v1h-1zM-5 9h1v1h-1zM-4 12h1v1h-1zM0 13h1v1h-1z"/><path fill="#343434" d="M12 -5h1v1h-1zM11 0h1v1h-1zM5 5h1v1h-1zM6 7h1v1h-1zM-1 13h1v1h-1z"/><path fill="#363636" d="M11 -3h1v1h-1zM11 -2h1v1h-1zM8 0h3v1h-3zM-12 1h1v1h-1zM-8 1h1v1h-1z"/><path fill="#383838" d="M11 -4h1v1h-1zM11 -1h1v1h-1zM-11 0h3v1h-3zM6 2h1v1h-1zM-13 3h1v1h-1zM-13 4h1v1h-1zM-6 4h1v1h-1zM-11 8h1v1h-1zM-10 9h1v1h-1zM-7 11h1v1h-1zM-5 12h1v1h-1zM-2 13h1v1h-1z"/><path fill="#3a3a3a" d="M12 -6h1v1h-1zM10 -3h1v1h-1zM7 0h1v1h-1zM-13 2h1v1h-1zM5 4h1v1h-1z"/><path fill="#3c3c3c" d="M10 -2h1v1h-1zM10 -1h1v1h-1zM-12 0h1v1h-1zM-8 0h1v1h-1zM-7 2h1v1h-1zM-12 7h1v1h-1zM-4 9h1v1h-1zM-9 10h1v1h-1z"/><path fill="#3e3e3e" d="M10 -4h1v1h-1zM9 -3h1v1h-1zM9 -2h1v1h-1zM9 -1h1v1h-1zM-13 1h1v1h-1zM-13 5h1v1h-1zM5 6h1v1h-1zM4 9h1v1h-1zM-3 13h1v1h-1z"/><path fill="#404040" d="M-11 -1h2v1h-2zM-7 1h1v1h-1zM6 1h1v1h-1zM-5 8h1v1h-1zM-6 12h1v1h-1z"/><path fill="#424242" d="M11 -5h1v1h-1zM9 -4h1v1h-1zM-12 -1h1v1h-1zM-9 -1h1v1h-1zM8 -1h1v1h-1zM-13 0h1v1h-1zM-3 9h1v1h-1zM2 9h2v1h-2zM-8 11h1v1h-1z"/><path fill="#444444" d="M8 -3h1v1h-1zM8 -2h1v1h-1zM7 -1h1v1h-1zM-7 0h1v1h-1zM1 9h1v1h-1z"/><path fill="#464646" d="M-8 -1h1v1h-1zM6 0h1v1h-1zM-6 3h1v1h-1zM5 8h1v1h-1zM0 9h1v1h-1z"/><path fill="#484848" d="M8 -4h1v1h-1zM-12 -2h3v1h-3zM-13 -1h1v1h-1zM-14 2h1v1h-1zM5 3h1v1h-1zM-5 5h1v1h-1zM-5 6h1v1h-1zM-5 7h1v1h-1zM-2 9h2v1h-2z"/><path fill="#4a4a4a" d="M10 -5h1v1h-1zM-14 1h1v1h-1zM5 7h1v1h-1z"/><path fill="#4c4c4c" d="M-13 -2h1v1h-1zM-9 -2h1v1h-1zM7 -2h1v1h-1zM-14 0h1v1h-1z"/><path fill="#4e4e4e" d="M11 -6h1v1h-1zM-12 -3h1v1h-1zM-14 -1h1v1h-1zM6 -1h1v1h-1z"/><path fill="#505050" d="M-13 -6h1v1h-1zM-13 -3h1v1h-1zM-11 -3h1v1h-1zM-14 -2h1v1h-1zM-7 -1h1v1h-1zM-6 2h1v1h-1zM-5 4h1v1h-1zM4 5h1v1h-1z"/><path fill="#525252" d="M-3 -14h1v1h-1zM-13 -5h1v1h-1zM9 -5h1v1h-1zM-13 -4h1v1h-1zM-14 -3h1v1h-1zM-10 -3h1v1h-1zM7 -3h1v1h-1z"/><path fill="#545454" d="M-12 -8h1v1h-1zM11 -8h1v1h-1zM-12 -7h1v1h-1zM-12 -4h1v1h-1zM-6 1h1v1h-1zM5 2h1v1h-1z"/><path fill="#565656" d="M11 -7h1v1h-1zM-12 -6h1v1h-1zM-12 -5h1v1h-1zM8 -5h1v1h-1zM-8 -2h1v1h-1zM-6 0h1v1h-1zM4 4h1v1h-1zM4 6h1v1h-1zM-4 8h1v1h-1z"/><path fill="#585858" d="M-11 -4h1v1h-1zM7 -4h1v1h-1zM-9 -3h1v1h-1zM4 8h1v1h-1z"/><path fill="#5a5a5a" d="M-2 -14h1v1h-1z"/><path fill="#5c5c5c" d="M2 -14h1v1h-1zM-10 -4h1v1h-1zM6 -2h1v1h-1zM5 1h1v1h-1z"/><path fill="#5e5e5e" d="M-1 -14h1v1h-1zM1 -14h1v1h-1zM-6 -13h1v1h-1zM-11 -9h1v1h-1zM-11 -6h1v1h-1zM-11 -5h1v1h-1zM4 7h1v1h-1zM3 8h1v1h-1z"/><path fill="#606060" d="M0 -14h1v1h-1zM-11 -7h1v1h-1zM5 0h1v1h-1zM-5 3h1v1h-1z"/><path fill="#626262" d="M-11 -8h1v1h-1zM10 -6h1v1h-1zM7 -5h1v1h-1zM-6 -1h1v1h-1z"/><path fill="#646464" d="M-5 -13h1v1h-1zM10 -9h1v1h-1zM-9 -4h1v1h-1zM2 8h1v1h-1z"/><path fill="#666666" d="M-8 -12h1v1h-1zM-10 -5h1v1h-1zM-8 -3h1v1h-1zM-7 -2h1v1h-1zM4 3h1v1h-1zM-4 5h1v1h-1z"/><path fill="#686868" d="M5 -1h1v1h-1zM-4 7h1v1h-1zM-3 8h1v1h-1zM1 8h1v1h-1z"/><path fill="#6a6a6a" d="M-4 -13h1v1h-1zM-10 -10h1v1h-1zM-10 -6h1v1h-1zM8 -6h1v1h-1zM6 -3h1v1h-1zM-4 6h1v1h-1zM0 8h1v1h-1z"/><path fill="#6c6c6c" d="M10 -8h1v1h-1zM10 -7h1v1h-1zM7 -6h1v1h-1zM9 -6h1v1h-1z"/><path fill="#6e6e6e" d="M-9 -11h1v1h-1zM9 -10h1v1h-1zM-5 2h1v1h-1zM-2 8h2v1h-2z"/><path fill="#707070" d="M-3 -13h1v1h-1zM-10 -7h1v1h-1zM-4 4h1v1h-1zM3 5h1v1h-1zM3 7h1v1h-1z"/><path fill="#727272" d="M5 -13h1v1h-1zM-10 -9h1v1h-1zM-9 -5h1v1h-1zM-5 0h1v1h-1zM-5 1h1v1h-1zM3 6h1v1h-1z"/><path fill="#747474" d="M-7 -12h1v1h-1zM-10 -8h1v1h-1zM7 -7h1v1h-1zM6 -4h1v1h-1zM5 -2h1v1h-1zM4 2h1v1h-1z"/><path fill="#767676" d="M4 -13h1v1h-1zM7 -12h1v1h-1zM8 -11h1v1h-1zM9 -9h1v1h-1zM8 -7h1v1h-1z"/><path fill="#787878" d="M3 -13h1v1h-1zM9 -7h1v1h-1zM6 -5h1v1h-1zM-8 -4h1v1h-1zM3 4h1v1h-1z"/><path fill="#7a7a7a" d="M-2 -13h1v1h-1zM2 -13h1v1h-1zM9 -8h1v1h-1z"/><path fill="#7c7c7c" d="M-6 -12h1v1h-1zM6 -6h1v1h-1zM-6 -2h1v1h-1zM4 1h1v1h-1z"/><path fill="#7e7e7e" d="M1 -13h1v1h-1zM-9 -10h1v1h-1zM-7 -3h1v1h-1zM-5 -1h1v1h-1z"/><path fill="#808080" d="M-1 -13h1v1h-1zM-5 -12h1v1h-1zM-8 -11h1v1h-1zM8 -8h1v1h-1zM6 -7h1v1h-1zM-9 -6h1v1h-1zM4 0h1v1h-1zM2 7h1v1h-1z"/><path fill="#828282" d="M0 -13h1v1h-1zM8 -10h1v1h-1zM7 -8h1v1h-1zM5 -3h1v1h-1zM-4 3h1v1h-1z"/><path fill="#848484" d="M-4 -12h1v1h-1zM8 -9h1v1h-1z"/><path fill="#868686" d="M6 -12h1v1h-1zM3 3h1v1h-1zM-3 7h1v1h-1z"/><path fill="#888888" d="M-3 -12h1v1h-1zM4 -1h1v1h-1z"/><path fill="#8a8a8a" d="M-9 -9h1v1h-1zM-9 -7h1v1h-1zM-8 -5h1v1h-1zM1 7h1v1h-1z"/><path fill="#8c8c8c" d="M7 -11h1v1h-1zM-3 5h1v1h-1zM-3 6h1v1h-1zM2 6h1v1h-1z"/><path fill="#8e8e8e" d="M2 -12h2v1h-2zM-7 -11h1v1h-1zM-9 -8h1v1h-1zM6 -8h1v1h-1zM5 -4h1v1h-1z"/><path fill="#909090" d="M5 -12h1v1h-1zM7 -9h1v1h-1zM-4 2h1v1h-1zM2 5h1v1h-1zM-2 7h1v1h-1zM0 7h1v1h-1z"/><path fill="#929292" d="M-2 -12h1v1h-1zM4 -12h1v1h-1zM-8 -10h1v1h-1zM-7 -4h1v1h-1zM-1 7h1v1h-1z"/><path fill="#949494" d="M1 -12h1v1h-1zM7 -10h1v1h-1zM4 -2h1v1h-1zM3 2h1v1h-1zM-3 4h1v1h-1z"/><path fill="#969696" d="M-6 -11h1v1h-1zM5 -5h1v1h-1z"/><path fill="#989898" d="M5 -6h1v1h-1zM-4 1h1v1h-1z"/><path fill="#9a9a9a" d="M-1 -12h1v1h-1zM-5 -11h2v1h-2zM5 -7h1v1h-1zM-8 -6h1v1h-1zM-6 -3h1v1h-1zM-5 -2h1v1h-1zM2 4h1v1h-1z"/><path fill="#9c9c9c" d="M0 -12h1v1h-1zM-3 -11h1v1h-1zM2 -11h1v1h-1zM-4 0h1v1h-1z"/><path fill="#9e9e9e" d="M3 -11h1v1h-1zM6 -11h1v1h-1zM6 -9h1v1h-1zM3 1h1v1h-1z"/><path fill="#a0a0a0" d="M-8 -9h1v1h-1zM4 -3h1v1h-1zM1 6h1v1h-1z"/><path fill="#a2a2a2" d="M-7 -10h1v1h-1zM5 -8h1v1h-1zM-2 6h1v1h-1z"/><path fill="#a4a4a4" d="M-2 -11h1v1h-1zM1 -11h1v1h-1zM-7 -5h1v1h-1zM-3 3h1v1h-1z"/><path fill="#a6a6a6" d="M4 -11h1v1h-1zM6 -10h1v1h-1zM-8 -8h1v1h-1zM-8 -7h1v1h-1zM3 0h1v1h-1zM2 3h1v1h-1z"/><path fill="#a8a8a8" d="M5 -11h1v1h-1zM-4 -1h1v1h-1z"/><path fill="#aaaaaa" d="M5 -9h1v1h-1zM4 -4h1v1h-1z"/><path fill="#acacac" d="M-1 -11h2v1h-2zM-6 -10h1v1h-1zM2 -10h2v1h-2z"/><path fill="#aeaeae" d="M-6 -4h1v1h-1zM3 -1h1v1h-1zM-2 5h1v1h-1zM1 5h1v1h-1zM0 6h1v1h-1z"/><path fill="#b0b0b0" d="M-5 -10h2v1h-2zM4 -10h2v1h-2zM-1 6h1v1h-1z"/><path fill="#b2b2b2" d="M-3 -10h1v1h-1zM1 -10h1v1h-1zM-7 -9h1v1h-1zM4 -9h1v1h-1zM-7 -6h1v1h-1zM-3 2h1v1h-1z"/><path fill="#b4b4b4" d="M4 -8h1v1h-1zM2 2h1v1h-1zM-2 4h1v1h-1z"/><path fill="#b6b6b6" d="M4 -5h1v1h-1zM1 4h1v1h-1z"/><path fill="#b8b8b8" d="M-2 -10h1v1h-1zM3 -9h1v1h-1zM4 -7h1v1h-1zM-5 -3h1v1h-1zM3 -2h1v1h-1z"/><path fill="#bababa" d="M0 -10h1v1h-1zM-7 -8h1v1h-1zM4 -6h1v1h-1zM-6 -5h1v1h-1zM-3 1h1v1h-1z"/><path fill="#bcbcbc" d="M-1 -10h1v1h-1zM-6 -9h1v1h-1zM2 -9h1v1h-1zM-7 -7h1v1h-1zM-4 -2h1v1h-1zM-2 3h1v1h-1z"/><path fill="#bebebe" d="M2 1h1v1h-1zM1 3h1v1h-1z"/><path fill="#c0c0c0" d="M-5 -9h1v1h-1z"/><path fill="#c2c2c2" d="M-6 -6h1v1h-1zM3 -3h1v1h-1z"/><path fill="#c4c4c4" d="M-4 -9h1v1h-1zM1 -9h1v1h-1zM3 -8h1v1h-1zM-3 0h1v1h-1zM0 5h1v1h-1z"/><path fill="#c6c6c6" d="M-3 -9h1v1h-1zM-6 -8h1v1h-1zM-2 2h1v1h-1zM1 2h1v1h-1zM-1 5h1v1h-1z"/><path fill="#c8c8c8" d="M-6 -7h1v1h-1zM2 0h1v1h-1zM-1 2h2v1h-2z"/><path fill="#cacaca" d="M-2 -9h1v1h-1zM0 -9h1v1h-1zM-5 -4h1v1h-1zM-1 3h2v1h-2z"/><path fill="#cccccc" d="M-1 -9h1v1h-1zM-5 -8h1v1h-1zM2 -8h1v1h-1zM3 -4h1v1h-1zM-1 4h1v1h-1z"/><path fill="#cecece" d="M-5 -7h1v1h-1zM-5 -6h1v1h-1zM-5 -5h1v1h-1zM-2 1h1v1h-1zM1 1h1v1h-1zM0 4h1v1h-1z"/><path fill="#d0d0d0" d="M-4 -8h1v1h-1zM3 -7h1v1h-1zM-3 -1h1v1h-1z"/><path fill="#d2d2d2" d="M-4 -3h1v1h-1zM2 -1h1v1h-1zM-1 1h2v1h-2z"/><path fill="#d4d4d4" d="M1 -8h1v1h-1zM3 -5h1v1h-1z"/><path fill="#d6d6d6" d="M-3 -8h1v1h-1zM-4 -7h1v1h-1z"/><path fill="#d8d8d8" d="M3 -6h1v1h-1z"/><path fill="#dadada" d="M-2 -8h1v1h-1zM0 -8h1v1h-1zM-4 -6h1v1h-1zM-3 -2h1v1h-1zM2 -2h1v1h-1zM-2 0h1v1h-1zM1 0h1v1h-1z"/><path fill="#dcdcdc" d="M-1 -8h1v1h-1zM2 -7h1v1h-1z"/><path fill="#dedede" d="M-4 -5h1v1h-1zM-4 -4h1v1h-1z"/><path fill="#e0e0e0" d="M-3 -7h1v1h-1zM-1 0h2v1h-2z"/><path fill="#e4e4e4" d="M1 -7h1v1h-1zM2 -3h1v1h-1zM1 -1h1v1h-1z"/><path fill="#e6e6e6" d="M2 -6h1v1h-1zM-3 -3h1v1h-1zM-2 -1h1v1h-1z"/><path fill="#e8e8e8" d="M-2 -7h3v1h-3zM-3 -6h1v1h-1zM2 -4h1v1h-1z"/><path fill="#eaeaea" d="M2 -5h1v1h-1zM-1 -1h2v1h-2z"/><path fill="#ececec" d="M-3 -5h1v1h-1zM-3 -4h1v1h-1zM-2 -2h1v1h-1zM1 -2h1v1h-1z"/><path fill="#eeeeee" d="M1 -6h1v1h-1z"/><path fill="#f0f0f0" d="M-2 -6h1v1h-1zM0 -6h1v1h-1zM-2 -3h1v1h-1zM-1 -2h2v1h-2z"/><path fill="#f2f2f2" d="M-1 -6h1v1h-1zM-2 -4h1v1h-1zM-1 -3h2v1h-2z"/><path fill="#f4f4f4" d="M-2 -5h1v1h-1zM1 -5h1v1h-1zM-1 -4h1v1h-1zM1 -3h1v1h-1z"/><path fill="#f6f6f6" d="M-1 -5h2v1h-2zM0 -4h2v1h-2z"/></g></g>
<path d="M1050.4 1502.1l1-0.7M1247.7 1501.4l7.7 8.9M1255.4 1627.9l-5.6-5.5-3.9-3-4.5-2.4-5-1.6-5-0.6-5 0.6-4 1.7-3.4 3.3-2.9 5-5.6 14-2 6-0.7 4 0.4 3 0.9 2 5.4 7 2.8 5 1.4 5 0 4-1.1 4-1.6 3-2.7 3-4.1 3-12.8 7.3-7 2.4-15 0.8-29 3.4-6-0.1-11-1.2-5 0.2-4 1-1 1 0.2 1.2 1.8 2M1050.4 1655.3l3.9 9.1 5 8 6.1 7.2 7 6.1 9 5.8 11 5 9 2.5 3 0.1 2.2-0.7 0.3-2-4.5-10.1-1.5-5.9-0.3-7 0.8-14-0.5-5-2.4-6-4.1-5.7-7-7-11-8.2-4-2.5-4-1.4-6-0.2-5 1.7-4 3.1-3 4.3M1242.5 1706.4l12.9-8.2M1050.4 1522.3l3.9-5.9 5-6 5-5 4.9-4M1237.1 1501.4l5.6 6 4.7 6 4.7 7 3.3 6M1255.4 1557.3l-5 3.6-20 7.5-3 1.9-1.5 2.1-2.9 12-1.9 5-2.9 4-5.8 6.3-2 3.4-1.6 5.3-3.7 18-1.7 4-6.4 12-2.2 6-0.6 4 0.4 4 1.4 4 5.3 11 0.5 4-0.5 3-1.9 3-2 1.5-4 1.7-5 1.1-24 1.7-24 0.8-6-0.6-7-1.4-4-1.3-4-2.2-4-4.3-1.4-3-0.8-3-0.4-6 0.8-12-0.8-5-1.6-4-6.1-11-2.6-6-1.7-6-2.1-13-1.1-3-1.8-3-2.4-2.5-4-2.7-14-7.6-6-2.7-9-2.2-10 0M1050.4 1681.4l6 6.9 6.3 6.1 7.2 6 8.2 6M1224.5 1501.4l5.1 5 4.7 6 4.3 7 3.9 8 2.6 7 1.1 5 0.1 5-1.2 4-2.7 3.4-3 1.1-4-0.3-9-2-4-0.1-3 1.6-2 3-2.3 6.3-4 16-8.7 16-2.5 6-1.6 6-1.8 13-1.4 6-2.3 6-5.5 12-1.7 5-1 7 0.7 14-0.8 3-1.1 1.8-4 2.9-6 1.6-14 1.5-18 0.8-7-0.4-5-1.3-3.3-1.9-2.4-3-1-3-0.5-3 0.9-13-0.4-5-1.7-5-6.1-12-2.3-6-1-6-0.5-13-0.9-4-1.7-3-2.5-3-17.1-16-8.5-11.1-7-7.9-2.8-5-4.4-13-1.3-6-0.2-6 1.1-6 2.4-6 3.9-6 4.3-4.7 5.2-4.3 6.7-4M1050.4 1695.9l11.5 10.5M1205.5 1501.4l6.9 3.3 3.3 2.7 2.5 3 1.8 3 1.2 4 0.2 3-0.5 3-2.5 4.1-9.3 8.9-2 3-1.3 3-1.3 6-1.4 15-1.4 7-10.1 26-1.6 6-2.1 13-1.7 7-2.1 6-6.8 16-3.5 14-1.4 4-3.1 4-4.9 2.6-7 1.6-9 0.7-6-0.3-4-0.8-3-1.5-1.9-2.3-1.1-4-1-11-1-5-1.9-5-5.8-12-1.6-5-0.9-5-1.2-13-1.6-6.1-4-6.3-10.4-10.6-5.3-6-12.7-19-4.8-9-1.6-5-0.8-5 0.5-8 2.4-7 4.7-6.7 6.2-5.3 4.8-2.7 6-2 7-1.2 17-0.9 4-1.1 6.7-3.1M1172.9 1501.4l5.5 0.9 7.8-0.9M1155.4 1660.5l-4 0.4-4-0.9-3-2.1-1.8-2.5-1.3-3-4-14-7-14-5.3-22-2.6-7-3.8-6-7.9-9-2.9-4-9-17-6-10-2-4-0.5-3 0.3-4 0.8-3 1.9-4 2.1-3 3-2.9 6-3.4 6-1.3 19-1.1 5.8-1.3 12.2-3.8 6-0.4 5 1.3 15 6.9 14 3.9 2.6 2.1 1.6 3 1.8 8.2 1 10.8-0.3 8-1.4 7-4.2 12-9.1 34.9-3.9 12.1-6.3 13-5.9 17-3.5 4-4.4 2.1M1156.4 1613.4l-7 0.3-4.2-0.3-3.8-1.5-3-2.4-3-3.9-1.8-3.2-2.9-9-2.3-5-8.4-12-2.2-5-0.6-5 0.4-5 2.8-8 2.4-9 2-3 2.6-2.3 4-2.3 4-1.4 7-1.2 7-0.1 7 1 8 2.4 8 3.3 5 3 4 3.9 2.4 4.7 0.3 3-0.5 4-4.2 18.8-7.1 23.2-2.9 4.8-4 4.1-4 2.2-5 0.9" fill="none" stroke="#1a1a1a" stroke-width="0.8" stroke-opacity="0.9"/>
</g>
<use href="#e7" x="1152.7" y="1603.7" fill="none" stroke="#111" stroke-width="1.1"/>
<circle cx="1152.7" cy="1603.7" r="101.10" fill="none" stroke="#1a1a1a" stroke-width="2.4"/>
<path d="M1134.5,1503.6L1152.7,1485.9L1170.9,1503.6" fill="none" stroke="#1a1a1a" stroke-width="1.7" stroke-linejoin="miter"/>
<path d="M1253.2,1592.5 L1255.8,1588.0 L1257.4,1587.9 L1259.8,1588.6 L1262.3,1592.5 L1261.9,1604.8 L1263.3,1622.5 L1260.3,1630.2 L1255.8,1631.7 L1251.6,1627.9" fill="none" stroke="#1a1a1a" stroke-width="1.7" stroke-linejoin="round"/>
<path d="M1052.2,1592.5 L1049.6,1588.0 L1048.0,1587.9 L1045.6,1588.6 L1043.1,1592.5 L1043.5,1604.8 L1042.1,1622.5 L1045.1,1630.2 L1049.6,1631.7 L1053.8,1627.9" fill="none" stroke="#1a1a1a" stroke-width="1.7" stroke-linejoin="round"/>
<g clip-path="url(#c15)"><g filter="url(#cm)"><g transform="translate(209.8 1844.2) scale(9.0)" shape-rendering="crispEdges"><path fill="#000000" d="M-4 -13h8v1h-8zM-6 -12h11v1h-11zM-6 -11h12v1h-12z"/><path fill="#020202" d="M5 -12h1v1h-1z"/><path fill="#060606" d="M-5 -13h1v1h-1zM-7 -11h1v1h-1z"/><path fill="#080808" d="M-1 -14h2v1h-2zM4 -13h1v1h-1z"/><path fill="#0a0a0a" d="M-2 -14h1v1h-1zM1 -14h1v1h-1zM-6 -10h1v1h-1z"/><path fill="#0e0e0e" d="M4 -10h1v1h-1z"/><path fill="#101010" d="M-7 -12h1v1h-1zM-5 -10h1v1h-1zM5 -10h1v1h-1z"/><path fill="#121212" d="M-3 -14h1v1h-1zM2 -14h1v1h-1zM3 -10h1v1h-1z"/><path fill="#141414" d="M-6 -13h1v1h-1zM-7 -10h1v1h-1zM-4 -10h1v1h-1z"/><path fill="#161616" d="M6 -11h1v1h-1zM2 -10h1v1h-1z"/><path fill="#181818" d="M5 -13h1v1h-1zM-3 -10h1v1h-1z"/><path fill="#1a1a1a" d="M-2 -10h4v1h-4z"/><path fill="#1c1c1c" d="M6 -12h1v1h-1z"/><path fill="#242424" d="M-8 -11h1v1h-1z"/><path fill="#282828" d="M6 -10h1v1h-1z"/><path fill="#2c2c2c" d="M-8 -10h1v1h-1z"/><path fill="#303030" d="M-8 -12h1v1h-1zM2 13h1v1h-1z"/><path fill="#343434" d="M-6 -9h1v1h-1z"/><path fill="#363636" d="M-7 -9h1v1h-1z"/><path fill="#383838" d="M4 -9h1v1h-1z"/><path fill="#3a3a3a" d="M7 -11h1v1h-1zM-5 -9h1v1h-1zM3 -9h1v1h-1z"/><path fill="#3c3c3c" d="M-4 -9h1v1h-1zM-3 13h1v1h-1z"/><path fill="#3e3e3e" d="M7 -12h1v1h-1zM5 -9h1v1h-1zM5 12h1v1h-1zM1 13h1v1h-1z"/><path fill="#404040" d="M2 -9h1v1h-1zM13 2h1v1h-1zM12 5h1v1h-1zM7 11h1v1h-1z"/><path fill="#424242" d="M-3 -9h1v1h-1zM-8 11h1v1h-1z"/><path fill="#444444" d="M-8 -9h1v1h-1zM11 7h1v1h-1zM-2 13h1v1h-1z"/><path fill="#464646" d="M-9 -11h1v1h-1zM-9 -10h1v1h-1zM-2 -9h1v1h-1zM1 -9h1v1h-1zM-12 7h1v1h-1zM0 13h1v1h-1z"/><path fill="#484848" d="M7 -10h1v1h-1zM-1 -9h2v1h-2zM-11 8h1v1h-1zM-10 9h1v1h-1zM-9 10h1v1h-1zM-6 12h1v1h-1zM-1 13h1v1h-1z"/><path fill="#4a4a4a" d="M13 1h1v1h-1zM12 4h1v1h-1z"/><path fill="#4e4e4e" d="M12 3h1v1h-1zM10 8h1v1h-1zM8 10h1v1h-1z"/><path fill="#505050" d="M6 -9h1v1h-1zM9 9h1v1h-1z"/><path fill="#525252" d="M12 2h1v1h-1zM4 12h1v1h-1z"/><path fill="#545454" d="M-13 5h1v1h-1z"/><path fill="#565656" d="M-9 -9h1v1h-1zM13 0h1v1h-1z"/><path fill="#585858" d="M12 1h1v1h-1zM11 6h1v1h-1z"/><path fill="#5c5c5c" d="M-12 6h1v1h-1zM-5 12h1v1h-1z"/><path fill="#5e5e5e" d="M8 -11h1v1h-1zM-7 -8h1v1h-1z"/><path fill="#606060" d="M-6 -8h1v1h-1zM13 -1h1v1h-1zM-11 7h1v1h-1zM6 11h1v1h-1zM3 12h1v1h-1z"/><path fill="#626262" d="M12 0h1v1h-1zM11 1h1v1h-1zM11 2h1v1h-1zM-13 4h1v1h-1zM-10 8h1v1h-1zM-7 11h1v1h-1z"/><path fill="#646464" d="M-10 -10h1v1h-1zM-8 -8h1v1h-1zM-5 -8h1v1h-1zM11 3h1v1h-1zM11 5h1v1h-1z"/><path fill="#666666" d="M8 -10h1v1h-1zM-14 2h1v1h-1zM11 4h1v1h-1z"/><path fill="#686868" d="M7 -9h1v1h-1zM4 -8h1v1h-1zM13 -2h1v1h-1zM-9 9h1v1h-1z"/><path fill="#6a6a6a" d="M-10 -9h1v1h-1zM-4 -8h1v1h-1zM12 -1h1v1h-1zM11 0h1v1h-1zM10 7h1v1h-1zM-8 10h1v1h-1z"/><path fill="#6c6c6c" d="M-9 -8h1v1h-1zM3 -8h1v1h-1zM10 1h1v1h-1zM-13 3h1v1h-1zM-12 5h1v1h-1zM-4 12h1v1h-1zM2 12h1v1h-1z"/><path fill="#6e6e6e" d="M5 -8h1v1h-1zM13 -3h1v1h-1zM10 0h1v1h-1z"/><path fill="#707070" d="M-3 -8h1v1h-1zM12 -2h1v1h-1zM-14 1h1v1h-1zM10 2h1v1h-1zM9 8h1v1h-1zM7 10h1v1h-1z"/><path fill="#727272" d="M-13 2h1v1h-1zM-11 6h1v1h-1z"/><path fill="#747474" d="M2 -8h1v1h-1zM12 -3h1v1h-1zM11 -1h1v1h-1zM-12 4h1v1h-1zM-10 7h1v1h-1zM8 9h1v1h-1z"/><path fill="#787878" d="M-10 -8h1v1h-1zM-2 -8h1v1h-1zM12 -4h1v1h-1zM11 -2h1v1h-1zM-14 0h1v1h-1zM10 3h1v1h-1zM5 11h1v1h-1zM-3 12h1v1h-1zM1 12h1v1h-1z"/><path fill="#7a7a7a" d="M1 -8h1v1h-1zM11 -4h1v1h-1zM11 -3h1v1h-1zM10 -1h1v1h-1zM-13 1h1v1h-1zM-12 3h1v1h-1zM-9 8h1v1h-1z"/><path fill="#7c7c7c" d="M8 -9h1v1h-1zM-1 -8h2v1h-2zM10 6h1v1h-1zM-6 11h1v1h-1z"/><path fill="#7e7e7e" d="M-14 -1h1v1h-1zM9 0h1v1h-1zM9 1h1v1h-1zM-12 2h1v1h-1zM10 4h1v1h-1zM-11 5h1v1h-1z"/><path fill="#808080" d="M-11 -9h1v1h-1zM6 -8h1v1h-1zM11 -5h2v1h-2zM10 -2h1v1h-1zM-13 0h1v1h-1zM-2 12h1v1h-1z"/><path fill="#828282" d="M9 -10h1v1h-1zM10 -4h1v1h-1zM10 -3h1v1h-1zM-12 1h1v1h-1zM-10 6h1v1h-1zM0 12h1v1h-1z"/><path fill="#848484" d="M-11 -8h1v1h-1zM-8 -7h2v1h-2zM10 -5h1v1h-1zM-13 -1h1v1h-1zM9 2h1v1h-1zM-11 4h1v1h-1zM10 5h1v1h-1zM-1 12h1v1h-1z"/><path fill="#868686" d="M-14 -2h1v1h-1zM9 -1h1v1h-1zM-11 3h1v1h-1zM-9 7h1v1h-1zM-8 9h1v1h-1zM4 11h1v1h-1z"/><path fill="#888888" d="M-9 -7h1v1h-1zM-6 -7h1v1h-1zM-12 0h1v1h-1zM-11 2h1v1h-1zM9 7h1v1h-1z"/><path fill="#8a8a8a" d="M-10 -7h1v1h-1zM11 -6h2v1h-2zM-14 -3h1v1h-1zM-13 -2h1v1h-1zM-7 10h1v1h-1z"/><path fill="#8c8c8c" d="M9 -9h1v1h-1zM-11 -7h1v1h-1zM-5 -7h1v1h-1zM-12 -5h1v1h-1zM-13 -3h1v1h-1zM-11 1h1v1h-1zM-10 3h1v1h-1zM9 3h1v1h-1zM-10 4h1v1h-1zM-10 5h1v1h-1zM8 8h1v1h-1z"/><path fill="#8e8e8e" d="M-12 -6h1v1h-1zM-13 -4h1v1h-1zM9 -2h1v1h-1zM-12 -1h1v1h-1zM-10 2h1v1h-1zM-9 6h1v1h-1zM6 10h1v1h-1zM-5 11h1v1h-1z"/><path fill="#909090" d="M7 -8h1v1h-1zM-12 -7h1v1h-1zM4 -7h1v1h-1zM-11 -6h1v1h-1zM-13 -5h1v1h-1zM-12 -4h1v1h-1zM3 11h1v1h-1z"/><path fill="#929292" d="M-12 -8h1v1h-1zM-4 -7h1v1h-1zM5 -7h1v1h-1zM10 -6h1v1h-1zM-11 -5h1v1h-1zM-12 -3h1v1h-1zM9 -3h1v1h-1zM-12 -2h1v1h-1zM-11 0h1v1h-1zM-9 3h1v1h-1zM-9 4h1v1h-1zM-9 5h1v1h-1zM-8 8h1v1h-1zM7 9h1v1h-1z"/><path fill="#949494" d="M-13 -6h1v1h-1zM9 -4h1v1h-1zM8 0h1v1h-1zM-10 1h1v1h-1z"/><path fill="#969696" d="M8 -8h1v1h-1zM11 -7h1v1h-1zM9 -5h1v1h-1zM8 1h1v1h-1zM-9 2h1v1h-1zM9 4h1v1h-1zM2 11h1v1h-1z"/><path fill="#989898" d="M10 -9h1v1h-1zM9 -8h1v1h-1zM8 -1h1v1h-1zM-8 6h1v1h-1zM9 6h1v1h-1zM-8 7h1v1h-1z"/><path fill="#9a9a9a" d="M10 -8h1v1h-1zM10 -7h1v1h-1zM-10 -6h1v1h-1zM-11 -1h1v1h-1z"/><path fill="#9c9c9c" d="M3 -7h1v1h-1zM-11 -4h1v1h-1zM-10 0h1v1h-1zM8 2h1v1h-1zM-8 5h1v1h-1zM-4 11h1v1h-1z"/><path fill="#9e9e9e" d="M11 -8h1v1h-1zM-3 -7h1v1h-1zM8 -2h1v1h-1zM-8 3h1v1h-1zM-8 4h1v1h-1zM9 5h1v1h-1zM8 7h1v1h-1z"/><path fill="#a0a0a0" d="M9 -6h1v1h-1zM-11 -2h1v1h-1zM-9 1h1v1h-1zM1 11h1v1h-1z"/><path fill="#a2a2a2" d="M9 -7h1v1h-1zM-9 -6h1v1h-1zM-11 -3h1v1h-1zM-8 2h1v1h-1zM8 3h1v1h-1zM-7 9h1v1h-1zM-6 10h1v1h-1z"/><path fill="#a4a4a4" d="M-8 -6h2v1h-2zM8 -3h1v1h-1zM7 8h1v1h-1zM5 10h1v1h-1zM-3 11h1v1h-1z"/><path fill="#a6a6a6" d="M2 -7h1v1h-1zM6 -7h1v1h-1zM-10 -5h1v1h-1zM-10 -1h1v1h-1z"/><path fill="#a8a8a8" d="M-2 -7h1v1h-1zM-6 -6h1v1h-1zM8 4h1v1h-1zM8 6h1v1h-1zM-2 11h1v1h-1zM0 11h1v1h-1z"/><path fill="#aaaaaa" d="M8 -7h1v1h-1zM5 -6h1v1h-1zM8 -4h1v1h-1zM7 -1h1v1h-1zM-9 0h1v1h-1zM7 0h1v1h-1zM-7 8h1v1h-1zM6 9h1v1h-1z"/><path fill="#acacac" d="M-1 -7h1v1h-1zM1 -7h1v1h-1zM-5 -6h1v1h-1zM7 1h1v1h-1zM8 5h1v1h-1zM-7 6h1v1h-1zM-7 7h1v1h-1zM4 10h1v1h-1zM-1 11h1v1h-1z"/><path fill="#aeaeae" d="M0 -7h1v1h-1zM8 -5h1v1h-1zM7 -2h1v1h-1zM-8 1h1v1h-1zM7 7h1v1h-1z"/><path fill="#b0b0b0" d="M7 -7h1v1h-1zM4 -6h1v1h-1zM8 -6h1v1h-1zM-7 3h1v1h-1zM-7 5h1v1h-1zM3 10h1v1h-1z"/><path fill="#b2b2b2" d="M-4 -6h1v1h-1zM7 -3h1v1h-1zM-10 -2h1v1h-1zM-7 2h1v1h-1zM7 2h1v1h-1zM-7 4h1v1h-1zM7 6h1v1h-1zM-5 10h1v1h-1zM2 10h1v1h-1z"/><path fill="#b4b4b4" d="M6 -6h1v1h-1zM-10 -4h1v1h-1z"/><path fill="#b6b6b6" d="M-9 -1h1v1h-1zM7 3h1v1h-1zM7 5h1v1h-1zM6 8h1v1h-1zM1 10h1v1h-1z"/><path fill="#b8b8b8" d="M-7 -5h2v1h-2zM7 -4h1v1h-1zM-10 -3h1v1h-1zM7 4h1v1h-1zM-6 9h1v1h-1zM0 10h1v1h-1z"/><path fill="#bababa" d="M7 -6h1v1h-1zM-9 -5h1v1h-1zM7 -5h1v1h-1zM6 -2h1v1h-1zM6 -1h1v1h-1zM-7 1h1v1h-1zM-4 10h1v1h-1zM-1 10h1v1h-1z"/><path fill="#bcbcbc" d="M5 -5h2v1h-2zM6 -3h1v1h-1zM-8 0h1v1h-1zM6 0h1v1h-1zM6 7h1v1h-1zM-6 8h1v1h-1zM5 9h1v1h-1z"/><path fill="#bebebe" d="M-8 -5h1v1h-1zM6 -4h1v1h-1zM-6 2h1v1h-1zM6 6h1v1h-1zM-2 10h1v1h-1z"/><path fill="#c0c0c0" d="M-7 -4h1v1h-1zM-5 0h1v1h-1zM-6 1h1v1h-1zM6 1h1v1h-1zM-6 7h1v1h-1zM-3 10h1v1h-1z"/><path fill="#c2c2c2" d="M-3 -6h1v1h-1zM3 -6h1v1h-1zM-5 -5h1v1h-1zM-6 -4h1v1h-1zM-5 -1h1v1h-1zM-6 3h1v1h-1zM5 8h1v1h-1zM-1 9h2v1h-2zM4 9h1v1h-1z"/><path fill="#c4c4c4" d="M5 -4h1v1h-1zM-9 -2h1v1h-1zM-5 1h1v1h-1zM6 5h1v1h-1zM-5 9h1v1h-1z"/><path fill="#c6c6c6" d="M4 -5h1v1h-1zM-6 0h1v1h-1zM6 2h1v1h-1zM-6 6h1v1h-1zM1 9h1v1h-1z"/><path fill="#c8c8c8" d="M5 -3h1v1h-1zM5 -2h1v1h-1zM5 -1h1v1h-1zM-7 0h1v1h-1zM-4 0h1v1h-1zM-6 4h1v1h-1zM6 4h1v1h-1zM5 7h1v1h-1zM2 9h2v1h-2z"/><path fill="#cacaca" d="M-4 -5h1v1h-1zM-8 -1h1v1h-1zM-4 -1h1v1h-1zM5 0h1v1h-1zM-5 2h1v1h-1zM6 3h1v1h-1zM-5 8h1v1h-1zM-1 8h1v1h-1zM-2 9h1v1h-1z"/><path fill="#cccccc" d="M2 -6h1v1h-1zM-7 -3h2v1h-2zM0 8h1v1h-1zM4 8h1v1h-1zM-4 9h1v1h-1z"/><path fill="#cecece" d="M-2 -6h1v1h-1zM-9 -4h1v1h-1zM-9 -3h1v1h-1zM-6 -1h1v1h-1zM-4 1h1v1h-1zM-6 5h1v1h-1zM-1 7h1v1h-1zM-3 9h1v1h-1z"/><path fill="#d0d0d0" d="M-1 -6h3v1h-3zM-8 -4h1v1h-1zM-5 -4h1v1h-1zM4 -4h1v1h-1zM-5 -2h1v1h-1zM5 1h1v1h-1zM-5 3h1v1h-1zM5 6h1v1h-1zM-5 7h1v1h-1zM-2 8h1v1h-1z"/><path fill="#d2d2d2" d="M-8 -2h1v1h-1zM-6 -2h1v1h-1zM0 7h1v1h-1z"/><path fill="#d4d4d4" d="M-3 -5h1v1h-1zM3 -5h1v1h-1zM-8 -3h1v1h-1zM4 -3h1v1h-1zM-4 -2h1v1h-1zM-7 -1h1v1h-1zM-4 2h1v1h-1zM5 2h1v1h-1zM5 4h1v1h-1zM5 5h1v1h-1zM-1 6h1v1h-1z"/><path fill="#d6d6d6" d="M-5 -3h1v1h-1zM-7 -2h1v1h-1zM4 -2h1v1h-1zM4 -1h1v1h-1zM-3 0h1v1h-1zM5 3h1v1h-1zM-5 4h1v1h-1zM-2 7h1v1h-1zM-4 8h1v1h-1z"/><path fill="#d8d8d8" d="M-4 -4h1v1h-1zM-3 -1h1v1h-1zM4 0h1v1h-1zM-3 1h1v1h-1zM-4 3h1v1h-1zM-5 6h1v1h-1zM-2 6h1v1h-1zM4 7h1v1h-1zM-3 8h1v1h-1zM1 8h1v1h-1z"/><path fill="#dadada" d="M2 -5h1v1h-1zM3 -4h1v1h-1zM-3 -2h1v1h-1zM4 1h1v1h-1zM4 2h1v1h-1zM3 3h2v1h-2zM-4 4h1v1h-1zM1 4h4v1h-4zM-5 5h1v1h-1zM-2 5h2v1h-2zM0 6h1v1h-1zM-4 7h1v1h-1zM3 8h1v1h-1z"/><path fill="#dcdcdc" d="M-2 -5h1v1h-1zM-3 -4h1v1h-1zM2 -4h1v1h-1zM-4 -3h5v1h-5zM3 -3h1v1h-1zM-2 -2h1v1h-1zM-3 2h1v1h-1zM-3 3h1v1h-1zM1 3h2v1h-2zM-3 4h2v1h-2zM0 4h1v1h-1zM-4 5h2v1h-2zM0 5h1v1h-1zM4 5h1v1h-1zM-3 6h1v1h-1zM-3 7h1v1h-1z"/><path fill="#dedede" d="M-1 -5h3v1h-3zM-2 -4h4v1h-4zM1 -3h2v1h-2zM-1 -2h1v1h-1zM-2 -1h2v1h-2zM-2 0h1v1h-1zM3 2h1v1h-1zM0 3h1v1h-1zM-1 4h1v1h-1zM1 5h1v1h-1zM-4 6h1v1h-1zM4 6h1v1h-1z"/><path fill="#e0e0e0" d="M0 -2h1v1h-1zM-2 1h1v1h-1zM-2 2h1v1h-1zM2 2h1v1h-1zM-2 3h2v1h-2zM3 5h1v1h-1zM2 8h1v1h-1z"/><path fill="#e2e2e2" d="M3 -2h1v1h-1zM-1 0h1v1h-1zM3 1h1v1h-1zM-1 2h3v1h-3zM2 5h1v1h-1z"/><path fill="#e4e4e4" d="M0 -1h1v1h-1zM-1 1h1v1h-1zM1 7h1v1h-1z"/><path fill="#e6e6e6" d="M3 -1h1v1h-1zM3 0h1v1h-1zM0 1h1v1h-1zM1 6h1v1h-1z"/><path fill="#e8e8e8" d="M1 -2h2v1h-2zM0 0h1v1h-1zM1 1h2v1h-2zM3 7h1v1h-1z"/><path fill="#eaeaea" d="M3 6h1v1h-1z"/><path fill="#eeeeee" d="M2 6h1v1h-1z"/><path fill="#f0f0f0" d="M1 -1h1v1h-1zM1 0h1v1h-1zM2 7h1v1h-1z"/><path fill="#f2f2f2" d="M2 -1h1v1h-1zM2 0h1v1h-1z"/></g></g>
<path d="M156.7 1742.4l-1.7 2.7-0.8 2.3 0 4 1.8 3 2 1.3 2 0.4 19-3.2 12-0.8 39 0 19 2.6 7 0 3.2-1.3 1.8-3 0.1-4-1.7-4M312 1930.1l-8.6 8.3-9.6 8M124.7 1946.4l-16.7-14M143.1 1742.4l-1.8 5-0.4 4 0.6 4 1.5 3 2.7 3 3.3 2.1 4 1.4 5 0.5 33-3.1 15-0.6 18 0.4 24 2.6 10-0.6 4-1.2 3.1-1.5 2.9-2.1 2.6-2.9 1.6-3 1.1-4 0-3-0.8-4M312 1921.1l-12.5 13.3-6.8 6-7.7 6M134.4 1946.4l-10.7-9-15.7-14.9M133 1742.4l-2.4 6-0.9 6 0.5 5 2.1 5 3.8 4 5.2 3 6.7 1.9 7 0.5 41-4 11-0.6 15 0.4 26 2.9 5-0.1 5-0.8 6-1.9 6-2.8 5.3-3.5 3.7-3.5 2.8-4.5 1.2-4 0.2-4-0.9-5M144.7 1946.4l-6.2-5-6.3-6-24.2-26.1M312 1908.7l-6.8 9.7-9.8 11-10.8 10-9.5 7M123.8 1742.4l-4.1 9-1.9 8 0 8 0.7 3 1.4 3 4 4 6.1 2.8 9 2.1 10 0.8 23-2 22-3.7 13-1.2 18 0.7 26 3.7 4-0.1 3-0.7 23-9.8 4.5-2.6 3.6-3 3.3-5 1.3-5-0.2-6-1.6-6M312 1826.4l-1.3 5-1.5 3-2.2 2.7-5 3.9-2.2 2.4-2.2 4-0.9 4 0.1 4 1 5 7.9 23 1.3 5 0.1 7-2 7-3.1 5.8-4 5.7-15.3 17.5-10.2 9-4.6 3-6.2 3M157.1 1946.4l-4.8-3-4.3-3.4-7.9-8.6-12.1-18.1-12.9-15.9-3.7-7-3.4-9.2M114.8 1742.4l-6.8 12.2M312 1769.2l-6-17.8-4-9M180.1 1946.4l-12.1-3.9-8.1-4.1-2.9-2.1-2.8-2.9-3.9-7-1.6-5-0.8-5-0.3-6 0.3-11-2.7-11-0.4-14-1-5-2.8-5-8.2-10-12.1-16-2.8-5-1.7-5-0.5-5 1-6 2-5 6.5-12 1.8-2.2 2-1.5 5-1.9 5-0.5 14-0.2 10-1.7 10-1 5-1.2 13-4.5 9-1.6 15-0.6 15 1.1 11 2.2 13 5.2 3 0.5 2-0.4 2-1 7.3-6.7 4.7-2.4 4-0.7 5-0.1 8 1.3 2 0.9 2.2 2 1 2 0.2 3-4.3 12-2.9 16-6.3 18-1.1 6-0.4 6 0.9 9 2.6 11 2.7 9 5.7 15 0.2 3-0.8 3-2.6 5-15.3 23-4.8 6-4 3.5-4.5 2.5-5.5 1.9-21 3.7-9.7 2.4M190 1931.7l-4 0.6-5-0.9-4.6-2-3.5-3-1.9-3.1-8-18.6-2.3-6.3-1-4 0.3-5 2.6-7 7.4-15 7.1-11 2.4-5 0.9-6-0.2-3-1-3-2.2-2.9-2-1.4-3-0.8-3 0.2-2.3 0.9-2.6 2-5.1 6.7-2 1.8-2 0.9-2 0.2-4-1.3-4.5-4.3-10.5-15.2-1.7-3.8-0.7-3-0.2-3 0.6-3 1-2.1 2-2 2-0.8 3 0.1 2 0.9 2 1.9 3.9 7 2.1 2.3 3 1.7 4 0.4 2-0.7 2.4-1.7 5.6-8.6 3.5-3.4 11.5-6.4 8.3-5.6 3.7-1.8 10-1.4 18-0.3 6 0.5 7.4 2 5.9 3 7.2 7 4.9 6 2.5 6 1.1 7 0.2 14 0.7 6 2.6 9 5.5 13.3 1 4.7 0.1 7-0.7 7-1.2 6-2.4 8-2.6 7-2.7 5-8.4 12-4.1 3.2-4 1.4-4 0.5-7 0-5-0.8-3.5-1.3-3.4-2-3.7-3-4.4-4.5-2-1.1-1 0.1-2 1.4-9.3 11.1-2.7 2-3 1.3" fill="none" stroke="#1a1a1a" stroke-width="0.8" stroke-opacity="0.9"/>
</g>
<use href="#e8" x="209.8" y="1844.2" fill="none" stroke="#111" stroke-width="1.1"/>
<circle cx="209.8" cy="1844.2" r="100.60" fill="none" stroke="#1a1a1a" stroke-width="2.4"/>
<path d="M191.7,1744.6L209.8,1727.0L227.9,1744.6" fill="none" stroke="#1a1a1a" stroke-width="1.7" stroke-linejoin="miter"/>
<path d="M309.8,1833.0 L312.4,1828.6 L314.0,1828.4 L316.4,1829.2 L318.8,1833.0 L318.4,1845.3 L319.9,1863.0 L316.8,1870.6 L312.4,1872.0 L308.2,1868.3" fill="none" stroke="#1a1a1a" stroke-width="1.7" stroke-linejoin="round"/>
<path d="M109.8,1833.0 L107.2,1828.6 L105.6,1828.4 L103.2,1829.2 L100.8,1833.0 L101.2,1845.3 L99.7,1863.0 L102.8,1870.6 L107.2,1872.0 L111.4,1868.3" fill="none" stroke="#1a1a1a" stroke-width="1.7" stroke-linejoin="round"/>
<g clip-path="url(#c16)"><g filter="url(#cm)"><g transform="translate(529.4 1844.6) scale(9.0)" shape-rendering="crispEdges"><path fill="#000000" d="M8 6h1v1h-1zM8 7h1v1h-1z"/><path fill="#020202" d="M7 6h1v1h-1zM9 6h1v1h-1zM7 7h1v1h-1z"/><path fill="#040404" d="M8 5h1v1h-1zM9 7h1v1h-1z"/><path fill="#060606" d="M9 5h1v1h-1zM10 6h1v1h-1zM7 8h2v1h-2z"/><path fill="#080808" d="M7 5h1v1h-1zM-9 6h1v1h-1zM10 7h1v1h-1zM9 8h1v1h-1z"/><path fill="#0a0a0a" d="M13 1h1v1h-1zM13 2h1v1h-1zM-10 5h2v1h-2zM10 5h1v1h-1zM-10 6h1v1h-1zM-8 6h1v1h-1zM11 6h1v1h-1zM-9 7h2v1h-2zM6 7h1v1h-1z"/><path fill="#0c0c0c" d="M13 -2h1v1h-1zM13 -1h1v1h-1zM13 0h1v1h-1zM-11 4h1v1h-1zM8 4h1v1h-1zM-11 5h1v1h-1zM11 5h2v1h-2zM6 6h1v1h-1zM11 7h1v1h-1zM6 8h1v1h-1zM10 8h1v1h-1z"/><path fill="#0e0e0e" d="M13 -3h1v1h-1zM-10 4h1v1h-1zM9 4h1v1h-1zM12 4h1v1h-1zM-8 5h1v1h-1zM-11 6h1v1h-1zM-10 7h1v1h-1zM7 9h2v1h-2z"/><path fill="#101010" d="M12 3h1v1h-1zM-12 4h1v1h-1zM11 4h1v1h-1zM-12 5h1v1h-1zM-7 7h1v1h-1zM-8 8h1v1h-1zM6 9h1v1h-1z"/><path fill="#121212" d="M12 2h1v1h-1zM-12 3h2v1h-2zM-9 4h1v1h-1zM7 4h1v1h-1zM10 4h1v1h-1zM-7 6h1v1h-1zM-9 8h1v1h-1zM-7 8h1v1h-1zM9 9h1v1h-1z"/><path fill="#141414" d="M-13 3h1v1h-1zM-13 4h1v1h-1zM5 8h1v1h-1zM5 9h1v1h-1z"/><path fill="#161616" d="M12 1h1v1h-1zM-13 2h1v1h-1zM-10 3h1v1h-1zM8 3h1v1h-1zM11 3h1v1h-1zM6 5h1v1h-1zM-12 6h1v1h-1zM-11 7h1v1h-1zM-6 8h1v1h-1z"/><path fill="#181818" d="M-14 2h1v1h-1zM-12 2h1v1h-1zM9 3h2v1h-2zM-8 4h1v1h-1zM-13 5h1v1h-1zM-7 5h1v1h-1zM-6 7h1v1h-1zM5 7h1v1h-1zM-7 9h2v1h-2zM6 10h2v1h-2z"/><path fill="#1a1a1a" d="M12 0h1v1h-1zM-14 1h2v1h-2zM11 2h1v1h-1zM-10 8h1v1h-1zM-8 9h1v1h-1zM5 10h1v1h-1z"/><path fill="#1c1c1c" d="M12 -1h1v1h-1zM-11 2h1v1h-1zM-5 9h1v1h-1zM4 9h1v1h-1zM4 10h1v1h-1zM8 10h1v1h-1z"/><path fill="#1e1e1e" d="M-14 0h1v1h-1zM10 2h1v1h-1zM-9 3h1v1h-1zM7 3h1v1h-1zM-6 6h1v1h-1zM5 6h1v1h-1z"/><path fill="#202020" d="M12 -2h1v1h-1zM-12 1h1v1h-1zM11 1h1v1h-1zM9 2h1v1h-1zM-12 7h1v1h-1zM-5 8h1v1h-1zM4 8h1v1h-1zM-9 9h1v1h-1zM2 10h2v1h-2z"/><path fill="#222222" d="M12 -3h1v1h-1zM-13 0h1v1h-1zM-10 2h1v1h-1zM8 2h1v1h-1zM-8 3h1v1h-1zM-7 4h1v1h-1zM6 4h1v1h-1zM-11 8h1v1h-1zM-4 9h1v1h-1zM3 9h1v1h-1zM-6 10h8v1h-8z"/><path fill="#242424" d="M-14 -1h1v1h-1zM-7 10h1v1h-1zM0 11h6v1h-6z"/><path fill="#262626" d="M12 -4h1v1h-1zM11 0h1v1h-1zM-11 1h1v1h-1zM-5 7h1v1h-1zM4 7h1v1h-1zM-3 9h1v1h-1zM2 9h1v1h-1zM-2 11h2v1h-2zM6 11h1v1h-1z"/><path fill="#282828" d="M10 1h1v1h-1zM-9 2h1v1h-1zM-6 5h1v1h-1zM5 5h1v1h-1zM-10 9h1v1h-1zM-3 11h1v1h-1zM7 11h1v1h-1z"/><path fill="#2a2a2a" d="M12 -5h1v1h-1zM-14 -2h1v1h-1zM-12 0h1v1h-1zM-4 8h1v1h-1zM-2 9h4v1h-4zM-8 10h1v1h-1zM-4 11h1v1h-1z"/><path fill="#2c2c2c" d="M-13 -1h1v1h-1zM11 -1h1v1h-1zM7 2h1v1h-1zM-7 3h1v1h-1zM3 8h1v1h-1zM-5 11h1v1h-1z"/><path fill="#2e2e2e" d="M12 -6h1v1h-1zM-10 1h1v1h-1zM9 1h1v1h-1zM-8 2h1v1h-1zM6 3h1v1h-1zM4 6h1v1h-1z"/><path fill="#303030" d="M-14 -3h1v1h-1zM-5 6h1v1h-1zM-6 11h1v1h-1zM0 12h2v1h-2z"/><path fill="#323232" d="M11 -2h1v1h-1zM10 0h1v1h-1zM-9 10h1v1h-1zM-1 12h1v1h-1zM2 12h2v1h-2z"/><path fill="#343434" d="M-11 0h1v1h-1zM8 1h1v1h-1zM-6 4h1v1h-1zM-3 8h1v1h-1zM-2 12h1v1h-1zM4 12h1v1h-1z"/><path fill="#363636" d="M-9 1h1v1h-1zM-7 2h1v1h-1zM5 4h1v1h-1zM-4 7h1v1h-1zM3 7h1v1h-1zM2 8h1v1h-1zM-7 11h1v1h-1zM-3 12h1v1h-1zM5 12h1v1h-1z"/><path fill="#383838" d="M11 -3h1v1h-1zM-13 -2h1v1h-1zM-12 -1h1v1h-1zM4 5h1v1h-1z"/><path fill="#3a3a3a" d="M-5 5h1v1h-1zM-2 8h1v1h-1zM1 8h1v1h-1zM-4 12h1v1h-1z"/><path fill="#3c3c3c" d="M11 -4h1v1h-1zM10 -1h1v1h-1zM9 0h1v1h-1zM-8 1h1v1h-1zM7 1h1v1h-1zM6 2h1v1h-1zM-1 8h2v1h-2z"/><path fill="#3e3e3e" d="M3 6h1v1h-1zM-8 11h1v1h-1zM-5 12h1v1h-1z"/><path fill="#404040" d="M-10 0h1v1h-1zM-6 3h1v1h-1zM-4 6h1v1h-1z"/><path fill="#424242" d="M11 -5h1v1h-1zM-13 -3h1v1h-1z"/><path fill="#444444" d="M-7 1h1v1h-1zM-3 7h1v1h-1zM2 7h1v1h-1zM0 13h2v1h-2z"/><path fill="#464646" d="M10 -2h1v1h-1zM-11 -1h1v1h-1zM8 0h1v1h-1zM5 3h1v1h-1zM3 5h1v1h-1zM-6 12h1v1h-1zM-1 13h1v1h-1zM2 13h1v1h-1z"/><path fill="#484848" d="M-13 -6h1v1h-1zM-13 -4h1v1h-1zM-12 -2h1v1h-1zM-5 4h1v1h-1zM4 4h1v1h-1zM-2 13h1v1h-1z"/><path fill="#4a4a4a" d="M-13 -5h1v1h-1zM-9 0h1v1h-1zM6 1h1v1h-1zM1 7h1v1h-1z"/><path fill="#4c4c4c" d="M11 -6h1v1h-1zM9 -1h1v1h-1zM-6 2h1v1h-1zM-4 5h1v1h-1zM-2 7h1v1h-1zM-3 13h1v1h-1z"/><path fill="#4e4e4e" d="M10 -3h1v1h-1zM-8 0h1v1h-1zM7 0h1v1h-1zM2 6h1v1h-1zM-1 7h2v1h-2z"/><path fill="#505050" d="M-3 6h1v1h-1z"/><path fill="#525252" d="M5 2h1v1h-1z"/><path fill="#545454" d="M11 -8h1v1h-1zM11 -7h1v1h-1zM10 -4h1v1h-1zM-7 0h1v1h-1z"/><path fill="#565656" d="M-12 -3h1v1h-1zM-10 -1h1v1h-1zM-6 1h1v1h-1zM3 4h1v1h-1zM2 5h1v1h-1z"/><path fill="#585858" d="M6 0h1v1h-1zM1 6h1v1h-1z"/><path fill="#5a5a5a" d="M9 -2h1v1h-1zM8 -1h1v1h-1zM-5 3h1v1h-1zM4 3h1v1h-1zM-4 4h1v1h-1zM-2 6h1v1h-1z"/><path fill="#5c5c5c" d="M-12 -8h1v1h-1zM10 -5h1v1h-1zM-11 -2h1v1h-1zM5 1h1v1h-1zM-3 5h1v1h-1z"/><path fill="#5e5e5e" d="M-12 -7h1v1h-1zM-12 -4h1v1h-1zM-1 6h2v1h-2z"/><path fill="#606060" d="M-12 -6h1v1h-1z"/><path fill="#626262" d="M-12 -5h1v1h-1zM-6 0h1v1h-1zM1 5h1v1h-1z"/><path fill="#646464" d="M-9 -1h1v1h-1zM7 -1h1v1h-1zM2 4h1v1h-1z"/><path fill="#666666" d="M9 -3h1v1h-1zM5 0h1v1h-1zM-2 5h1v1h-1z"/><path fill="#686868" d="M-5 2h1v1h-1zM-3 4h1v1h-1zM0 5h1v1h-1z"/><path fill="#6a6a6a" d="M-8 -1h1v1h-1zM4 2h1v1h-1zM3 3h1v1h-1zM-1 5h1v1h-1z"/><path fill="#6c6c6c" d="M10 -6h1v1h-1zM-4 3h1v1h-1z"/><path fill="#6e6e6e" d="M-11 -3h1v1h-1zM8 -2h1v1h-1zM-7 -1h1v1h-1zM6 -1h1v1h-1zM-5 1h1v1h-1zM1 4h1v1h-1z"/><path fill="#707070" d="M-10 -2h1v1h-1zM4 1h1v1h-1z"/><path fill="#727272" d="M9 -4h1v1h-1zM-5 0h1v1h-1zM2 3h1v1h-1zM-2 4h1v1h-1z"/><path fill="#747474" d="M10 -9h1v1h-1zM4 0h1v1h-1zM-1 4h2v1h-2z"/><path fill="#767676" d="M-11 -9h1v1h-1zM10 -7h1v1h-1zM-3 3h1v1h-1z"/><path fill="#787878" d="M10 -8h1v1h-1zM-11 -7h1v1h-1zM3 2h1v1h-1zM1 3h1v1h-1z"/><path fill="#7a7a7a" d="M-11 -8h1v1h-1zM-11 -6h1v1h-1zM-11 -4h1v1h-1zM-6 -1h1v1h-1zM5 -1h1v1h-1zM-4 2h1v1h-1zM-2 3h1v1h-1z"/><path fill="#7c7c7c" d="M-1 3h2v1h-2z"/><path fill="#7e7e7e" d="M-11 -5h1v1h-1zM9 -5h1v1h-1zM7 -2h1v1h-1zM-4 1h1v1h-1zM3 1h1v1h-1zM-3 2h1v1h-1zM2 2h1v1h-1z"/><path fill="#808080" d="M8 -3h1v1h-1z"/><path fill="#828282" d="M-9 -2h1v1h-1zM-2 2h1v1h-1zM1 2h1v1h-1z"/><path fill="#848484" d="M4 -1h1v1h-1zM-4 0h1v1h-1zM3 0h1v1h-1zM-1 2h2v1h-2z"/><path fill="#868686" d="M-5 -1h1v1h-1zM-3 1h1v1h-1zM2 1h1v1h-1z"/><path fill="#888888" d="M-10 -3h1v1h-1z"/><path fill="#8a8a8a" d="M9 -10h1v1h-1zM-2 1h1v1h-1zM1 1h1v1h-1z"/><path fill="#8c8c8c" d="M-8 -2h1v1h-1zM6 -2h1v1h-1zM-1 1h2v1h-2z"/><path fill="#8e8e8e" d="M-10 -10h1v1h-1zM9 -6h1v1h-1zM2 0h1v1h-1z"/><path fill="#909090" d="M-3 0h1v1h-1z"/><path fill="#929292" d="M8 -4h1v1h-1zM3 -1h1v1h-1z"/><path fill="#949494" d="M9 -9h1v1h-1zM-4 -1h1v1h-1zM-2 0h1v1h-1zM1 0h1v1h-1z"/><path fill="#969696" d="M-10 -9h1v1h-1zM-7 -2h1v1h-1zM-1 0h2v1h-2z"/><path fill="#989898" d="M8 -11h1v1h-1zM9 -7h1v1h-1zM-10 -4h1v1h-1zM7 -3h1v1h-1zM5 -2h1v1h-1z"/><path fill="#9a9a9a" d="M-10 -8h1v1h-1zM9 -8h1v1h-1zM-10 -7h1v1h-1zM-10 -6h1v1h-1z"/><path fill="#9c9c9c" d="M7 -12h1v1h-1zM-9 -11h1v1h-1zM2 -1h1v1h-1z"/><path fill="#9e9e9e" d="M-10 -5h1v1h-1zM-6 -2h1v1h-1z"/><path fill="#a0a0a0" d="M8 -5h1v1h-1zM-9 -3h1v1h-1zM-3 -1h1v1h-1z"/><path fill="#a2a2a2" d="M-8 -12h1v1h-1zM4 -2h1v1h-1zM1 -1h1v1h-1z"/><path fill="#a4a4a4" d="M0 -1h1v1h-1z"/><path fill="#a6a6a6" d="M8 -10h1v1h-1zM-2 -1h2v1h-2z"/><path fill="#a8a8a8" d="M5 -13h1v1h-1zM-9 -10h1v1h-1zM-5 -2h1v1h-1z"/><path fill="#acacac" d="M8 -6h1v1h-1zM6 -3h1v1h-1zM3 -2h1v1h-1z"/><path fill="#aeaeae" d="M7 -4h1v1h-1z"/><path fill="#b0b0b0" d="M6 -12h1v1h-1zM7 -11h1v1h-1zM8 -9h1v1h-1z"/><path fill="#b2b2b2" d="M2 -14h1v1h-1zM-6 -13h1v1h-1zM-8 -11h1v1h-1zM-8 -3h1v1h-1zM-4 -2h1v1h-1z"/><path fill="#b4b4b4" d="M-7 -12h1v1h-1zM-9 -9h1v1h-1zM8 -7h1v1h-1zM2 -2h1v1h-1z"/><path fill="#b6b6b6" d="M4 -13h1v1h-1zM8 -8h1v1h-1z"/><path fill="#b8b8b8" d="M-9 -4h1v1h-1zM-3 -2h1v1h-1zM1 -2h1v1h-1z"/><path fill="#bababa" d="M1 -14h1v1h-1zM5 -3h1v1h-1z"/><path fill="#bcbcbc" d="M-3 -14h1v1h-1zM2 -9h1v1h-1zM-9 -8h1v1h-1zM7 -5h1v1h-1zM-7 -3h1v1h-1zM-2 -2h3v1h-3z"/><path fill="#bebebe" d="M0 -14h1v1h-1zM-5 -13h1v1h-1zM3 -13h1v1h-1zM5 -12h1v1h-1zM7 -10h1v1h-1z"/><path fill="#c0c0c0" d="M-2 -14h2v1h-2zM-8 -10h1v1h-1zM-9 -7h1v1h-1zM-9 -5h1v1h-1z"/><path fill="#c2c2c2" d="M-6 -12h1v1h-1zM-7 -11h1v1h-1zM6 -11h1v1h-1zM3 -9h1v1h-1zM-9 -6h1v1h-1z"/><path fill="#c4c4c4" d="M-3 -9h1v1h-1zM6 -4h1v1h-1zM-6 -3h1v1h-1zM4 -3h1v1h-1z"/><path fill="#c6c6c6" d="M2 -13h1v1h-1zM4 -12h1v1h-1zM1 -9h1v1h-1zM7 -9h1v1h-1zM7 -6h1v1h-1z"/><path fill="#c8c8c8" d="M2 -10h1v1h-1zM-4 -9h1v1h-1zM2 -8h1v1h-1z"/><path fill="#cacaca" d="M-4 -13h1v1h-1zM3 -10h1v1h-1zM3 -8h1v1h-1zM7 -8h1v1h-1zM3 -3h1v1h-1z"/><path fill="#cccccc" d="M3 -12h1v1h-1zM5 -11h1v1h-1zM1 -10h1v1h-1zM6 -10h1v1h-1zM-8 -9h1v1h-1zM-2 -9h1v1h-1zM7 -7h1v1h-1z"/><path fill="#cecece" d="M1 -13h1v1h-1zM-5 -12h1v1h-1zM-6 -11h1v1h-1zM4 -11h1v1h-1zM-7 -10h1v1h-1zM4 -10h1v1h-1zM4 -9h1v1h-1zM-3 -8h1v1h-1zM-8 -4h1v1h-1zM-5 -3h1v1h-1zM2 -3h1v1h-1z"/><path fill="#d0d0d0" d="M3 -11h1v1h-1zM-5 -10h1v1h-1zM-5 -9h1v1h-1zM0 -9h1v1h-1zM1 -8h1v1h-1zM6 -5h1v1h-1z"/><path fill="#d2d2d2" d="M-3 -13h1v1h-1zM0 -13h1v1h-1zM2 -12h1v1h-1zM2 -11h1v1h-1zM-6 -10h1v1h-1zM-4 -10h1v1h-1zM0 -10h1v1h-1zM5 -10h1v1h-1zM-1 -9h1v1h-1zM6 -9h1v1h-1zM-4 -8h1v1h-1zM4 -8h1v1h-1zM5 -4h1v1h-1zM-4 -3h1v1h-1zM1 -3h1v1h-1z"/><path fill="#d4d4d4" d="M-5 -11h1v1h-1zM-3 -10h1v1h-1zM5 -9h1v1h-1zM-2 -8h1v1h-1zM6 -6h1v1h-1zM0 -3h1v1h-1z"/><path fill="#d6d6d6" d="M-2 -13h2v1h-2zM1 -12h1v1h-1zM1 -11h1v1h-1zM-2 -10h2v1h-2zM-6 -9h1v1h-1zM5 -8h2v1h-2zM6 -7h1v1h-1zM-3 -3h3v1h-3z"/><path fill="#d8d8d8" d="M-4 -12h1v1h-1zM-7 -9h1v1h-1zM0 -8h1v1h-1zM5 -7h1v1h-1z"/><path fill="#dadada" d="M-4 -11h1v1h-1zM0 -11h1v1h-1zM-8 -8h1v1h-1zM-1 -8h1v1h-1zM-7 -4h1v1h-1z"/><path fill="#dcdcdc" d="M0 -12h1v1h-1zM-5 -8h1v1h-1zM4 -7h1v1h-1zM5 -6h1v1h-1zM-8 -5h1v1h-1zM5 -5h1v1h-1zM4 -4h1v1h-1z"/><path fill="#dedede" d="M-3 -12h1v1h-1zM-1 -11h1v1h-1z"/><path fill="#e0e0e0" d="M-2 -12h2v1h-2zM-3 -11h2v1h-2zM3 -7h1v1h-1z"/><path fill="#e2e2e2" d="M-8 -7h1v1h-1zM2 -7h1v1h-1zM-8 -6h1v1h-1z"/><path fill="#e4e4e4" d="M-6 -8h1v1h-1zM-6 -4h1v1h-1zM3 -4h1v1h-1z"/><path fill="#e6e6e6" d="M-7 -8h1v1h-1zM4 -6h1v1h-1zM2 -4h1v1h-1z"/><path fill="#e8e8e8" d="M-4 -7h2v1h-2zM1 -7h1v1h-1zM4 -5h1v1h-1z"/><path fill="#eaeaea" d="M-2 -7h1v1h-1zM-5 -4h1v1h-1zM1 -4h1v1h-1z"/><path fill="#ececec" d="M-5 -7h1v1h-1zM-1 -7h2v1h-2zM-7 -5h1v1h-1zM0 -4h1v1h-1z"/><path fill="#eeeeee" d="M-4 -4h4v1h-4z"/><path fill="#f0f0f0" d="M-6 -7h1v1h-1z"/><path fill="#f2f2f2" d="M-7 -7h1v1h-1zM3 -6h1v1h-1zM3 -5h1v1h-1z"/><path fill="#f4f4f4" d="M-7 -6h1v1h-1zM-6 -5h1v1h-1z"/><path fill="#f6f6f6" d="M-6 -6h1v1h-1zM2 -6h1v1h-1zM2 -5h1v1h-1z"/><path fill="#f8f8f8" d="M-5 -6h1v1h-1zM-5 -5h1v1h-1z"/><path fill="#fafafa" d="M1 -6h1v1h-1zM1 -5h1v1h-1z"/><path fill="#fcfcfc" d="M-4 -6h3v1h-3zM0 -6h1v1h-1zM-4 -5h1v1h-1zM0 -5h1v1h-1z"/><path fill="#fefefe" d="M-1 -6h1v1h-1zM-3 -5h3v1h-3z"/></g></g>
<path d="M631.6 1854.9l-4 4.5-5 3.3-5 1.7-13 2.6-4 1.8-4 3.4-10 13.4-8.5 13.2-11.5 23-3 3.9-4 3.5-10 4.9-6 2-5 0.4-9-0.9-11 1-6-1-10-4.5-4-2.6-3-2.9-4.6-6.8-9.1-17-6.3-10.7-6-8.9-4-4.4-3-2-8-3.6-27-17M427.6 1916.3l10.1 7.5 11.9 6.9 12 5.1 12 3.5 10 1.7 30 3 14 2.2 34.1 0.6M588.9 1946.8l10.7-1.4 10-2.2 10-3 12-4.4M427.6 1748.7l3.2-5.9M623.2 1742.8l4.7 8 3.7 8.2M631.6 1801.1l-2.8 7.7-5.3 19-2.7 6-3.4 5-3.8 3.8-4 2.9-14 6.3-5 3.5-4 4.7-7.3 12.8-3.7 5.2-5 5.4-7.8 6.4-2.2 2.3-7.2 12.7-2.8 3.9-2 1.7-3 1.6-9 2.2-8 0.6-8-0.7-7-1.6-5-2.5-4-4.2-8.4-13-10.6-12.9-3-5.3-5.2-11.8-2.5-4-2.3-2.6-3-2.2-3-1.5-15-4-7-3-9-6.1-8-7.5M427.6 1935.3l10 6 10.5 5.5M613 1742.8l5.8 9 4 9 2.7 10 0.6 9-0.6 7-1.6 6-5.2 11-4.5 13-3.4 7-4.2 5.4-5 4.1-5 2.7-13 5.1-4.8 2.7-3.9 3-2.4 3-1.3 3-3 13-1.6 2.6-2 1.9-27 16.4-6 2.2-6 0.6-5-0.7-5-2.1-19-13.8-3-2.7-1.8-2.4-0.8-2-1.2-10-1.1-4-1.5-3-2.9-3-4.7-2.8-5.3-2.2-16.7-3.2-8-2.9-4-2.4-4.4-3.5-3.7-4-2.7-4-2.9-7-1.2-7 1.4-16 0.3-19 1.3-8 2.1-7 3-7 4-7M600.9 1742.8l6.1 8 4.8 9 3 9 1.2 10-0.4 7-1.8 7-8.2 18.3-4 6.7-5 5.3-6 4-7 3-19.3 6.7-17.7 9.5-8 1.9-16 0.6-6-0.4-6-1.7-13.7-7.9-7.3-3.2-10.1-2.8-15.9-3.5-6-1.8-7-4-3-2.7-2.3-3-2.4-5-1.1-6 0.1-4 1.4-10-0.5-13 0.5-8 1.7-8 2.6-7 3.6-7 4.7-7M582.7 1742.8l7.1 6 6.3 8 4.6 9 1.7 5 1 5 0.2 8-1.4 7-4.6 11.3-5 9.1-3.8 4.6-3.9 3-5.3 2.5-8 2.6-11 2.6-19 3.5-9 1-11 0.5-8-0.4-8-1.3-37-8.3-6-2.1-4-2.1-3-2.4-2-2.7-1.7-5.4-0.4-6 0.5-18 1.9-10 2.7-7.1 4-7.1 6-8.1 7.1-7.7M553.9 1770.8l0.4-1-0.6-1-1.3 0-0.7 1 0.4 1 0.5 0.3 1.3-0.3M528.6 1817.8l-11 0.2-24-1-15-3.9-8.1-3.3-2.9-2-2-2-1.8-3-1.4-4-0.9-6 0-5 0.7-4 1.4-3.3 2-2.8 2-1.7 3-1.5 3-0.4 5 1.4 12 6.1 10 2.4 8 0.1 16-2.8 7 0.1 17 4.1 13 1.7 4 1 4.1 2.6 2.5 3 1.7 3 1 4-0.7 4-2.9 4-4.5 3-8.2 2.3-30 3.7" fill="none" stroke="#1a1a1a" stroke-width="0.8" stroke-opacity="0.9"/>
</g>
<use href="#e8" x="529.4" y="1844.6" fill="none" stroke="#111" stroke-width="1.1"/>
<circle cx="529.4" cy="1844.6" r="100.60" fill="none" stroke="#1a1a1a" stroke-width="2.4"/>
<path d="M511.3,1745.0L529.4,1727.4L547.5,1745.0" fill="none" stroke="#1a1a1a" stroke-width="1.7" stroke-linejoin="miter"/>
<path d="M629.4,1833.4 L632.0,1829.0 L633.6,1828.8 L636.0,1829.6 L638.4,1833.4 L638.0,1845.7 L639.5,1863.4 L636.4,1871.0 L632.0,1872.4 L627.8,1868.7" fill="none" stroke="#1a1a1a" stroke-width="1.7" stroke-linejoin="round"/>
<path d="M429.4,1833.4 L426.8,1829.0 L425.2,1828.8 L422.8,1829.6 L420.4,1833.4 L420.8,1845.7 L419.3,1863.4 L422.4,1871.0 L426.8,1872.4 L431.0,1868.7" fill="none" stroke="#1a1a1a" stroke-width="1.7" stroke-linejoin="round"/>
<g clip-path="url(#c17)"><g filter="url(#cm)"><g transform="translate(848.5 1844.6) scale(9.0)" shape-rendering="crispEdges"><path fill="#2e2e2e" d="M-9 6h1v1h-1z"/><path fill="#303030" d="M9 4h1v1h-1z"/><path fill="#323232" d="M8 4h1v1h-1zM-9 5h1v1h-1zM-8 6h1v1h-1z"/><path fill="#363636" d="M-9 7h1v1h-1z"/><path fill="#383838" d="M-8 5h1v1h-1zM8 5h2v1h-2zM-8 7h1v1h-1z"/><path fill="#3a3a3a" d="M-10 6h1v1h-1z"/><path fill="#3c3c3c" d="M9 3h1v1h-1z"/><path fill="#3e3e3e" d="M-10 7h1v1h-1z"/><path fill="#404040" d="M8 3h1v1h-1zM-10 5h1v1h-1z"/><path fill="#424242" d="M10 4h1v1h-1zM-9 8h1v1h-1z"/><path fill="#444444" d="M-9 4h1v1h-1zM8 6h1v1h-1zM-8 8h1v1h-1z"/><path fill="#464646" d="M7 4h1v1h-1zM7 5h1v1h-1z"/><path fill="#484848" d="M10 3h1v1h-1zM-8 4h1v1h-1zM9 6h1v1h-1z"/><path fill="#4a4a4a" d="M10 5h1v1h-1zM-7 6h1v1h-1zM-10 8h1v1h-1z"/><path fill="#4c4c4c" d="M-11 6h1v1h-1zM-7 7h1v1h-1z"/><path fill="#4e4e4e" d="M-10 4h1v1h-1zM7 6h1v1h-1zM-11 7h1v1h-1z"/><path fill="#505050" d="M9 2h1v1h-1zM7 3h1v1h-1zM-7 8h1v1h-1z"/><path fill="#525252" d="M-11 5h1v1h-1zM-7 5h1v1h-1z"/><path fill="#545454" d="M8 2h1v1h-1zM8 7h1v1h-1zM-8 9h1v1h-1z"/><path fill="#565656" d="M-9 9h1v1h-1z"/><path fill="#585858" d="M10 2h1v1h-1zM7 7h1v1h-1zM-11 8h1v1h-1zM-7 9h1v1h-1z"/><path fill="#5a5a5a" d="M-12 6h1v1h-1zM-3 10h1v1h-1zM2 10h1v1h-1z"/><path fill="#5c5c5c" d="M7 2h1v1h-1zM10 6h1v1h-1zM-12 7h1v1h-1zM-2 10h4v1h-4z"/><path fill="#5e5e5e" d="M-9 3h2v1h-2zM-11 4h1v1h-1zM6 4h1v1h-1zM6 5h1v1h-1zM9 7h1v1h-1zM-10 9h1v1h-1zM-4 10h1v1h-1zM3 10h1v1h-1z"/><path fill="#606060" d="M-7 4h1v1h-1zM-12 5h1v1h-1zM-3 11h2v1h-2zM1 11h1v1h-1z"/><path fill="#626262" d="M11 3h1v1h-1zM11 4h1v1h-1zM7 8h1v1h-1zM-6 9h1v1h-1zM4 10h1v1h-1zM-1 11h2v1h-2zM2 11h1v1h-1z"/><path fill="#646464" d="M6 3h1v1h-1zM6 6h1v1h-1zM5 9h2v1h-2zM-6 10h2v1h-2zM5 10h1v1h-1z"/><path fill="#666666" d="M8 1h2v1h-2zM-6 8h1v1h-1zM6 8h1v1h-1zM-7 10h1v1h-1zM-4 11h1v1h-1zM3 11h1v1h-1z"/><path fill="#686868" d="M7 1h1v1h-1zM-10 3h1v1h-1zM6 7h1v1h-1zM8 8h1v1h-1zM-8 10h1v1h-1z"/><path fill="#6a6a6a" d="M10 1h1v1h-1zM11 2h1v1h-1zM11 5h1v1h-1zM-5 9h1v1h-1z"/><path fill="#6c6c6c" d="M-12 4h1v1h-1zM-13 5h1v1h-1zM-6 7h1v1h-1zM-9 10h1v1h-1z"/><path fill="#6e6e6e" d="M6 2h1v1h-1zM-7 3h1v1h-1zM-4 9h1v1h-1zM4 9h1v1h-1zM7 9h1v1h-1zM-5 11h1v1h-1zM4 11h1v1h-1z"/><path fill="#707070" d="M3 9h1v1h-1zM6 10h1v1h-1z"/><path fill="#727272" d="M7 0h1v1h-1zM-6 6h1v1h-1zM-3 9h1v1h-1zM2 9h1v1h-1z"/><path fill="#747474" d="M6 1h1v1h-1zM-11 3h1v1h-1zM-6 11h1v1h-1z"/><path fill="#767676" d="M8 0h1v1h-1zM-13 4h1v1h-1zM1 9h1v1h-1z"/><path fill="#787878" d="M6 0h1v1h-1zM9 0h1v1h-1zM11 1h1v1h-1zM-8 2h1v1h-1zM10 7h1v1h-1zM5 8h1v1h-1zM-2 9h1v1h-1zM0 9h1v1h-1zM-2 12h1v1h-1z"/><path fill="#7a7a7a" d="M7 -1h1v1h-1zM10 0h1v1h-1zM5 5h1v1h-1zM9 8h1v1h-1zM-1 9h1v1h-1zM-7 11h1v1h-1zM-3 12h1v1h-1zM-1 12h3v1h-3z"/><path fill="#7c7c7c" d="M7 -2h1v1h-1zM5 4h1v1h-1zM-6 5h1v1h-1zM-5 8h1v1h-1zM5 11h1v1h-1z"/><path fill="#7e7e7e" d="M6 -1h1v1h-1zM-7 2h1v1h-1zM5 6h1v1h-1zM2 12h1v1h-1z"/><path fill="#808080" d="M7 -3h2v1h-2zM8 -2h1v1h-1zM-9 2h1v1h-1zM11 6h1v1h-1zM5 7h1v1h-1zM8 9h1v1h-1zM-4 12h1v1h-1z"/><path fill="#828282" d="M8 -1h1v1h-1zM11 0h1v1h-1zM-12 3h1v1h-1zM-8 11h1v1h-1z"/><path fill="#848484" d="M9 -1h1v1h-1zM5 3h1v1h-1zM12 3h1v1h-1zM7 10h1v1h-1z"/><path fill="#868686" d="M8 -4h1v1h-1zM9 -3h1v1h-1zM6 -2h1v1h-1zM9 -2h1v1h-1zM10 -1h1v1h-1zM12 2h1v1h-1zM-6 4h1v1h-1zM3 12h1v1h-1z"/><path fill="#888888" d="M7 -4h1v1h-1zM-13 3h1v1h-1zM12 4h1v1h-1zM-5 12h1v1h-1z"/><path fill="#8a8a8a" d="M9 -4h1v1h-1zM10 -2h1v1h-1zM5 2h1v1h-1z"/><path fill="#8c8c8c" d="M6 -3h1v1h-1zM10 -3h1v1h-1zM11 -1h1v1h-1zM-7 1h1v1h-1zM12 1h1v1h-1zM-10 2h1v1h-1zM4 8h1v1h-1z"/><path fill="#8e8e8e" d="M-5 7h1v1h-1zM6 11h1v1h-1z"/><path fill="#909090" d="M10 -4h1v1h-1zM5 1h1v1h-1zM-6 3h1v1h-1zM-6 12h1v1h-1z"/><path fill="#929292" d="M8 -5h2v1h-2zM11 -2h1v1h-1zM12 0h1v1h-1zM-4 8h1v1h-1zM4 12h1v1h-1z"/><path fill="#949494" d="M10 -5h1v1h-1zM11 -3h1v1h-1zM-6 0h1v1h-1zM5 0h1v1h-1zM-8 1h1v1h-1z"/><path fill="#969696" d="M11 -4h1v1h-1zM-6 -1h1v1h-1zM-7 0h1v1h-1zM12 5h1v1h-1zM3 8h1v1h-1z"/><path fill="#989898" d="M11 -5h1v1h-1zM6 -4h1v1h-1zM12 -1h1v1h-1zM-6 1h1v1h-1zM-11 2h1v1h-1zM-6 2h1v1h-1zM10 8h1v1h-1z"/><path fill="#9a9a9a" d="M11 -8h1v1h-1zM10 -6h2v1h-2zM7 -5h1v1h-1zM5 -1h1v1h-1zM-5 6h1v1h-1zM9 9h1v1h-1z"/><path fill="#9c9c9c" d="M11 -7h1v1h-1zM9 -6h1v1h-1zM12 -6h1v1h-1zM12 -2h1v1h-1zM4 7h1v1h-1zM11 7h1v1h-1z"/><path fill="#9e9e9e" d="M12 -5h1v1h-1zM12 -4h1v1h-1zM12 -3h1v1h-1zM-14 2h1v1h-1zM4 5h1v1h-1zM4 6h1v1h-1z"/><path fill="#a0a0a0" d="M10 -7h1v1h-1zM-7 -1h1v1h-1zM-12 2h1v1h-1zM2 8h1v1h-1zM8 10h1v1h-1zM-2 13h2v1h-2z"/><path fill="#a2a2a2" d="M8 -6h1v1h-1zM-13 2h1v1h-1zM4 4h1v1h-1zM-3 8h1v1h-1zM-3 13h1v1h-1zM0 13h1v1h-1z"/><path fill="#a4a4a4" d="M10 -9h1v1h-1zM10 -8h1v1h-1zM-5 5h1v1h-1z"/><path fill="#a6a6a6" d="M5 -2h1v1h-1zM-9 1h1v1h-1zM5 12h1v1h-1zM1 13h1v1h-1z"/><path fill="#a8a8a8" d="M9 -7h1v1h-1zM13 1h1v1h-1zM13 2h1v1h-1zM4 3h1v1h-1zM1 8h1v1h-1z"/><path fill="#aaaaaa" d="M13 -3h1v1h-1zM13 -1h1v1h-1zM13 0h1v1h-1zM7 11h1v1h-1z"/><path fill="#acacac" d="M13 -2h1v1h-1zM-5 -1h1v1h-1zM-5 0h1v1h-1zM-2 8h1v1h-1zM2 13h1v1h-1z"/><path fill="#aeaeae" d="M6 -5h1v1h-1zM-5 4h1v1h-1zM0 8h1v1h-1z"/><path fill="#b0b0b0" d="M7 -6h1v1h-1zM-8 0h1v1h-1zM4 2h1v1h-1zM-4 7h1v1h-1zM-1 8h1v1h-1z"/><path fill="#b2b2b2" d="M9 -10h1v1h-1zM9 -8h1v1h-1zM5 -3h1v1h-1zM3 7h1v1h-1z"/><path fill="#b4b4b4" d="M2 -14h1v1h-1zM8 -7h1v1h-1zM-6 -2h1v1h-1zM-14 1h1v1h-1z"/><path fill="#b6b6b6" d="M9 -9h1v1h-1zM-10 1h1v1h-1zM4 1h1v1h-1z"/><path fill="#bababa" d="M5 -13h1v1h-1zM-5 1h1v1h-1zM-5 3h1v1h-1z"/><path fill="#bcbcbc" d="M7 -12h1v1h-1zM4 0h1v1h-1zM-4 6h1v1h-1zM3 6h1v1h-1z"/><path fill="#bebebe" d="M8 -11h1v1h-1zM5 -4h1v1h-1zM-7 -2h1v1h-1zM-13 1h1v1h-1zM3 5h1v1h-1z"/><path fill="#c0c0c0" d="M-11 1h1v1h-1zM3 4h1v1h-1z"/><path fill="#c2c2c2" d="M8 -8h1v1h-1zM-12 1h1v1h-1zM-5 2h1v1h-1zM-4 5h1v1h-1z"/><path fill="#c4c4c4" d="M4 -13h1v1h-1zM7 -7h1v1h-1zM6 -6h1v1h-1zM4 -1h1v1h-1z"/><path fill="#c6c6c6" d="M1 -14h1v1h-1zM2 7h1v1h-1z"/><path fill="#c8c8c8" d="M-5 -2h1v1h-1zM-8 -1h1v1h-1zM3 3h1v1h-1z"/><path fill="#cacaca" d="M8 -10h1v1h-1zM8 -9h1v1h-1zM-14 0h1v1h-1z"/><path fill="#cccccc" d="M-4 4h1v1h-1zM2 5h1v1h-1zM-3 7h1v1h-1z"/><path fill="#cecece" d="M3 -13h1v1h-1zM2 4h1v1h-1zM2 6h1v1h-1z"/><path fill="#d0d0d0" d="M5 -5h1v1h-1zM-9 0h1v1h-1zM1 7h1v1h-1z"/><path fill="#d2d2d2" d="M6 -12h1v1h-1zM4 -2h1v1h-1z"/><path fill="#d4d4d4" d="M7 -8h1v1h-1zM-4 0h1v1h-1z"/><path fill="#d6d6d6" d="M-4 -1h1v1h-1zM3 2h1v1h-1z"/><path fill="#d8d8d8" d="M7 -11h1v1h-1zM6 -7h1v1h-1zM-2 7h1v1h-1z"/><path fill="#dadada" d="M0 -14h1v1h-1zM1 5h1v1h-1zM-3 6h1v1h-1z"/><path fill="#dcdcdc" d="M2 -13h1v1h-1zM-14 -1h1v1h-1zM-13 0h1v1h-1zM-4 3h1v1h-1zM1 4h1v1h-1zM-3 5h1v1h-1z"/><path fill="#dedede" d="M-8 -2h1v1h-1zM-4 1h1v1h-1zM2 3h1v1h-1zM1 6h1v1h-1zM0 7h1v1h-1z"/><path fill="#e0e0e0" d="M5 -12h1v1h-1zM7 -9h1v1h-1zM5 -6h1v1h-1zM3 1h1v1h-1z"/><path fill="#e2e2e2" d="M-10 0h1v1h-1zM-1 7h1v1h-1z"/><path fill="#e4e4e4" d="M7 -10h1v1h-1zM-6 -3h1v1h-1zM4 -3h1v1h-1zM-12 0h1v1h-1zM-3 4h1v1h-1z"/><path fill="#e6e6e6" d="M4 -12h1v1h-1zM-4 2h1v1h-1z"/><path fill="#e8e8e8" d="M6 -8h1v1h-1zM-11 0h1v1h-1zM3 0h1v1h-1z"/><path fill="#eaeaea" d="M3 -12h1v1h-1zM-7 -3h1v1h-1zM-14 -2h1v1h-1zM-4 -2h1v1h-1z"/><path fill="#ececec" d="M-1 -14h1v1h-1zM-2 6h1v1h-1z"/><path fill="#eeeeee" d="M6 -11h1v1h-1zM5 -7h1v1h-1zM1 3h1v1h-1z"/><path fill="#f0f0f0" d="M1 -13h1v1h-1zM4 -4h1v1h-1zM-14 -3h1v1h-1zM-5 -3h1v1h-1zM-9 -1h1v1h-1zM-2 5h1v1h-1zM0 6h1v1h-1z"/><path fill="#f2f2f2" d="M3 -1h1v1h-1zM2 2h1v1h-1z"/><path fill="#f4f4f4" d="M6 -9h1v1h-1zM-13 -1h1v1h-1zM-3 3h1v1h-1zM0 5h1v1h-1z"/><path fill="#f6f6f6" d="M-8 -12h1v1h-1zM2 -12h1v1h-1zM-2 4h1v1h-1zM0 4h1v1h-1zM-1 6h1v1h-1z"/><path fill="#f8f8f8" d="M-2 -14h1v1h-1zM5 -8h1v1h-1zM4 -5h1v1h-1z"/><path fill="#fafafa" d="M-3 -14h1v1h-1zM6 -10h1v1h-1zM-8 -3h1v1h-1zM-3 0h1v1h-1z"/><path fill="#fcfcfc" d="M3 -11h1v1h-1zM5 -11h1v1h-1zM-3 1h1v1h-1zM0 3h1v1h-1z"/><path fill="#fefefe" d="M-6 -13h7v1h-7zM-7 -12h9v1h-9zM-9 -11h12v1h-12zM4 -11h1v1h-1zM-10 -10h16v1h-16zM-11 -9h17v1h-17zM-12 -8h17v1h-17zM-12 -7h17v1h-17zM-13 -6h18v1h-18zM-13 -5h17v1h-17zM-13 -4h17v1h-17zM-13 -3h5v1h-5zM-4 -3h8v1h-8zM-13 -2h5v1h-5zM-3 -2h7v1h-7zM-12 -1h3v1h-3zM-3 -1h6v1h-6zM-2 0h5v1h-5zM-2 1h5v1h-5zM-3 2h5v1h-5zM-2 3h2v1h-2zM-1 4h1v1h-1zM-1 5h1v1h-1z"/></g></g>
<path d="M949.9 1742.6l0.6 0.4M950.5 1872.4l-2.6-4.8-3.4-3.5-4-2.3-5-1.4-7-0.3-7 1.2-4 1.8-4 3.7-3 4.5-2.2 5.3-1.9 7-0.6 6 0.9 8 4.3 17 1.5 4 1 1.1 2 0.8 4-0.5 7-2.8 8-4.8 5.6-4.8 4.4-4.9 3.8-6.1 2.2-5.4M746.5 1918.7l5 5.2 6.4 4.7 7.6 3.9 8 2.6 9 1.4 8-0.2 3.3-0.7 2.2-1 1.1-1 0.8-2-2.3-26-1.7-9-2.1-7-2.3-5.6-2.6-4.4-2.4-2.5-4-2-4-0.5-5 0.7-6 1.8-5.7 2.5-4.3 2.6-4.9 4.4-4.1 4.8M899.9 1934.6l0.7-1-1.1-0.5-1 0.5-0.7 1 0.7 0.6 1.4-0.6M875.6 1946.6l5-2 3.3-2 2.2-2 0.4-1-0.6-1-5.2-2-8.2-1.7-13 1.8-11-0.9-10 1.4-4-0.4-9-1.9-3 0.2-6 1.7-2 1.2-1.1 1.6 0.5 2 1.8 2 5.5 3M746.5 1748.7l7.4-6.1M933.9 1742.6l8.2 8 8.4 10M950.5 1834.3l-2.5-4.7-4.2-11-2.1-4-3.3-4-4.5-3-5.4-1.2-7 0.9-6.7 3.3-5.3 4.8-2.4 4.2-7.2 25-1.8 16-5.1 30-0.1 5 1 13-0.8 6-1.4 3-2.2 2.1-4.3 1.9-6.7 1.7-21 2.7-18 0.4-8-0.9-9-1.7-5-1.7-4-2.5-3.5-4-2.8-6-4.6-16-7.1-30-2-5.5-2-1.6-3 0.4-19 7.6-23 7.1M909.2 1946.6l9.6-7 17.7-14.9 8-7.7 6-7M746.5 1939.3l17.6 7.3M746.5 1756.2l8-7.1 8.9-6.5M917.4 1742.6l3.4 3 3.5 4 4.1 7 1.9 7 0 4-0.6 3-2 5-3.6 5-14.6 13.9-4 4.6-4 6.1-2.5 5.4-9.6 32-3.4 23-4.9 18-0.5 8-2.2 14-2.3 5-3.2 3-3.4 1.4-14 3-10 0.9-8-0.8-9-1.6-4-1.5-2.8-2.4-2-3-1.3-3-3.3-15-5.6-14.3-2-7.7-0.1-3 0.5-4 4.8-15 0-6-1.6-4-2.2-3-3.4-2.9-3-1.6-3-0.9-4-0.1-3 0.7-3.4 1.8-3.7 4-7.1 12-3 3-4.6 3-5.2 2.1-6 1.6-13 1.8M923.4 1946.6l14.5-12 12.6-12.4M746.5 1764.8l6-6.2 6-5.1 7-4.9 9.8-6M883.8 1742.6l13.7 1.8 4 1.3 4 2.2 3.1 2.7 2.6 4 1.3 4-0.2 5-2.3 6-10 14-4.5 8.8-3.8 12.2-3.2 14.6-6.5 17.4-4.5 19-3.1 9-3.9 6-10 7.8-3 4.3-1.4 5.9-0.4 13-1.2 3-2 2.3-4 2-5-0.3-5-2-2.5-2-1.4-2-1.3-4-0.6-8-0.5-2-1.8-3-7.9-10-2-3.6-1.1-3.4 0-5 2.4-10 0.7-5-0.2-6-1.2-5-1.8-4-2.9-4-3.9-3.7-4-2.6-5-2.2-4-0.7-6 0.3-6 1.5-4 2.2-3.6 3.2-2.7 4-5.4 10-3.3 2.9-5 2-5 1-6 0.4-6-0.5M933.7 1946.6l8.8-7.5 8-7.6M746.5 1778.5l2.9-4.9 3.7-5 8.4-7.8 7.8-5.2 16.2-8.4 7.3-4.6M857.5 1742.6l8.1 15 2.9 3.6 6.8 6.4 2.2 3 2.1 5 1.1 8-0.1 11-4.7 19-4.8 14-3.2 15-1.4 2.4-3 3-2 1.1-3 0.8-3-0.1-3-0.9-3-1.5-4-2.9-5-5-7-9.9-10.3-12-4.8-7-1.3-3-0.9-4 0.5-13-0.3-3-1.9-3-3-1.4-5 0.4-5 2.8-3 3.6-3.5 9.6-2.8 4-4.7 3.4-11 4.7-4 2.6-3.4 3.3-6.6 8.8-3 3-3 1.6-3 0.6-4-0.4-3-1.4M943 1946.6l7.5-6.8M841.5 1742.6l2.4 3 1.9 4 1.1 5-0.1 4-1.3 4-1.6 2-2.4 1.4-3 0.5-3-0.3-18.7-4.6-4.3-1.7-3.4-2.3-2.3-3-0.6-4 1.3-4 2.9-4M769.5 1797.8l-4 0.3-4-0.7-3-1.8-1.7-2-1.1-3-0.2-3 0.6-4 1.4-4 2.4-4 2.6-3 3-2.6 4-2.4 4-1.6 4-0.8 4 0 3 0.9 2.8 2.5 1.3 4-0.2 6-2 7-2.9 4.2-4 3.7-5 2.8-5 1.5" fill="none" stroke="#1a1a1a" stroke-width="0.8" stroke-opacity="0.9"/>
</g>
<use href="#e2" x="848.5" y="1844.6" fill="none" stroke="#111" stroke-width="1.1"/>
<circle cx="848.5" cy="1844.6" r="100.80" fill="none" stroke="#1a1a1a" stroke-width="2.4"/>
<path d="M830.4,1744.8L848.5,1727.2L866.6,1744.8" fill="none" stroke="#1a1a1a" stroke-width="1.7" stroke-linejoin="miter"/>
<path d="M948.7,1833.4 L951.3,1829.0 L952.9,1828.8 L955.3,1829.6 L957.7,1833.4 L957.4,1845.7 L958.8,1863.4 L955.8,1871.1 L951.3,1872.5 L947.1,1868.8" fill="none" stroke="#1a1a1a" stroke-width="1.7" stroke-linejoin="round"/>
<path d="M748.3,1833.4 L745.7,1829.0 L744.1,1828.8 L741.7,1829.6 L739.3,1833.4 L739.6,1845.7 L738.2,1863.4 L741.2,1871.1 L745.7,1872.5 L749.9,1868.8" fill="none" stroke="#1a1a1a" stroke-width="1.7" stroke-linejoin="round"/>
<g clip-path="url(#c18)"><g filter="url(#cm)"><g transform="translate(1152.7 1844.6) scale(9.0)" shape-rendering="crispEdges"><path fill="#000000" d="M7 2h3v1h-3zM-12 3h4v1h-4zM7 3h4v1h-4zM-12 4h5v1h-5zM7 4h4v1h-4zM-12 5h5v1h-5zM7 5h4v1h-4zM-11 6h4v1h-4zM7 6h4v1h-4zM-11 7h5v1h-5zM7 7h4v1h-4zM-10 8h4v1h-4zM7 8h2v1h-2z"/><path fill="#020202" d="M10 2h1v1h-1zM11 5h1v1h-1zM-7 6h1v1h-1zM11 6h1v1h-1zM9 8h1v1h-1zM-8 9h2v1h-2z"/><path fill="#040404" d="M8 1h1v1h-1zM6 8h1v1h-1z"/><path fill="#060606" d="M11 4h1v1h-1zM6 9h2v1h-2z"/><path fill="#080808" d="M9 1h1v1h-1zM-8 3h1v1h-1zM-7 5h1v1h-1zM-12 6h1v1h-1zM6 7h1v1h-1zM11 7h1v1h-1zM-9 9h1v1h-1zM-6 9h1v1h-1zM0 11h1v1h-1z"/><path fill="#0a0a0a" d="M-11 2h1v1h-1zM11 3h1v1h-1zM-6 8h1v1h-1zM10 8h1v1h-1zM5 9h1v1h-1zM8 9h1v1h-1zM-1 11h1v1h-1zM1 11h1v1h-1z"/><path fill="#0c0c0c" d="M-13 4h1v1h-1zM6 4h1v1h-1zM6 5h1v1h-1zM12 5h1v1h-1zM4 10h2v1h-2zM-2 11h1v1h-1zM2 11h1v1h-1z"/><path fill="#0e0e0e" d="M10 1h1v1h-1zM-12 2h1v1h-1zM-10 2h1v1h-1zM11 2h1v1h-1zM-13 3h1v1h-1zM-7 4h1v1h-1zM12 4h1v1h-1zM6 6h1v1h-1zM5 8h1v1h-1zM-6 10h1v1h-1zM6 10h1v1h-1z"/><path fill="#101010" d="M13 -3h1v1h-1zM7 1h1v1h-1zM13 1h1v1h-1zM13 2h1v1h-1zM12 3h1v1h-1zM-7 10h1v1h-1zM-5 10h1v1h-1zM-1 10h2v1h-2zM3 10h1v1h-1zM-3 11h1v1h-1zM3 11h1v1h-1z"/><path fill="#121212" d="M13 -2h1v1h-1zM13 -1h1v1h-1zM13 0h1v1h-1zM12 2h1v1h-1zM-6 7h1v1h-1zM-11 8h1v1h-1zM4 9h1v1h-1zM9 9h1v1h-1zM-4 10h3v1h-3zM1 10h2v1h-2zM4 11h1v1h-1z"/><path fill="#141414" d="M11 1h2v1h-2zM-13 5h1v1h-1zM-5 9h1v1h-1zM7 10h1v1h-1zM-4 11h1v1h-1zM0 12h1v1h-1z"/><path fill="#161616" d="M-9 2h1v1h-1zM6 3h1v1h-1zM-10 9h1v1h-1zM-8 10h1v1h-1zM-1 12h1v1h-1zM1 12h1v1h-1z"/><path fill="#181818" d="M12 0h1v1h-1zM-13 2h1v1h-1zM-12 7h1v1h-1zM5 7h1v1h-1zM-5 11h1v1h-1zM5 11h1v1h-1z"/><path fill="#1a1a1a" d="M12 -1h1v1h-1zM-2 12h1v1h-1zM2 12h1v1h-1z"/><path fill="#1c1c1c" d="M11 0h1v1h-1zM-7 3h1v1h-1zM-6 6h1v1h-1zM8 10h1v1h-1z"/><path fill="#1e1e1e" d="M12 -2h1v1h-1zM10 0h1v1h-1zM5 6h1v1h-1zM-6 11h1v1h-1zM6 11h1v1h-1zM-3 12h1v1h-1zM3 12h1v1h-1z"/><path fill="#202020" d="M12 -3h1v1h-1zM9 0h1v1h-1zM4 8h1v1h-1zM-4 9h1v1h-1zM3 9h1v1h-1z"/><path fill="#222222" d="M12 -4h1v1h-1zM11 -1h1v1h-1zM8 0h1v1h-1zM-12 1h1v1h-1zM-8 2h1v1h-1zM-6 5h1v1h-1zM5 5h1v1h-1zM-5 8h1v1h-1zM-9 10h1v1h-1z"/><path fill="#242424" d="M12 -5h1v1h-1zM-11 1h1v1h-1zM4 12h1v1h-1z"/><path fill="#262626" d="M12 -6h1v1h-1zM11 -2h1v1h-1zM7 0h1v1h-1zM-14 2h1v1h-1zM6 2h1v1h-1zM7 11h1v1h-1zM-4 12h1v1h-1z"/><path fill="#282828" d="M10 -1h1v1h-1zM-13 1h1v1h-1zM-7 11h1v1h-1z"/><path fill="#2a2a2a" d="M11 -3h1v1h-1zM-3 9h1v1h-1z"/><path fill="#2c2c2c" d="M-10 1h1v1h-1zM2 9h1v1h-1zM5 12h1v1h-1z"/><path fill="#2e2e2e" d="M11 -4h1v1h-1zM10 -2h1v1h-1zM0 13h1v1h-1z"/><path fill="#303030" d="M9 -1h1v1h-1zM-14 1h1v1h-1zM6 1h1v1h-1zM-6 4h1v1h-1zM-5 7h1v1h-1zM-5 12h1v1h-1zM-1 13h1v1h-1zM1 13h1v1h-1z"/><path fill="#323232" d="M10 -3h1v1h-1zM-7 2h1v1h-1zM5 4h1v1h-1zM-2 9h4v1h-4z"/><path fill="#343434" d="M9 -3h1v1h-1zM9 -2h1v1h-1zM4 7h1v1h-1zM-8 11h1v1h-1zM-2 13h1v1h-1zM2 13h1v1h-1z"/><path fill="#363636" d="M11 -5h1v1h-1zM10 -4h1v1h-1zM7 -1h2v1h-2zM-9 1h1v1h-1z"/><path fill="#383838" d="M11 -8h1v1h-1zM8 -3h1v1h-1zM8 -2h1v1h-1zM-13 0h1v1h-1zM6 0h1v1h-1z"/><path fill="#3a3a3a" d="M9 -4h1v1h-1zM-12 0h1v1h-1zM-6 12h1v1h-1z"/><path fill="#3c3c3c" d="M8 -4h1v1h-1zM7 -2h1v1h-1zM-14 0h1v1h-1zM-5 6h1v1h-1zM-4 8h1v1h-1zM-3 13h1v1h-1z"/><path fill="#3e3e3e" d="M11 -6h1v1h-1zM7 -3h1v1h-1zM3 8h1v1h-1z"/><path fill="#404040" d="M11 -7h1v1h-1zM6 -1h1v1h-1zM-11 0h1v1h-1z"/><path fill="#424242" d="M10 -5h1v1h-1zM-8 1h1v1h-1zM-6 3h1v1h-1zM4 6h1v1h-1z"/><path fill="#444444" d="M7 -4h1v1h-1zM-5 5h1v1h-1z"/><path fill="#464646" d="M10 -9h1v1h-1zM5 3h1v1h-1z"/><path fill="#484848" d="M-14 -1h1v1h-1z"/><path fill="#4a4a4a" d="M9 -5h1v1h-1zM-13 -1h1v1h-1zM-10 0h1v1h-1z"/><path fill="#4c4c4c" d="M8 -5h1v1h-1z"/><path fill="#4e4e4e" d="M6 -2h1v1h-1zM-12 -1h1v1h-1zM4 5h1v1h-1z"/><path fill="#525252" d="M9 -10h1v1h-1zM10 -8h1v1h-1zM10 -6h1v1h-1zM7 -5h1v1h-1z"/><path fill="#545454" d="M-14 -2h1v1h-1zM-7 1h1v1h-1zM-3 8h1v1h-1z"/><path fill="#565656" d="M6 -3h1v1h-1zM5 2h1v1h-1z"/><path fill="#585858" d="M10 -7h1v1h-1zM-13 -2h1v1h-1zM-11 -1h1v1h-1zM-9 0h1v1h-1zM5 1h1v1h-1zM-5 4h1v1h-1zM-4 7h1v1h-1zM2 8h1v1h-1z"/><path fill="#5a5a5a" d="M5 0h1v1h-1zM-6 2h1v1h-1z"/><path fill="#5c5c5c" d="M6 -4h1v1h-1zM-14 -3h1v1h-1z"/><path fill="#5e5e5e" d="M8 -11h1v1h-1zM8 -6h2v1h-2zM3 7h1v1h-1z"/><path fill="#606060" d="M9 -9h1v1h-1zM-12 -2h1v1h-1zM4 4h1v1h-1z"/><path fill="#626262" d="M7 -6h1v1h-1zM5 -1h1v1h-1zM-2 8h1v1h-1z"/><path fill="#646464" d="M7 -12h1v1h-1zM-13 -3h1v1h-1zM1 8h1v1h-1z"/><path fill="#666666" d="M9 -8h1v1h-1zM-10 -1h1v1h-1zM-8 0h1v1h-1zM-4 6h1v1h-1zM-1 8h2v1h-2z"/><path fill="#686868" d="M9 -7h1v1h-1zM6 -5h1v1h-1z"/><path fill="#6a6a6a" d="M8 -7h1v1h-1zM-11 -2h1v1h-1z"/><path fill="#6c6c6c" d="M-13 -4h1v1h-1z"/><path fill="#6e6e6e" d="M8 -10h1v1h-1zM7 -7h1v1h-1zM-12 -3h1v1h-1z"/><path fill="#707070" d="M-13 -6h1v1h-1zM-13 -5h1v1h-1z"/><path fill="#727272" d="M8 -8h1v1h-1zM6 -6h1v1h-1zM-6 1h1v1h-1zM-4 5h1v1h-1zM3 6h1v1h-1z"/><path fill="#747474" d="M8 -9h1v1h-1zM-12 -8h1v1h-1zM5 -2h1v1h-1zM-9 -1h1v1h-1zM-7 0h1v1h-1z"/><path fill="#767676" d="M5 -13h1v1h-1zM-5 3h1v1h-1zM4 3h1v1h-1z"/><path fill="#787878" d="M-12 -4h1v1h-1zM-10 -2h1v1h-1z"/><path fill="#7a7a7a" d="M6 -7h1v1h-1zM-11 -3h1v1h-1z"/><path fill="#7c7c7c" d="M7 -11h1v1h-1zM-11 -9h1v1h-1zM7 -8h1v1h-1zM-12 -7h1v1h-1zM-3 7h1v1h-1z"/><path fill="#7e7e7e" d="M-8 -12h1v1h-1z"/><path fill="#808080" d="M6 -12h1v1h-1zM-10 -10h1v1h-1zM-12 -6h1v1h-1zM-12 -5h1v1h-1z"/><path fill="#828282" d="M-9 -11h1v1h-1zM-8 -1h1v1h-1zM3 5h1v1h-1z"/><path fill="#848484" d="M2 -14h1v1h-1zM-10 -3h1v1h-1zM4 0h1v1h-1zM4 1h1v1h-1zM4 2h1v1h-1zM2 7h1v1h-1z"/><path fill="#868686" d="M7 -10h1v1h-1zM7 -9h1v1h-1zM-11 -8h1v1h-1zM-11 -4h1v1h-1zM5 -3h1v1h-1zM-9 -2h1v1h-1zM-6 0h1v1h-1z"/><path fill="#888888" d="M-4 4h1v1h-1z"/><path fill="#8a8a8a" d="M-6 -13h1v1h-1zM6 -8h1v1h-1z"/><path fill="#8c8c8c" d="M4 -13h1v1h-1zM-11 -7h1v1h-1zM4 -1h1v1h-1z"/><path fill="#8e8e8e" d="M-11 -5h1v1h-1zM5 -4h1v1h-1zM-7 -1h1v1h-1z"/><path fill="#909090" d="M1 -14h1v1h-1zM-10 -9h1v1h-1zM-11 -6h1v1h-1zM5 -6h1v1h-1zM-10 -4h1v1h-1zM-9 -3h1v1h-1zM-5 2h1v1h-1zM-2 7h1v1h-1z"/><path fill="#929292" d="M5 -5h1v1h-1zM-8 -2h1v1h-1z"/><path fill="#949494" d="M-3 -14h1v1h-1zM-7 -12h1v1h-1zM-9 -10h1v1h-1zM5 -7h1v1h-1zM3 4h1v1h-1zM1 7h1v1h-1z"/><path fill="#969696" d="M-8 -11h1v1h-1zM-3 6h1v1h-1z"/><path fill="#989898" d="M6 -11h1v1h-1zM6 -9h1v1h-1zM-10 -8h1v1h-1zM-10 -5h1v1h-1zM-6 -1h1v1h-1zM-5 1h1v1h-1z"/><path fill="#9a9a9a" d="M0 -14h1v1h-1zM5 -12h1v1h-1zM-9 -4h1v1h-1zM-5 0h1v1h-1zM-1 7h2v1h-2z"/><path fill="#9c9c9c" d="M-2 -14h1v1h-1zM-10 -6h1v1h-1zM-8 -3h1v1h-1z"/><path fill="#9e9e9e" d="M-1 -14h1v1h-1zM-5 -13h1v1h-1zM3 -13h1v1h-1zM5 -8h1v1h-1zM-10 -7h1v1h-1zM-7 -2h1v1h-1zM2 6h1v1h-1z"/><path fill="#a0a0a0" d="M6 -10h1v1h-1z"/><path fill="#a2a2a2" d="M-9 -9h1v1h-1z"/><path fill="#a4a4a4" d="M-9 -5h1v1h-1zM4 -2h1v1h-1zM-5 -1h1v1h-1zM3 3h1v1h-1z"/><path fill="#a6a6a6" d="M-6 -12h1v1h-1zM-8 -10h1v1h-1zM-8 -4h1v1h-1zM-4 3h1v1h-1z"/><path fill="#a8a8a8" d="M-7 -11h1v1h-1z"/><path fill="#aaaaaa" d="M5 -9h1v1h-1zM-9 -8h1v1h-1zM-9 -6h1v1h-1zM-7 -3h1v1h-1zM-6 -2h1v1h-1z"/><path fill="#acacac" d="M2 -13h1v1h-1zM4 -12h1v1h-1zM-3 5h1v1h-1z"/><path fill="#aeaeae" d="M5 -11h1v1h-1zM-9 -7h1v1h-1zM3 0h1v1h-1zM3 1h1v1h-1zM3 2h1v1h-1z"/><path fill="#b0b0b0" d="M-4 -13h1v1h-1zM-8 -9h1v1h-1zM-8 -5h1v1h-1z"/><path fill="#b4b4b4" d="M-7 -10h1v1h-1zM5 -10h1v1h-1zM2 5h1v1h-1zM-2 6h1v1h-1z"/><path fill="#b6b6b6" d="M4 -8h1v1h-1zM4 -7h1v1h-1zM-7 -4h1v1h-1zM-5 -2h1v1h-1zM3 -1h1v1h-1zM-4 0h1v1h-1z"/><path fill="#b8b8b8" d="M1 -13h1v1h-1zM-6 -11h1v1h-1zM-8 -8h1v1h-1zM1 6h1v1h-1z"/><path fill="#bababa" d="M-5 -12h1v1h-1zM3 -12h1v1h-1zM-7 -9h1v1h-1zM-8 -6h1v1h-1zM4 -6h1v1h-1zM-6 -3h1v1h-1zM-4 -1h1v1h-1zM-4 1h1v1h-1zM-4 2h1v1h-1z"/><path fill="#bcbcbc" d="M-3 -13h1v1h-1zM-6 -10h1v1h-1zM4 -9h1v1h-1zM-8 -7h1v1h-1z"/><path fill="#bebebe" d="M4 -11h1v1h-1zM-6 -9h1v1h-1zM-3 4h1v1h-1zM-1 6h1v1h-1z"/><path fill="#c0c0c0" d="M4 -10h1v1h-1zM-7 -5h1v1h-1zM4 -3h1v1h-1zM0 6h1v1h-1z"/><path fill="#c2c2c2" d="M0 -13h1v1h-1zM-7 -8h1v1h-1z"/><path fill="#c4c4c4" d="M-2 -13h1v1h-1zM4 -5h1v1h-1zM2 4h1v1h-1z"/><path fill="#c6c6c6" d="M-1 -13h1v1h-1zM-5 -11h1v1h-1zM-5 -9h1v1h-1zM-6 -8h1v1h-1zM-7 -6h1v1h-1zM-6 -4h1v1h-1z"/><path fill="#c8c8c8" d="M2 -12h1v1h-1zM-5 -10h1v1h-1zM-7 -7h1v1h-1z"/><path fill="#cacaca" d="M-4 -12h1v1h-1zM3 -11h1v1h-1zM4 -4h1v1h-1zM-5 -3h1v1h-1zM-4 -2h1v1h-1zM3 -2h1v1h-1z"/><path fill="#cccccc" d="M3 -9h1v1h-1zM-5 -8h1v1h-1zM3 -8h1v1h-1zM-6 -5h1v1h-1zM-3 3h1v1h-1zM2 3h1v1h-1z"/><path fill="#cecece" d="M3 -10h1v1h-1zM-6 -7h1v1h-1zM-3 0h1v1h-1z"/><path fill="#d0d0d0" d="M-6 -6h1v1h-1zM2 0h1v1h-1zM2 1h1v1h-1zM2 2h1v1h-1zM-2 5h1v1h-1z"/><path fill="#d2d2d2" d="M-4 -9h1v1h-1zM-3 -1h1v1h-1zM-3 1h1v1h-1zM-3 2h1v1h-1zM1 5h1v1h-1z"/><path fill="#d4d4d4" d="M1 -12h1v1h-1zM-4 -8h1v1h-1zM-5 -7h1v1h-1zM3 -7h1v1h-1z"/><path fill="#d6d6d6" d="M2 -11h1v1h-1zM-5 -4h1v1h-1zM2 -1h1v1h-1zM-1 5h2v1h-2z"/><path fill="#d8d8d8" d="M-4 -11h1v1h-1zM-4 -10h1v1h-1zM-5 -6h1v1h-1z"/><path fill="#dadada" d="M-3 -12h1v1h-1zM2 -10h1v1h-1zM2 -9h1v1h-1zM-4 -7h1v1h-1zM-5 -5h1v1h-1zM-4 -3h1v1h-1z"/><path fill="#dcdcdc" d="M2 -8h1v1h-1zM-3 -2h1v1h-1z"/><path fill="#dedede" d="M0 -12h1v1h-1zM-3 -9h1v1h-1zM-3 -8h1v1h-1zM3 -6h1v1h-1z"/><path fill="#e0e0e0" d="M-2 -12h1v1h-1zM-4 -6h1v1h-1zM2 -2h1v1h-1zM-2 0h1v1h-1zM-2 4h1v1h-1zM1 4h1v1h-1z"/><path fill="#e2e2e2" d="M-1 -12h1v1h-1zM1 -11h1v1h-1zM3 -3h1v1h-1zM-2 1h1v1h-1zM-2 2h1v1h-1zM-2 3h1v1h-1zM1 3h1v1h-1zM0 4h1v1h-1z"/><path fill="#e4e4e4" d="M-3 -7h1v1h-1zM2 -7h1v1h-1zM-4 -4h1v1h-1zM-2 -1h1v1h-1zM1 0h1v1h-1zM1 1h1v1h-1zM1 2h1v1h-1zM-1 4h1v1h-1z"/><path fill="#e6e6e6" d="M-3 -10h1v1h-1zM1 -10h1v1h-1zM1 -9h1v1h-1zM-4 -5h1v1h-1zM3 -5h1v1h-1z"/><path fill="#e8e8e8" d="M-3 -11h1v1h-1zM-2 -8h1v1h-1zM1 -8h1v1h-1zM1 -1h1v1h-1zM-1 2h1v1h-1zM0 3h1v1h-1z"/><path fill="#eaeaea" d="M-2 -9h1v1h-1zM-3 -3h1v1h-1zM-2 -2h1v1h-1zM-1 1h2v1h-2zM0 2h1v1h-1zM-1 3h1v1h-1z"/><path fill="#ececec" d="M0 -11h1v1h-1zM-2 -7h1v1h-1zM1 -7h1v1h-1zM-3 -6h1v1h-1zM2 -6h1v1h-1zM3 -4h1v1h-1zM2 -3h1v1h-1zM1 -2h1v1h-1zM-1 0h2v1h-2z"/><path fill="#eeeeee" d="M0 -10h1v1h-1zM0 -9h1v1h-1zM-1 -8h2v1h-2zM-1 -1h1v1h-1z"/><path fill="#f0f0f0" d="M-2 -11h2v1h-2zM-2 -10h1v1h-1zM-1 -9h1v1h-1zM-1 -7h2v1h-2zM1 -6h1v1h-1zM-3 -5h1v1h-1zM-3 -4h1v1h-1zM1 -3h1v1h-1zM0 -1h1v1h-1z"/><path fill="#f2f2f2" d="M-1 -10h1v1h-1zM-2 -6h1v1h-1zM2 -5h1v1h-1zM2 -4h1v1h-1zM-1 -2h2v1h-2z"/><path fill="#f4f4f4" d="M-1 -6h2v1h-2zM1 -5h1v1h-1zM1 -4h1v1h-1zM-2 -3h1v1h-1zM0 -3h1v1h-1z"/><path fill="#f6f6f6" d="M-2 -5h1v1h-1zM0 -5h1v1h-1zM0 -4h1v1h-1zM-1 -3h1v1h-1z"/><path fill="#f8f8f8" d="M-1 -5h1v1h-1zM-2 -4h2v1h-2z"/></g></g>
<path d="M1247.4 1742.4l8.1 9.3M1236.6 1916.4l6.9-2.9 3-2.2 2.7-2.9 2-3 1.1-3 0.5-3-0.2-3-1.7-5-5.8-9-0.4-2 0-8-0.8-3-1.5-3-2.9-2.9-3-1.6-4-1.1-4 0-3 0.8-3 1.8-2 2.1-1.8 2.9-1.5 4-1.2 5-0.4 5 0.2 4 1.3 5 4.2 9 2.5 10 1.7 3.6 2 1.8 2 0.8 3 0.3 4.1-0.5M1050.5 1893.5l9.2 17.9 3.9 5 4.9 4.4 7 3.9 7 1.9 6-0.3 2.1-0.9 1.9-1.7 1.5-4.3-0.3-7-3.1-12-1.3-10-1.5-4-2.3-3.5-3-2.7-5-2.8-7-3.1-6-1.7-4-0.4-4 0.6-3.5 1.6-2.5 2.3M1050.5 1743.6l1.5-1.2M1236.7 1742.4l10.1 12 8.7 13M1255.5 1827.7l-2.1 4.7-2.5 4-2.6 3-3.9 3-4.9 2.5-5 1.6-4 0.6-7 0.2-3 0.6-2 1.1-2 1.9-3 5.7-4 14.8-9 22.4-2.2 12.6-1.3 4-2.5 5-5 7.3-5 4.4-6 2.8-9 2-6 0.3-10-0.5-11 0.4-6-0.3-10-2.2-6-2.8-5-4.7-4.5-7.7-2.2-6-4.8-17-6.5-16.3-3-5-3-2.3-4-1.9-16-5.6-12-3.4-9-1.2M1050.5 1921.2l8 7.9 9 6.7 10 5.6 13.8 6M1223.5 1947.4l18.7-9 13.3-7.9M1050.5 1758.9l8.5-8.5 9.1-8M1225 1742.4l5 6 4.1 6 9.3 17 2.6 6 1.5 5 0.6 4-0.3 4-1.8 4-3.5 2.9-5 1.4-10 0.2-4 0.9-4 2.5-4 5.2-3.3 7.9-2.8 14-4.5 11-1.1 4-0.8 6-0.6 14-1.6 7-7.9 19-4 14-2.3 6-4 6-5.1 4-4 1.6-6 1.2-7 0.5-10 0-14-1.1-5-1.4-4-1.8-4-3.5-2.9-4.5-1.8-5-2.3-11-1.3-4-7.3-13-5.5-12-3.9-5.5-3-2.6-4-2.4-20-8.3-21-10.8M1050.5 1935l8.1 6.4 9 6M1254.1 1947.4l1.4-0.7M1211.5 1742.4l4.4 5 3.5 6 1.9 6 0.1 6-0.7 3-1.5 3-9.6 11-2.1 3.8-1.1 3.2-0.8 4-1.4 16-2.1 14-2 6-5.2 11-1.4 5-0.4 5 0.2 14-0.5 4-1.4 5-10.2 29-2.4 5-2.3 3.2-3 2.5-4 1.5-7 1.3-8 0.4-8-0.4-8-1.4-5-2-3-2.4-2-2.9-1.7-3.8-4.6-15-10.7-18.1-4.5-13.9-2.5-5-4-3.8-13-7.2-9.5-7-19.5-19-3.2-4-2.1-4-1.6-7 0.4-7 2-8 3.8-9 4.8-8 6.1-8 8.4-9 8.8-8M1050.5 1945.6l2.5 1.8M1191.2 1742.4l5.5 4 3.8 3.6 2.4 3.4 0.9 3-1 4-3.7 6-2.4 5-2.2 9-0.1 9 2.6 21-0.6 9-2.3 6-7.6 12-2.4 6-0.9 6 0.3 14-0.5 6-3.8 15-3.7 10.4-3.5 5.6-4.5 3.8-6 2.1-8 0.8-6.8-0.7-5.2-1.5-4.2-2.5-3.8-4.3-2.5-4.7-4.9-13-7.3-14-0.4-6 1.6-14-0.3-3-1-3-3.9-5-11.3-8.5-5.4-5.5-14.7-21-2.3-4-1.6-4-0.7-4 0.1-5 1-4 2.2-5 15.6-22 9.4-10M1158.3 1742.4l3.5 2 3.8 3 2.6 3 2.1 4 1.2 5 0.1 11 1 5 2.7 6 8.2 13.7 4.7 15.3 0.9 6-0.6 2.1-2 2.8-8.2 7.1-2.8 3-2.6 4-2.2 5-1.5 6-0.6 5 0.6 15-0.4 5-1.3 9-1.7 5-1.3 1.4-2 0.9-2 0.1-8-1.2-7 2.2-2 0.2-2.4-0.6-1.6-1.5-1-2.5-1-6-0.8-12 1.8-17-0.4-5-1-4-1.7-4-2.5-4-13-16-2.3-5-0.9-5 0.4-5 1.4-4 3.8-6 7.3-10 2.4-5 0.5-4-0.7-3-6.3-10.7-1.3-5.3 0.4-3 1.6-3 3.2-3 3.7-2" fill="none" stroke="#1a1a1a" stroke-width="0.8" stroke-opacity="0.9"/>
</g>
<use href="#e9" x="1152.7" y="1844.6" fill="none" stroke="#111" stroke-width="1.1"/>
<circle cx="1152.7" cy="1844.6" r="101.00" fill="none" stroke="#1a1a1a" stroke-width="2.4"/>
<path d="M1134.5,1744.6L1152.7,1726.9L1170.9,1744.6" fill="none" stroke="#1a1a1a" stroke-width="1.7" stroke-linejoin="miter"/>
<path d="M1253.1,1833.4 L1255.7,1828.9 L1257.3,1828.8 L1259.7,1829.5 L1262.2,1833.4 L1261.8,1845.7 L1263.2,1863.4 L1260.2,1871.1 L1255.7,1872.6 L1251.5,1868.8" fill="none" stroke="#1a1a1a" stroke-width="1.7" stroke-linejoin="round"/>
<path d="M1052.3,1833.4 L1049.7,1828.9 L1048.1,1828.8 L1045.7,1829.5 L1043.2,1833.4 L1043.6,1845.7 L1042.2,1863.4 L1045.2,1871.1 L1049.7,1872.6 L1053.9,1868.8" fill="none" stroke="#1a1a1a" stroke-width="1.7" stroke-linejoin="round"/>
</svg></body></html>
